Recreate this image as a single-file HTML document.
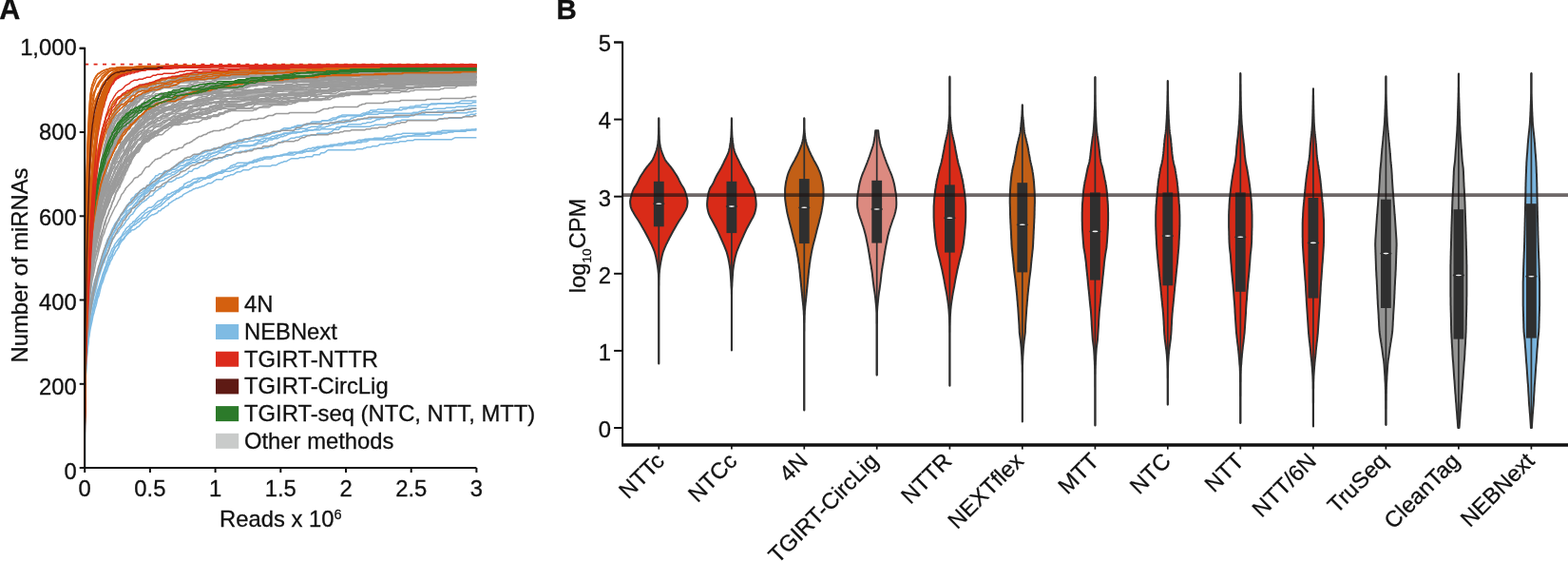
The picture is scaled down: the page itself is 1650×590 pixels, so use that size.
<!DOCTYPE html>
<html lang="en"><head><meta charset="utf-8"><title>Figure</title>
<style>
html,body{margin:0;padding:0;background:#fff;}
body{width:1650px;height:590px;overflow:hidden;}
svg{display:block;}
svg text{font-family:"Liberation Sans", Arial, Helvetica, sans-serif;fill:#111;stroke:#111;stroke-width:0.3px;}
</style></head><body>
<svg width="1650" height="590" viewBox="0 0 1650 590">
<rect width="1650" height="590" fill="#ffffff"/>
<g id="panelA">
<text x="-0.8" y="20.4" font-size="30.5" text-anchor="start" font-weight="bold" >A</text>
<g id="curvesA" fill="none" stroke-linejoin="round"><g stroke="#7fbbe3" stroke-width="1.5">
<path d="M89.2 490.7L89.3 440.7L89.3 435.7L89.4 430.7L89.5 425.7L89.5 420.7L89.6 415.7L89.7 410.7L89.9 405.7L90.1 399.7L90.3 394.7L90.6 389.7L90.8 384.7L91.3 377.7L91.7 372.7L92.3 366.7L92.9 361.7L93.4 356.7L94.2 351.7L94.9 346.7L96.0 341.7L96.9 337.7L98.0 331.7L99.0 328.7L99.9 324.7L100.9 321.7L101.9 317.7L102.8 313.7L103.8 311.7L104.8 307.7L105.7 303.7L106.7 299.7L108.1 296.7L109.6 291.7L110.6 288.7L111.5 286.7L112.5 284.7L113.5 281.7L114.5 278.7L115.4 277.7L115.8 275.7L117.0 273.7L118.2 271.7L118.3 270.7L119.3 268.7L120.3 267.7L121.2 265.7L122.2 263.7L123.2 262.7L123.6 261.7L125.1 259.7L125.1 258.7L126.7 255.7L128.0 253.7L129.0 252.7L130.1 251.7L130.9 250.7L131.9 248.7L132.8 247.7L133.7 246.7L134.8 245.7L135.7 244.7L137.7 243.7L137.7 242.7L139.6 241.7H140.9L142.5 240.7L143.5 239.7L144.3 238.7H145.2L146.8 237.7L147.3 236.7L148.3 235.7L149.3 234.7L151.2 232.7L153.1 231.7L154.6 230.7L156.0 228.7L157.5 227.7L158.9 226.7L160.5 225.7H162.0L163.6 224.7L165.7 223.7L166.9 221.7H168.7L170.3 219.7L172.5 218.7L173.5 217.7L175.4 216.7L177.3 215.7L177.5 213.7H178.6L180.2 212.7L181.4 211.7L183.1 210.7L185.1 209.7L185.4 208.7H187.3L188.9 207.7L189.9 206.7H191.2L192.8 204.7L194.7 203.7L196.7 202.7L198.6 201.7L199.6 200.7H200.9L202.5 199.7L203.4 198.7H204.8L206.4 197.7H208.6L210.2 196.7H211.5L213.1 195.7H214.4L216.0 194.7L218.0 193.7L219.0 192.7H222.2L223.8 191.7L224.7 190.7L226.7 189.7L227.6 188.7H233.8L235.4 186.7L236.8 185.7H238.6L240.2 184.7H241.5L243.1 183.7H245.4L247.0 182.7L247.9 181.7L250.0 180.7H253.1L254.7 179.7L255.7 178.7H261.8L263.4 177.7L265.4 176.7L266.3 175.7H271.5L273.1 174.7H285.0L286.6 173.7H290.8L292.4 172.7L293.4 171.7H294.7L296.3 170.7H297.6L299.2 169.7H301.5L303.1 168.7L305.0 167.7L307.0 166.7H314.1L315.7 165.7H320.8L322.4 164.7H328.6L330.2 162.7H336.3L337.9 160.7H341.2L342.8 159.7L343.7 158.7L345.7 157.7H374.0L375.6 156.7H381.8L383.4 155.7H384.7L386.3 154.7H390.5L392.1 153.7H397.3L398.9 152.7L399.8 151.7H405.0L406.6 150.7H412.7L414.3 149.7H419.5L421.1 148.7H427.2L428.8 147.7H434.9L436.5 146.7H475.6L477.2 145.7L479.2 144.7H501.4"/>
<path d="M89.2 492.1L89.3 438.1L89.3 433.1L89.4 428.1L89.4 423.1L89.5 418.1L89.6 412.1L89.7 407.1L89.9 401.1L90.1 395.1L90.4 390.1L90.7 385.1L90.9 380.1L91.3 375.1L91.6 370.1L92.2 365.1L92.6 360.1L93.3 355.1L94.0 349.1L94.9 343.1L96.0 337.1L96.9 332.1L98.0 327.1L99.0 324.1L99.9 320.1L100.9 317.1L101.9 313.1L102.8 310.1L103.8 306.1L104.8 303.1L105.1 300.1L106.6 297.1L107.7 294.1L108.6 291.1L108.9 289.1L110.6 286.1L111.5 283.1L112.5 280.1L113.5 278.1L114.5 275.1L115.4 273.1L115.8 272.1L117.0 270.1L118.2 268.1L119.3 264.1L120.3 262.1L120.8 260.1L122.2 259.1L123.6 257.1L125.1 255.1L125.1 254.1L126.1 253.1L127.0 251.1L128.0 249.1L129.9 247.1L130.9 246.1L131.9 245.1L133.7 243.1L134.8 242.1L135.7 241.1L137.7 238.1H139.0L140.6 236.1L142.5 233.1L144.4 232.1L145.4 231.1L146.4 230.1L148.3 229.1L149.3 228.1L150.2 227.1L151.2 226.1L153.1 224.1L155.1 223.1L157.0 222.1L158.9 221.1L160.5 220.1L161.9 219.1L162.8 218.1L163.6 217.1L164.8 216.1L166.9 215.1L168.6 214.1L169.6 213.1L170.3 212.1L171.5 210.1L173.5 209.1L175.4 208.1H176.7L178.3 207.1H179.6L181.2 206.1L182.2 205.1L183.1 204.1H184.4L186.0 202.1H187.3L188.9 201.1L189.6 200.1L191.8 198.1L193.8 197.1H195.1L196.7 196.1L197.6 195.1H198.9L200.5 194.1L201.5 193.1L203.3 192.1L205.4 191.1H206.7L208.3 189.1L210.2 188.1L211.2 187.1H216.4L218.0 186.1L218.9 185.1L220.9 184.1H222.2L223.8 183.1H225.1L226.7 182.1H229.0L230.6 181.1H231.8L233.4 179.1H236.7L238.3 178.1L240.2 177.1H242.5L244.1 176.1H245.4L247.0 175.1H251.2L252.8 174.1H255.1L256.7 173.1H258.9L260.5 172.1H261.8L263.4 171.1H265.7L267.3 169.1H273.4L275.0 168.1H276.3L277.9 167.1H285.0L286.6 166.1L288.3 165.1H289.9L291.5 164.1H296.7L298.3 163.1H309.2L310.8 162.1L312.8 161.1H317.9L319.5 160.1H320.8L322.4 159.1H330.5L332.1 158.1L334.0 157.1L336.0 156.1L337.9 155.1H342.1L343.7 154.1H349.9L351.5 153.1H359.5L361.1 152.1H363.4L365.0 151.1H373.1L374.7 150.1H379.8L381.4 149.1H385.6L387.2 148.1L389.2 147.1H416.6L418.2 145.1H421.4L423.0 144.1H427.2L428.8 143.1H451.4L453.0 142.1L455.0 141.1H464.0L465.6 140.1H469.8L471.4 139.1H476.6L478.2 138.1H483.4L485.0 137.1H501.4"/>
<path d="M89.2 490.2L89.3 440.2L89.3 435.2L89.4 430.2L89.4 425.2L89.5 420.2L89.6 415.2L89.7 410.2L89.9 405.2L90.0 400.2L90.2 395.2L90.4 390.2L90.6 385.2L90.8 380.2L91.2 375.2L91.6 370.2L92.0 364.2L92.6 359.2L93.3 353.2L94.0 348.2L94.7 343.2L95.4 338.2L96.6 332.2L97.6 328.2L98.3 323.2L99.6 319.2L100.5 315.2L101.5 313.2L102.6 309.2L103.8 304.2L104.8 301.2L105.7 300.2L107.3 294.2L108.6 289.2L109.6 287.2L110.6 285.2L111.5 281.2L112.5 279.2L113.5 277.2L114.5 276.2L115.4 271.2L116.4 270.2L117.4 268.2L118.2 266.2L119.3 263.2L120.3 262.2L121.2 260.2L123.2 258.2L125.1 257.2L125.1 256.2L126.1 254.2L128.0 252.2L129.9 251.2L130.9 249.2L131.9 248.2L132.8 247.2L133.8 245.2L134.8 244.2L135.7 243.2L136.7 242.2L137.7 240.2L138.6 239.2L139.6 237.2H140.9L142.5 236.2L143.5 235.2L144.3 234.2L146.4 233.2L147.3 232.2L148.3 231.2L149.3 230.2L151.2 229.2H152.5L154.1 228.2L155.1 226.2L156.0 225.2L157.0 224.2L158.9 222.2L159.9 221.2L161.9 220.2H163.2L164.8 219.2L165.7 218.2L166.7 217.2H168.0L169.6 216.2L170.3 215.2L171.5 214.2L172.5 213.2L173.8 212.2L174.4 211.2L175.4 210.2L177.5 209.2L178.3 208.2L180.2 206.2L181.4 205.2L183.1 204.2L184.1 203.2L185.1 202.2L185.4 201.2L187.0 200.2H188.0L189.6 199.2H191.2L192.8 198.2L194.7 197.2H198.0L199.6 196.2L201.5 195.2L202.5 194.2L203.4 193.2L205.4 192.2H206.7L208.3 191.2H209.6L211.2 190.2L213.1 189.2L214.1 188.2H216.4L218.0 187.2H221.2L222.8 186.2L224.7 185.2L225.7 184.2H227.0L228.6 183.2L230.6 182.2H233.8L235.4 181.2L236.8 180.2H242.5L244.1 179.2H245.4L247.0 178.2L248.9 177.2H250.2L251.8 176.2L253.8 175.2H256.0L257.6 174.2H258.9L260.5 172.2L262.5 170.2H264.7L266.3 169.2L267.3 168.2H269.6L271.2 167.2H272.5L274.1 166.2H276.3L277.9 165.2H288.9L290.5 164.2H293.7L295.3 163.2H298.6L300.2 162.2H304.5L306.1 161.2H308.3L309.9 160.2H316.0L317.6 159.2L318.6 158.2H319.9L321.5 157.2H322.8L324.4 156.2H327.6L329.2 155.2H332.4L334.0 154.2H339.2L340.8 153.2H349.9L351.5 152.2H354.7L356.3 151.2H361.5L363.1 150.2H366.3L367.9 149.2H378.9L380.5 148.2L381.9 147.2H386.6L388.2 146.2H406.9L408.5 145.2H419.5L421.1 144.2H422.4L424.0 143.2H433.1L434.7 142.2H436.0L437.6 141.2H446.6L448.2 140.2H459.2L460.8 139.2H472.7L474.3 138.2H490.1L491.7 137.2H495.0L496.6 136.2H499.8L501.4 135.2"/>
<path d="M89.2 492.2L89.3 440.2L89.3 435.2L89.4 430.2L89.4 425.2L89.5 420.2L89.6 415.2L89.6 410.2L89.8 405.2L89.9 399.2L90.1 394.2L90.3 389.2L90.6 384.2L90.8 379.2L91.2 374.2L91.5 368.2L92.0 363.2L92.5 358.2L93.3 352.2L94.2 345.2L95.2 340.2L96.0 335.2L96.9 330.2L97.6 325.2L98.7 320.2L100.0 315.2L101.5 309.2L102.6 305.2L103.8 302.2L104.8 299.2L105.7 296.2L106.7 293.2L108.1 288.2L109.6 284.2L110.6 281.2L111.5 279.2L112.5 275.2L113.5 273.2L113.7 271.2L114.7 269.2L115.8 267.2L117.0 264.2L118.2 261.2L119.3 260.2L120.3 258.2L121.2 256.2L122.2 255.2L123.6 253.2L125.1 251.2L126.1 250.2L127.0 249.2L128.0 248.2L129.0 246.2L129.9 244.2L130.9 243.2L131.9 242.2L131.9 241.2L132.8 240.2L133.7 239.2L135.7 238.2L136.7 236.2L138.6 235.2L139.6 234.2L139.8 233.2L142.0 232.2L143.5 230.2L144.3 229.2L145.4 228.2L146.4 227.2L148.3 225.2L149.3 224.2L151.2 223.2L151.9 222.2L153.1 221.2L154.6 220.2L155.1 219.2L157.0 218.2H159.3L160.9 217.2L161.9 216.2L162.8 215.2L163.6 214.2L165.7 212.2L166.9 211.2H168.0L169.6 210.2L171.5 209.2L172.5 208.2L173.5 207.2L175.4 206.2L176.4 204.2H178.6L180.2 203.2L181.4 202.2H182.5L184.1 201.2L186.0 200.2H187.3L188.9 198.2L190.9 197.2L192.8 196.2L193.8 194.2L194.0 193.2H195.1L196.7 192.2L198.6 191.2H199.9L201.5 190.2L202.5 189.2L204.4 188.2H206.7L208.3 187.2H216.4L218.0 186.2H220.2L221.8 185.2H223.1L224.7 184.2L225.7 183.2L227.6 182.2L229.6 181.2H232.8L234.4 180.2H235.7L237.3 179.2L238.3 178.2L240.2 177.2L241.2 176.2L243.1 174.2H244.4L246.0 173.2H247.3L248.9 172.2L249.9 171.2H266.7L268.3 170.2H270.4L272.0 168.2H276.3L277.9 167.2L278.9 166.2L280.8 165.2H286.0L287.6 164.2H293.7L295.3 163.2H296.7L298.3 162.2H301.5L303.1 161.2L304.1 160.2H314.1L315.7 159.2H324.7L326.3 158.2H328.6L330.2 157.2L332.1 156.2L334.0 155.2H338.2L339.8 154.2H345.0L346.6 153.2L347.6 152.2H354.7L356.3 151.2H361.5L363.1 150.2H371.1L372.7 149.2H374.0L375.6 148.2L377.6 147.2H382.7L384.3 146.2H392.4L394.0 145.2H403.1L404.7 144.2L406.6 143.2H412.7L414.3 142.2H415.6L417.2 141.2H422.4L424.0 140.2H448.5L450.1 139.2H459.2L460.8 138.2H464.0L465.6 137.2H489.2L490.8 136.2H501.4"/>
<path d="M89.2 491.2L89.3 436.2L89.3 431.2L89.3 426.2L89.4 421.2L89.4 416.2L89.5 411.2L89.6 406.2L89.8 400.2L89.9 395.2L90.0 390.2L90.2 384.2L90.5 377.2L90.8 372.2L91.2 366.2L91.5 361.2L92.0 356.2L92.5 350.2L93.3 345.2L93.8 340.2L94.4 335.2L95.2 330.2L96.1 325.2L97.0 320.2L98.0 316.2L99.0 311.2L99.9 308.2L100.9 304.2L101.9 300.2L102.8 296.2L103.8 292.2L104.8 289.2L105.7 286.2L106.7 283.2L107.7 280.2L108.6 277.2L109.6 276.2L110.6 272.2L111.5 270.2L112.5 268.2L113.5 265.2L114.5 263.2L115.4 260.2L116.4 257.2L117.0 255.2L118.2 253.2L118.3 252.2L119.3 251.2L120.3 249.2L121.2 247.2L122.2 246.2L123.6 245.2L124.1 244.2L125.1 243.2L125.1 242.2L126.1 241.2L126.7 240.2L128.0 239.2L128.4 238.2L129.9 237.2L130.9 235.2L131.9 234.2L131.9 233.2L132.8 232.2L133.8 231.2L134.8 230.2L135.7 229.2L135.7 228.2L137.7 226.2L139.6 225.2L140.6 223.2L141.5 222.2L142.5 220.2L144.3 218.2L145.4 217.2L146.4 216.2L148.3 214.2L149.3 213.2L151.2 212.2L151.9 211.2L154.1 210.2L154.6 209.2L156.0 208.2L157.0 207.2L157.5 206.2H159.3L160.9 205.2L161.9 203.2L162.8 202.2L163.8 201.2L165.7 200.2L167.7 198.2H168.7L170.3 196.2H172.2L173.8 194.2L175.4 192.2L176.4 191.2H180.6L182.2 190.2L184.1 189.2L185.1 188.2L185.4 187.2H188.3L189.9 186.2H191.2L192.8 185.2L194.0 184.2L195.7 183.2L197.6 182.2L198.6 180.2H201.8L203.4 178.2L205.4 177.2H207.7L209.3 176.2L210.2 175.2L212.2 174.2H214.4L216.0 173.2L217.0 172.2L218.9 171.2L219.9 170.2H221.2L222.8 169.2L224.7 168.2L225.7 167.2H228.9L230.5 166.2H233.8L235.4 165.2H236.7L238.3 164.2H239.6L241.2 163.2H243.4L245.0 162.2L247.0 161.2L247.9 160.2H251.2L252.8 159.2H257.0L258.6 158.2H261.8L263.4 157.2H265.7L267.3 156.2H277.3L278.9 155.2H282.1L283.7 154.2H286.7L288.3 153.2L289.5 152.2H290.8L292.4 150.2H294.7L296.3 149.2L297.3 148.2H301.5L303.1 147.2L305.0 146.2L306.1 145.2H310.2L311.8 144.2H315.0L316.6 143.2H317.9L319.5 142.2H332.4L334.0 140.2H345.0L346.6 139.2H347.9L349.5 138.2L350.5 137.2L351.5 136.2H356.3L357.9 134.2L360.2 133.2H389.5L391.1 132.2H393.1L394.7 131.2H406.0L407.6 130.2L408.5 129.2H414.7L416.3 128.2L418.2 127.2H421.4L423.0 126.2H460.1L461.7 125.2H466.0L467.6 124.2H485.3L486.9 123.2H488.2L489.8 122.2L491.7 121.2H494.0L495.6 120.2H499.8L501.4 119.2"/>
<path d="M89.2 489.8L89.3 431.8L89.3 426.8L89.4 421.8L89.4 415.8L89.5 409.8L89.6 404.8L89.7 399.8L89.8 394.8L90.0 389.8L90.2 384.8L90.3 379.8L90.5 374.8L90.8 368.8L91.0 363.8L91.3 358.8L91.7 353.8L92.3 348.8L92.8 343.8L93.4 337.8L94.0 331.8L94.9 326.8L95.7 321.8L96.6 315.8L98.0 309.8L99.2 304.8L100.5 299.8L101.5 294.8L102.6 291.8L103.8 287.8L104.8 284.8L105.7 281.8L106.7 278.8L108.1 273.8L108.6 272.8L109.6 270.8L110.6 266.8L111.5 264.8L112.5 260.8L113.5 259.8L114.5 257.8L115.4 255.8L116.4 252.8L117.4 250.8L118.3 247.8L119.3 245.8L120.3 243.8L121.2 242.8L122.2 241.8L122.2 239.8L124.1 237.8L125.1 236.8L126.1 235.8L126.7 233.8L128.0 232.8L128.4 230.8H129.3L130.9 228.8L131.9 227.8L132.8 226.8L133.7 224.8L134.8 223.8L135.7 222.8L136.7 221.8L138.6 219.8L139.6 218.8L141.5 217.8L142.0 216.8L143.5 215.8L144.4 212.8L146.4 211.8L147.3 210.8L148.3 209.8L150.2 208.8L151.2 206.8L152.2 204.8L153.1 203.8L155.1 202.8L156.0 201.8L157.0 200.8L157.5 199.8L158.9 198.8L160.9 197.8L161.9 195.8L163.6 194.8L163.8 193.8L165.7 192.8L166.9 191.8L167.7 190.8H169.0L170.6 189.8H171.9L173.5 188.8L173.8 187.8H174.8L176.4 186.8L178.3 185.8L180.2 184.8L181.4 183.8H182.5L184.1 182.8L185.4 181.8L187.0 180.8L188.0 179.8L188.9 178.8L189.6 177.8L190.9 176.8H192.2L193.8 175.8L194.7 174.8L196.7 173.8L198.6 171.8H200.9L202.5 170.8H211.5L213.1 169.8H214.4L216.0 168.8L217.0 167.8L218.9 166.8L220.9 165.8L221.8 164.8H223.1L224.7 163.8H226.0L227.6 162.8L229.6 161.8L230.5 160.8H235.7L237.3 159.8L239.2 158.8L241.2 157.8H242.5L244.1 156.8L245.0 155.8H250.2L251.8 153.8H262.8L264.4 152.8H265.7L267.3 151.8L269.2 150.8H270.4L272.0 148.8H276.3L277.9 147.8L279.9 146.8L280.0 145.8H291.8L293.4 144.8L295.3 143.8H297.6L299.2 142.8H300.5L302.1 141.8L304.1 140.8H305.4L307.0 139.8L308.9 138.8H317.0L318.6 137.8H319.9L321.5 136.8H336.3L337.9 135.8H351.8L353.4 134.8L354.4 133.8H357.6L359.2 132.8H364.4L366.0 131.8L366.9 130.8H379.8L381.4 129.8H384.7L386.3 128.8H390.5L392.1 127.8H393.1L394.7 126.8L396.9 125.8H399.2L400.8 124.8H403.1L404.7 123.8H413.7L415.3 122.8H418.5L420.1 121.8H434.9L436.5 120.8H465.0L466.6 119.8L467.6 118.8H491.1L492.7 117.8H496.9L498.5 116.8H501.4"/>
<path d="M89.2 491.9L89.3 432.9L89.3 427.9L89.3 422.9L89.4 417.9L89.5 412.9L89.5 406.9L89.7 401.9L89.8 396.9L89.9 391.9L90.0 385.9L90.2 380.9L90.5 374.9L90.7 369.9L91.0 364.9L91.3 358.9L91.7 352.9L92.2 347.9L92.8 341.9L93.3 336.9L94.0 330.9L94.9 325.9L95.7 319.9L96.6 314.9L97.6 309.9L98.7 304.9L99.9 300.9L100.9 296.9L102.1 293.9L103.2 289.9L104.5 285.9L105.7 282.9L106.7 278.9L107.7 275.9L108.6 272.9L109.6 269.9L110.6 266.9L111.5 263.9L112.5 260.9L113.5 258.9L114.5 254.9L115.4 253.9L116.4 250.9L117.4 248.9L118.2 246.9L119.3 245.9L120.3 243.9L121.2 241.9L122.2 239.9L123.2 238.9L124.1 236.9L125.1 235.9L125.1 234.9L126.1 233.9L127.0 231.9L128.0 229.9L129.9 227.9L130.9 226.9L131.9 225.9L132.8 223.9L133.7 221.9L135.7 220.9L136.7 219.9L137.7 218.9H139.0L140.6 215.9L142.5 213.9L143.5 212.9L144.4 211.9L145.4 209.9L146.4 208.9L148.3 206.9L149.3 205.9L150.2 204.9L151.9 203.9L153.1 202.9L154.1 201.9L154.6 200.9L157.0 199.9L158.0 197.9L158.9 196.9L160.5 195.9L161.9 194.9L162.8 193.9L163.6 192.9L165.7 190.9L167.7 188.9L168.6 187.9L170.3 186.9L171.5 185.9L173.5 184.9L174.4 183.9H175.9L177.5 182.9H179.6L181.2 180.9H183.5L185.1 179.9L186.0 178.9H190.2L191.8 177.9L192.8 176.9L194.0 175.9L195.7 174.9L197.6 173.9L199.6 172.9L201.5 171.9L203.4 170.9H204.8L206.4 169.9L208.3 168.9L210.2 167.9H211.5L213.1 166.9L214.1 165.9H217.3L218.9 164.9L219.9 162.9H221.2L222.8 161.9L223.8 160.9H226.0L227.6 159.9H228.9L230.5 158.9H231.8L233.4 157.9H235.2L236.8 156.9L237.3 155.9L239.2 154.9H245.4L247.0 153.9H248.3L249.9 152.9H268.6L270.2 151.9L272.1 150.9H275.4L277.0 149.9L277.9 148.9H281.2L282.8 146.9H286.7L288.3 145.9L288.6 144.9H289.9L291.5 143.9L292.4 142.9L293.4 141.9H296.7L298.3 139.9H312.1L313.7 138.9H317.9L319.5 137.9H323.7L325.3 136.9H329.5L331.1 135.9H332.4L334.0 134.9H335.3L336.9 133.9H342.1L343.7 132.9H345.0L346.6 131.9H347.9L349.5 130.9H350.8L352.4 129.9H356.3L357.9 128.9H364.4L366.0 127.9H369.2L370.8 126.9H375.0L376.6 125.9H378.9L380.5 124.9H390.5L392.1 123.9H405.0L406.6 122.9H430.1L431.7 121.9L432.7 120.9L434.7 119.9H445.6L447.2 118.9L448.2 117.9H459.2L460.8 116.9H474.6L476.2 115.9H487.2L488.8 114.9H492.1L493.7 113.9H501.4"/>
<path d="M89.2 492.3L89.3 429.3L89.3 424.3L89.4 419.3L89.4 413.3L89.5 407.3L89.6 402.3L89.7 397.3L89.8 392.3L89.9 387.3L90.1 382.3L90.4 376.3L90.6 370.3L90.8 365.3L91.2 360.3L91.5 355.3L91.8 350.3L92.2 345.3L92.8 340.3L93.4 333.3L94.2 328.3L94.9 322.3L96.0 316.3L96.9 311.3L98.0 306.3L99.0 302.3L99.9 298.3L100.9 295.3L101.9 292.3L102.8 289.3L103.8 286.3L104.8 283.3L105.7 279.3L106.7 275.3L107.7 272.3L108.6 268.3L109.6 265.3L110.6 263.3L111.5 261.3L112.5 257.3L113.5 255.3L114.5 252.3L115.4 249.3L115.8 248.3L117.0 245.3L118.2 243.3L119.3 240.3L120.3 238.3L121.2 237.3L122.2 235.3L123.2 233.3L124.1 231.3L125.1 229.3L126.1 228.3L126.7 227.3L128.0 226.3L129.9 224.3L131.9 222.3L132.8 220.3L133.8 218.3L134.8 217.3L135.7 216.3L137.7 215.3L138.6 214.3L139.8 213.3L140.6 212.3L141.5 211.3L142.5 210.3L144.3 208.3L145.4 207.3L146.8 206.3L148.3 205.3L149.3 204.3L151.2 203.3L151.9 202.3L153.1 200.3L154.6 199.3L156.0 198.3L157.0 196.3L158.0 195.3H158.9L160.5 194.3L162.8 193.3L163.6 192.3L164.8 191.3L166.7 190.3L167.7 188.3L168.6 187.3L170.3 186.3L172.5 185.3L173.5 184.3L174.4 183.3L176.4 181.3L177.5 180.3L179.3 179.3L181.4 178.3H183.5L185.1 177.3L187.0 176.3L188.0 175.3L189.6 174.3H192.2L193.8 173.3H195.1L196.7 171.3H198.0L199.6 170.3L201.5 169.3L202.5 168.3H205.7L207.3 167.3L208.3 166.3H209.6L211.2 164.3H214.4L216.0 163.3H217.3L218.9 161.3H223.1L224.7 160.3H227.0L228.6 159.3L230.5 158.3H232.8L234.4 156.3H236.7L238.3 155.3L240.2 154.3L241.2 153.3L243.1 152.3L244.1 151.3H249.2L250.8 150.3H254.1L255.7 149.3H259.9L261.5 148.3H266.7L268.3 147.3H273.4L275.0 146.3H276.3L277.9 145.3H283.1L284.7 144.3L286.6 143.3H288.9L290.5 142.3H293.7L295.3 141.3H298.6L300.2 140.3H303.4L305.0 139.3H307.3L308.9 137.3L309.9 136.3H314.1L315.7 135.3H322.8L324.4 134.3H325.7L327.3 133.3H334.2L335.8 132.3H337.3L338.9 131.3L340.8 130.3H345.0L346.6 129.3H350.8L352.4 128.3H354.7L356.3 127.3H358.6L360.2 126.3H367.3L368.9 125.3L369.6 124.3H371.1L372.7 123.3H374.0L375.6 122.3H380.8L382.4 121.3H383.7L385.3 120.3H397.3L398.9 119.3H433.1L434.7 118.3H439.8L441.4 117.3H442.7L444.3 116.3H446.6L448.2 115.3H454.3L455.9 114.3H467.9L469.5 113.3H478.5L480.1 112.3H491.1L492.7 111.3H501.4"/>
<path d="M89.2 490.8L89.3 426.8L89.3 421.8L89.4 415.8L89.4 410.8L89.5 404.8L89.6 399.8L89.7 394.8L89.9 388.8L90.0 383.8L90.1 378.8L90.3 373.8L90.7 366.8L90.9 360.8L91.4 355.8L91.6 350.8L92.2 344.8L92.6 339.8L93.3 334.8L93.8 329.8L94.4 324.8L95.2 319.8L96.1 314.8L96.9 309.8L98.0 303.8L99.2 298.8L100.5 294.8L100.9 292.8L101.9 289.8L102.8 287.8L103.8 283.8L105.1 279.8L106.6 274.8L107.7 270.8L108.6 266.8L109.6 263.8L110.6 261.8L111.5 257.8L112.5 254.8L113.5 252.8L114.5 250.8L115.4 247.8L116.4 245.8L117.0 243.8L118.2 240.8L119.3 238.8L120.3 236.8L120.8 235.8L122.2 233.8L123.2 232.8L123.6 231.8L125.1 229.8L126.1 228.8L127.0 226.8L128.0 225.8L129.9 223.8L130.1 222.8L131.9 220.8L132.8 219.8L133.7 217.8L134.8 215.8L135.7 213.8L136.7 212.8L137.7 211.8L137.7 209.8L138.6 208.8L139.6 207.8L141.5 206.8L142.5 204.8L143.5 203.8L145.4 202.8L146.4 201.8L147.3 200.8L148.3 199.8H149.6L151.2 197.8H152.5L154.1 196.8L155.1 194.8H155.9L157.5 193.8L158.0 191.8L159.9 189.8L160.5 188.8L161.9 187.8L162.8 186.8L163.8 184.8H165.1L166.7 183.8L167.7 182.8H170.9L172.5 180.8L173.5 179.8H176.7L178.3 178.8L180.2 177.8L181.2 176.8H182.5L184.1 174.8H185.4L187.0 173.8L188.0 172.8L189.6 171.8L190.9 170.8L191.8 169.8L193.8 168.8H198.0L199.6 167.8L200.5 166.8H203.8L205.4 165.8L206.4 164.8L208.3 163.8L209.3 162.8L211.2 161.8H212.5L214.1 160.8L216.0 159.8H217.3L218.9 158.8H221.2L222.8 157.8H226.0L227.6 156.8L228.6 155.8L230.5 154.8H232.8L234.4 153.8L236.3 152.8L236.8 151.8H241.6L243.2 150.8H245.4L247.0 149.8H248.4L250.0 148.8H251.2L252.8 147.8H255.1L256.7 146.8L258.6 145.8H262.7L264.3 144.8H268.6L270.2 143.8H277.3L278.9 142.8H280.2L281.8 141.8H283.1L284.7 140.8L286.6 139.8H288.9L290.5 138.8L292.4 137.8H293.7L295.3 136.8L297.0 135.8L299.2 134.8H305.4L307.0 133.8H308.3L309.9 132.8H311.2L312.8 131.8H322.8L324.4 130.8H325.7L327.3 129.8H331.5L333.1 128.8H336.3L337.9 127.8L338.9 126.8H348.9L350.5 125.8H352.8L354.4 124.8L355.3 123.8H356.6L358.2 122.8H363.4L365.0 121.8H380.8L382.4 120.8L384.3 119.8H386.6L388.2 118.8H390.5L392.1 117.8H403.1L404.7 116.8H413.7L415.3 115.8H422.4L424.0 114.8H427.2L428.8 113.8H434.9L436.5 112.8H449.5L451.1 110.8L453.0 109.8H459.2L460.8 108.8H495.9L497.5 107.8H501.4"/>
<path d="M89.2 491.9L89.3 429.9L89.3 424.9L89.3 419.9L89.4 414.9L89.4 409.9L89.5 403.9L89.6 397.9L89.7 392.9L89.9 386.9L90.1 381.9L90.2 376.9L90.4 371.9L90.7 366.9L90.9 361.9L91.2 356.9L91.5 350.9L92.1 345.9L92.5 340.9L93.1 334.9L93.6 329.9L94.4 323.9L95.2 318.9L96.1 312.9L96.9 307.9L98.0 301.9L99.2 296.9L99.6 294.9L100.5 292.9L101.5 289.9L102.6 285.9L103.8 280.9L104.8 277.9L105.7 274.9L107.3 269.9L108.6 265.9L109.6 262.9L110.6 259.9L111.5 256.9L112.5 253.9L113.5 250.9L115.4 248.9L116.4 245.9L117.4 244.9L118.2 242.9L119.3 239.9L120.3 238.9L120.8 237.9L122.2 236.9L122.2 235.9L123.2 234.9L123.6 232.9L125.1 230.9L126.1 228.9L127.0 225.9L128.0 224.9L128.4 223.9L129.9 222.9L130.9 220.9L131.9 219.9L131.9 218.9L133.7 216.9L133.8 215.9L134.8 214.9L135.7 213.9L136.7 212.9L138.6 211.9L139.6 210.9L141.5 208.9L142.0 207.9L143.5 206.9L144.4 205.9L145.4 204.9L146.4 203.9L148.3 202.9L150.2 201.9L151.2 200.9L152.2 199.9L153.1 198.9L154.6 197.9L156.0 196.9L157.0 195.9L158.0 194.9L159.9 192.9L160.9 191.9L161.9 190.9L163.6 189.9L163.8 188.9L164.8 187.9L166.9 186.9H168.0L169.6 184.9L171.5 183.9L172.5 182.9L173.5 181.9L173.8 180.9L175.4 179.9H178.6L180.2 178.9L181.2 177.9L182.2 175.9L184.1 174.9L185.1 173.9L185.4 172.9H188.0L189.6 171.9L191.8 170.9H193.1L194.7 168.9L196.7 167.9H199.9L201.5 166.9L202.5 165.9L203.4 164.9L204.4 163.9H206.7L208.3 161.9H209.6L211.2 160.9H213.5L215.1 159.9L216.0 158.9H217.3L218.9 157.9H221.2L222.8 156.9H224.1L225.7 155.9H233.8L235.4 154.9L237.3 153.9H238.6L240.2 152.9L242.1 151.9L243.2 150.9H245.4L247.0 149.9L248.9 148.9L249.9 147.9L251.8 146.9H255.1L256.7 145.9H260.9L262.5 144.9H264.7L266.3 143.9H267.6L269.2 142.9L271.2 141.9H278.3L279.9 140.9H285.0L286.6 139.9H288.9L290.5 138.9H291.8L293.4 137.9H295.4L297.0 136.9H299.6L301.2 135.9H302.5L304.1 134.9H306.3L307.9 133.9H312.1L313.7 132.9H316.0L317.6 131.9L319.5 130.9H321.8L323.4 129.9H325.7L327.3 128.9L328.2 127.9H338.2L339.8 126.9H345.0L346.6 125.9L348.6 124.9L350.5 123.9H353.7L355.3 122.9L357.3 121.9H358.6L360.2 120.9H378.9L380.5 119.9L382.4 118.9H384.7L386.3 117.9H387.6L389.2 116.9L390.2 115.9H396.3L397.9 114.9H419.5L421.1 112.9H430.1L431.7 111.9H436.0L437.6 110.9H442.7L444.3 109.9H452.4L454.0 108.9H477.6L479.2 107.9H482.4L484.0 106.9L485.9 105.9H501.4"/>
</g>
<g stroke="#9b9b9b" stroke-width="1.5">
<path d="M89.2 491.5L89.3 428.5L89.3 423.5L89.4 417.5L89.4 412.5L89.5 407.5L89.6 402.5L89.6 397.5L89.8 391.5L89.9 386.5L90.0 380.5L90.1 375.5L90.3 370.5L90.5 365.5L90.7 360.5L91.0 355.5L91.4 349.5L91.7 344.5L92.1 339.5L92.6 333.5L93.1 327.5L93.6 321.5L94.2 315.5L94.9 310.5L95.7 304.5L96.3 299.5L97.0 294.5L98.0 290.5L99.0 285.5L100.0 280.5L100.9 275.5L101.9 272.5L102.8 268.5L103.8 264.5L104.8 260.5L105.7 257.5L106.7 253.5L107.7 249.5L108.6 247.5L109.6 245.5L110.6 241.5L111.5 239.5L112.5 236.5L113.5 234.5L114.5 232.5L115.4 229.5L116.4 227.5L117.4 225.5L118.3 223.5L119.3 221.5L120.3 219.5L121.2 217.5L122.2 216.5L123.2 214.5L123.6 213.5L125.1 210.5L126.1 209.5L126.7 207.5L128.0 204.5L129.9 202.5L130.9 200.5L131.9 199.5L131.9 198.5L132.8 197.5L133.7 196.5L134.8 195.5L135.7 194.5L136.7 193.5L137.7 192.5L139.6 190.5L140.6 188.5L141.5 187.5L143.5 186.5H144.8L146.4 184.5L148.3 183.5L149.3 182.5L150.2 180.5L151.2 179.5L152.2 177.5L154.1 175.5H155.9L157.5 174.5L158.0 173.5L159.9 171.5L160.5 170.5L161.9 169.5L162.8 168.5L163.6 167.5H165.1L166.7 166.5H168.0L169.6 165.5L171.5 163.5L173.8 162.5L174.4 161.5H176.7L178.3 160.5L179.3 159.5L180.2 158.5L182.2 157.5H185.4L187.0 156.5L188.9 155.5H191.2L192.8 154.5L193.8 152.5L195.7 151.5L197.6 150.5H198.9L200.5 149.5L202.5 148.5L203.3 147.5L205.4 146.5L206.4 145.5L208.3 144.5L209.3 143.5H211.5L213.1 142.5L215.1 141.5H216.4L218.0 140.5L219.0 139.5H220.2L221.8 138.5H223.1L224.7 137.5H230.9L232.5 136.5H235.2L236.8 135.5L238.3 134.5H241.6L243.2 133.5L245.0 132.5L246.0 131.5L247.9 130.5H249.2L250.8 129.5L252.8 127.5H255.1L256.7 126.5H262.7L264.3 125.5H270.5L272.1 124.5H277.3L278.9 123.5L280.8 122.5L282.8 121.5H287.0L288.6 120.5L290.5 119.5H303.4L305.0 118.5H332.4L334.0 117.5H335.3L336.9 116.5L338.9 115.5L340.8 114.5H345.0L346.6 113.5H349.9L351.5 112.5H376.0L377.6 111.5L378.5 110.5H379.8L381.4 109.5H383.7L385.3 108.5H403.1L404.7 107.5H407.9L409.5 106.5H420.5L422.1 105.5H447.6L449.2 104.5H463.0L464.6 103.5H489.2L490.8 102.5H495.9L497.5 101.5H501.4"/>
<path d="M89.2 491.2L89.3 428.2L89.3 422.2L89.4 417.2L89.4 411.2L89.5 405.2L89.6 400.2L89.7 395.2L89.8 389.2L90.0 384.2L90.2 378.2L90.5 373.2L90.7 368.2L91.0 363.2L91.2 358.2L91.7 352.2L92.2 347.2L92.6 342.2L93.1 337.2L93.8 332.2L94.4 326.2L95.2 321.2L96.0 315.2L96.9 310.2L98.0 305.2L99.0 300.2L99.9 296.2L100.9 291.2L101.9 288.2L102.8 284.2L103.8 280.2L104.8 278.2L105.7 275.2L107.3 269.2L108.6 265.2L109.6 262.2L110.6 260.2L111.5 257.2L112.5 256.2L113.5 252.2L114.5 251.2L114.7 249.2L115.8 248.2L117.0 246.2L117.4 245.2L118.3 243.2L119.3 241.2L120.3 240.2L121.2 237.2L122.2 235.2L123.2 233.2L124.1 232.2L125.1 231.2L125.1 230.2L126.1 228.2L127.0 226.2L128.0 225.2L129.9 222.2L130.9 220.2L131.9 219.2L132.8 217.2L133.7 216.2L134.8 215.2L135.7 214.2L137.7 213.2L138.6 212.2L139.6 210.2L140.6 209.2L141.5 208.2L142.0 207.2L144.3 205.2L144.4 204.2L146.4 202.2L148.3 200.2L149.3 199.2L151.2 198.2H152.5L154.1 196.2L154.6 195.2H155.9L157.5 194.2L158.9 193.2L159.9 192.2L161.9 191.2L163.6 190.2L164.8 189.2L165.7 188.2L167.7 187.2L168.6 186.2L169.6 185.2L171.5 183.2L172.5 182.2L173.8 181.2L175.4 180.2L176.4 179.2H177.7L179.3 178.2L180.2 177.2L182.2 176.2L183.1 175.2L185.1 174.2L186.0 173.2L187.0 172.2L188.0 171.2L189.9 170.2L191.8 169.2L193.8 167.2L194.7 166.2H196.0L197.6 165.2H199.9L201.5 164.2L202.5 163.2L204.4 162.2H209.6L211.2 161.2L213.1 159.2H214.4L216.0 158.2H222.2L223.8 157.2L224.7 156.2H228.0L229.6 155.2H231.8L233.4 154.2L234.4 153.2L236.3 152.2H237.6L239.2 151.2H240.5L242.1 150.2H244.4L246.0 149.2H248.3L249.9 148.2H255.1L256.7 147.2L258.6 146.2H262.8L264.4 145.2L266.3 144.2L268.3 143.2H271.5L273.1 142.2H276.3L277.9 141.2H279.2L280.8 140.2H284.1L285.7 139.2L287.6 138.2H294.7L296.3 137.2H309.2L310.8 136.2L311.8 134.2H316.0L317.6 133.2L318.6 132.2L320.5 131.2L322.4 130.2H346.0L347.6 129.2H352.8L354.4 128.2H362.4L364.0 127.2H370.2L371.8 126.2H375.0L376.6 125.2H381.8L383.4 124.2H386.6L388.2 123.2H412.7L414.3 122.2L416.3 121.2H436.0L437.6 120.2H439.8L441.4 119.2H442.7L444.3 118.2H476.6L478.2 117.2H479.5L481.1 116.2H488.2L489.8 115.2H495.0L496.6 114.2H501.4"/>
<path d="M89.2 491.8L89.3 434.8L89.3 429.8L89.4 424.8L89.4 419.8L89.5 414.8L89.5 409.8L89.6 404.8L89.7 399.8L89.9 394.8L90.1 387.8L90.4 382.8L90.6 376.8L90.8 371.8L91.2 366.8L91.5 361.8L92.0 355.8L92.5 349.8L93.3 343.8L93.8 338.8L94.4 333.8L95.2 328.8L96.0 323.8L96.9 317.8L98.0 312.8L99.0 306.8L99.9 303.8L100.9 299.8L101.9 294.8L102.8 290.8L103.8 287.8L104.8 285.8L105.7 282.8L107.3 278.8L107.7 277.8L108.6 274.8L109.6 272.8L110.6 270.8L111.5 268.8L112.5 266.8L113.5 264.8L114.5 261.8L115.4 259.8L116.4 256.8L117.4 254.8L118.2 251.8L119.3 249.8L120.3 248.8L120.8 247.8L122.2 244.8L123.2 243.8L124.1 240.8L125.1 239.8L126.1 238.8L127.0 237.8L128.0 235.8L129.0 233.8L129.9 231.8L131.9 230.8L131.9 229.8L132.8 228.8L133.8 226.8L135.7 224.8L136.7 223.8L137.7 222.8L138.6 219.8L139.6 218.8H140.4L142.0 217.8L142.5 216.8L144.3 215.8L145.4 214.8L146.4 213.8L147.3 211.8H148.6L150.2 209.8L151.9 208.8L152.2 206.8H153.0L154.6 205.8L156.0 204.8L157.0 203.8L157.5 202.8L158.9 200.8H161.2L162.8 199.8L163.8 197.8L164.8 196.8H167.0L168.6 195.8L170.3 194.8L170.6 193.8L172.5 192.8L174.4 191.8L176.4 190.8L177.3 189.8L178.3 188.8L180.2 187.8L181.2 186.8L183.1 185.8L185.1 184.8L187.0 183.8L188.9 182.8L189.9 180.8H191.2L192.8 179.8H194.1L195.7 178.8L196.7 177.8L198.6 176.8L200.5 174.8L202.5 173.8H204.8L206.4 172.8L208.3 171.8H209.6L211.2 170.8H213.5L215.1 168.8H221.2L222.8 167.8L224.7 166.8H228.0L229.6 165.8H233.8L235.4 164.8L237.3 163.8L238.3 162.8H243.4L245.0 161.8L247.0 160.8H253.1L254.7 159.8H258.9L260.5 158.8H264.7L266.3 157.8L267.3 156.8H269.6L271.2 155.8H275.4L277.0 153.8H283.1L284.7 152.8H287.9L289.5 151.8L291.5 150.8L293.4 149.8H297.6L299.2 148.8H309.2L310.8 147.8H313.1L314.7 146.8L315.7 145.8L317.6 144.8H319.9L321.5 143.8L323.4 142.8H325.7L327.3 141.8H345.0L346.6 140.8H348.9L350.5 139.8H356.3L357.9 138.8H360.5L362.1 137.8H368.0L369.6 136.8H383.7L385.3 135.8H389.5L391.1 134.8H397.3L398.9 133.8H406.0L407.6 132.8L408.5 131.8H410.8L412.4 130.8H415.6L417.2 129.8H420.4L422.0 128.8H426.3L427.9 127.8L428.8 126.8H459.2L460.8 125.8L462.7 124.8H470.8L472.4 123.8H486.3L487.9 122.8H496.9L498.5 121.8H501.4"/>
</g>
<g stroke="#9b9b9b" stroke-width="1.5">
<path d="M89.2 491.2L89.3 421.2L89.3 415.2L89.3 410.2L89.4 403.2L89.4 398.2L89.5 393.2L89.5 388.2L89.6 382.2L89.7 377.2L89.8 372.2L89.9 367.2L90.0 362.2L90.2 357.2L90.4 351.2L90.6 346.2L90.8 339.2L91.1 334.2L91.3 328.2L91.6 323.2L92.1 317.2L92.3 312.2L92.8 307.2L93.4 302.2L94.2 297.2L94.9 292.2L95.4 287.2L96.6 283.2L97.2 278.2L98.0 273.2L98.7 266.2L99.9 260.2L100.9 256.2L101.9 251.2L102.8 245.2L103.8 241.2L104.8 238.2L105.7 234.2L106.7 230.2L107.7 228.2L108.6 223.2L109.6 221.2L110.6 217.2L111.5 214.2L112.5 212.2L113.5 208.2L114.5 205.2L115.4 201.2L116.4 199.2L117.0 197.2L118.2 193.2L119.3 192.2L120.3 189.2L121.2 187.2L122.2 186.2L122.2 185.2L123.2 183.2L123.6 182.2L125.1 179.2L126.1 177.2L128.0 176.2L129.0 173.2L129.9 171.2L130.9 169.2L131.9 167.2L131.9 166.2L132.8 165.2L133.7 164.2L134.8 162.2L135.7 159.2L137.7 158.2L138.6 157.2L139.6 155.2L139.8 154.2L141.5 151.2L143.5 149.2L144.4 147.2L146.4 146.2L147.3 145.2L148.3 144.2L149.3 143.2L149.3 142.2L151.2 140.2L152.2 139.2L154.1 138.2L155.1 137.2L156.0 136.2L157.5 134.2H158.3L159.9 133.2H161.2L162.8 132.2L163.6 131.2L165.7 130.2H167.0L168.6 129.2H169.9L171.5 127.2L173.5 126.2H177.7L179.3 125.2L180.2 123.2L182.2 122.2H186.4L188.0 121.2H194.1L195.7 120.2H198.9L200.5 118.2H201.7L203.3 117.2L205.4 116.2H206.7L208.3 115.2L210.2 114.2H220.2L221.8 113.2H223.1L224.7 111.2H228.9L230.5 110.2L230.6 109.2H233.8L235.4 108.2L236.3 107.2H241.6L243.2 106.2H256.0L257.6 105.2H261.8L263.4 104.2H265.7L267.3 102.2H270.5L272.1 101.2H279.2L280.8 100.2H312.1L313.7 98.2H326.6L328.2 97.2L329.2 96.2H332.4L334.0 95.2L335.8 94.2L336.9 93.2L337.9 92.2H344.1L345.7 91.2H388.6L390.2 90.2H426.3L427.9 89.2H434.0L435.6 88.2H453.4L455.0 87.2L456.9 86.2H461.1L462.7 85.2H501.4"/>
<path d="M89.2 490.7L89.3 424.7L89.3 419.7L89.4 413.7L89.4 407.7L89.5 402.7L89.5 397.7L89.6 391.7L89.7 386.7L89.8 381.7L89.9 376.7L90.0 371.7L90.1 366.7L90.3 358.7L90.5 351.7L90.9 345.7L91.2 340.7L91.5 333.7L91.8 328.7L92.2 323.7L92.6 317.7L93.1 311.7L93.4 305.7L94.2 298.7L94.9 292.7L95.7 285.7L96.3 279.7L96.9 274.7L97.6 268.7L98.0 263.7L98.7 257.7L99.6 251.7L100.0 246.7L100.9 240.7L101.9 234.7L103.2 229.7L104.5 223.7L105.7 218.7L107.3 213.7L108.6 208.7L109.6 204.7L110.6 201.7L111.5 197.7L112.5 194.7L113.5 190.7L114.5 187.7L115.4 185.7L116.4 182.7L117.4 180.7L118.2 178.7L119.3 176.7L120.3 175.7L120.8 173.7L122.2 171.7L123.2 170.7L125.1 169.7L126.1 168.7L127.0 165.7L128.4 163.7L129.9 162.7L130.9 160.7L131.9 157.7L132.8 156.7L133.7 154.7L134.8 153.7L135.7 151.7L136.7 150.7L137.7 148.7L138.6 147.7L139.6 145.7L141.5 144.7L142.5 142.7L143.5 141.7L144.3 140.7L145.4 139.7L146.4 138.7L148.3 137.7L150.2 136.7L151.2 135.7L152.2 133.7H153.5L155.1 131.7H157.3L158.9 130.7L160.5 129.7L162.8 128.7H164.1L165.7 126.7H168.0L169.6 125.7L170.3 123.7L171.5 122.7H175.9L177.5 121.7L179.3 119.7H183.5L185.1 118.7L187.0 117.7L188.9 116.7H190.2L191.8 115.7L192.8 114.7L193.8 113.7H197.0L198.6 112.7L199.6 111.7H204.8L206.4 110.7H208.6L210.2 109.7H212.5L214.1 108.7H216.4L218.0 107.7H228.0L229.6 106.7H254.1L255.7 105.7H271.5L273.1 104.7L275.0 103.7H278.3L279.9 102.7H282.1L283.7 101.7H294.7L296.3 100.7L297.0 99.7H302.5L304.1 97.7H319.9L321.5 96.7H326.6L328.2 95.7L330.2 94.7H345.0L346.6 93.7H367.3L368.9 92.7H388.6L390.2 91.7H393.4L395.0 90.7H397.3L398.9 89.7H405.0L406.6 88.7H441.8L443.4 87.7H465.0L466.6 86.7H474.6L476.2 85.7H501.4"/>
<path d="M89.2 491.6L89.3 415.6L89.3 410.6L89.3 404.6L89.4 399.6L89.4 393.6L89.5 387.6L89.5 382.6L89.6 376.6L89.7 371.6L89.7 365.6L89.8 360.6L90.0 355.6L90.0 350.6L90.2 343.6L90.4 338.6L90.6 333.6L90.8 328.6L90.9 323.6L91.1 318.6L91.2 313.6L91.5 305.6L92.0 299.6L92.3 293.6L92.6 287.6L93.1 281.6L93.4 275.6L93.8 269.6L94.4 262.6L94.9 257.6L95.4 252.6L96.0 245.6L96.6 240.6L97.2 233.6L98.0 228.6L99.0 222.6L99.6 217.6L100.5 213.6L101.5 208.6L102.6 202.6L103.8 196.6L104.8 193.6L105.7 187.6L106.6 182.6L107.7 177.6L108.6 173.6L109.6 169.6L110.6 165.6L111.5 162.6L112.5 159.6L113.5 157.6L114.5 153.6L115.4 151.6L116.4 149.6L117.0 147.6L118.2 145.6L119.3 142.6L120.3 140.6L121.2 138.6L122.2 137.6L123.2 134.6L124.1 131.6L125.1 130.6L126.1 128.6L128.0 126.6L129.0 124.6L129.9 123.6L131.9 122.6L132.8 121.6L133.7 119.6L134.8 118.6L135.7 117.6L136.7 116.6L137.7 115.6L138.6 114.6L139.6 112.6L139.8 111.6L142.0 109.6L143.5 107.6L144.3 106.6L146.4 105.6L147.3 103.6L149.3 102.6H150.3L151.9 101.6H154.4L156.0 100.6H158.9L160.5 98.6L162.8 96.6L163.6 95.6L165.7 94.6L167.7 93.6L169.6 92.6H186.4L188.0 91.6L189.9 90.6H196.0L197.6 89.6L199.6 88.6H202.8L204.4 87.6H206.7L208.3 86.6H214.4L216.0 85.6H222.2L223.8 84.6H227.0L228.6 83.6H232.8L234.4 82.6H242.5L244.1 81.6L245.0 80.6H296.7L298.3 79.6H376.0L377.6 78.6H384.7L386.3 77.6H489.2L490.8 76.6H501.4"/>
<path d="M89.2 491.9L89.3 425.9L89.3 419.9L89.3 414.9L89.4 409.9L89.4 404.9L89.5 399.9L89.6 394.9L89.7 388.9L89.7 383.9L89.9 378.9L90.0 372.9L90.2 365.9L90.5 359.9L90.7 354.9L90.9 349.9L91.2 344.9L91.4 339.9L91.7 334.9L92.1 329.9L92.5 323.9L92.9 317.9L93.3 312.9L93.8 306.9L94.4 300.9L95.2 294.9L96.0 287.9L96.6 282.9L97.6 275.9L98.3 270.9L99.2 265.9L99.9 260.9L100.9 257.9L101.9 251.9L102.8 248.9L103.8 244.9L104.8 241.9L105.7 238.9L106.7 233.9L107.7 231.9L108.6 228.9L109.6 225.9L110.6 222.9L111.5 219.9L112.5 216.9L113.5 213.9L114.5 211.9L115.4 209.9L116.4 207.9L117.0 205.9L118.2 203.9L118.3 202.9L119.3 201.9L120.3 200.9L121.2 198.9L122.2 197.9L123.2 195.9L124.1 194.9L125.1 192.9L125.1 191.9L126.1 189.9L128.0 185.9L129.9 182.9L130.9 181.9L131.9 179.9L132.8 176.9L133.7 175.9L134.8 172.9L135.7 171.9L135.7 170.9L136.7 168.9L138.6 166.9L139.6 165.9L140.6 164.9L141.5 163.9L142.5 159.9L143.5 157.9L144.3 156.9L145.4 154.9L147.3 153.9L148.3 152.9L149.3 151.9L150.2 150.9L151.9 149.9L154.1 147.9L156.0 146.9H157.3L158.9 145.9L159.9 144.9H161.2L162.8 142.9H164.1L165.7 141.9L166.9 139.9L167.7 137.9L168.6 136.9L170.6 135.9L172.5 134.9H174.8L176.4 133.9L177.5 132.9L178.3 131.9H179.8L181.4 130.9H185.4L187.0 129.9L188.0 128.9L189.6 127.9H192.2L193.8 125.9H196.0L197.6 124.9H205.7L207.3 123.9H216.4L218.0 122.9L219.0 121.9H228.0L229.6 120.9L230.5 119.9H235.2L236.8 118.9L237.3 117.9H239.6L241.2 116.9H242.5L244.1 114.9H248.3L249.9 113.9H271.5L273.1 112.9H283.1L284.7 111.9L286.6 110.9L288.3 109.9H295.4L297.0 108.9H299.6L301.2 107.9L303.1 106.9H307.3L308.9 105.9L310.8 104.9H328.6L330.2 103.9H342.1L343.7 101.9H346.0L347.6 100.9H354.7L356.3 98.9H357.6L359.2 97.9H363.4L365.0 96.9H379.8L381.4 95.9H386.6L388.2 94.9H393.1L394.7 93.9H420.4L422.0 91.9H434.9L436.5 90.9H439.8L441.4 89.9H493.0L494.6 88.9L495.6 87.9L497.5 86.9H501.4"/>
<path d="M89.2 492.2L89.3 416.2L89.3 411.2L89.3 406.2L89.4 401.2L89.4 396.2L89.5 391.2L89.5 386.2L89.6 381.2L89.7 376.2L89.8 371.2L89.8 365.2L90.0 359.2L90.1 353.2L90.3 348.2L90.5 341.2L90.8 335.2L91.0 330.2L91.2 324.2L91.5 318.2L91.8 313.2L92.2 308.2L92.6 303.2L92.9 298.2L93.4 292.2L94.0 286.2L94.4 281.2L95.4 274.2L96.0 269.2L96.6 263.2L97.6 256.2L98.3 251.2L99.6 244.2L100.5 240.2L101.5 234.2L102.6 230.2L103.8 225.2L104.8 222.2L105.7 217.2L106.7 213.2L108.1 209.2L108.6 206.2L109.6 204.2L110.6 200.2L111.5 197.2L112.5 194.2L113.5 189.2L114.5 186.2L115.4 183.2L116.4 179.2L117.4 177.2L118.2 173.2L119.3 171.2L120.3 169.2L121.2 167.2L122.2 164.2L123.2 162.2L125.1 160.2L126.1 158.2L126.7 156.2L128.0 155.2L128.4 151.2L129.9 149.2L130.1 148.2L131.9 147.2L131.9 146.2L132.8 144.2L133.7 143.2L134.8 141.2L135.7 140.2L137.7 138.2L138.6 137.2L139.6 135.2L141.5 134.2L143.5 133.2L144.4 131.2L145.4 128.2L147.3 127.2L148.3 126.2L149.3 125.2L150.2 124.2H151.5L153.1 123.2L154.1 122.2L155.1 120.2L157.0 118.2H162.0L163.6 117.2L163.8 115.2L165.7 114.2L166.7 113.2L167.7 112.2L168.6 111.2L170.3 110.2L172.5 109.2L173.5 108.2H175.7L177.3 106.2L178.3 104.2H185.4L187.0 103.2L188.0 102.2L189.9 101.2L191.8 100.2L193.8 99.2H197.0L198.6 98.2L199.6 97.2L201.5 96.2L202.5 95.2H209.6L211.2 94.2L213.6 93.2H222.2L223.8 92.2H241.5L243.1 91.2H249.2L250.8 90.2L252.8 89.2H254.1L255.7 88.2H262.7L264.3 87.2L265.4 86.2H289.9L291.5 85.2H294.7L296.3 84.2H298.6L300.2 83.2H305.4L307.0 82.2H312.1L313.7 81.2H323.7L325.3 80.2H330.5L332.1 79.2H356.6L358.2 78.2H366.3L367.9 77.2H414.7L416.3 76.2H501.4"/>
<path d="M89.2 488.8L89.3 419.8L89.3 414.8L89.3 409.8L89.4 403.8L89.4 398.8L89.5 393.8L89.5 388.8L89.6 383.8L89.7 378.8L89.7 373.8L89.8 368.8L89.9 362.8L90.0 357.8L90.1 351.8L90.3 346.8L90.4 341.8L90.6 334.8L90.8 329.8L90.9 324.8L91.2 319.8L91.3 314.8L91.6 308.8L92.0 302.8L92.2 297.8L92.5 292.8L92.9 287.8L93.3 282.8L93.8 275.8L94.4 268.8L94.9 263.8L95.4 258.8L96.0 252.8L96.9 244.8L97.6 239.8L98.3 232.8L99.2 227.8L99.9 222.8L100.9 215.8L101.9 209.8L102.6 203.8L103.8 198.8L104.8 193.8L105.7 189.8L107.3 184.8L108.6 179.8L109.6 175.8L110.6 172.8L111.5 171.8L112.5 168.8L113.5 165.8L114.5 162.8L114.7 161.8L115.8 160.8L117.0 155.8L118.2 152.8L119.3 150.8L120.3 148.8L121.2 146.8L122.2 145.8L122.2 144.8L123.2 141.8L123.6 140.8L125.1 138.8L126.1 136.8L127.0 135.8L128.0 133.8L129.0 132.8L129.9 129.8L130.9 128.8L131.9 127.8L131.9 126.8L132.8 125.8L133.7 123.8L134.8 121.8L135.7 120.8L136.7 118.8L137.7 117.8L139.6 115.8L141.5 113.8L142.0 112.8H144.8L146.4 110.8H147.7L149.3 108.8L151.2 107.8L151.9 106.8L153.1 104.8H154.4L156.0 102.8H157.3L158.9 101.8L159.9 100.8H161.2L162.8 99.8L163.8 98.8H168.0L169.6 97.8H197.0L198.6 96.8H201.8L203.4 95.8L204.4 94.8H234.7L236.3 93.8H237.6L239.2 92.8H243.4L245.0 91.8H250.2L251.8 90.8H256.0L257.6 89.8L259.6 88.8H262.7L264.3 87.8H267.6L269.2 86.8H271.5L273.1 85.8H278.3L279.9 84.8L281.8 83.8H287.0L288.6 82.8H356.3L357.9 81.8H368.0L369.6 80.8L370.8 79.8H424.3L425.9 78.8H461.1L462.7 77.8H470.8L472.4 76.8H501.4"/>
<path d="M89.2 491.5L89.3 423.5L89.3 418.5L89.3 413.5L89.4 408.5L89.4 402.5L89.5 396.5L89.6 391.5L89.7 384.5L89.8 379.5L89.9 372.5L90.0 367.5L90.1 362.5L90.3 356.5L90.5 351.5L90.8 345.5L91.1 340.5L91.3 335.5L91.5 330.5L92.0 324.5L92.2 319.5L92.6 314.5L92.9 309.5L93.3 304.5L93.8 296.5L94.4 291.5L94.9 286.5L95.4 281.5L96.3 275.5L97.2 270.5L98.3 267.5L99.2 262.5L100.5 257.5L101.5 254.5L102.6 250.5L103.8 248.5L104.5 243.5L104.8 240.5L105.7 238.5L106.7 234.5L107.7 232.5L108.6 229.5L109.6 225.5L110.6 221.5L111.5 218.5L112.5 214.5L114.5 212.5L115.4 210.5L116.4 208.5L117.0 206.5L118.2 203.5L119.3 202.5L120.3 200.5L121.2 198.5L122.2 196.5L123.2 194.5L124.1 191.5L125.1 190.5L126.1 187.5L127.0 186.5L128.0 182.5L128.4 181.5L129.9 179.5L130.9 177.5L131.9 175.5L132.8 173.5L133.7 170.5L134.8 169.5L135.7 168.5L135.7 167.5L136.7 165.5L138.6 163.5L139.6 162.5L139.8 161.5L142.0 159.5L143.5 157.5L144.4 155.5H145.7L147.3 154.5L148.3 153.5L150.2 151.5L151.2 150.5L153.1 149.5L154.6 148.5L155.1 147.5L156.0 146.5L157.5 145.5H158.3L159.9 144.5H161.2L162.8 143.5L163.8 140.5L165.7 139.5L167.7 137.5H168.7L170.3 136.5L170.6 134.5H172.2L173.8 132.5H174.8L176.4 131.5L177.3 129.5L179.3 128.5L181.2 127.5L183.1 126.5L185.4 125.5L186.0 124.5L188.0 123.5L189.6 122.5L190.9 121.5H192.4L194.0 120.5H197.0L198.6 118.5L200.5 116.5H206.7L208.3 115.5H215.4L217.0 114.5H218.3L219.9 113.5L220.9 111.5H225.1L226.7 110.5L228.6 108.5H232.8L234.4 107.5H246.3L247.9 106.5H257.0L258.6 105.5H261.8L263.4 104.5L264.4 103.5H270.4L272.0 102.5L274.1 100.5H285.0L286.6 99.5H295.7L297.3 98.5H323.9L325.5 97.5H327.6L329.2 96.5H330.5L332.1 95.5H351.8L353.4 94.5H357.6L359.2 93.5H363.4L365.0 92.5H375.0L376.6 91.5H380.3L381.9 89.5H414.7L416.3 88.5L418.2 87.5H468.8L470.4 86.5H501.4"/>
<path d="M89.2 491.2L89.3 423.2L89.3 418.2L89.3 413.2L89.4 408.2L89.4 403.2L89.5 398.2L89.6 393.2L89.7 388.2L89.8 383.2L89.9 378.2L90.1 372.2L90.2 367.2L90.4 361.2L90.7 356.2L90.9 351.2L91.2 345.2L91.5 339.2L91.8 333.2L92.3 327.2L92.8 321.2L93.4 316.2L94.2 310.2L94.9 304.2L95.7 299.2L96.6 292.2L97.6 286.2L98.3 280.2L99.0 275.2L99.9 271.2L100.9 268.2L101.9 265.2L102.8 263.2L103.8 259.2L104.8 256.2L105.7 252.2L106.7 248.2L107.7 245.2L108.9 240.2L109.6 237.2L110.6 236.2L111.5 231.2L111.6 229.2L113.5 226.2L114.5 224.2L114.7 221.2L115.8 220.2L117.0 217.2L118.2 213.2L119.3 211.2L120.3 207.2L121.2 205.2L122.2 201.2L123.6 199.2L124.1 198.2L125.1 196.2L125.1 195.2L126.1 193.2L127.0 191.2L128.0 189.2L129.0 185.2L129.9 184.2L130.9 182.2L131.9 179.2L132.8 178.2L133.7 175.2L134.8 174.2L135.7 172.2L137.7 170.2L137.7 169.2L138.6 167.2L139.6 166.2L141.5 163.2L142.0 162.2L143.5 161.2L145.4 160.2L146.4 159.2L147.3 157.2L148.3 155.2L149.3 154.2L150.2 151.2H151.5L153.1 149.2L154.1 147.2L155.1 146.2L156.0 144.2H157.3L158.9 142.2L159.9 141.2L160.5 140.2H162.2L163.8 139.2L164.8 138.2H166.1L167.7 137.2H168.7L170.3 136.2L171.5 135.2L172.5 134.2H173.8L175.4 133.2L176.4 132.2L177.3 131.2H179.6L181.2 130.2L183.1 127.2L185.1 126.2H192.4L194.0 125.2L195.7 124.2H204.8L206.4 123.2L208.3 122.2L208.3 121.2L210.2 120.2H214.4L216.0 119.2H220.2L221.8 117.2H225.1L226.7 116.2H228.0L229.6 115.2H232.8L234.4 114.2H248.4L250.0 113.2H251.2L252.8 112.2H255.1L256.7 110.2H258.0L259.6 109.2H296.7L298.3 108.2H303.4L305.0 107.2H313.1L314.7 106.2H322.8L324.4 105.2L325.5 104.2H329.5L331.1 103.2L333.1 102.2H334.4L336.0 101.2H346.0L347.6 100.2H356.6L358.2 99.2H369.2L370.8 98.2H404.0L405.6 97.2L407.6 96.2H410.8L412.4 95.2H427.2L428.8 94.2L429.8 93.2H435.0L436.6 92.2L437.6 91.2H441.8L443.4 90.2H485.3L486.9 89.2H488.2L489.8 88.2H501.4"/>
<path d="M89.2 492.2L89.3 423.2L89.3 418.2L89.3 413.2L89.3 407.2L89.4 402.2L89.5 396.2L89.6 391.2L89.6 386.2L89.7 381.2L89.8 374.2L89.9 368.2L90.1 362.2L90.2 357.2L90.4 352.2L90.5 347.2L90.8 340.2L91.0 335.2L91.2 330.2L91.5 323.2L91.8 318.2L92.1 313.2L92.5 308.2L92.9 303.2L93.6 297.2L94.2 292.2L95.2 286.2L96.0 281.2L96.9 275.2L98.0 270.2L98.7 265.2L99.9 260.2L100.9 255.2L101.9 251.2L102.8 246.2L103.8 243.2L104.8 238.2L105.7 235.2L106.7 230.2L107.7 227.2L108.6 222.2L109.6 218.2L110.6 216.2L111.5 213.2L112.5 212.2L113.5 208.2L114.5 206.2L115.4 201.2L117.0 200.2L118.2 199.2L119.3 196.2L120.3 195.2L121.2 192.2L122.2 190.2L122.2 189.2L123.2 187.2L123.6 186.2L125.1 184.2L126.1 183.2L126.7 181.2L128.0 179.2L129.0 177.2L129.9 174.2L130.9 171.2L131.9 170.2L132.8 168.2L133.8 166.2L135.7 164.2L137.7 161.2L138.6 158.2L139.6 156.2L141.5 154.2L142.5 152.2L143.5 151.2L144.3 149.2L145.4 147.2L147.3 145.2L148.3 144.2L149.3 143.2L150.2 142.2L151.2 141.2L153.1 140.2L155.1 138.2H155.9L157.5 137.2H160.3L161.9 135.2L163.6 134.2L164.8 133.2H168.0L169.6 132.2L170.6 131.2L171.5 130.2L173.5 129.2L173.8 128.2H174.8L176.4 127.2L177.5 125.2H178.6L180.2 124.2L181.2 123.2L182.2 122.2L184.1 121.2L185.1 120.2L187.0 119.2H194.1L195.7 118.2H201.7L203.3 116.2H205.7L207.3 114.2H208.6L210.2 113.2L211.2 112.2L213.1 111.2H214.4L216.0 110.2L218.0 109.2H219.3L220.9 108.2H229.9L231.5 107.2H232.8L234.4 106.2H237.6L239.2 104.2H288.9L290.5 103.2H315.0L316.6 102.2L317.6 101.2H318.9L320.5 100.2L321.5 99.2H326.6L328.2 97.2H333.4L335.0 96.2H341.2L342.8 95.2H353.7L355.3 93.2H374.0L375.6 92.2H379.8L381.4 91.2H405.0L406.6 90.2L407.6 89.2H408.9L410.5 88.2H442.7L444.3 87.2H475.6L477.2 85.2H501.4"/>
<path d="M89.2 492.5L89.3 418.5L89.3 413.5L89.3 407.5L89.4 402.5L89.4 397.5L89.5 390.5L89.5 385.5L89.6 379.5L89.7 374.5L89.7 369.5L89.9 363.5L90.0 357.5L90.1 351.5L90.3 346.5L90.5 341.5L90.7 336.5L90.8 331.5L91.1 325.5L91.4 320.5L91.7 314.5L92.1 308.5L92.5 303.5L92.8 298.5L93.1 293.5L93.4 287.5L93.8 281.5L94.2 276.5L94.7 269.5L95.2 264.5L95.7 258.5L96.3 253.5L96.9 248.5L97.6 241.5L98.3 236.5L99.2 231.5L100.5 225.5L101.5 220.5L102.6 214.5L103.2 210.5L104.5 207.5L105.7 200.5L106.7 195.5L107.7 191.5L108.6 186.5L109.6 182.5L110.6 179.5L111.5 176.5L112.5 172.5L113.5 166.5L114.5 164.5L115.4 162.5L116.4 160.5L117.0 157.5L118.2 155.5L118.3 154.5L119.3 153.5L120.3 152.5L120.8 149.5L122.2 147.5L123.2 145.5L123.6 144.5H124.5L126.1 142.5L126.7 141.5L128.0 140.5L129.0 138.5L129.9 137.5L130.9 135.5L131.9 134.5L131.9 133.5H134.1L135.7 132.5L135.7 130.5L137.7 129.5L139.6 127.5L141.5 126.5L142.5 125.5L144.3 124.5H145.2L146.8 122.5L148.3 121.5L149.3 120.5L150.2 119.5L151.2 118.5H152.5L154.1 117.5L154.6 115.5H157.3L158.9 114.5L159.9 113.5L160.9 112.5L162.8 111.5L163.6 109.5H166.1L167.7 108.5H169.9L171.5 106.5H175.7L177.3 105.5L179.3 104.5H182.5L184.1 103.5H186.4L188.0 102.5L189.6 100.5L189.9 99.5H192.4L194.0 98.5H199.9L201.5 97.5L203.3 96.5H206.7L208.3 95.5H211.5L213.1 94.5H223.1L224.7 93.5H227.0L228.6 92.5L230.5 90.5H239.6L241.2 89.5H265.7L267.3 88.5H277.3L278.9 87.5H289.9L291.5 86.5H295.7L297.3 85.5H336.3L337.9 83.5H373.1L374.7 82.5H396.3L397.9 81.5H414.7L416.3 80.5H420.4L422.0 79.5H482.5L484.1 78.5H491.1L492.7 77.5H501.4"/>
<path d="M89.2 491.6L89.3 419.6L89.3 414.6L89.3 409.6L89.4 404.6L89.4 399.6L89.5 394.6L89.5 387.6L89.6 381.6L89.7 374.6L89.8 367.6L89.9 361.6L90.1 355.6L90.2 350.6L90.3 345.6L90.6 338.6L90.8 333.6L91.0 328.6L91.2 321.6L91.5 316.6L92.0 309.6L92.2 304.6L92.6 299.6L92.9 294.6L93.4 287.6L94.0 281.6L94.4 276.6L95.2 270.6L95.7 264.6L96.6 258.6L97.2 253.6L98.0 248.6L98.7 243.6L99.9 239.6L100.9 233.6L101.9 229.6L102.8 226.6L103.8 220.6L104.8 217.6L105.7 212.6L107.3 207.6L107.7 204.6L108.6 203.6L109.6 199.6L110.6 195.6L111.5 191.6L112.5 188.6L113.5 185.6L114.5 182.6L115.4 179.6L116.4 177.6L117.4 174.6L118.2 172.6L119.3 170.6L120.3 169.6L121.2 166.6L122.2 165.6L123.2 163.6L123.6 161.6H124.5L126.1 159.6L127.0 157.6L128.0 156.6L129.0 154.6L129.9 153.6L130.9 151.6L131.9 150.6L132.8 147.6L134.8 146.6L135.7 145.6L136.7 143.6L137.7 142.6L139.6 140.6L139.8 139.6L141.5 137.6L142.0 136.6L143.5 134.6L144.3 132.6H146.7L148.3 131.6L149.3 130.6L150.2 129.6L151.2 128.6L152.2 126.6L154.1 125.6H158.3L159.9 124.6L160.9 123.6L161.9 121.6H165.1L166.7 119.6H168.7L170.3 118.6L172.5 117.6L174.4 116.6L175.4 115.6H181.5L183.1 113.6L185.1 112.6L187.0 111.6H188.0L189.6 110.6H192.4L194.0 109.6L194.7 108.6H196.0L197.6 107.6H198.9L200.5 106.6H203.8L205.4 105.6L207.3 104.6H212.0L213.6 103.6H220.2L221.8 102.6H225.1L226.7 101.6H232.8L234.4 100.6H244.4L246.0 98.6H250.2L251.8 97.6H253.1L254.7 95.6H259.9L261.5 94.6H266.7L268.3 93.6H286.0L287.6 92.6L288.6 91.6H297.6L299.2 90.6L300.2 89.6H356.3L357.9 88.6H360.5L362.1 87.6H384.7L386.3 86.6H390.5L392.1 85.6H397.3L398.9 84.6H400.2L401.8 83.6H430.1L431.7 82.6H436.9L438.5 81.6H463.0L464.6 80.6H474.6L476.2 79.6H496.9L498.5 78.6H501.4"/>
<path d="M89.2 492.2L89.3 425.2L89.3 420.2L89.3 415.2L89.4 409.2L89.4 404.2L89.5 399.2L89.6 394.2L89.7 389.2L89.8 383.2L89.9 377.2L90.0 372.2L90.2 366.2L90.4 361.2L90.6 356.2L90.8 351.2L91.0 345.2L91.2 340.2L91.5 335.2L91.7 329.2L92.1 324.2L92.5 318.2L92.9 313.2L93.3 307.2L93.8 302.2L94.2 297.2L94.7 292.2L95.2 286.2L96.0 281.2L96.9 276.2L98.0 270.2L99.0 266.2L99.9 263.2L100.9 260.2L101.9 255.2L102.8 251.2L103.8 248.2L104.8 244.2L105.8 241.2L107.3 234.2L108.6 229.2L109.6 227.2L110.6 225.2L111.5 221.2L112.5 218.2L113.5 216.2L114.5 213.2L115.4 211.2L115.8 209.2L117.0 207.2L118.2 204.2L119.3 203.2L120.3 201.2L121.2 198.2L122.2 196.2L123.2 194.2L123.6 193.2L125.1 190.2L125.1 189.2L126.7 188.2L127.0 186.2L128.0 184.2L129.9 181.2L130.9 178.2L131.9 176.2L132.8 175.2L134.8 173.2L135.7 172.2L136.7 170.2L137.7 168.2L138.6 167.2L139.6 165.2L140.6 163.2L141.5 162.2L142.5 161.2L143.5 160.2L144.3 159.2L146.4 157.2L147.3 156.2L148.3 154.2L149.3 153.2L150.2 152.2L151.2 151.2L151.9 150.2L154.1 149.2H155.4L157.0 148.2L157.5 147.2L158.9 146.2L159.9 144.2L161.9 143.2L163.6 140.2L164.8 139.2L166.7 138.2L168.6 137.2L169.6 136.2L171.5 135.2L173.8 134.2L175.4 133.2L177.5 132.2H179.6L181.2 131.2H182.5L184.1 129.2L185.1 128.2H186.4L188.0 126.2H190.2L191.8 125.2H195.1L196.7 124.2L198.6 123.2L199.6 122.2H201.7L203.3 121.2H204.8L206.4 120.2L207.3 119.2H217.4L219.0 118.2L219.9 117.2L220.9 116.2L221.8 115.2H223.1L224.7 114.2H226.0L227.6 113.2H229.9L231.5 112.2L233.4 111.2L235.4 110.2H255.4L257.0 109.2H258.0L259.6 108.2H263.8L265.4 107.2H269.6L271.2 106.2H295.4L297.0 105.2L297.3 104.2H304.5L306.1 103.2H308.3L309.9 102.2L310.8 101.2H314.0L315.6 100.2H326.6L328.2 99.2H338.2L339.8 98.2H353.7L355.3 97.2L357.3 96.2L358.2 95.2H361.5L363.1 94.2H364.4L366.0 93.2H381.8L383.4 92.2H393.1L394.7 91.2H413.7L415.3 90.2H417.6L419.2 89.2H434.0L435.6 88.2H486.3L487.9 87.2H490.1L491.7 86.2H501.4"/>
<path d="M89.2 491.0L89.3 417.0L89.3 411.0L89.3 406.0L89.4 401.0L89.4 396.0L89.5 391.0L89.6 385.0L89.7 380.0L89.8 375.0L89.8 370.0L90.0 365.0L90.1 359.0L90.3 354.0L90.5 348.0L90.8 343.0L91.1 338.0L91.3 332.0L91.6 326.0L92.0 320.0L92.3 315.0L92.9 307.0L93.4 300.0L94.0 294.0L94.4 289.0L94.9 283.0L95.7 276.0L96.3 271.0L96.9 265.0L98.0 258.0L99.0 251.0L99.9 247.0L100.9 241.0L101.9 236.0L102.8 229.0L103.8 226.0L104.8 221.0L105.7 215.0L106.7 212.0L107.7 207.0L108.6 203.0L109.6 200.0L110.6 196.0L111.5 192.0L112.5 188.0L113.5 184.0L114.5 183.0L115.4 180.0L115.8 179.0L117.0 176.0L118.2 173.0L119.3 170.0L120.3 168.0L121.2 165.0L122.2 164.0L123.2 162.0L123.6 160.0L125.1 158.0L125.1 157.0L126.1 155.0L126.7 154.0L128.0 151.0L129.0 150.0L129.9 148.0L131.9 145.0L133.7 143.0H136.1L137.7 142.0L139.8 141.0L140.6 140.0L141.5 139.0L142.0 138.0H144.8L146.4 136.0L148.3 135.0L149.3 134.0H150.3L151.9 133.0L154.1 132.0L155.1 130.0L157.0 129.0L158.9 128.0H160.3L161.9 127.0L163.8 126.0L165.7 125.0L166.7 124.0H168.0L169.6 123.0L171.5 122.0H172.8L174.4 121.0H175.9L177.5 119.0H179.6L181.2 118.0L181.4 117.0H187.3L188.9 116.0L189.6 115.0H193.1L194.7 114.0H199.9L201.5 112.0L202.5 111.0H203.8L205.4 110.0H206.7L208.3 109.0H212.5L214.1 108.0H216.4L218.0 107.0L219.9 106.0L221.8 104.0H250.2L251.8 103.0H262.8L264.4 102.0H266.7L268.3 101.0H270.5L272.1 100.0H278.3L279.9 99.0H286.0L287.6 98.0L288.6 97.0H289.9L291.5 96.0H309.2L310.8 95.0H312.1L313.7 94.0L315.7 93.0H318.9L320.5 92.0H323.7L325.3 91.0H335.3L336.9 90.0H344.1L345.7 89.0L346.6 88.0H348.9L350.5 87.0H359.5L361.1 86.0H368.2L369.8 85.0H373.1L374.7 84.0H378.9L380.5 83.0H431.1L432.7 82.0H473.7L475.3 81.0H501.4"/>
<path d="M89.2 492.5L89.3 418.5L89.3 413.5L89.3 408.5L89.4 403.5L89.4 398.5L89.4 393.5L89.5 387.5L89.6 381.5L89.7 376.5L89.7 371.5L89.8 366.5L89.9 361.5L90.0 356.5L90.1 351.5L90.3 346.5L90.4 341.5L90.6 336.5L90.8 329.5L91.0 323.5L91.2 318.5L91.5 313.5L91.7 308.5L92.1 302.5L92.5 296.5L92.9 289.5L93.4 284.5L94.0 279.5L94.9 272.5L95.7 266.5L96.3 261.5L97.0 256.5L98.0 249.5L99.0 242.5L99.9 235.5L100.9 230.5L101.5 225.5L102.6 220.5L103.2 215.5L104.5 211.5L104.8 209.5L105.7 205.5L106.7 199.5L107.7 194.5L108.6 191.5L109.6 187.5L110.6 182.5L111.5 177.5L112.5 174.5L113.5 170.5L114.5 166.5L115.4 163.5L116.4 162.5L117.4 161.5L118.2 158.5L119.3 155.5L120.3 153.5L120.8 152.5L122.2 149.5L123.6 148.5L124.1 147.5L125.1 145.5L126.7 144.5L127.0 142.5L128.0 140.5L129.0 136.5L129.9 135.5L130.9 134.5L131.9 132.5L132.8 131.5L133.7 130.5L134.8 129.5L135.7 127.5L136.7 126.5L137.7 125.5L138.6 123.5L139.6 121.5L141.5 120.5L142.5 117.5L144.4 116.5L145.4 115.5L146.4 114.5L147.3 113.5L148.3 112.5L149.3 110.5H150.3L151.9 108.5H155.4L157.0 107.5L158.9 106.5H160.3L161.9 105.5L163.6 104.5L165.7 103.5H167.0L168.6 101.5L170.6 100.5L172.5 99.5H173.8L175.4 98.5L177.3 97.5L177.5 96.5H182.5L184.1 95.5L185.1 94.5H188.3L189.9 93.5H210.6L212.2 92.5H217.3L218.9 91.5H220.2L221.8 90.5H225.1L226.7 89.5H260.9L262.5 88.5L263.4 87.5H277.3L278.9 86.5H289.9L291.5 85.5H295.4L297.0 84.5H306.3L307.9 83.5H310.2L311.8 82.5L312.8 81.5H340.2L341.8 80.5H349.9L351.5 79.5H352.8L354.4 78.5H379.8L381.4 77.5H405.0L406.6 76.5H452.4L454.0 75.5H475.6L477.2 74.5H501.4"/>
<path d="M89.2 490.7L89.3 422.7L89.3 416.7L89.3 411.7L89.4 405.7L89.4 398.7L89.5 393.7L89.6 388.7L89.7 382.7L89.7 377.7L89.8 372.7L89.9 366.7L90.0 361.7L90.2 355.7L90.4 349.7L90.6 344.7L90.8 338.7L91.0 332.7L91.2 327.7L91.5 321.7L91.8 315.7L92.3 310.7L92.8 304.7L93.3 299.7L94.0 292.7L94.9 286.7L95.4 281.7L96.3 275.7L96.9 270.7L97.6 264.7L98.3 258.7L98.7 253.7L99.9 247.7L100.9 241.7L101.9 234.7L102.8 229.7L103.8 225.7L105.1 222.7L106.6 217.7L107.3 212.7L108.6 208.7L109.6 206.7L110.6 204.7L111.5 202.7L112.5 199.7L113.5 196.7L114.5 194.7L115.4 191.7L116.4 189.7L117.4 187.7L118.3 185.7L119.3 183.7L120.3 181.7L121.2 178.7L122.2 177.7L122.2 176.7L123.2 175.7L124.1 173.7L125.1 170.7L126.7 169.7L128.0 167.7L129.0 165.7L129.9 164.7L130.9 161.7L131.9 159.7L132.8 157.7L133.7 155.7L134.8 153.7L135.7 151.7L136.7 149.7L138.6 147.7L139.6 146.7L140.6 142.7L141.5 140.7L142.5 139.7L143.5 137.7L144.3 136.7L145.4 133.7L147.3 132.7L148.3 130.7L149.3 129.7L150.2 128.7L151.2 126.7L152.2 124.7L153.1 123.7L154.1 121.7L156.0 120.7L157.0 118.7L158.9 117.7H160.3L161.9 115.7H184.4L186.0 114.7H187.3L188.9 112.7L189.9 111.7L191.8 110.7L192.8 108.7H197.0L198.6 106.7H201.7L203.3 105.7H223.1L224.7 104.7L225.7 103.7H231.8L233.4 102.7L234.4 100.7H241.5L243.1 99.7H248.4L250.0 98.7H257.0L258.6 97.7L259.6 96.7L261.5 95.7H263.8L265.4 94.7H269.6L271.2 93.7H276.3L277.9 92.7H298.6L300.2 91.7L302.1 90.7H304.4L306.0 89.7H311.2L312.8 88.7H357.6L359.2 87.7H372.1L373.7 86.7H375.0L376.6 85.7H402.1L403.7 84.7H429.2L430.8 83.7H434.9L436.5 82.7H443.7L445.3 81.7H501.4"/>
<path d="M89.2 491.9L89.3 419.9L89.3 413.9L89.4 407.9L89.4 402.9L89.4 397.9L89.5 392.9L89.5 387.9L89.6 382.9L89.7 376.9L89.8 371.9L89.9 366.9L90.0 361.9L90.1 356.9L90.3 351.9L90.4 346.9L90.7 341.9L91.0 336.9L91.2 330.9L91.6 324.9L92.1 319.9L92.3 313.9L92.8 306.9L93.3 299.9L93.6 294.9L94.0 288.9L94.4 283.9L94.9 278.9L95.4 271.9L96.0 264.9L96.6 258.9L97.2 252.9L98.0 246.9L98.7 240.9L99.6 231.9L100.5 225.9L101.5 220.9L102.6 214.9L103.8 206.9L104.8 201.9L105.7 196.9L106.7 192.9L107.7 187.9L108.6 183.9L109.6 178.9L110.6 172.9L111.5 168.9L112.5 165.9L113.5 163.9L114.5 160.9L115.4 156.9L116.4 153.9L117.0 151.9L118.2 148.9L119.3 146.9L120.3 145.9L121.2 143.9L122.2 140.9L123.6 139.9L124.1 138.9L125.1 137.9L125.1 136.9L126.1 135.9L128.0 134.9L129.0 133.9H130.3L131.9 131.9L132.8 129.9L133.7 128.9L135.7 127.9L136.7 126.9L137.7 125.9L139.6 124.9L139.8 123.9L141.5 121.9L142.0 120.9L143.5 119.9L144.3 117.9L146.4 116.9L148.3 115.9L149.3 114.9L151.2 113.9L152.2 112.9H153.5L155.1 111.9H158.9L160.5 110.9L161.9 108.9H166.1L167.7 107.9H169.0L170.6 106.9H171.9L173.5 105.9L173.8 104.9H177.7L179.3 103.9H181.5L183.1 102.9L184.1 101.9L186.0 100.9L187.0 99.9H188.0L189.6 98.9L190.9 97.9L192.8 96.9L194.7 95.9H196.0L197.6 94.9L198.6 93.9H203.8L205.4 92.9H214.4L216.0 91.9H227.0L228.6 90.9H235.7L237.3 89.9H239.6L241.2 88.9H243.4L245.0 87.9H250.2L251.8 85.9H297.6L299.2 84.9H302.5L304.1 83.9H312.1L313.7 82.9H334.2L335.8 81.9H337.3L338.9 80.9H345.0L346.6 79.9H350.8L352.4 78.9H454.3L455.9 77.9H501.4"/>
<path d="M89.2 489.6L89.3 413.6L89.3 408.6L89.3 403.6L89.4 398.6L89.4 393.6L89.5 388.6L89.5 383.6L89.6 377.6L89.6 372.6L89.7 365.6L89.8 360.6L89.8 355.6L89.9 349.6L90.0 344.6L90.2 339.6L90.4 334.6L90.6 328.6L90.8 323.6L91.0 317.6L91.2 312.6L91.4 306.6L91.7 300.6L92.0 295.6L92.3 288.6L92.8 280.6L93.3 275.6L93.6 270.6L94.0 264.6L94.4 259.6L94.9 253.6L95.4 248.6L96.0 242.6L96.6 235.6L97.2 229.6L98.0 222.6L98.7 216.6L99.6 209.6L100.5 204.6L101.5 197.6L102.6 191.6L103.8 184.6L104.8 179.6L105.7 173.6L106.7 168.6L107.7 163.6L108.6 158.6L109.6 153.6L110.6 150.6L111.5 147.6L112.5 144.6L113.5 139.6L114.5 135.6L115.4 134.6L116.4 131.6L117.0 129.6L118.2 128.6L118.3 126.6L119.3 125.6L120.3 122.6L121.2 119.6L122.2 117.6L123.2 115.6L123.6 114.6L125.1 111.6L126.7 109.6L128.0 106.6L128.4 105.6L129.9 103.6L130.9 101.6L131.9 100.6H134.1L135.7 99.6L136.7 98.6L137.7 97.6L138.6 96.6L139.8 95.6L140.6 94.6L142.0 93.6H142.8L144.4 92.6L146.4 91.6L146.8 90.6H147.7L149.3 89.6L150.2 88.6H153.0L154.6 87.6H167.0L168.6 86.6H179.8L181.4 85.6H185.4L187.0 84.6H188.3L189.9 83.6H192.4L194.0 82.6H204.8L206.4 81.6H212.0L213.6 80.6H234.7L236.3 79.6L237.3 78.6H259.9L261.5 77.6H303.4L305.0 76.6H320.8L322.4 75.6H345.0L346.6 74.6H365.3L366.9 73.6H375.0L376.6 72.6H488.2L489.8 71.6H501.4"/>
<path d="M89.2 491.9L89.3 420.9L89.3 415.9L89.3 409.9L89.4 404.9L89.4 397.9L89.5 391.9L89.6 386.9L89.6 380.9L89.7 375.9L89.8 369.9L90.0 364.9L90.1 358.9L90.2 352.9L90.4 346.9L90.6 339.9L90.8 334.9L91.1 328.9L91.3 321.9L91.6 315.9L91.8 310.9L92.2 304.9L92.6 299.9L92.9 294.9L93.4 287.9L93.8 282.9L94.4 276.9L95.2 269.9L96.0 262.9L96.9 256.9L97.6 249.9L98.3 243.9L99.2 237.9L99.9 232.9L100.5 226.9L101.5 219.9L102.6 212.9L103.8 206.9L104.8 199.9L105.7 195.9L106.7 190.9L107.7 187.9L108.6 182.9L109.6 177.9L110.6 173.9L111.5 170.9L112.5 164.9L113.5 161.9L114.5 159.9L115.4 155.9L116.4 152.9L117.4 149.9L118.3 147.9L119.3 143.9L119.5 142.9L120.8 141.9L121.2 140.9L122.2 138.9L123.2 136.9L124.1 134.9L125.1 133.9L126.1 130.9L127.0 128.9L128.0 127.9L129.0 124.9L129.9 122.9L131.9 120.9L131.9 119.9L132.8 118.9L133.7 117.9L134.8 115.9L135.7 114.9L136.7 112.9L137.7 109.9H139.0L140.6 108.9L141.5 107.9L142.0 106.9L143.5 104.9L144.3 103.9L145.4 102.9L146.8 101.9L147.3 100.9L149.3 99.9L150.2 98.9L151.9 96.9L153.1 94.9H154.4L156.0 93.9L157.0 92.9H160.3L161.9 91.9L163.6 90.9H166.1L167.7 89.9H169.0L170.6 88.9L172.5 87.9H173.8L175.4 86.9L177.3 85.9L179.3 84.9L181.2 83.9H183.5L185.1 82.9H188.3L189.9 81.9H192.2L193.8 80.9L195.7 79.9H197.0L198.6 78.9H199.9L201.5 77.9H204.8L206.4 76.9H218.3L219.9 75.9H314.1L315.7 74.9H501.4"/>
<path d="M89.2 491.9L89.3 418.9L89.3 413.9L89.4 408.9L89.4 403.9L89.4 398.9L89.5 392.9L89.6 387.9L89.6 382.9L89.8 376.9L89.9 371.9L90.0 366.9L90.2 360.9L90.5 355.9L90.7 349.9L90.9 344.9L91.2 339.9L91.5 333.9L91.7 327.9L92.2 321.9L92.6 316.9L93.1 309.9L93.6 303.9L94.0 297.9L94.7 291.9L95.4 285.9L96.3 279.9L97.0 274.9L98.0 269.9L99.0 264.9L99.9 259.9L100.9 256.9L101.9 250.9L102.8 246.9L103.8 242.9L104.8 238.9L105.7 234.9L107.3 227.9L108.6 223.9L109.6 220.9L110.6 216.9L111.5 212.9L112.5 208.9L113.5 205.9L114.5 203.9L115.4 199.9L116.4 196.9L117.4 195.9L118.2 192.9L119.3 189.9L120.3 186.9L121.2 184.9L122.2 181.9L123.2 180.9L124.1 177.9L125.1 176.9L125.1 175.9L126.1 174.9L127.0 171.9L128.0 169.9L129.0 166.9L129.9 164.9L130.9 163.9L131.9 162.9L132.8 160.9L133.7 158.9L134.8 157.9L135.7 155.9L136.7 154.9L137.7 151.9L138.6 149.9L139.6 147.9L141.5 146.9L142.0 145.9L144.3 142.9L145.4 141.9H146.7L148.3 139.9L149.3 137.9L150.2 136.9L151.9 135.9L152.2 134.9L153.1 133.9L154.6 132.9L156.0 130.9L157.5 129.9L158.0 128.9H158.9L160.5 125.9L162.8 123.9H168.7L170.3 122.9L171.5 121.9H173.8L175.4 120.9H178.6L180.2 119.9L181.2 118.9L181.4 117.9H182.5L184.1 116.9L185.1 115.9L185.4 114.9H188.3L189.9 113.9L191.8 112.9L193.8 111.9H195.1L196.7 110.9L197.6 108.9H206.7L208.3 107.9H213.5L215.1 106.9L217.0 105.9L218.9 104.9H220.2L221.8 103.9L223.8 102.9H233.8L235.4 101.9H237.6L239.2 100.9H247.3L248.9 99.9H258.0L259.6 98.9L261.5 97.9H264.7L266.3 96.9L267.3 95.9H268.6L270.2 94.9H287.9L289.5 93.9H294.7L296.3 92.9H302.5L304.1 91.9H323.7L325.3 90.9H328.6L330.2 89.9H333.4L335.0 88.9L335.8 87.9H399.2L400.8 86.9H416.6L418.2 85.9H423.4L425.0 84.9H467.9L469.5 83.9H474.6L476.2 82.9H501.4"/>
<path d="M89.2 491.2L89.3 423.2L89.3 418.2L89.3 413.2L89.4 408.2L89.4 403.2L89.5 398.2L89.6 392.2L89.7 386.2L89.8 381.2L89.9 375.2L90.0 370.2L90.1 365.2L90.4 357.2L90.7 352.2L91.2 346.2L91.4 341.2L91.8 335.2L92.1 330.2L92.5 323.2L92.9 316.2L93.6 310.2L94.0 305.2L94.4 300.2L95.2 294.2L96.0 288.2L96.6 283.2L97.6 278.2L98.3 272.2L99.0 267.2L99.9 261.2L100.9 255.2L102.1 248.2L103.2 242.2L104.5 237.2L105.7 232.2L107.3 227.2L108.6 221.2L109.6 217.2L110.6 213.2L111.5 210.2L112.5 207.2L113.5 205.2L114.5 201.2L115.4 197.2L116.4 196.2L117.0 194.2L118.2 191.2L119.3 189.2L120.3 187.2L121.2 186.2L122.2 184.2L123.2 183.2L123.6 182.2L125.1 180.2L125.1 179.2L126.7 177.2L128.0 175.2L129.0 173.2L129.9 172.2L130.9 170.2L131.9 169.2L132.8 167.2L133.7 166.2L134.8 165.2L135.7 164.2L137.7 162.2L139.6 160.2L140.6 159.2L141.5 158.2L142.5 157.2L143.5 155.2L145.4 153.2L146.4 152.2L148.3 151.2L149.3 149.2L150.2 147.2L151.2 145.2L152.2 143.2H155.4L157.0 142.2L157.5 141.2H158.3L159.9 140.2H161.2L162.8 138.2H168.0L169.6 137.2L170.6 135.2H172.2L173.8 134.2L175.4 133.2L177.3 132.2H180.6L182.2 131.2H186.4L188.0 130.2L188.9 129.2L189.9 128.2L190.9 127.2L191.8 126.2L193.8 125.2L194.0 123.2H196.0L197.6 122.2H200.9L202.5 120.2H215.4L217.0 119.2L218.0 118.2H220.2L221.8 116.2L223.8 115.2L224.7 114.2H228.0L229.6 113.2H235.2L236.8 112.2H257.0L258.6 111.2H259.9L261.5 110.2H264.7L266.3 109.2H291.8L293.4 108.2H295.4L297.0 106.2H301.5L303.1 105.2H314.0L315.6 104.2H322.8L324.4 103.2H325.7L327.3 101.2H356.6L358.2 100.2H360.5L362.1 99.2H367.3L368.9 98.2H375.0L376.6 97.2H377.9L379.5 96.2H385.6L387.2 95.2H410.8L412.4 94.2L414.3 93.2H426.3L427.9 92.2H442.7L444.3 91.2H463.0L464.6 90.2H466.9L468.5 89.2H489.2L490.8 88.2H495.0L496.6 87.2H501.4"/>
<path d="M89.2 490.9L89.3 416.9L89.3 411.9L89.3 405.9L89.4 400.9L89.4 395.9L89.5 390.9L89.5 385.9L89.6 380.9L89.7 375.9L89.8 370.9L89.9 364.9L90.0 359.9L90.1 354.9L90.4 347.9L90.5 342.9L90.7 336.9L91.0 330.9L91.2 324.9L91.6 317.9L92.0 311.9L92.5 306.9L93.1 300.9L93.6 295.9L94.4 290.9L95.2 285.9L95.7 280.9L96.6 275.9L97.2 270.9L98.0 264.9L99.0 259.9L99.9 254.9L100.9 249.9L101.9 244.9L102.8 240.9L103.8 238.9L105.1 233.9L106.6 228.9L107.7 224.9L108.6 221.9L109.6 217.9L110.6 214.9L111.5 212.9L112.5 209.9L113.5 206.9L114.5 202.9L115.4 200.9L116.4 198.9L117.0 196.9L118.2 193.9L119.3 192.9L120.3 189.9L121.2 187.9L122.2 186.9L122.2 185.9L123.2 184.9L124.1 181.9L125.1 179.9L126.1 177.9L126.7 175.9L128.0 172.9L129.0 171.9L129.9 170.9L130.9 167.9L131.9 165.9L132.8 164.9L133.7 162.9L134.8 159.9L135.7 157.9L136.7 156.9L137.7 155.9L138.6 153.9L139.6 152.9L140.6 150.9L141.5 149.9L142.5 146.9L143.5 145.9L144.3 144.9L145.4 143.9L146.4 141.9L148.3 140.9L149.3 139.9L151.2 138.9L151.9 137.9L153.1 136.9H154.4L156.0 134.9L158.0 133.9L158.9 132.9L160.5 131.9L161.9 130.9L162.8 129.9L164.8 127.9L166.9 126.9H168.7L170.3 124.9H171.9L173.5 123.9H183.5L185.1 122.9H187.3L188.9 121.9L189.9 119.9H192.4L194.0 118.9H196.0L197.6 117.9L198.6 115.9H201.8L203.4 114.9H215.4L217.0 113.9H219.3L220.9 112.9H224.1L225.7 111.9H227.0L228.6 110.9H233.8L235.4 109.9H236.7L238.3 108.9H240.5L242.1 107.9H249.2L250.8 106.9H252.2L253.8 105.9L254.7 104.9L257.0 103.9L258.6 102.9H260.9L262.5 101.9H267.6L269.2 100.9H282.1L283.7 99.9H293.7L295.3 98.9H317.9L319.5 97.9H326.6L328.2 96.9H344.1L345.7 95.9H353.7L355.3 94.9H363.4L365.0 93.9H378.9L380.5 92.9H381.8L383.4 91.9H391.5L393.1 90.9H410.8L412.4 89.9H416.6L418.2 88.9H444.7L446.3 87.9H453.4L455.0 86.9H501.4"/>
<path d="M89.2 491.7L89.3 414.7L89.3 409.7L89.3 404.7L89.4 397.7L89.5 392.7L89.6 386.7L89.6 381.7L89.7 375.7L89.8 369.7L89.9 364.7L90.0 359.7L90.1 353.7L90.4 348.7L90.5 343.7L90.8 338.7L91.1 333.7L91.3 328.7L91.6 323.7L92.0 318.7L92.3 312.7L92.8 306.7L93.4 301.7L94.0 295.7L94.7 289.7L95.2 284.7L95.7 279.7L96.6 273.7L97.0 268.7L98.0 261.7L98.7 254.7L99.9 246.7L100.9 243.7L101.9 238.7L102.8 234.7L103.8 230.7L104.8 225.7L105.7 222.7L106.7 218.7L108.1 212.7L109.6 206.7L110.6 202.7L111.5 198.7L112.5 196.7L113.5 193.7L114.5 188.7L115.4 187.7L116.4 183.7L117.4 180.7L118.2 178.7L119.3 176.7L120.3 173.7L121.2 169.7L122.2 167.7L123.2 165.7L123.6 164.7L125.1 161.7L126.1 159.7L127.0 158.7L128.0 156.7L129.0 155.7L129.9 153.7L130.9 152.7L131.9 151.7L132.8 150.7L133.7 148.7L134.8 147.7L135.7 146.7L136.7 145.7L137.7 143.7L139.6 142.7L140.6 141.7L142.0 140.7L143.5 139.7L144.3 138.7L145.4 136.7L146.4 135.7L146.8 134.7L148.3 133.7L149.3 131.7L150.2 128.7L151.2 127.7L151.9 126.7L153.1 124.7L155.1 123.7L157.0 121.7L158.9 119.7L159.9 118.7H161.2L162.8 117.7L164.8 116.7H167.0L168.6 115.7L170.6 114.7H172.2L173.8 113.7H175.9L177.5 111.7H179.6L181.2 109.7L182.2 108.7L183.1 107.7L185.4 106.7L186.0 105.7H187.3L188.9 104.7L189.9 103.7L191.8 101.7L194.0 100.7H202.8L204.4 99.7H206.7L208.3 98.7H211.5L213.1 97.7L214.1 95.7H215.4L217.0 94.7H223.1L224.7 93.7H255.4L257.0 92.7L258.6 91.7L259.6 90.7H260.9L262.5 89.7H268.6L270.2 88.7L272.1 87.7H279.2L280.8 86.7H296.7L298.3 85.7H299.6L301.2 84.7H304.4L306.0 83.7L307.0 82.7H382.7L384.3 81.7H413.7L415.3 80.7H422.4L424.0 79.7H501.4"/>
<path d="M89.2 492.3L89.3 419.3L89.3 413.3L89.3 407.3L89.4 402.3L89.4 396.3L89.4 391.3L89.5 386.3L89.5 381.3L89.6 375.3L89.7 370.3L89.8 365.3L89.9 358.3L90.0 352.3L90.1 346.3L90.3 341.3L90.5 335.3L90.7 329.3L90.8 322.3L91.1 316.3L91.2 310.3L91.5 305.3L91.7 300.3L92.1 294.3L92.3 288.3L92.6 283.3L93.1 276.3L93.6 270.3L94.0 264.3L94.4 259.3L94.9 252.3L95.7 245.3L96.1 240.3L96.9 234.3L97.6 227.3L98.3 221.3L99.2 216.3L99.9 209.3L100.9 205.3L101.9 199.3L102.8 195.3L103.8 191.3L104.8 185.3L105.7 181.3L107.3 174.3L108.6 168.3L109.6 164.3L110.6 159.3L111.5 156.3L112.5 152.3L113.5 149.3L114.5 147.3L115.4 142.3L115.8 141.3L117.0 138.3L118.2 136.3L118.3 135.3L119.3 134.3L120.3 131.3L121.2 129.3L122.2 127.3L123.6 126.3L124.1 125.3L125.1 123.3L125.1 122.3L126.1 121.3L126.7 120.3L128.0 119.3L129.0 118.3L130.1 117.3L130.9 116.3L131.9 115.3L133.7 114.3L133.8 112.3L134.8 111.3L135.7 110.3L137.7 108.3L138.6 107.3L140.6 106.3L142.0 105.3L142.5 104.3L143.5 102.3L145.4 100.3H148.6L150.2 99.3L152.2 98.3L153.1 97.3L154.6 96.3H158.3L159.9 95.3L161.9 94.3L162.8 93.3L164.8 91.3H168.7L170.3 90.3H172.2L173.8 89.3H175.7L177.3 88.3L179.3 87.3L180.2 86.3H182.5L184.1 85.3L186.0 84.3H212.5L214.1 83.3H227.0L228.6 82.3H239.6L241.2 81.3H346.0L347.6 80.3H394.4L396.0 79.3H416.6L418.2 78.3H438.9L440.5 77.3H469.8L471.4 76.3H478.5L480.1 75.3H501.4"/>
<path d="M89.2 491.8L89.3 414.8L89.3 409.8L89.3 404.8L89.4 399.8L89.4 394.8L89.5 389.8L89.5 384.8L89.6 378.8L89.7 372.8L89.8 367.8L89.9 362.8L90.0 357.8L90.2 352.8L90.4 346.8L90.7 341.8L90.8 335.8L91.2 329.8L91.5 323.8L91.7 317.8L92.0 312.8L92.2 307.8L92.5 302.8L92.9 297.8L93.3 292.8L93.6 287.8L94.0 282.8L94.4 276.8L94.9 269.8L95.4 264.8L96.0 259.8L96.6 253.8L97.2 248.8L97.6 243.8L98.3 237.8L99.0 231.8L99.9 225.8L100.9 219.8L101.9 212.8L102.8 208.8L103.8 202.8L104.8 196.8L105.7 191.8L106.7 185.8L107.7 179.8L108.6 173.8L109.6 167.8L110.6 161.8L111.5 156.8L112.5 152.8L113.5 148.8L114.5 143.8L115.4 139.8L116.4 134.8L117.4 131.8L118.2 128.8L119.3 125.8L120.3 122.8L121.2 120.8L122.2 119.8L122.2 118.8L123.2 115.8L124.1 114.8L125.1 113.8L126.1 111.8L126.7 110.8L129.0 109.8H130.3L131.9 107.8H133.2L134.8 106.8H136.1L137.7 104.8L139.6 103.8H142.7L144.3 101.8H145.2L146.8 100.8H148.6L150.2 99.8H152.5L154.1 98.8L156.0 96.8L157.0 95.8H158.3L159.9 94.8L160.9 92.8H162.2L163.8 91.8L165.7 90.8L167.7 89.8L169.6 88.8L170.6 86.8H172.2L173.8 85.8H176.7L178.3 84.8H179.6L181.2 83.8L183.1 82.8L185.1 81.8H192.4L194.0 80.8H199.9L201.5 79.8H202.8L204.4 78.8H212.0L213.6 77.8H225.1L226.7 76.8H336.3L337.9 75.8H501.4"/>
<path d="M89.2 490.9L89.3 419.9L89.3 414.9L89.3 409.9L89.4 404.9L89.4 399.9L89.5 394.9L89.6 388.9L89.7 383.9L89.8 377.9L89.9 372.9L90.1 366.9L90.2 361.9L90.5 355.9L90.8 349.9L91.2 342.9L91.5 336.9L91.8 330.9L92.2 325.9L92.6 319.9L92.9 314.9L93.4 308.9L94.0 303.9L94.7 295.9L95.4 289.9L96.0 283.9L96.6 278.9L97.0 273.9L98.0 264.9L98.7 258.9L99.6 252.9L100.5 245.9L101.5 239.9L102.6 232.9L103.8 227.9L105.1 220.9L106.6 214.9L107.3 208.9L108.6 204.9L109.6 199.9L110.6 196.9L111.5 191.9L112.5 188.9L113.5 185.9L114.5 181.9L115.4 178.9L116.4 175.9L117.0 173.9L118.2 169.9L118.3 168.9L119.3 166.9L120.3 165.9L120.8 162.9L122.2 161.9L123.2 160.9L123.6 158.9L125.1 157.9L126.7 155.9L128.0 154.9L128.4 152.9L129.9 151.9L130.9 150.9L131.9 148.9L133.7 146.9L134.8 144.9L135.7 142.9L137.7 140.9L138.6 139.9L139.6 137.9H140.4L142.0 136.9L142.5 135.9L144.3 133.9L146.4 132.9L146.8 131.9L148.3 130.9L150.2 129.9L151.2 127.9H152.5L154.1 126.9L154.6 125.9L156.0 123.9L158.0 122.9H158.9L160.5 121.9L161.9 119.9H163.2L164.8 118.9L166.7 117.9L167.7 116.9H169.9L171.5 115.9L172.5 114.9L174.4 113.9H176.7L178.3 112.9H201.7L203.3 111.9H206.7L208.3 110.9H213.5L215.1 109.9H219.3L220.9 108.9H222.2L223.8 107.9L224.7 106.9H229.9L231.5 105.9L233.4 104.9H234.7L236.3 103.9H243.4L245.0 101.9H247.3L248.9 100.9H270.4L272.0 99.9H278.4L280.0 98.9H284.1L285.7 97.9H289.9L291.5 96.9L293.4 95.9H297.6L299.2 93.9H321.8L323.4 92.9H332.4L334.0 91.9L335.8 90.9L337.9 89.9H362.4L364.0 87.9H396.3L397.9 86.9L399.8 85.9H406.0L407.6 84.9H455.3L456.9 83.9H462.1L463.7 82.9H476.6L478.2 81.9H495.9L497.5 80.9H501.4"/>
<path d="M89.2 492.3L89.3 412.3L89.3 407.3L89.3 402.3L89.4 396.3L89.4 391.3L89.5 385.3L89.5 379.3L89.6 374.3L89.7 368.3L89.8 363.3L89.9 357.3L90.0 351.3L90.1 346.3L90.2 341.3L90.4 334.3L90.6 329.3L90.8 324.3L91.0 319.3L91.2 313.3L91.5 307.3L91.8 302.3L92.1 297.3L92.5 290.3L92.8 285.3L93.3 279.3L93.6 274.3L94.0 268.3L94.4 261.3L94.9 256.3L95.4 250.3L96.0 244.3L96.6 238.3L97.0 232.3L98.0 225.3L98.7 219.3L99.6 212.3L100.5 205.3L101.5 201.3L102.6 194.3L103.8 188.3L104.8 183.3L105.7 178.3L106.6 172.3L107.7 165.3L108.6 161.3L109.6 156.3L110.6 152.3L111.5 147.3L112.5 144.3L113.5 138.3L114.5 134.3L115.4 130.3L116.4 127.3L117.4 125.3L118.3 122.3L119.3 119.3L120.3 118.3L120.8 116.3L122.2 113.3L123.2 112.3L123.6 110.3L125.1 109.3L126.7 107.3L128.4 105.3L129.9 103.3L130.9 102.3L131.9 100.3L133.7 99.3L134.8 98.3H136.1L137.7 97.3L139.6 96.3H140.4L142.0 95.3H147.7L149.3 94.3H150.3L151.9 93.3H157.3L158.9 92.3L159.9 91.3L160.9 90.3L161.9 89.3L163.8 88.3H167.0L168.6 87.3L169.6 86.3H171.9L173.5 85.3H175.9L177.5 84.3H181.5L183.1 83.3H186.4L188.0 82.3L189.9 81.3H195.1L196.7 80.3H203.8L205.4 79.3H207.7L209.3 78.3H213.5L215.1 77.3H233.8L235.4 76.3H257.0L258.6 75.3H309.2L310.8 74.3H501.4"/>
<path d="M89.2 491.5L89.3 421.5L89.3 416.5L89.3 411.5L89.4 406.5L89.4 401.5L89.5 394.5L89.6 389.5L89.6 384.5L89.7 379.5L89.8 374.5L90.0 368.5L90.1 363.5L90.3 357.5L90.5 350.5L90.8 345.5L91.0 339.5L91.3 332.5L91.6 326.5L92.0 321.5L92.3 315.5L92.6 309.5L93.1 302.5L93.4 297.5L93.8 291.5L94.4 284.5L94.9 279.5L95.4 273.5L96.0 267.5L96.6 262.5L97.2 256.5L98.0 250.5L98.7 245.5L99.6 239.5L100.5 234.5L101.5 229.5L102.6 222.5L102.8 221.5L103.8 217.5L104.8 214.5L105.7 211.5L106.6 206.5L108.1 202.5L109.6 196.5L110.6 194.5L111.5 190.5L112.5 187.5L113.5 183.5L114.5 181.5L115.4 179.5L116.4 174.5L117.0 172.5L118.2 169.5L118.3 168.5L119.3 166.5L120.3 164.5L120.8 162.5L122.2 160.5L122.2 159.5L123.6 158.5L124.1 157.5L125.1 155.5L125.1 154.5L126.1 153.5L127.0 150.5L129.0 148.5H130.3L131.9 147.5L132.8 146.5L133.7 145.5L134.8 143.5L135.7 142.5L136.7 141.5H138.0L139.6 140.5H140.9L142.5 138.5L143.5 136.5H144.8L146.4 133.5L148.3 131.5L150.2 130.5L151.9 129.5L152.2 128.5L154.1 126.5L155.1 125.5L157.0 124.5H162.2L163.8 122.5L164.8 121.5L165.7 120.5H167.0L168.6 118.5H171.9L173.5 117.5L174.4 116.5L176.4 115.5L177.3 114.5H180.6L182.2 111.5H183.5L185.1 110.5H190.2L191.8 109.5L192.8 108.5H194.1L195.7 106.5H204.8L206.4 104.5H212.0L213.6 103.5H222.2L223.8 102.5L225.7 101.5L227.6 100.5H230.9L232.5 99.5H255.1L256.7 98.5H261.8L263.4 97.5L264.3 96.5H267.6L269.2 94.5H278.4L280.0 93.5H288.9L290.5 92.5H306.3L307.9 91.5H315.0L316.6 89.5H375.0L376.6 88.5H386.6L388.2 87.5H403.1L404.7 86.5H422.4L424.0 85.5H428.2L429.8 84.5H432.1L433.7 83.5H483.4L485.0 82.5H487.2L488.8 81.5H501.4"/>
<path d="M89.2 490.1L89.3 416.1L89.3 410.1L89.3 404.1L89.4 399.1L89.4 394.1L89.5 388.1L89.6 383.1L89.6 377.1L89.7 372.1L89.8 367.1L89.9 362.1L90.0 356.1L90.1 351.1L90.3 345.1L90.5 340.1L90.7 333.1L90.9 327.1L91.2 322.1L91.3 317.1L91.6 310.1L92.0 305.1L92.3 298.1L92.9 292.1L93.4 287.1L94.0 279.1L94.7 273.1L95.2 268.1L95.7 263.1L96.1 258.1L96.9 252.1L97.2 247.1L98.0 242.1L98.7 235.1L99.9 228.1L100.9 223.1L101.9 217.1L102.8 212.1L103.8 207.1L104.8 202.1L105.7 198.1L106.6 193.1L108.1 187.1L109.6 182.1L110.6 178.1L111.5 176.1L112.5 172.1L113.5 171.1L114.5 168.1L115.4 166.1L116.4 163.1L117.0 162.1L118.2 159.1L119.3 158.1L119.5 156.1L120.8 155.1L121.2 153.1L122.2 152.1L123.2 149.1L124.1 147.1L125.1 146.1L125.1 145.1L126.1 143.1L128.0 142.1L129.0 140.1L129.9 138.1L131.9 137.1L133.8 136.1L134.8 135.1L135.7 134.1L137.7 132.1L139.6 131.1L140.6 128.1H142.7L144.3 126.1L145.4 125.1L146.4 124.1L147.3 123.1H148.6L150.2 122.1L151.2 121.1L153.1 120.1H154.4L156.0 119.1L157.0 118.1H159.3L160.9 117.1H162.0L163.6 116.1L165.7 115.1L166.7 114.1L168.6 113.1L169.6 112.1H170.9L172.5 111.1L173.8 110.1L174.4 109.1L176.4 107.1L178.3 106.1H180.6L182.2 105.1H183.5L185.1 103.1H194.1L195.7 102.1H198.0L199.6 101.1L200.5 100.1L201.5 99.1H206.7L208.3 98.1H209.6L211.2 97.1H213.5L215.1 96.1H221.2L222.8 95.1L224.7 94.1H232.8L234.4 92.1H238.6L240.2 91.1H241.6L243.2 90.1L245.0 89.1L247.0 88.1L248.9 87.1H272.5L274.1 86.1H286.7L288.3 85.1H296.7L298.3 84.1H300.5L302.1 83.1H312.1L313.7 82.1H322.8L324.4 81.1H337.3L338.9 80.1H367.3L368.9 79.1H410.8L412.4 78.1H414.7L416.3 77.1H427.2L428.8 76.1H501.4"/>
<path d="M89.2 490.6L89.3 423.6L89.3 417.6L89.3 412.6L89.4 407.6L89.5 402.6L89.5 396.6L89.6 391.6L89.7 385.6L89.8 380.6L89.9 375.6L90.1 370.6L90.2 364.6L90.4 359.6L90.6 354.6L90.8 349.6L91.2 342.6L91.5 337.6L92.0 330.6L92.5 324.6L92.9 318.6L93.4 312.6L94.0 306.6L94.7 301.6L95.2 296.6L95.7 291.6L96.3 285.6L97.2 280.6L98.0 275.6L98.7 270.6L99.6 263.6L100.5 259.6L101.5 253.6L102.6 247.6L103.8 240.6L104.8 236.6L105.7 232.6L106.7 227.6L107.7 225.6L108.6 222.6L109.6 219.6L110.6 214.6L111.5 212.6L112.5 209.6L113.5 205.6L114.7 203.6L115.8 201.6L117.0 199.6L118.2 197.6L118.3 195.6L119.5 194.6L120.3 192.6L121.2 190.6L122.2 188.6L123.2 187.6L124.1 185.6L125.1 184.6L126.1 182.6L127.0 180.6L128.0 177.6L129.0 176.6L129.9 174.6L130.9 171.6L132.8 169.6L133.8 168.6L135.7 166.6L136.7 165.6L137.7 164.6L138.6 163.6L139.6 161.6H140.4L142.0 159.6L142.5 158.6L143.5 156.6L144.3 154.6L145.4 152.6L146.4 151.6L148.3 150.6L149.3 148.6L150.2 146.6L151.9 145.6L153.1 144.6L154.1 142.6H155.9L157.5 141.6H159.3L160.9 140.6H164.1L165.7 139.6L167.7 138.6L168.6 137.6L170.6 135.6L171.5 134.6H173.8L175.4 133.6L177.5 132.6L179.3 131.6H188.3L189.9 130.6H197.0L198.6 129.6H201.7L203.3 128.6H208.6L210.2 127.6L212.2 126.6L213.1 125.6H217.4L219.0 124.6H221.2L222.8 122.6H229.0L230.6 121.6L232.5 119.6H233.8L235.4 118.6L236.8 117.6H239.6L241.2 116.6H265.7L267.3 115.6H269.6L271.2 113.6H272.5L274.1 112.6H275.4L277.0 111.6H282.1L283.7 110.6H301.5L303.1 109.6H306.3L307.9 108.6H310.2L311.8 107.6L312.8 106.6H323.7L325.3 105.6H338.2L339.8 104.6H343.1L344.7 103.6L346.6 102.6L347.6 101.6L348.6 100.6H354.7L356.3 99.6L357.9 98.6H371.1L372.7 97.6H385.6L387.2 96.6L389.2 95.6L390.2 94.6H396.3L397.9 93.6L398.9 92.6L399.8 91.6H455.3L456.9 89.6H467.9L469.5 88.6H493.0L494.6 87.6H501.4"/>
<path d="M89.2 491.2L89.3 424.2L89.3 418.2L89.3 412.2L89.4 407.2L89.4 402.2L89.5 396.2L89.7 389.2L89.8 384.2L89.9 378.2L90.0 373.2L90.1 365.2L90.3 359.2L90.4 353.2L90.6 348.2L90.8 343.2L91.1 337.2L91.4 332.2L91.7 327.2L92.1 321.2L92.5 316.2L92.9 310.2L93.4 304.2L94.0 298.2L94.7 291.2L95.4 285.2L96.0 280.2L96.9 274.2L98.0 267.2L98.7 262.2L99.6 257.2L100.5 253.2L101.5 249.2L102.6 244.2L102.8 243.2L103.8 240.2L105.1 235.2L106.6 232.2L108.1 226.2L109.6 223.2L110.6 219.2L111.5 215.2L112.5 214.2L113.5 212.2L114.5 209.2L115.4 206.2L116.4 205.2L117.4 203.2L118.2 201.2L119.3 199.2L120.3 198.2L121.2 195.2L122.2 193.2L123.2 192.2L124.1 189.2L125.1 187.2L126.7 185.2L128.0 182.2L128.4 181.2L129.9 179.2L130.9 177.2L131.9 174.2L132.8 173.2L133.7 170.2L134.8 169.2L135.7 168.2L136.7 166.2L137.7 164.2L139.6 162.2L141.5 161.2L142.0 160.2L143.5 158.2L144.4 157.2L146.4 156.2L147.3 155.2L149.3 153.2L151.2 151.2L151.9 150.2L153.1 149.2L154.1 148.2L155.1 146.2L156.0 145.2L157.5 144.2L158.9 142.2L160.9 140.2L162.8 139.2L163.6 138.2H165.1L166.7 136.2L168.6 135.2L170.3 134.2L171.5 133.2L173.8 131.2H174.8L176.4 130.2H179.6L181.2 129.2H182.5L184.1 128.2H186.4L188.0 127.2H190.2L191.8 126.2L193.8 124.2H196.0L197.6 123.2H200.9L202.5 122.2H211.5L213.1 121.2L215.1 120.2H218.3L219.9 119.2H221.2L222.8 118.2L223.8 117.2H227.0L228.6 116.2L229.6 114.2H233.8L235.4 113.2L237.3 112.2H250.2L251.8 111.2H256.0L257.6 110.2L258.6 108.2H269.6L271.2 107.2L273.1 106.2H279.2L280.8 105.2H292.8L294.4 104.2H295.4L297.0 103.2H301.5L303.1 102.2H312.1L313.7 101.2H323.7L325.3 100.2H333.4L335.0 99.2H337.3L338.9 98.2H345.0L346.6 97.2H348.9L350.5 96.2H352.8L354.4 95.2H360.5L362.1 94.2H368.0L369.6 92.2H376.9L378.5 91.2H411.8L413.4 90.2L415.3 88.2H476.6L478.2 87.2H496.9L498.5 86.2H501.4"/>
<path d="M89.2 491.8L89.3 422.8L89.3 417.8L89.3 412.8L89.4 406.8L89.5 401.8L89.5 396.8L89.6 390.8L89.7 384.8L89.8 379.8L89.9 373.8L90.0 368.8L90.2 362.8L90.4 357.8L90.6 351.8L90.7 346.8L90.8 341.8L91.1 335.8L91.3 330.8L91.6 325.8L92.0 319.8L92.3 313.8L92.9 308.8L93.4 303.8L94.0 297.8L94.9 291.8L95.7 285.8L96.9 279.8L98.0 274.8L99.0 270.8L99.6 265.8L100.5 259.8L101.5 255.8L102.6 249.8L103.8 243.8L105.1 237.8L106.6 233.8L108.1 228.8L109.6 224.8L109.8 222.8L111.5 219.8L112.5 218.8L113.5 216.8L114.5 213.8L115.4 212.8L116.4 208.8L117.4 205.8L118.2 204.8L119.3 202.8L120.3 200.8L121.2 198.8L122.2 195.8L123.2 193.8L124.1 192.8L125.1 189.8L126.1 187.8L127.0 185.8L128.0 184.8L129.0 183.8L129.9 182.8L130.9 181.8L131.9 178.8L132.8 176.8L133.7 174.8L135.7 171.8L135.7 170.8L136.7 169.8L137.7 167.8L138.6 165.8L139.6 163.8L140.6 162.8L141.5 161.8L142.0 160.8L143.5 157.8L144.4 155.8L145.4 154.8L146.4 152.8L148.3 150.8L149.3 148.8L151.2 147.8L152.2 145.8H153.5L155.1 144.8L156.0 142.8L157.5 140.8L158.9 139.8L160.9 138.8L162.8 137.8H164.1L165.7 136.8L167.7 135.8L169.6 134.8L170.3 133.8H171.9L173.5 132.8H175.7L177.3 131.8H178.6L180.2 129.8H184.4L186.0 128.8L188.0 127.8L188.9 126.8L189.9 125.8H192.2L193.8 124.8H196.0L197.6 123.8L198.6 122.8L199.6 121.8H200.9L202.5 120.8H204.8L206.4 119.8L207.3 118.8H211.5L213.1 117.8H216.4L218.0 116.8L219.9 115.8H224.1L225.7 114.8H229.0L230.6 113.8H233.8L235.4 112.8H237.6L239.2 111.8H245.4L247.0 110.8H258.0L259.6 109.8L261.5 107.8H268.6L270.2 106.8L272.1 105.8H274.4L276.0 104.8H287.0L288.6 103.8H292.8L294.4 102.8H296.7L298.3 101.8H300.5L302.1 100.8L303.1 98.8H331.5L333.1 96.8H340.2L341.8 95.8H345.0L346.6 94.8H357.6L359.2 93.8H360.5L362.1 92.8H387.6L389.2 91.8H415.6L417.2 90.8H419.5L421.1 89.8H425.3L426.9 88.8L428.8 86.8H451.4L453.0 85.8H501.4"/>
<path d="M89.2 492.2L89.3 409.2L89.3 403.2L89.4 398.2L89.4 392.2L89.4 386.2L89.5 381.2L89.6 376.2L89.6 371.2L89.7 366.2L89.8 360.2L89.9 355.2L90.1 349.2L90.2 343.2L90.4 337.2L90.7 332.2L90.8 327.2L91.0 322.2L91.3 315.2L91.7 308.2L92.0 303.2L92.3 296.2L92.8 290.2L93.3 285.2L93.6 279.2L94.2 272.2L94.7 267.2L95.2 262.2L95.7 257.2L96.3 252.2L97.0 247.2L98.0 241.2L98.7 234.2L99.9 228.2L100.9 222.2L101.9 217.2L102.6 212.2L103.8 206.2L104.8 200.2L105.7 196.2L106.6 191.2L107.7 184.2L108.6 181.2L109.6 175.2L110.6 172.2L111.5 168.2L112.5 162.2L113.5 160.2L114.5 156.2L115.4 154.2L116.4 150.2L117.0 148.2L118.2 146.2L118.3 145.2L119.3 142.2L119.5 141.2L120.8 140.2L121.2 138.2L122.2 136.2L123.2 135.2L124.1 133.2L125.1 132.2L125.1 131.2L126.1 130.2L127.0 128.2L128.0 125.2L129.0 123.2L129.9 122.2L130.9 121.2L131.9 119.2L132.8 116.2L133.8 115.2L134.8 112.2L136.7 111.2L137.7 110.2L138.6 109.2L139.8 108.2L140.6 107.2L142.5 106.2L143.5 105.2L144.3 104.2L145.4 103.2H146.7L148.3 101.2L150.2 99.2L151.2 98.2L153.1 96.2L155.1 95.2H155.9L157.5 94.2H158.9L160.5 93.2H162.0L163.6 92.2H167.0L168.6 91.2L170.3 90.2L170.6 89.2H177.7L179.3 87.2H181.5L183.1 86.2H189.3L190.9 85.2H205.7L207.3 84.2H215.4L217.0 83.2H243.4L245.0 82.2H248.4L250.0 81.2H255.1L256.7 80.2H274.4L276.0 79.2H299.6L301.2 78.2H303.4L305.0 77.2H392.4L394.0 76.2H402.1L403.7 75.2H460.1L461.7 74.2H501.4"/>
<path d="M89.2 491.3L89.3 417.3L89.3 412.3L89.3 407.3L89.4 402.3L89.4 397.3L89.4 392.3L89.5 387.3L89.6 381.3L89.6 376.3L89.7 370.3L89.8 365.3L90.0 359.3L90.1 352.3L90.3 345.3L90.5 338.3L90.7 332.3L90.8 326.3L91.1 319.3L91.3 314.3L91.5 309.3L92.0 303.3L92.3 298.3L92.8 293.3L93.1 287.3L93.6 281.3L94.2 276.3L94.9 270.3L95.4 265.3L96.0 259.3L96.9 254.3L97.6 249.3L98.3 243.3L99.2 237.3L99.9 231.3L100.9 226.3L101.9 221.3L102.6 216.3L103.8 210.3L104.8 205.3L105.7 200.3L106.7 196.3L108.1 192.3L109.6 186.3L110.6 182.3L111.5 180.3L112.5 177.3L113.5 172.3L114.5 170.3L115.4 168.3L116.4 165.3L117.0 163.3L118.2 160.3L119.3 158.3L120.3 157.3L121.2 155.3L122.2 152.3L123.2 150.3L123.6 149.3L125.1 148.3L125.1 147.3L126.1 145.3L126.7 144.3L128.0 141.3L129.0 139.3L129.9 138.3L130.9 135.3L131.9 134.3L132.8 132.3L133.8 128.3L135.7 127.3L136.7 126.3L137.7 125.3L138.6 124.3L139.6 122.3L140.6 121.3L141.5 120.3L142.5 119.3H144.8L146.4 118.3L146.8 116.3H147.7L149.3 115.3L151.2 113.3L153.1 112.3H154.4L156.0 110.3L158.0 109.3H161.2L162.8 108.3L164.8 107.3L166.7 106.3L168.6 105.3L169.6 104.3H171.9L173.5 103.3L174.4 102.3H175.9L177.5 101.3H178.6L180.2 100.3H193.1L194.7 99.3H197.0L198.6 98.3H199.9L201.5 96.3L202.5 95.3H204.8L206.4 94.3H209.6L211.2 93.3L212.2 92.3H214.4L216.0 90.3H221.2L222.8 89.3H243.4L245.0 88.3L246.0 87.3H289.9L291.5 86.3H322.8L324.4 85.3H328.6L330.2 84.3H348.9L350.5 83.3H366.3L367.9 82.3H381.8L383.4 81.3H435.0L436.6 80.3H438.9L440.5 79.3H483.4L485.0 78.3H491.1L492.7 77.3H501.4"/>
<path d="M89.2 492.0L89.3 414.0L89.3 407.0L89.3 401.0L89.4 396.0L89.4 391.0L89.5 386.0L89.5 381.0L89.6 374.0L89.7 369.0L89.8 364.0L89.9 358.0L90.0 353.0L90.1 346.0L90.2 341.0L90.4 335.0L90.5 330.0L90.7 323.0L90.9 316.0L91.2 310.0L91.5 305.0L91.8 299.0L92.2 294.0L92.5 288.0L92.9 282.0L93.3 277.0L93.8 271.0L94.4 264.0L94.9 258.0L95.7 252.0L96.3 247.0L96.9 241.0L97.6 236.0L98.0 231.0L98.7 225.0L99.6 218.0L100.5 212.0L101.5 204.0L102.6 198.0L103.8 192.0L104.8 187.0L105.7 182.0L106.7 177.0L107.7 173.0L108.6 169.0L109.6 166.0L110.6 161.0L111.5 157.0L112.5 151.0L113.5 148.0L114.5 145.0L115.4 142.0L116.4 141.0L117.0 138.0L118.2 134.0L119.3 131.0L119.5 130.0L120.8 127.0L122.2 126.0L122.2 125.0L123.2 124.0L124.1 122.0L125.1 121.0L126.1 120.0L127.0 119.0L128.0 118.0L128.4 117.0L129.9 115.0L130.1 114.0L131.9 112.0L132.8 111.0L133.7 108.0L135.7 107.0L136.7 105.0L137.7 102.0L138.6 101.0L139.6 100.0L140.6 97.0H142.7L144.3 96.0L144.4 95.0L145.4 94.0H146.7L148.3 92.0H151.5L153.1 91.0L154.6 90.0L156.0 89.0H157.3L158.9 88.0L160.9 87.0H162.2L163.8 86.0L165.7 85.0H167.0L168.6 84.0H169.9L171.5 83.0H173.8L175.4 82.0H180.6L182.2 81.0H183.5L185.1 80.0H188.3L189.9 79.0H192.4L194.0 78.0H207.7L209.3 77.0H220.2L221.8 76.0H304.4L306.0 75.0H501.4"/>
<path d="M89.2 492.0L89.3 421.0L89.3 416.0L89.4 411.0L89.4 406.0L89.4 400.0L89.5 395.0L89.5 389.0L89.6 384.0L89.7 379.0L89.7 374.0L89.9 368.0L90.0 362.0L90.1 357.0L90.2 352.0L90.4 346.0L90.6 341.0L90.8 335.0L91.1 329.0L91.3 323.0L91.6 317.0L91.8 312.0L92.3 305.0L92.8 299.0L93.3 291.0L93.6 285.0L94.0 280.0L94.7 273.0L95.2 267.0L95.7 262.0L96.3 257.0L96.9 250.0L98.0 242.0L99.0 235.0L99.9 228.0L100.5 223.0L101.5 218.0L102.6 211.0L103.8 205.0L104.5 200.0L105.7 193.0L107.3 186.0L108.6 182.0L109.6 179.0L110.6 174.0L111.5 172.0L112.5 166.0L113.5 164.0L114.5 161.0L115.4 160.0L116.4 155.0L117.0 154.0L118.2 152.0L118.3 151.0L119.3 149.0L120.3 148.0L120.8 146.0L122.2 145.0L123.2 144.0L124.1 142.0L125.1 141.0L126.1 140.0L127.0 138.0L128.0 137.0L129.0 135.0L129.9 134.0L130.9 130.0L131.9 129.0L132.8 128.0L133.8 125.0L134.8 124.0H136.1L137.7 122.0L138.6 121.0L139.6 120.0L140.6 117.0L141.5 116.0H142.8L144.4 115.0H146.7L148.3 113.0L149.3 112.0L151.2 111.0H152.5L154.1 110.0H156.4L158.0 109.0L159.9 107.0H162.0L163.6 106.0H165.1L166.7 105.0L166.9 104.0L168.6 103.0H169.9L171.5 102.0L172.5 101.0L174.4 100.0H182.5L184.1 99.0L186.0 98.0H191.2L192.8 97.0L194.7 96.0L196.7 95.0L197.6 94.0H205.7L207.3 93.0L208.3 92.0H215.4L217.0 91.0H230.9L232.5 90.0H235.2L236.8 89.0H241.6L243.2 88.0H248.4L250.0 87.0H251.2L252.8 86.0H328.6L330.2 85.0H340.2L341.8 84.0H362.4L364.0 83.0H392.4L394.0 82.0H400.2L401.8 81.0H403.1L404.7 80.0H437.9L439.5 79.0H501.4"/>
<path d="M89.2 491.5L89.3 421.5L89.3 416.5L89.4 411.5L89.4 404.5L89.5 399.5L89.5 393.5L89.6 388.5L89.7 383.5L89.8 376.5L89.9 371.5L90.1 366.5L90.2 361.5L90.3 356.5L90.5 351.5L90.8 345.5L91.1 340.5L91.3 335.5L91.7 327.5L92.2 321.5L92.6 315.5L93.1 310.5L93.4 305.5L94.0 297.5L94.7 289.5L95.4 283.5L96.0 278.5L96.6 272.5L97.6 267.5L98.3 262.5L99.2 257.5L100.5 252.5L101.5 248.5L102.6 242.5L103.8 235.5L105.1 228.5L106.6 223.5L108.1 219.5L109.6 213.5L110.6 210.5L111.5 207.5L112.5 203.5L113.5 201.5L114.5 198.5L115.4 194.5L116.4 190.5L117.4 188.5L118.2 186.5L119.3 183.5L120.3 182.5L121.2 179.5L122.2 177.5L123.2 175.5L124.1 173.5L125.1 171.5L125.1 170.5L126.7 169.5L128.0 168.5L129.0 165.5L130.1 164.5L130.9 162.5L131.9 161.5L132.8 159.5L133.8 157.5L134.8 156.5L135.7 154.5L135.7 153.5L136.7 152.5L138.6 150.5L139.6 148.5L141.5 146.5L143.5 144.5L144.4 141.5L145.4 140.5L146.4 139.5L146.8 138.5H147.7L149.3 137.5L151.2 136.5L151.9 134.5L154.1 133.5L156.0 132.5L157.0 131.5L158.9 129.5H160.3L161.9 128.5L162.8 127.5L163.8 125.5H165.3L166.9 124.5L168.6 122.5L170.6 121.5L172.5 119.5H176.7L178.3 118.5H180.6L182.2 116.5H183.8L185.4 115.5L187.0 114.5H188.3L189.9 113.5H191.2L192.8 112.5L194.0 111.5L194.7 110.5H196.0L197.6 109.5L198.6 108.5H199.9L201.5 107.5L202.5 106.5H203.8L205.4 104.5H206.7L208.3 103.5L209.3 102.5H211.5L213.1 101.5H217.3L218.9 100.5L220.9 99.5H223.1L224.7 98.5L224.7 97.5H277.3L278.9 96.5H288.9L290.5 95.5H297.6L299.2 94.5L301.2 93.5L302.1 92.5H304.4L306.0 91.5H348.9L350.5 90.5H359.5L361.1 89.5H366.3L367.9 88.5H390.5L392.1 87.5H400.2L401.8 86.5L402.7 85.5H435.0L436.6 84.5H460.1L461.7 83.5H466.9L468.5 82.5H491.1L492.7 81.5H501.4"/>
<path d="M89.2 492.5L89.3 421.5L89.3 415.5L89.4 408.5L89.4 403.5L89.5 396.5L89.5 391.5L89.6 385.5L89.7 380.5L89.8 374.5L89.9 369.5L90.0 364.5L90.1 358.5L90.3 352.5L90.5 347.5L90.7 342.5L90.8 337.5L91.0 332.5L91.2 327.5L91.4 322.5L91.7 316.5L92.1 309.5L92.5 304.5L92.8 299.5L93.1 294.5L93.6 288.5L94.0 283.5L94.9 276.5L95.7 270.5L96.6 265.5L97.2 260.5L98.3 252.5L99.0 247.5L99.9 241.5L100.9 235.5L101.9 229.5L102.8 224.5L103.8 219.5L104.8 214.5L105.7 211.5L107.3 206.5L108.9 201.5L110.6 195.5L111.5 192.5L112.5 190.5L113.5 187.5L114.5 183.5L115.4 181.5L116.4 178.5L117.4 175.5L118.3 172.5L119.3 168.5L120.8 166.5L121.2 165.5L122.2 163.5L123.2 162.5L124.1 160.5L125.1 158.5L126.1 156.5L126.7 155.5L128.0 154.5L129.0 152.5L129.9 150.5L130.9 148.5L131.9 146.5L133.7 144.5L134.8 143.5L135.7 141.5L136.7 139.5L137.7 138.5L139.6 135.5L140.6 134.5L142.0 133.5L142.5 131.5L144.4 130.5L145.4 129.5L146.4 127.5L147.3 126.5H148.6L150.2 124.5L151.9 122.5L153.1 120.5H154.4L156.0 118.5H157.3L158.9 117.5L159.9 115.5H162.2L163.8 114.5H166.1L167.7 113.5H171.9L173.5 112.5H179.6L181.2 111.5L183.1 110.5L185.1 109.5L187.0 108.5L188.0 107.5L189.6 106.5L191.8 104.5H193.1L194.7 103.5L196.7 102.5H199.9L201.5 101.5L203.3 100.5H212.0L213.6 99.5L214.1 98.5H233.8L235.4 97.5H270.5L272.1 96.5H279.2L280.8 95.5L282.8 94.5H335.3L336.9 93.5L338.9 91.5L340.8 90.5H366.3L367.9 89.5H375.0L376.6 88.5H389.5L391.1 87.5H400.2L401.8 86.5H408.9L410.5 85.5H441.8L443.4 84.5H452.4L454.0 83.5L455.9 82.5H501.4"/>
<path d="M89.2 491.1L89.3 414.1L89.3 409.1L89.3 404.1L89.4 399.1L89.4 394.1L89.5 389.1L89.5 384.1L89.6 379.1L89.7 374.1L89.8 368.1L89.9 363.1L90.0 358.1L90.2 350.1L90.4 344.1L90.5 339.1L90.8 333.1L91.0 328.1L91.3 322.1L91.7 314.1L92.1 307.1L92.5 302.1L92.9 297.1L93.3 291.1L93.6 286.1L94.0 281.1L94.4 275.1L94.9 269.1L95.4 263.1L96.0 256.1L96.6 250.1L97.6 243.1L98.3 238.1L99.0 233.1L99.9 227.1L100.9 222.1L101.9 217.1L102.6 212.1L103.8 207.1L104.5 202.1L105.7 197.1L106.7 193.1L107.7 186.1L108.6 181.1L109.6 177.1L110.6 174.1L111.5 169.1L112.5 167.1L113.5 161.1L114.5 159.1L115.4 154.1L116.4 152.1L117.0 149.1L118.2 148.1L118.3 146.1L119.3 144.1L120.3 142.1L121.2 140.1L122.2 138.1L123.6 137.1L124.1 136.1L125.1 135.1L126.1 134.1L128.4 132.1H130.3L131.9 131.1L133.7 129.1H138.0L139.6 128.1L139.8 127.1H142.8L144.4 126.1L145.4 125.1L146.8 124.1L148.3 123.1H151.5L153.1 122.1H154.4L156.0 120.1L157.5 118.1L158.9 117.1L160.9 115.1H162.0L163.6 114.1L164.8 113.1H168.0L169.6 112.1L170.6 111.1L172.5 110.1H174.8L176.4 109.1L177.5 108.1L179.3 107.1L180.2 106.1L182.2 105.1H184.4L186.0 104.1H192.2L193.8 103.1L195.7 102.1H197.0L198.6 100.1H199.9L201.5 98.1H202.8L204.4 96.1H225.1L226.7 95.1H229.0L230.6 94.1L231.5 93.1H233.8L235.4 92.1L236.3 91.1H244.4L246.0 90.1H262.7L264.3 89.1H265.7L267.3 88.1H273.4L275.0 87.1H294.7L296.3 86.1H298.6L300.2 85.1H343.1L344.7 84.1H352.8L354.4 83.1H379.8L381.4 82.1H405.0L406.6 81.1H419.5L421.1 80.1H464.0L465.6 79.1H495.0L496.6 78.1H501.4"/>
<path d="M89.2 491.3L89.3 412.3L89.3 407.3L89.3 402.3L89.3 397.3L89.4 392.3L89.5 386.3L89.5 381.3L89.6 376.3L89.6 371.3L89.7 364.3L89.8 358.3L90.0 353.3L90.1 347.3L90.3 341.3L90.4 336.3L90.5 331.3L90.7 325.3L91.0 319.3L91.2 313.3L91.4 308.3L91.7 303.3L92.1 298.3L92.5 291.3L92.8 286.3L93.1 281.3L93.4 276.3L93.8 269.3L94.4 261.3L94.9 256.3L95.4 249.3L96.1 244.3L96.9 237.3L97.6 232.3L98.3 227.3L99.6 221.3L100.5 216.3L101.5 210.3L102.6 203.3L103.8 198.3L104.8 191.3L105.7 185.3L106.6 179.3L107.3 174.3L108.1 169.3L109.6 161.3L110.6 156.3L111.5 152.3L112.5 147.3L113.5 140.3L114.5 137.3L115.4 132.3L116.4 130.3L117.4 126.3L118.2 123.3L119.3 121.3L120.3 119.3L120.8 116.3L122.2 113.3L123.2 112.3L124.1 110.3L126.1 109.3L126.7 108.3L128.0 107.3L129.0 106.3L130.9 105.3L131.9 104.3L132.8 103.3L134.8 102.3L136.7 101.3L137.7 100.3H140.4L142.0 99.3L144.3 98.3L145.4 97.3L146.4 96.3H147.7L149.3 95.3H151.5L153.1 93.3L155.1 92.3H157.3L158.9 91.3L159.9 90.3L161.9 89.3H164.1L165.7 87.3H174.8L176.4 86.3H183.5L185.1 85.3L187.0 83.3H189.3L190.9 82.3H192.2L193.8 81.3H198.9L200.5 80.3H201.7L203.3 79.3H206.7L208.3 78.3H214.4L216.0 77.3H501.4"/>
<path d="M89.2 492.0L89.3 418.0L89.3 413.0L89.3 408.0L89.4 401.0L89.4 396.0L89.5 391.0L89.6 386.0L89.7 380.0L89.7 375.0L89.9 369.0L90.0 364.0L90.2 359.0L90.3 354.0L90.6 347.0L90.9 339.0L91.2 334.0L91.5 326.0L91.8 321.0L92.2 316.0L92.8 310.0L93.1 305.0L93.6 300.0L94.2 294.0L94.9 288.0L95.4 283.0L96.3 277.0L97.0 271.0L98.0 267.0L98.7 262.0L99.6 256.0L100.5 252.0L101.0 247.0L102.1 241.0L103.2 236.0L103.8 231.0L104.8 227.0L105.7 221.0L106.6 216.0L108.1 209.0L109.6 203.0L110.6 199.0L111.5 197.0L112.5 192.0L113.5 189.0L114.5 186.0L115.4 184.0L115.8 181.0L117.0 179.0L118.2 174.0L118.3 173.0L119.5 172.0L120.8 169.0L121.2 168.0L122.2 166.0L123.2 163.0L124.1 162.0L125.1 159.0L126.1 158.0L126.7 157.0L128.4 156.0L129.0 155.0L129.9 153.0L130.9 152.0L131.9 150.0L131.9 148.0L133.7 146.0L134.8 145.0L135.7 142.0H138.0L139.6 140.0L140.6 139.0L141.5 137.0L143.5 135.0H144.8L146.4 133.0H147.7L149.3 132.0H150.3L151.9 131.0L152.2 130.0L153.1 129.0L155.1 128.0L156.0 127.0L157.0 126.0L158.0 125.0L159.9 124.0L160.5 123.0H162.0L163.6 122.0L164.8 121.0L165.7 119.0H167.0L168.6 118.0L170.6 117.0H171.9L173.5 116.0H175.9L177.5 115.0L179.3 114.0H181.5L183.1 112.0L185.4 111.0H187.3L188.9 110.0H191.2L192.8 109.0H196.0L197.6 108.0L198.6 107.0H205.7L207.3 106.0H215.4L217.0 105.0H219.3L220.9 104.0H226.0L227.6 102.0L229.6 101.0H248.3L249.9 100.0H255.1L256.7 99.0H303.4L305.0 97.0H306.3L307.9 96.0H345.0L346.6 95.0H347.9L349.5 94.0H351.8L353.4 93.0L354.4 92.0H385.6L387.2 91.0H390.5L392.1 90.0H403.1L404.7 89.0L405.6 88.0H413.7L415.3 87.0H448.5L450.1 86.0H470.8L472.4 85.0H501.4"/>
<path d="M89.2 492.4L89.3 418.4L89.3 413.4L89.3 408.4L89.4 402.4L89.4 397.4L89.5 392.4L89.5 386.4L89.6 380.4L89.7 375.4L89.7 369.4L89.9 363.4L90.0 357.4L90.1 352.4L90.2 347.4L90.3 342.4L90.6 334.4L90.8 328.4L91.0 323.4L91.2 317.4L91.5 311.4L91.7 306.4L92.0 301.4L92.2 296.4L92.6 291.4L92.9 285.4L93.3 280.4L93.6 275.4L94.0 270.4L94.4 263.4L94.9 258.4L95.7 251.4L96.6 244.4L97.0 239.4L98.0 230.4L99.0 224.4L99.6 218.4L100.5 212.4L101.5 205.4L102.6 196.4L102.8 194.4L103.8 189.4L104.8 186.4L105.7 180.4L107.3 173.4L108.1 168.4L109.6 162.4L110.6 159.4L111.5 156.4L112.5 153.4L113.5 149.4L114.5 145.4L115.4 141.4L116.4 140.4L117.4 138.4L118.2 136.4L119.3 133.4L120.3 131.4L121.2 128.4L122.2 127.4L123.2 126.4L124.1 124.4L125.1 122.4L126.7 121.4L128.0 119.4L129.0 117.4L129.9 115.4L130.9 113.4L132.8 111.4L133.8 110.4H135.1L136.7 109.4L137.7 107.4L139.6 106.4L141.5 104.4L142.5 103.4L143.5 102.4H144.8L146.4 101.4L146.8 100.4H147.7L149.3 99.4L150.2 97.4H151.5L153.1 96.4L155.1 95.4L156.0 94.4H161.2L162.8 92.4L163.6 91.4H165.3L166.9 90.4H168.7L170.3 89.4L171.5 88.4L173.8 87.4H175.7L177.3 86.4L179.3 85.4L180.2 84.4H185.4L187.0 83.4H195.1L196.7 82.4L198.6 80.4H204.8L206.4 79.4H208.6L210.2 78.4H250.2L251.8 77.4H257.0L258.6 76.4H280.2L281.8 75.4H446.6L448.2 74.4H485.3L486.9 73.4H501.4"/>
<path d="M89.2 491.6L89.3 416.6L89.3 411.6L89.3 406.6L89.4 399.6L89.4 394.6L89.4 389.6L89.5 384.6L89.6 379.6L89.7 374.6L89.8 368.6L89.9 362.6L90.0 357.6L90.2 350.6L90.3 345.6L90.5 340.6L90.7 334.6L90.9 328.6L91.2 323.6L91.4 318.6L91.7 312.6L92.1 306.6L92.6 299.6L93.1 292.6L93.6 287.6L94.2 280.6L94.9 273.6L95.7 266.6L96.3 261.6L97.0 254.6L98.0 247.6L98.7 242.6L99.6 236.6L100.5 230.6L101.5 224.6L102.6 217.6L103.8 212.6L104.8 207.6L105.7 204.6L106.7 199.6L107.7 193.6L108.6 191.6L109.6 187.6L110.6 182.6L111.5 180.6L112.5 174.6L113.5 173.6L114.5 169.6L115.4 166.6L116.4 164.6L117.0 163.6L118.2 161.6L118.3 160.6L119.3 158.6L120.3 157.6L120.8 155.6L122.2 152.6L123.2 149.6L124.1 148.6L125.1 145.6L125.1 144.6L126.1 142.6L126.7 141.6L128.0 138.6L129.0 136.6L129.9 133.6L130.9 132.6L131.9 130.6L132.8 128.6L133.7 126.6L134.8 124.6L135.7 122.6L137.7 119.6L139.6 117.6L140.6 116.6L141.5 114.6L142.5 111.6L143.5 110.6L144.3 108.6L145.4 107.6L146.4 106.6L147.3 105.6L148.3 104.6L149.3 103.6L150.2 101.6L151.2 100.6L153.1 98.6L155.1 97.6L157.0 96.6L158.0 95.6L159.9 93.6H161.2L162.8 92.6L163.8 91.6H178.6L180.2 90.6H199.9L201.5 89.6H207.7L209.3 88.6H212.5L214.1 87.6H219.3L220.9 86.6H224.1L225.7 85.6H253.1L254.7 84.6H258.0L259.6 83.6H271.5L273.1 82.6H276.3L277.9 81.6H281.2L282.8 80.6H401.1L402.7 79.6H466.0L467.6 78.6H484.3L485.9 77.6H501.4"/>
<path d="M89.2 492.4L89.3 415.4L89.3 410.4L89.3 405.4L89.3 400.4L89.4 395.4L89.4 390.4L89.5 385.4L89.5 380.4L89.6 374.4L89.7 368.4L89.7 363.4L89.8 358.4L89.9 353.4L90.0 348.4L90.2 343.4L90.4 337.4L90.5 331.4L90.7 326.4L91.0 321.4L91.2 316.4L91.4 311.4L91.6 306.4L92.0 300.4L92.3 294.4L92.8 287.4L93.1 282.4L93.4 276.4L93.8 271.4L94.4 266.4L94.9 260.4L95.7 254.4L96.6 246.4L97.6 240.4L98.3 235.4L99.0 230.4L99.6 225.4L100.5 217.4L101.5 210.4L102.6 204.4L103.8 198.4L104.5 193.4L105.7 187.4L106.7 182.4L108.1 176.4L109.6 170.4L110.6 165.4L111.5 161.4L112.5 159.4L113.5 156.4L114.5 152.4L115.4 149.4L116.4 147.4L117.4 144.4L118.2 142.4L119.3 139.4L120.3 138.4L121.2 135.4L122.2 134.4L123.2 133.4L124.1 129.4L125.1 128.4L126.1 127.4L126.7 124.4L128.0 122.4L129.0 121.4L129.9 119.4L131.9 117.4L132.8 116.4L134.8 115.4L135.7 113.4L136.7 112.4L138.6 111.4L139.6 108.4L141.5 107.4L142.0 106.4L143.5 104.4L144.3 103.4L145.4 102.4L146.8 101.4L148.3 100.4L150.2 98.4H155.9L157.5 97.4L158.9 96.4H161.2L162.8 95.4L163.6 94.4H168.7L170.3 93.4L171.5 92.4L172.5 91.4H173.8L175.4 90.4L176.4 88.4L178.3 87.4H180.6L182.2 86.4H183.5L185.1 85.4H189.3L190.9 84.4H195.1L196.7 83.4L198.6 82.4H200.9L202.5 81.4H205.7L207.3 80.4H225.1L226.7 79.4H230.9L232.5 78.4H239.6L241.2 77.4H258.9L260.5 76.4H274.4L276.0 75.4H286.0L287.6 74.4H349.9L351.5 73.4H501.4"/>
<path d="M89.2 490.8L89.3 416.8L89.3 411.8L89.4 405.8L89.4 400.8L89.4 394.8L89.5 389.8L89.6 383.8L89.7 378.8L89.8 373.8L89.9 368.8L90.0 363.8L90.2 358.8L90.3 353.8L90.5 348.8L90.8 343.8L90.9 338.8L91.2 333.8L91.5 328.8L91.7 323.8L92.2 317.8L92.6 310.8L93.1 303.8L93.6 298.8L94.0 293.8L94.4 288.8L95.2 282.8L95.7 277.8L96.3 271.8L96.9 266.8L98.0 260.8L98.7 253.8L99.9 246.8L100.5 241.8L101.0 236.8L102.1 230.8L103.2 225.8L103.8 220.8L104.8 214.8L105.7 210.8L106.7 205.8L107.7 201.8L108.9 197.8L109.6 194.8L110.6 191.8L111.5 187.8L112.5 184.8L113.5 182.8L114.5 180.8L115.4 177.8L116.4 176.8L117.4 173.8L118.2 171.8L119.3 169.8L120.3 168.8L121.2 166.8L122.2 164.8L123.2 161.8L124.1 160.8L125.1 159.8L125.1 158.8L126.1 156.8L127.0 154.8L128.0 153.8L129.0 151.8L129.9 150.8L130.9 149.8L131.9 147.8L131.9 145.8L133.7 143.8L134.8 142.8L135.7 141.8L137.7 139.8L138.6 138.8L139.6 137.8L140.6 136.8L141.5 135.8L142.5 133.8L144.3 132.8L145.4 131.8L146.4 129.8L148.3 127.8L149.3 126.8L151.2 122.8H158.9L160.5 120.8H162.0L163.6 119.8L164.8 118.8H167.0L168.6 117.8L170.3 116.8H171.9L173.5 115.8H174.8L176.4 114.8L177.5 112.8H178.6L180.2 111.8L182.2 110.8L183.1 109.8H186.4L188.0 108.8L189.9 107.8L190.9 106.8H206.7L208.3 105.8H211.5L213.1 104.8L215.1 103.8H216.4L218.0 102.8H225.1L226.7 101.8L227.6 100.8H236.7L238.3 99.8H248.4L250.0 98.8L251.8 96.8H286.0L287.6 95.8H292.8L294.4 94.8H297.6L299.2 93.8H316.0L317.6 92.8L319.5 91.8H327.6L329.2 90.8H339.2L340.8 89.8H344.1L345.7 88.8H355.7L357.3 87.8H364.4L366.0 86.8H383.7L385.3 85.8H392.4L394.0 84.8H443.7L445.3 83.8H457.2L458.8 82.8H461.1L462.7 81.8H490.1L491.7 80.8H501.4"/>
<path d="M89.2 490.6L89.3 408.6L89.3 403.6L89.3 397.6L89.4 392.6L89.4 387.6L89.5 382.6L89.5 376.6L89.6 370.6L89.7 365.6L89.9 359.6L90.1 353.6L90.2 348.6L90.4 342.6L90.6 336.6L90.8 331.6L91.0 325.6L91.2 320.6L91.5 314.6L91.8 307.6L92.2 302.6L92.6 296.6L93.3 291.6L93.8 285.6L94.4 278.6L95.2 272.6L95.7 267.6L96.6 261.6L97.2 256.6L98.0 250.6L98.7 245.6L99.6 240.6L100.5 235.6L101.5 230.6L102.6 227.6L103.8 219.6L105.1 214.6L106.6 207.6L107.7 201.6L108.6 195.6L109.6 191.6L110.6 186.6L111.5 182.6L112.5 177.6L113.5 175.6L114.5 172.6L115.4 168.6L116.4 166.6L117.4 163.6L118.2 160.6L119.3 158.6L120.3 155.6L121.2 153.6L122.2 151.6L122.2 150.6L123.2 149.6L124.1 146.6L125.1 144.6L126.7 143.6L127.0 142.6L128.0 139.6L128.4 138.6L129.9 137.6L130.9 135.6L131.9 134.6L131.9 133.6L132.8 132.6L133.7 130.6L135.7 129.6L135.7 128.6L137.7 126.6L138.6 125.6L139.6 124.6L141.5 121.6L142.5 120.6L143.5 119.6L144.4 118.6L145.4 117.6H146.7L148.3 116.6L149.3 115.6L151.2 114.6L152.2 113.6H155.4L157.0 111.6H158.3L159.9 110.6L160.9 109.6H162.0L163.6 108.6H165.1L166.7 107.6H168.7L170.3 106.6H171.9L173.5 105.6L175.4 104.6L177.5 102.6H180.6L182.2 101.6H183.5L185.1 100.6H187.3L188.9 99.6H206.7L208.3 97.6H209.6L211.2 96.6L213.1 95.6L214.1 94.6H217.4L219.0 93.6L220.9 92.6H224.1L225.7 91.6H241.6L243.2 90.6H248.4L250.0 89.6H254.1L255.7 88.6H260.9L262.5 87.6H267.6L269.2 86.6H275.4L277.0 85.6H278.4L280.0 84.6H298.6L300.2 83.6H304.5L306.1 82.6H333.4L335.0 81.6H340.2L341.8 80.6H372.1L373.7 79.6H391.5L393.1 78.6H423.4L425.0 77.6H491.1L492.7 76.6H501.4"/>
<path d="M89.2 490.3L89.3 418.3L89.3 412.3L89.3 407.3L89.4 402.3L89.4 397.3L89.5 392.3L89.6 387.3L89.6 380.3L89.7 375.3L89.8 370.3L89.9 365.3L90.1 359.3L90.3 353.3L90.6 346.3L90.8 341.3L91.1 336.3L91.3 331.3L91.5 326.3L92.0 319.3L92.3 313.3L92.8 306.3L93.3 299.3L93.8 293.3L94.4 288.3L94.9 283.3L95.7 277.3L96.6 271.3L97.6 265.3L98.3 260.3L99.6 254.3L100.5 249.3L101.5 244.3L102.6 240.3L103.8 235.3L104.8 232.3L105.7 228.3L106.7 224.3L108.1 219.3L108.6 217.3L109.6 215.3L110.6 210.3L111.5 208.3L112.5 203.3L113.5 199.3L114.5 197.3L115.4 194.3L116.4 191.3L117.4 189.3L118.3 185.3L119.3 183.3L120.3 179.3L121.2 177.3L122.2 175.3L123.6 174.3L124.1 173.3L125.1 171.3L126.1 170.3L126.7 168.3L128.0 167.3L128.4 166.3L129.9 163.3L131.9 162.3L132.8 161.3L133.8 160.3L135.7 158.3L135.7 157.3L137.7 155.3L139.8 154.3L140.6 153.3L141.5 151.3L142.5 150.3L144.3 149.3L145.4 147.3H147.7L149.3 145.3L150.2 144.3L151.9 142.3L154.1 141.3L154.6 140.3L157.0 139.3L158.9 138.3L159.9 137.3L160.9 136.3L161.9 134.3L163.6 133.3L165.7 132.3L166.9 131.3H168.0L169.6 130.3L170.6 128.3H172.8L174.4 127.3L175.4 126.3H180.6L182.2 125.3H184.4L186.0 124.3L187.0 123.3L188.0 122.3L188.9 121.3H191.2L192.8 120.3L194.0 119.3L195.7 118.3L197.6 117.3L198.6 116.3L199.6 115.3L200.5 114.3H201.8L203.4 112.3H207.7L209.3 111.3L211.2 110.3H217.3L218.9 109.3H222.2L223.8 108.3H228.9L230.5 107.3H233.8L235.4 106.3L236.8 105.3H238.6L240.2 104.3L241.2 103.3H248.3L249.9 102.3H262.7L264.3 101.3H270.5L272.1 100.3H313.1L314.7 99.3L315.6 98.3H317.9L319.5 97.3H322.8L324.4 96.3L325.5 95.3L326.3 94.3L328.2 93.3H329.5L331.1 92.3H340.2L341.8 90.3H368.0L369.6 89.3H385.6L387.2 88.3H394.4L396.0 87.3H441.8L443.4 86.3H444.7L446.3 85.3H469.8L471.4 84.3H472.7L474.3 83.3H501.4"/>
<path d="M89.2 491.8L89.3 421.8L89.3 416.8L89.3 410.8L89.4 405.8L89.4 400.8L89.5 394.8L89.5 388.8L89.6 383.8L89.7 376.8L89.8 371.8L89.9 366.8L90.1 359.8L90.2 353.8L90.4 347.8L90.5 342.8L90.7 337.8L90.8 332.8L91.0 327.8L91.2 321.8L91.4 315.8L91.7 310.8L92.1 305.8L92.5 299.8L92.8 294.8L93.3 289.8L93.6 283.8L94.2 277.8L94.7 272.8L95.2 266.8L96.0 258.8L96.9 252.8L98.0 246.8L99.0 241.8L99.9 235.8L100.9 230.8L101.9 227.8L102.8 224.8L103.8 219.8L104.8 216.8L105.7 213.8L106.7 209.8L107.7 206.8L108.6 204.8L109.6 200.8L110.6 197.8L111.5 194.8L112.5 192.8L113.5 189.8L114.5 186.8L115.4 184.8L116.4 182.8L117.4 180.8L118.3 177.8L119.5 176.8L120.8 173.8L121.2 171.8L122.2 170.8L123.2 168.8L123.6 167.8L125.1 165.8L126.1 162.8L126.7 161.8L128.0 159.8L129.0 158.8L129.9 157.8L130.9 152.8L131.9 151.8L132.8 149.8L133.7 148.8L134.8 147.8L135.7 146.8L136.7 143.8L138.6 142.8L139.8 141.8L140.6 140.8L141.5 139.8L142.5 136.8H144.8L146.4 135.8L147.3 133.8L148.3 132.8L149.3 131.8L151.2 130.8L151.9 127.8L153.1 126.8H155.4L157.0 125.8L158.9 124.8L160.5 123.8L160.9 122.8L162.8 121.8L164.8 120.8L165.7 118.8H168.7L170.3 117.8L172.5 116.8L173.8 115.8L174.4 114.8H175.7L177.3 113.8H182.5L184.1 112.8H186.4L188.0 110.8H192.4L194.0 109.8H198.9L200.5 108.8H201.7L203.3 107.8H206.7L208.3 106.8H211.5L213.1 105.8L214.1 103.8H215.4L217.0 102.8H221.2L222.8 100.8H226.0L227.6 99.8H229.9L231.5 98.8L233.4 97.8H239.6L241.2 96.8L243.2 95.8H246.3L247.9 94.8H280.2L281.8 93.8L282.8 92.8H294.7L296.3 91.8H310.2L311.8 90.8L313.7 89.8H319.9L321.5 88.8H324.7L326.3 87.8H343.1L344.7 86.8H363.4L365.0 85.8H372.1L373.7 84.8H397.3L398.9 83.8L400.8 82.8H432.1L433.7 81.8H461.1L462.7 80.8H494.0L495.6 79.8H501.4"/>
<path d="M89.2 491.5L89.3 419.5L89.3 414.5L89.3 409.5L89.4 403.5L89.5 398.5L89.6 392.5L89.6 385.5L89.7 380.5L89.9 375.5L90.0 369.5L90.2 363.5L90.4 358.5L90.6 351.5L90.8 346.5L91.1 340.5L91.4 333.5L91.7 328.5L92.2 322.5L92.9 316.5L93.4 311.5L94.2 304.5L94.9 299.5L95.7 293.5L96.6 287.5L97.2 282.5L98.0 277.5L98.7 272.5L99.6 266.5L100.5 260.5L101.5 254.5L102.6 250.5L103.8 242.5L104.8 238.5L105.7 235.5L107.3 229.5L108.6 224.5L109.6 221.5L110.6 218.5L111.5 215.5L112.5 212.5L113.5 208.5L114.5 207.5L115.4 205.5L115.8 204.5L117.0 200.5L118.2 198.5L119.3 197.5L120.3 193.5L121.2 192.5L122.2 189.5L123.2 187.5L124.1 184.5L125.1 183.5L126.1 180.5L127.0 178.5L128.0 177.5L129.0 174.5L130.1 173.5L130.9 171.5L131.9 169.5L133.7 167.5L134.8 166.5L135.7 165.5L137.7 164.5L139.6 163.5L140.6 161.5L141.5 160.5L142.0 159.5L143.5 157.5L144.3 156.5H145.7L147.3 155.5L148.3 153.5L149.3 151.5L150.2 150.5L151.2 148.5L153.1 146.5L154.6 145.5L156.0 144.5L157.0 143.5L158.9 141.5H160.3L161.9 140.5L162.8 139.5H165.3L166.9 138.5H168.0L169.6 137.5L171.5 136.5L172.5 134.5L173.5 133.5L174.4 132.5H175.7L177.3 131.5L178.3 130.5L179.3 128.5L181.2 127.5L181.4 126.5H183.5L185.1 124.5H186.4L188.0 123.5H192.4L194.0 122.5H195.1L196.7 121.5L198.6 120.5H201.8L203.4 119.5H206.7L208.3 118.5H211.5L213.1 117.5H215.4L217.0 116.5L218.0 115.5L219.9 114.5L220.9 113.5L221.8 112.5L223.8 111.5H229.0L230.6 110.5H237.6L239.2 109.5H259.9L261.5 108.5H262.7L264.3 107.5L265.4 106.5H266.7L268.3 105.5H274.4L276.0 104.5H278.4L280.0 103.5H284.1L285.7 102.5L287.6 101.5L289.5 100.5L291.5 99.5H313.1L314.7 98.5H321.8L323.4 97.5L325.5 95.5H338.2L339.8 94.5H346.0L347.6 92.5H351.8L353.4 91.5H374.0L375.6 90.5H376.9L378.5 89.5L380.5 88.5L382.4 87.5H385.6L387.2 86.5H412.7L414.3 85.5H436.9L438.5 83.5H501.4"/>
<path d="M89.2 490.8L89.3 421.8L89.3 416.8L89.3 411.8L89.4 405.8L89.4 400.8L89.5 395.8L89.6 390.8L89.7 385.8L89.8 380.8L89.9 375.8L90.0 370.8L90.2 365.8L90.4 360.8L90.5 354.8L90.7 348.8L90.9 343.8L91.2 337.8L91.6 330.8L92.0 324.8L92.3 318.8L92.9 313.8L93.4 307.8L94.0 302.8L94.4 297.8L95.4 291.8L96.3 285.8L97.0 280.8L98.0 273.8L98.7 268.8L99.6 263.8L100.5 257.8L101.5 250.8L102.6 248.8L102.8 247.8L103.8 243.8L105.1 237.8L106.6 233.8L108.1 228.8L108.9 223.8L109.6 222.8L110.6 221.8L111.5 217.8L112.5 213.8L113.5 212.8L114.5 210.8L115.4 208.8L116.4 207.8L117.4 203.8L118.2 202.8L119.3 198.8L120.3 196.8L121.2 193.8L122.2 190.8L123.2 188.8L124.1 185.8L125.1 183.8L125.1 182.8L126.1 180.8L128.0 178.8L129.0 176.8L129.9 175.8L130.9 172.8L132.8 169.8L133.8 168.8L135.7 166.8L136.7 165.8L137.7 164.8L138.6 163.8L139.6 162.8L139.8 161.8L141.5 159.8L142.5 157.8L143.5 156.8L144.4 155.8L146.4 154.8L148.3 153.8L150.2 150.8L151.2 149.8L152.2 147.8H153.0L154.6 146.8L155.1 145.8H155.9L157.5 144.8H158.9L160.5 143.8L161.9 142.8H165.1L166.7 141.8H169.9L171.5 140.8L173.5 138.8L174.4 137.8L176.4 136.8L177.5 135.8L178.3 134.8L180.2 133.8L181.2 132.8L182.2 131.8L184.1 130.8L185.1 129.8H189.3L190.9 128.8L192.8 127.8L193.8 126.8H196.0L197.6 125.8L198.6 124.8H203.8L205.4 123.8H219.3L220.9 122.8H222.2L223.8 121.8L224.7 120.8H229.0L230.6 118.8H234.7L236.3 117.8L236.8 116.8H238.6L240.2 115.8H246.3L247.9 114.8L248.9 113.8H262.7L264.3 112.8H265.7L267.3 110.8L269.2 109.8H290.8L292.4 108.8H301.5L303.1 106.8H312.1L313.7 105.8H321.8L323.4 104.8H347.0L348.6 103.8L350.5 102.8H351.8L353.4 101.8H356.3L357.9 99.8H363.4L365.0 98.8H369.2L370.8 97.8H380.3L381.9 96.8H386.6L388.2 95.8H404.0L405.6 94.8H411.8L413.4 93.8L414.3 92.8H434.9L436.5 91.8H445.6L447.2 90.8L448.2 89.8H501.4"/>
<path d="M89.2 490.6L89.3 422.6L89.3 417.6L89.4 411.6L89.4 406.6L89.5 401.6L89.5 396.6L89.7 390.6L89.8 383.6L89.9 377.6L90.1 371.6L90.3 366.6L90.5 359.6L90.8 354.6L91.0 349.6L91.4 343.6L91.7 338.6L92.1 333.6L92.5 328.6L92.9 322.6L93.4 317.6L94.2 311.6L94.7 306.6L95.7 299.6L96.6 293.6L97.2 288.6L98.0 283.6L99.0 276.6L100.0 271.6L101.0 266.6L102.6 260.6L103.8 254.6L104.8 250.6L105.8 248.6L107.3 243.6L107.7 242.6L108.6 240.6L109.6 235.6L110.6 232.6L111.5 230.6L112.5 228.6L113.5 225.6L114.5 222.6L115.4 220.6L116.4 218.6L117.4 215.6L118.2 212.6L119.3 210.6L120.3 208.6L121.2 205.6L122.2 202.6L123.6 200.6L125.1 197.6L126.1 196.6L127.0 193.6L128.0 191.6L129.0 189.6L129.9 187.6L130.9 184.6L131.9 183.6L131.9 182.6L132.8 180.6L133.7 179.6L134.8 176.6L135.7 174.6L136.7 172.6L137.7 171.6L137.7 170.6L138.6 168.6L139.6 166.6L140.6 164.6L141.5 163.6L143.5 160.6L144.4 158.6L145.4 157.6L146.4 155.6L148.3 153.6L149.3 152.6L150.2 151.6L151.2 149.6L153.1 148.6L154.1 147.6L156.0 146.6L157.0 144.6L158.0 143.6L159.9 142.6L160.9 141.6H162.0L163.6 140.6L163.8 139.6H165.1L166.7 137.6L167.7 136.6H168.7L170.3 135.6L170.6 134.6L171.5 133.6H173.8L175.4 131.6L177.3 130.6L178.3 129.6H179.8L181.4 128.6H183.5L185.1 126.6L185.4 125.6H188.0L189.6 124.6H191.2L192.8 123.6H197.0L198.6 121.6H201.8L203.4 120.6H206.7L208.3 119.6L208.3 118.6L210.2 117.6L211.2 116.6L213.1 115.6H215.4L217.0 114.6H219.3L220.9 113.6H223.1L224.7 112.6H237.6L239.2 111.6L241.2 110.6H255.4L257.0 109.6H258.0L259.6 108.6H270.5L272.1 107.6H311.2L312.8 106.6L313.7 105.6L315.6 104.6H338.2L339.8 103.6H341.2L342.8 102.6H344.1L345.7 101.6H361.5L363.1 100.6H367.3L368.9 99.6H390.5L392.1 98.6H407.9L409.5 97.6H420.5L422.1 96.6H430.1L431.7 95.6H435.0L436.6 94.6H462.1L463.7 93.6H465.9L467.5 92.6H478.5L480.1 91.6L481.1 90.6L482.1 89.6H501.4"/>
<path d="M89.2 492.4L89.3 415.4L89.3 410.4L89.3 405.4L89.4 400.4L89.4 395.4L89.5 389.4L89.5 383.4L89.6 377.4L89.7 372.4L89.8 367.4L89.9 362.4L90.0 357.4L90.2 351.4L90.4 346.4L90.5 340.4L90.7 334.4L90.9 329.4L91.1 324.4L91.4 318.4L91.7 313.4L92.1 307.4L92.5 301.4L92.9 294.4L93.4 288.4L94.0 282.4L94.4 277.4L94.9 271.4L95.4 266.4L96.0 260.4L96.9 254.4L97.6 247.4L98.3 241.4L99.0 236.4L99.9 231.4L100.9 227.4L101.9 221.4L103.2 215.4L104.5 210.4L105.7 204.4L106.7 200.4L107.7 196.4L108.6 191.4L109.6 188.4L110.6 185.4L111.5 181.4L112.5 176.4L113.5 173.4L114.5 170.4L115.4 168.4L116.4 165.4L117.4 163.4L118.2 161.4L119.3 158.4L120.3 157.4L121.2 154.4L122.2 152.4L123.2 151.4L124.1 150.4L126.1 149.4L127.0 146.4L128.4 143.4L129.9 142.4L130.9 141.4L131.9 140.4L132.8 139.4L133.7 137.4L135.7 136.4L136.7 135.4L137.7 133.4L138.6 131.4L139.6 130.4H140.4L142.0 129.4L143.5 128.4L144.3 126.4L146.4 125.4L147.3 124.4L148.3 122.4L149.3 121.4H150.3L151.9 120.4L152.2 119.4L154.1 118.4L156.0 117.4L157.0 116.4L158.0 115.4L159.9 114.4H161.2L162.8 113.4H164.1L165.7 112.4L166.7 111.4H169.9L171.5 110.4H172.8L174.4 109.4L176.4 108.4H179.6L181.2 105.4H183.5L185.1 103.4H192.2L193.8 102.4H197.0L198.6 101.4H199.9L201.5 100.4H204.8L206.4 99.4H219.3L220.9 97.4H222.2L223.8 96.4H244.4L246.0 94.4L247.9 93.4L248.9 92.4H259.9L261.5 91.4L263.4 90.4H266.7L268.3 89.4H299.6L301.2 88.4H307.3L308.9 87.4H312.1L313.7 86.4H315.0L316.6 85.4L317.6 84.4H328.6L330.2 83.4H331.5L333.1 82.4H338.2L339.8 81.4H360.5L362.1 80.4H369.2L370.8 79.4H372.1L373.7 78.4H406.0L407.6 77.4H441.8L443.4 76.4H491.1L492.7 75.4H501.4"/>
<path d="M89.2 492.4L89.3 422.4L89.3 417.4L89.3 412.4L89.4 407.4L89.4 402.4L89.5 395.4L89.5 390.4L89.6 384.4L89.6 378.4L89.7 373.4L89.8 368.4L90.0 363.4L90.1 358.4L90.2 353.4L90.4 348.4L90.7 343.4L90.8 337.4L91.1 331.4L91.4 326.4L91.7 320.4L92.1 314.4L92.5 308.4L92.9 302.4L93.4 297.4L93.8 292.4L94.4 285.4L94.9 279.4L95.4 274.4L96.0 269.4L96.6 264.4L97.2 259.4L98.0 253.4L98.7 246.4L99.6 240.4L100.5 235.4L101.5 228.4L102.6 222.4L103.8 215.4L104.5 209.4L105.7 204.4L107.3 198.4L108.6 192.4L109.6 188.4L110.6 184.4L111.5 182.4L112.5 178.4L113.5 175.4L114.5 173.4L115.4 168.4L116.4 166.4L117.4 162.4L118.2 160.4L119.3 158.4L120.3 155.4L121.2 152.4L122.2 151.4L123.2 149.4L125.1 147.4L126.1 146.4L126.7 144.4L128.0 142.4L129.9 139.4H131.2L132.8 138.4L133.7 135.4L134.8 133.4L135.7 132.4L136.7 131.4L137.7 128.4L139.6 127.4L141.5 126.4L142.5 125.4L144.3 124.4L144.4 123.4L146.8 122.4H149.6L151.2 121.4L152.2 120.4L154.1 119.4L156.0 118.4L158.0 117.4L159.9 115.4H161.2L162.8 114.4L163.8 112.4H167.0L168.6 111.4L169.6 110.4L170.6 109.4L172.5 108.4H175.7L177.3 107.4H181.5L183.1 106.4L185.1 104.4H187.3L188.9 103.4L189.6 102.4H192.2L193.8 101.4L195.7 99.4H210.6L212.2 97.4H225.1L226.7 96.4H228.9L230.5 95.4H232.8L234.4 93.4H238.6L240.2 92.4H259.9L261.5 91.4H262.8L264.4 90.4H270.4L272.0 89.4L272.1 88.4H276.3L277.9 87.4H297.6L299.2 86.4H344.1L345.7 85.4H353.7L355.3 84.4H375.0L376.6 83.4L378.5 82.4H383.7L385.3 81.4H391.5L393.1 80.4H501.4"/>
<path d="M89.2 492.0L89.3 416.0L89.3 411.0L89.3 406.0L89.4 401.0L89.4 396.0L89.4 390.0L89.5 385.0L89.5 380.0L89.6 375.0L89.7 369.0L89.8 363.0L89.9 358.0L90.0 352.0L90.1 346.0L90.3 341.0L90.4 336.0L90.6 330.0L90.8 325.0L91.0 320.0L91.3 314.0L91.6 308.0L91.8 301.0L92.3 295.0L92.8 289.0L93.1 284.0L93.6 279.0L94.0 274.0L94.7 268.0L95.2 263.0L96.0 255.0L96.6 250.0L97.2 243.0L98.0 238.0L98.7 232.0L99.6 225.0L100.0 220.0L100.9 215.0L101.9 208.0L102.6 203.0L103.8 197.0L104.8 191.0L105.7 187.0L106.6 181.0L107.7 178.0L108.6 173.0L109.6 168.0L110.6 166.0L111.5 163.0L112.5 159.0L113.5 157.0L114.5 153.0L115.4 151.0L115.8 148.0L117.0 146.0L118.2 143.0L118.3 142.0L119.3 141.0L119.5 140.0L120.8 137.0L121.2 136.0L122.2 134.0L123.2 132.0L124.1 129.0L125.1 127.0L126.1 125.0L127.0 124.0L128.4 123.0L129.0 122.0L129.9 121.0L130.1 120.0L131.9 118.0L132.8 116.0L133.7 115.0L134.8 114.0L135.7 112.0L137.7 110.0L139.8 109.0L141.5 108.0L142.0 107.0L143.5 106.0L144.3 104.0H145.2L146.8 102.0L148.3 101.0H149.6L151.2 100.0L152.2 98.0L154.1 97.0L154.6 96.0L157.0 95.0L158.9 94.0H165.1L166.7 93.0H170.9L172.5 92.0H173.8L175.4 91.0L177.3 90.0H179.6L181.2 89.0H186.4L188.0 88.0L189.9 87.0H199.9L201.5 86.0H206.7L208.3 85.0L209.3 84.0H211.5L213.1 83.0H215.4L217.0 82.0L218.9 81.0H235.7L237.3 80.0H240.5L242.1 79.0H268.6L270.2 78.0H278.4L280.0 77.0H292.8L294.4 76.0H304.4L306.0 75.0H360.5L362.1 74.0H413.7L415.3 73.0H501.4"/>
<path d="M89.2 490.5L89.3 417.5L89.3 411.5L89.4 406.5L89.4 401.5L89.4 396.5L89.5 391.5L89.5 386.5L89.6 380.5L89.7 374.5L89.7 368.5L89.8 363.5L89.9 358.5L90.0 353.5L90.1 348.5L90.3 343.5L90.5 337.5L90.7 332.5L90.8 327.5L91.1 321.5L91.3 315.5L91.6 308.5L92.0 302.5L92.3 295.5L92.6 289.5L93.1 283.5L93.4 278.5L93.8 272.5L94.2 266.5L94.7 260.5L95.2 255.5L96.0 248.5L96.6 242.5L97.0 237.5L97.6 231.5L98.3 226.5L99.2 220.5L99.9 215.5L100.5 210.5L101.5 203.5L102.6 196.5L103.8 190.5L104.8 185.5L105.7 179.5L106.6 174.5L107.7 168.5L108.6 164.5L109.8 159.5L110.7 154.5L111.5 152.5L112.5 148.5L113.5 144.5L114.5 140.5L115.4 138.5L116.4 134.5L117.4 131.5L118.2 128.5L119.3 126.5L120.3 125.5L120.8 124.5L122.2 122.5L122.2 121.5H123.5L125.1 119.5L126.7 118.5H128.5L130.1 117.5L131.9 116.5L133.8 115.5L135.7 114.5L136.7 113.5L137.7 111.5H139.0L140.6 109.5L141.5 107.5H145.2L146.8 106.5L147.3 104.5H148.6L150.2 103.5H155.4L157.0 102.5L157.5 101.5H163.2L164.8 100.5H167.0L168.6 99.5H174.8L176.4 98.5H178.6L180.2 96.5H183.5L185.1 95.5L187.0 94.5L188.9 93.5L189.6 92.5H196.0L197.6 91.5H201.7L203.3 90.5H220.2L221.8 89.5H223.1L224.7 88.5H228.0L229.6 87.5H269.6L271.2 86.5H301.5L303.1 85.5H306.3L307.9 84.5L309.9 83.5H317.0L318.6 82.5H324.7L326.3 81.5H331.5L333.1 80.5H339.2L340.8 79.5H343.1L344.7 78.5H348.9L350.5 77.5H373.1L374.7 76.5H387.6L389.2 75.5H422.4L424.0 74.5H464.0L465.6 73.5H501.4"/>
<path d="M89.2 491.6L89.3 427.6L89.3 421.6L89.4 416.6L89.4 410.6L89.4 405.6L89.5 400.6L89.5 395.6L89.6 390.6L89.7 385.6L89.7 379.6L89.9 373.6L90.0 368.6L90.2 363.6L90.4 358.6L90.5 352.6L90.7 347.6L90.8 342.6L91.0 337.6L91.2 332.6L91.5 327.6L91.8 321.6L92.2 315.6L92.6 309.6L93.3 302.6L93.6 297.6L94.2 291.6L94.9 286.6L95.7 280.6L96.6 273.6L97.0 268.6L98.0 262.6L98.7 255.6L99.9 247.6L100.9 241.6L101.9 235.6L102.8 231.6L103.8 227.6L104.8 223.6L105.7 220.6L106.7 216.6L107.7 212.6L108.6 210.6L109.6 207.6L110.6 205.6L111.5 201.6L112.5 198.6L113.5 195.6L114.5 193.6L115.4 191.6L115.8 190.6L117.0 189.6L118.2 185.6L119.3 183.6L120.3 180.6L120.8 179.6L122.2 177.6L123.2 176.6L124.1 173.6L125.1 172.6L126.1 169.6L127.0 166.6L128.0 165.6L129.0 163.6L129.9 161.6L130.9 158.6L131.9 157.6L132.8 156.6L133.7 154.6L134.8 152.6L135.7 150.6L136.7 147.6L137.7 146.6L138.6 145.6L139.6 144.6L140.6 142.6L141.5 141.6L142.5 139.6L143.5 138.6L144.3 137.6L145.4 134.6L146.4 133.6L147.3 130.6L149.3 128.6L151.2 127.6L152.2 126.6L154.1 123.6H155.4L157.0 122.6L157.5 121.6L158.9 119.6H164.1L165.7 118.6H167.0L168.6 117.6H169.9L171.5 116.6L172.5 115.6L173.8 114.6L175.4 113.6H178.6L180.2 112.6H182.5L184.1 110.6L186.0 109.6L187.0 108.6H195.1L196.7 107.6H208.6L210.2 106.6H213.5L215.1 105.6H223.1L224.7 104.6L225.7 103.6H231.8L233.4 102.6L235.4 101.6L236.3 100.6H238.6L240.2 99.6L241.2 98.6L243.1 97.6H245.4L247.0 96.6H257.0L258.6 95.6H272.5L274.1 94.6H279.2L280.8 93.6L281.8 92.6L282.8 91.6H285.0L286.6 90.6H309.2L310.8 89.6H317.0L318.6 88.6H343.1L344.7 87.6L346.6 86.6H351.8L353.4 85.6H358.6L360.2 84.6H386.6L388.2 83.6H389.5L391.1 82.6H474.6L476.2 81.6H479.5L481.1 80.6H501.4"/>
<path d="M89.2 491.9L89.3 411.9L89.3 405.9L89.3 400.9L89.4 395.9L89.4 390.9L89.5 385.9L89.5 379.9L89.6 373.9L89.7 366.9L89.8 360.9L89.9 355.9L90.1 349.9L90.2 343.9L90.4 335.9L90.5 330.9L90.7 324.9L90.9 318.9L91.2 313.9L91.4 307.9L91.5 302.9L92.0 296.9L92.3 288.9L92.8 283.9L93.1 278.9L93.6 272.9L94.2 265.9L94.9 258.9L95.4 253.9L96.0 248.9L96.6 241.9L97.2 235.9L98.0 230.9L98.3 225.9L99.0 220.9L99.9 212.9L100.9 206.9L101.9 198.9L102.8 194.9L103.8 189.9L104.5 184.9L105.1 179.9L106.6 172.9L107.3 167.9L107.7 165.9L108.6 161.9L109.6 154.9L110.6 150.9L111.5 146.9L112.5 142.9L113.5 137.9L114.5 134.9L115.4 130.9L116.4 126.9L117.0 124.9L118.2 122.9L119.3 119.9L120.3 118.9L120.8 116.9L122.2 114.9L123.6 112.9L124.1 111.9L125.1 110.9L126.7 109.9L128.0 107.9L129.9 105.9L130.9 104.9L131.9 103.9L132.8 102.9L133.8 100.9L134.8 99.9L135.7 97.9H138.0L139.6 95.9L141.5 93.9H145.7L147.3 92.9H149.6L151.2 91.9H153.5L155.1 90.9L157.0 89.9H162.0L163.6 88.9H165.1L166.7 87.9L168.6 86.9H175.9L177.5 85.9H183.5L185.1 84.9H187.3L188.9 83.9H206.7L208.3 82.9H222.2L223.8 81.9H229.9L231.5 80.9H237.6L239.2 79.9H287.0L288.6 78.9H295.7L297.3 77.9H307.3L308.9 76.9H316.0L317.6 75.9H321.8L323.4 74.9H336.3L337.9 73.9H349.9L351.5 72.9H385.6L387.2 71.9H448.5L450.1 70.9H501.4"/>
</g>
<g stroke="#d4600f" stroke-width="1.5">
<path d="M89.2 492.4L89.3 416.4L89.3 411.4L89.3 406.4L89.4 401.4L89.4 396.4L89.4 390.4L89.5 385.4L89.5 380.4L89.6 375.4L89.7 370.4L89.8 364.4L89.9 359.4L90.0 354.4L90.1 349.4L90.2 344.4L90.4 339.4L90.5 334.4L90.7 329.4L91.0 322.4L91.2 317.4L91.5 311.4L91.8 304.4L92.2 297.4L92.6 292.4L92.9 287.4L93.3 282.4L93.8 276.4L94.2 271.4L94.7 265.4L95.2 260.4L95.7 255.4L96.3 250.4L97.0 244.4L98.0 237.4L98.7 232.4L99.6 226.4L100.5 222.4L101.5 216.4L102.6 210.4L103.8 204.4L104.8 200.4L105.7 194.4L107.3 190.4L108.6 185.4L109.6 182.4L110.6 179.4L111.5 177.4L112.5 175.4L113.5 171.4L115.4 168.4L116.4 166.4L117.0 165.4L118.2 162.4L119.3 160.4L120.3 158.4L120.8 156.4L122.2 155.4L122.2 154.4L123.2 152.4L124.1 149.4L125.1 147.4L126.1 146.4L126.7 144.4L128.0 142.4L129.9 139.4L130.9 138.4L131.9 136.4L133.7 135.4L134.8 134.4L135.7 133.4L136.7 132.4L137.7 130.4H139.0L140.6 129.4L141.5 128.4L142.5 126.4L144.3 125.4L145.4 124.4L146.8 122.4H147.7L149.3 120.4L150.2 119.4L151.9 118.4L152.2 117.4L153.1 116.4L154.1 115.4L156.0 113.4H158.3L159.9 112.4L160.9 111.4L162.8 110.4L163.6 109.4L165.7 108.4H169.9L171.5 107.4L173.5 106.4L175.4 105.4H179.6L181.2 104.4L182.2 103.4L184.1 102.4L185.4 101.4H188.3L189.9 100.4H192.4L194.0 99.4H195.1L196.7 98.4H204.8L206.4 97.4H207.7L209.3 96.4H214.4L216.0 95.4L218.0 94.4L219.9 93.4H226.0L227.6 92.4H228.9L230.5 91.4H235.2L236.8 90.4H242.5L244.1 89.4H248.4L250.0 88.4H255.1L256.7 87.4H260.9L262.5 86.4L264.3 85.4H271.5L273.1 84.4H297.6L299.2 83.4H303.4L305.0 82.4H310.2L311.8 81.4H334.4L336.0 80.4H342.1L343.7 79.4H348.9L350.5 78.4H406.9L408.5 77.4H422.4L424.0 76.4H476.6L478.2 75.4H501.4"/>
<path d="M89.2 492.5L89.3 416.5L89.3 411.5L89.3 405.5L89.4 400.5L89.4 395.5L89.4 390.5L89.5 385.5L89.6 379.5L89.6 374.5L89.7 367.5L89.8 362.5L89.9 356.5L90.1 349.5L90.2 344.5L90.4 338.5L90.6 333.5L90.8 328.5L91.0 323.5L91.2 318.5L91.5 313.5L91.8 306.5L92.2 299.5L92.5 294.5L92.9 288.5L93.4 281.5L94.0 275.5L94.4 269.5L94.9 263.5L95.7 257.5L96.3 251.5L96.9 246.5L97.6 241.5L98.3 234.5L99.2 228.5L99.9 223.5L100.9 218.5L101.9 213.5L102.8 208.5L103.8 204.5L105.1 198.5L106.6 192.5L107.7 188.5L108.6 185.5L109.6 183.5L110.6 180.5L111.5 177.5L112.5 174.5L113.5 172.5L114.5 170.5L115.4 168.5L116.4 166.5L117.4 164.5L118.2 162.5L119.3 159.5L120.3 158.5L121.2 155.5L122.2 154.5L123.2 152.5L125.1 150.5L126.1 149.5L126.7 147.5L128.0 146.5L129.0 143.5L129.9 142.5L130.9 141.5L131.9 140.5L132.8 138.5L133.7 137.5L134.8 135.5L136.7 134.5L137.7 132.5L138.6 131.5L139.6 130.5L139.8 129.5L141.5 128.5L142.5 127.5L143.5 126.5L144.4 125.5L145.4 123.5L146.4 122.5L148.3 121.5L149.3 120.5L151.2 119.5L151.9 117.5L154.1 116.5L155.1 115.5L157.0 114.5L158.9 113.5L159.9 112.5H161.2L162.8 111.5L163.8 110.5H165.1L166.7 109.5L166.9 108.5H168.0L169.6 107.5H170.9L172.5 106.5H184.4L186.0 105.5L188.0 104.5H189.3L190.9 103.5L192.8 102.5L194.7 101.5L195.7 100.5H197.0L198.6 98.5L200.5 97.5H201.8L203.4 96.5H205.7L207.3 95.5H221.2L222.8 94.5L224.7 93.5H227.0L228.6 92.5L230.6 91.5H234.7L236.3 90.5L236.8 89.5H239.6L241.2 88.5H248.4L250.0 87.5H255.4L257.0 86.5H263.8L265.4 85.5H278.4L280.0 84.5H285.0L286.6 83.5H297.6L299.2 82.5H312.1L313.7 81.5H325.7L327.3 80.5H334.4L336.0 79.5H377.9L379.5 78.5H393.1L394.7 77.5H423.4L425.0 76.5H484.3L485.9 75.5H501.4"/>
<path d="M89.2 491.5L89.3 443.5L89.3 438.5L89.3 433.5L89.4 428.5L89.4 422.5L89.5 416.5L89.5 411.5L89.6 406.5L89.7 400.5L89.7 395.5L89.8 388.5L89.9 383.5L90.0 378.5L90.1 372.5L90.2 367.5L90.3 362.5L90.5 357.5L90.6 352.5L90.7 347.5L90.9 342.5L91.1 336.5L91.3 330.5L91.5 325.5L91.7 319.5L92.1 311.5L92.3 304.5L92.6 299.5L92.9 294.5L93.3 287.5L93.6 282.5L94.0 274.5L94.4 268.5L94.9 260.5L95.4 254.5L95.7 249.5L96.3 242.5L96.9 236.5L97.2 231.5L98.0 223.5L98.3 217.5L98.7 212.5L99.2 207.5L99.9 200.5L100.5 193.5L101.5 185.5L102.1 180.5L102.8 175.5L103.8 169.5L104.8 164.5L105.7 160.5L107.3 153.5L108.6 148.5L109.6 145.5L110.6 141.5L111.5 139.5L112.5 135.5L113.5 134.5L114.5 131.5L115.4 130.5L115.8 129.5L117.0 127.5L117.4 125.5L118.3 124.5L119.3 123.5L120.3 121.5L121.2 120.5L122.2 119.5L123.2 118.5L124.1 117.5L125.1 116.5L126.7 114.5L128.0 113.5L129.9 111.5L131.9 110.5L132.8 109.5L133.7 108.5L134.8 107.5L135.7 106.5H138.0L139.6 105.5L139.8 104.5L141.5 103.5L142.0 101.5H143.8L145.4 100.5L146.4 99.5H147.7L149.3 98.5L150.2 97.5H152.5L154.1 96.5H155.4L157.0 95.5H158.3L159.9 94.5H166.1L167.7 93.5L169.6 92.5L171.5 91.5H177.7L179.3 90.5H181.5L183.1 89.5H184.4L186.0 88.5L188.0 87.5L189.6 85.5H193.1L194.7 84.5H196.0L197.6 83.5H217.3L218.9 82.5H226.0L227.6 81.5H229.0L230.6 80.5L231.5 79.5H241.6L243.2 78.5H260.9L262.5 77.5H289.9L291.5 76.5H307.3L308.9 75.5H312.1L313.7 74.5H366.3L367.9 73.5H410.8L412.4 72.5H466.0L467.6 71.5H501.4"/>
<path d="M89.2 491.4L89.3 438.4L89.3 432.4L89.4 426.4L89.4 421.4L89.4 416.4L89.5 411.4L89.5 406.4L89.6 401.4L89.7 395.4L89.7 389.4L89.8 384.4L89.9 377.4L90.0 372.4L90.1 367.4L90.2 362.4L90.4 357.4L90.5 352.4L90.7 346.4L90.8 341.4L91.1 334.4L91.3 326.4L91.6 319.4L91.8 313.4L92.1 307.4L92.3 300.4L92.8 291.4L93.1 285.4L93.4 277.4L93.8 270.4L94.2 264.4L94.7 257.4L94.9 252.4L95.4 246.4L96.0 239.4L96.6 232.4L97.0 227.4L97.6 220.4L98.3 211.4L98.7 206.4L99.6 198.4L100.0 193.4L100.9 187.4L101.5 181.4L102.6 172.4L103.8 165.4L104.8 160.4L105.7 155.4L106.7 150.4L108.1 146.4L109.6 139.4L110.6 138.4L111.5 135.4L112.5 131.4L113.5 130.4L114.5 128.4L115.4 126.4L115.8 124.4L117.4 122.4L118.2 120.4L119.3 119.4L119.5 118.4L120.8 117.4L121.2 116.4L122.2 115.4L123.2 114.4L123.6 113.4L125.1 112.4L126.1 111.4L127.0 110.4L129.0 109.4H130.3L131.9 108.4L131.9 107.4L133.7 106.4L135.7 104.4L136.7 103.4L137.7 102.4L138.6 101.4L140.6 100.4H141.9L143.5 98.4L145.4 96.4H147.7L149.3 95.4H155.4L157.0 94.4L157.5 93.4L158.9 92.4H162.2L163.8 91.4H166.1L167.7 90.4H168.7L170.3 89.4H171.9L173.5 88.4H179.8L181.4 87.4L182.2 86.4H189.3L190.9 85.4H192.4L194.0 84.4H198.9L200.5 83.4H204.8L206.4 82.4H211.5L213.1 81.4H215.4L217.0 80.4H223.1L224.7 79.4H230.9L232.5 78.4H236.7L238.3 77.4H240.5L242.1 76.4H299.6L301.2 75.4H310.2L311.8 74.4H327.6L329.2 73.4H374.0L375.6 72.4H437.9L439.5 71.4H501.4"/>
<path d="M89.2 491.6L89.3 439.6L89.3 434.6L89.3 429.6L89.4 423.6L89.4 418.6L89.4 412.6L89.5 407.6L89.5 401.6L89.6 396.6L89.7 391.6L89.7 385.6L89.8 380.6L89.9 373.6L90.0 367.6L90.1 362.6L90.3 356.6L90.4 351.6L90.5 346.6L90.7 341.6L90.8 335.6L91.0 330.6L91.2 324.6L91.5 317.6L91.7 311.6L92.0 305.6L92.2 300.6L92.5 294.6L92.8 288.6L93.1 282.6L93.4 274.6L93.8 267.6L94.2 261.6L94.7 255.6L94.9 250.6L95.4 242.6L96.0 236.6L96.6 229.6L97.0 222.6L97.6 215.6L98.0 210.6L98.7 201.6L99.2 195.6L99.9 185.6L100.5 180.6L101.5 172.6L102.6 166.6L103.8 160.6L104.5 155.6L105.7 150.6L106.6 145.6L107.7 143.6L108.6 139.6L109.6 136.6L110.6 133.6L111.5 128.6L112.5 127.6L113.5 125.6L114.5 124.6L115.4 121.6L115.8 120.6L117.0 119.6L117.4 117.6L119.3 115.6L120.3 114.6L121.2 113.6L122.2 111.6L122.2 110.6H123.5L125.1 108.6L126.1 106.6L127.0 105.6L128.0 104.6L128.4 103.6H130.3L131.9 102.6L132.8 100.6H134.1L135.7 99.6L137.7 97.6L139.8 95.6L141.5 94.6H142.8L144.4 93.6L145.4 92.6L147.3 91.6H154.4L156.0 90.6L157.5 89.6H158.3L159.9 88.6H163.2L164.8 87.6H174.8L176.4 86.6H177.7L179.3 85.6H184.4L186.0 84.6H187.3L188.9 83.6H191.2L192.8 82.6H198.9L200.5 81.6H204.8L206.4 80.6H211.5L213.1 79.6H217.3L218.9 78.6H223.1L224.7 77.6H232.8L234.4 76.6H263.8L265.4 75.6H270.4L272.0 74.6H278.3L279.9 73.6H321.8L323.4 72.6H392.4L394.0 71.6H485.3L486.9 70.6H501.4"/>
<path d="M89.2 491.1L89.3 434.1L89.3 429.1L89.3 424.1L89.4 419.1L89.4 414.1L89.4 409.1L89.5 404.1L89.5 399.1L89.6 394.1L89.7 388.1L89.7 382.1L89.8 375.1L89.9 370.1L90.0 363.1L90.1 357.1L90.3 351.1L90.4 345.1L90.6 340.1L90.7 334.1L90.9 329.1L91.1 322.1L91.2 317.1L91.4 312.1L91.7 305.1L92.0 300.1L92.2 294.1L92.5 288.1L92.8 283.1L93.1 278.1L93.4 271.1L93.8 265.1L94.2 258.1L94.7 250.1L95.2 243.1L95.7 234.1L96.3 228.1L96.9 220.1L97.2 214.1L97.6 208.1L98.0 203.1L98.7 194.1L99.6 185.1L100.5 176.1L101.0 171.1L101.5 166.1L102.6 160.1L103.8 153.1L104.8 149.1L105.7 144.1L106.7 140.1L107.7 135.1L108.9 133.1L109.6 130.1L110.6 127.1L111.5 123.1L112.5 122.1L113.5 120.1L114.5 118.1L114.7 116.1L115.8 115.1L117.0 112.1L118.2 109.1L119.3 107.1L120.3 106.1L122.2 104.1L123.2 103.1L124.1 102.1H126.4L128.0 100.1H130.3L131.9 99.1L132.8 98.1H134.1L135.7 97.1L136.7 96.1L137.7 95.1L139.6 94.1L139.8 93.1H140.9L142.5 92.1H145.7L147.3 91.1L149.3 90.1H152.5L154.1 89.1H155.4L157.0 87.1H160.3L161.9 86.1L163.8 85.1H165.3L166.9 84.1H173.8L175.4 83.1L177.5 82.1H180.6L182.2 81.1H185.4L187.0 80.1H189.3L190.9 79.1H195.1L196.7 78.1H198.9L200.5 77.1H202.8L204.4 76.1H233.8L235.4 75.1H244.4L246.0 74.1H290.8L292.4 73.1H325.7L327.3 72.1H378.9L380.5 71.1H462.1L463.7 70.1H501.4"/>
<path d="M89.2 490.5L89.3 432.5L89.3 426.5L89.3 421.5L89.4 416.5L89.4 410.5L89.5 403.5L89.5 397.5L89.6 391.5L89.7 386.5L89.7 379.5L89.8 374.5L89.9 369.5L90.0 362.5L90.1 357.5L90.3 351.5L90.4 345.5L90.5 340.5L90.7 333.5L90.9 327.5L91.1 321.5L91.2 316.5L91.4 310.5L91.6 304.5L91.8 298.5L92.1 293.5L92.3 288.5L92.6 282.5L92.9 275.5L93.3 270.5L93.6 264.5L94.0 257.5L94.4 251.5L94.9 243.5L95.4 236.5L96.0 230.5L96.3 224.5L96.9 215.5L97.6 206.5L98.0 201.5L98.3 196.5L99.0 188.5L99.6 180.5L100.5 174.5L101.0 169.5L101.9 164.5L103.2 158.5L104.5 151.5L105.7 145.5L106.7 141.5L107.7 137.5L108.6 133.5L109.6 130.5L110.6 126.5L111.5 123.5L112.5 119.5L113.7 118.5L114.5 117.5L115.4 115.5L115.8 114.5L117.0 113.5L118.2 110.5L119.3 109.5L120.3 108.5L121.2 107.5L122.2 106.5L123.2 104.5L125.1 103.5L126.7 102.5L128.0 101.5L128.4 100.5L129.9 99.5L131.9 98.5L133.8 97.5L135.7 96.5L137.7 95.5L138.6 94.5L139.6 93.5L140.6 92.5H141.9L143.5 91.5L145.4 90.5L146.4 89.5H157.3L158.9 88.5L160.5 87.5H162.2L163.8 86.5L164.8 85.5H168.0L169.6 84.5L171.5 83.5L172.5 82.5H184.4L186.0 81.5L188.0 80.5H197.0L198.6 79.5L199.6 78.5H207.7L209.3 77.5H216.4L218.0 76.5H226.0L227.6 75.5H239.6L241.2 74.5H261.8L263.4 73.5H283.1L284.7 72.5H297.6L299.2 71.5H405.0L406.6 70.5H501.4"/>
</g>
<g stroke="#2c7a2a" stroke-width="1.35">
<path d="M89.2 491.6L89.3 402.6L89.3 397.6L89.3 392.6L89.4 387.6L89.4 382.6L89.4 377.6L89.5 372.6L89.5 365.6L89.6 360.6L89.6 355.6L89.7 350.6L89.9 345.6L90.0 339.6L90.1 333.6L90.3 328.6L90.4 323.6L90.6 317.6L90.8 310.6L91.0 304.6L91.2 299.6L91.5 292.6L91.8 286.6L92.2 280.6L92.6 273.6L92.9 267.6L93.4 260.6L93.8 254.6L94.2 248.6L94.9 241.6L95.7 233.6L96.3 227.6L96.9 221.6L97.6 216.6L98.7 209.6L99.9 201.6L100.9 195.6L101.9 192.6L102.8 187.6L103.8 183.6L104.8 177.6L105.7 175.6L106.7 168.6L107.7 166.6L108.6 163.6L109.6 161.6L110.6 158.6L111.5 155.6L112.5 152.6L113.5 150.6L114.5 148.6L115.4 146.6L116.4 144.6L117.4 142.6L118.3 139.6L119.3 138.6L120.3 136.6L121.2 134.6L122.2 132.6L123.6 129.6L125.1 128.6L126.7 126.6L128.4 125.6L129.0 123.6L130.9 122.6L131.9 121.6L132.8 119.6L134.8 118.6L136.7 117.6L137.7 116.6L138.6 115.6H139.9L141.5 114.6L143.5 113.6L145.4 112.6L147.3 111.6H148.6L150.2 109.6H151.5L153.1 108.6L155.1 107.6L157.0 106.6L158.0 105.6L159.9 103.6H168.7L170.3 101.6H174.8L176.4 100.6L177.3 99.6H178.6L180.2 98.6L181.2 97.6H186.4L188.0 96.6H190.2L191.8 95.6H194.1L195.7 94.6H198.9L200.5 93.6H207.7L209.3 92.6L211.2 91.6H214.4L216.0 89.6H217.4L219.0 88.6H220.2L221.8 87.6H233.8L235.4 86.6H240.5L242.1 85.6H246.3L247.9 84.6H249.2L250.8 83.6H258.0L259.6 82.6H262.7L264.3 81.6H275.4L277.0 80.6H291.8L293.4 79.6H296.7L298.3 78.6H304.5L306.1 77.6H308.3L309.9 76.6H321.8L323.4 75.6H343.1L344.7 74.6H358.6L360.2 73.6H393.1L394.7 72.6H437.9L439.5 71.6H501.4"/>
<path d="M89.2 491.7L89.3 398.7L89.3 393.7L89.3 388.7L89.4 383.7L89.4 377.7L89.5 372.7L89.5 367.7L89.6 362.7L89.6 356.7L89.7 351.7L89.8 345.7L90.0 340.7L90.1 334.7L90.2 329.7L90.4 323.7L90.5 317.7L90.8 311.7L91.0 306.7L91.2 300.7L91.4 295.7L91.6 290.7L92.0 284.7L92.3 279.7L92.8 273.7L93.1 267.7L93.4 262.7L94.2 256.7L94.9 248.7L95.4 242.7L96.0 237.7L96.6 232.7L97.2 226.7L98.0 220.7L98.7 215.7L99.6 209.7L100.5 205.7L101.5 200.7L102.6 195.7L103.8 189.7L104.8 186.7L105.7 182.7L106.6 177.7L107.7 173.7L108.6 169.7L109.6 166.7L110.6 161.7L111.5 158.7L112.5 155.7L113.5 153.7L114.5 149.7L115.4 147.7L116.4 144.7L117.4 142.7L118.3 139.7L119.3 138.7L120.3 135.7L120.8 134.7L122.2 132.7L123.2 131.7L123.6 130.7L125.1 129.7L126.7 127.7L128.0 126.7L128.4 124.7L129.9 123.7L131.9 121.7L133.7 120.7L134.8 119.7L135.7 118.7L136.7 117.7L137.7 115.7H139.0L140.6 114.7L142.0 113.7L144.3 112.7H145.2L146.8 111.7L148.3 110.7L149.3 109.7L151.2 108.7L151.9 107.7H153.0L154.6 106.7L156.0 105.7L158.0 104.7H158.9L160.5 103.7L160.9 102.7H162.0L163.6 101.7L163.8 100.7H165.3L166.9 99.7L168.6 98.7H171.9L173.5 97.7H175.7L177.3 96.7H179.8L181.4 95.7L182.2 94.7H188.3L189.9 93.7L191.8 92.7H199.9L201.5 91.7L202.5 90.7H205.7L207.3 89.7H208.6L210.2 88.7H216.4L218.0 87.7H227.0L228.6 86.7L230.5 85.7H247.3L248.9 84.7H258.0L259.6 83.7H260.9L262.5 82.7H270.4L272.0 81.7H276.3L277.9 80.7H286.7L288.3 79.7H305.4L307.0 78.7H310.2L311.8 77.7H315.0L316.6 76.7H329.5L331.1 75.7H342.1L343.7 74.7H355.7L357.3 73.7H367.3L368.9 72.7H399.2L400.8 71.7H446.6L448.2 70.7H501.4"/>
<path d="M89.2 492.4L89.3 405.4L89.3 400.4L89.3 394.4L89.4 388.4L89.4 383.4L89.4 378.4L89.5 372.4L89.6 367.4L89.6 361.4L89.7 355.4L89.8 349.4L89.9 344.4L90.1 338.4L90.3 332.4L90.4 327.4L90.6 322.4L90.8 317.4L91.0 312.4L91.2 306.4L91.5 300.4L91.8 294.4L92.2 288.4L92.5 283.4L92.9 276.4L93.4 270.4L94.0 263.4L94.4 257.4L95.2 251.4L95.7 246.4L96.3 241.4L96.9 234.4L97.6 228.4L98.3 223.4L99.6 215.4L100.5 209.4L101.5 204.4L102.6 198.4L103.8 192.4L104.8 189.4L105.7 185.4L106.7 180.4L107.7 177.4L108.6 173.4L109.6 170.4L110.6 167.4L111.5 163.4L112.5 160.4L113.5 158.4L114.5 155.4L115.4 153.4L116.4 150.4L117.4 148.4L118.2 146.4L119.3 144.4L120.3 141.4L121.2 140.4L122.2 139.4L123.2 138.4L124.1 135.4L125.1 134.4L125.1 132.4L126.1 131.4L128.0 130.4L128.4 128.4L129.9 127.4L130.9 126.4L131.9 125.4L133.7 124.4L134.8 123.4L135.7 121.4L137.7 120.4L138.6 119.4L139.8 117.4L142.0 116.4H142.8L144.4 114.4H145.7L147.3 112.4H152.5L154.1 111.4L156.0 110.4L158.0 109.4L159.9 107.4H161.2L162.8 106.4H164.1L165.7 105.4L167.7 104.4H168.7L170.3 103.4L172.5 102.4L173.5 101.4H177.7L179.3 100.4L180.2 99.4H183.8L185.4 98.4L186.0 97.4H188.3L189.9 96.4H192.2L193.8 95.4L195.7 93.4H215.4L217.0 92.4H219.3L220.9 91.4L222.8 90.4H229.0L230.6 89.4H231.8L233.4 88.4H241.5L243.1 87.4H245.4L247.0 86.4H260.9L262.5 85.4L264.3 84.4H270.4L272.0 83.4H278.3L279.9 82.4H287.9L289.5 81.4H308.3L309.9 80.4H314.0L315.6 79.4H330.5L332.1 78.4H340.2L341.8 77.4H345.0L346.6 76.4H353.7L355.3 75.4H360.5L362.1 74.4H405.0L406.6 73.4H466.0L467.6 72.4H501.4"/>
<path d="M89.2 492.3L89.3 409.3L89.3 404.3L89.3 399.3L89.4 394.3L89.4 389.3L89.5 384.3L89.5 379.3L89.5 374.3L89.6 368.3L89.7 362.3L89.8 357.3L89.9 352.3L90.0 346.3L90.1 341.3L90.3 336.3L90.5 330.3L90.7 323.3L90.9 318.3L91.2 312.3L91.5 307.3L91.7 301.3L92.0 296.3L92.3 290.3L92.8 284.3L93.3 278.3L93.6 272.3L94.2 265.3L94.7 259.3L95.2 253.3L96.0 245.3L96.6 240.3L97.2 233.3L98.0 227.3L98.7 221.3L99.6 216.3L100.5 209.3L101.5 202.3L102.6 198.3L103.8 190.3L104.8 187.3L105.7 182.3L107.3 176.3L108.6 170.3L109.6 166.3L110.6 165.3L111.5 163.3L112.5 159.3L113.5 156.3L114.5 153.3L115.4 152.3L116.4 150.3L117.0 149.3L118.2 148.3L118.3 147.3L119.3 145.3L120.3 143.3L120.8 141.3L122.2 140.3L123.2 137.3L125.1 135.3L126.1 134.3L127.0 133.3L128.0 132.3L129.0 131.3L129.9 129.3L131.9 128.3L132.8 127.3L133.7 126.3L135.7 125.3L136.7 123.3H138.0L139.6 122.3L141.5 120.3L142.0 119.3L143.5 118.3L145.4 117.3L146.8 116.3H148.6L150.2 113.3H151.5L153.1 112.3H154.4L156.0 111.3L158.0 110.3L158.9 109.3L160.5 108.3L160.9 107.3H162.0L163.6 106.3L163.8 105.3H168.7L170.3 104.3L170.6 103.3H172.2L173.8 102.3H181.5L183.1 101.3L184.1 100.3H190.2L191.8 99.3H198.9L200.5 98.3H202.8L204.4 97.3H206.7L208.3 96.3H209.6L211.2 95.3L213.1 94.3H219.3L220.9 93.3H228.0L229.6 92.3H231.8L233.4 91.3H234.7L236.3 90.3L236.8 89.3H239.6L241.2 88.3L242.1 87.3H268.6L270.2 86.3L272.0 85.3H280.2L281.8 84.3H285.0L286.6 83.3H297.6L299.2 82.3H304.4L306.0 81.3L307.9 80.3H323.9L325.5 79.3H332.4L334.0 78.3H347.0L348.6 77.3H353.7L355.3 76.3H356.6L358.2 75.3H400.2L401.8 74.3H441.8L443.4 73.3H501.4"/>
<path d="M89.2 491.0L89.3 412.0L89.3 407.0L89.3 402.0L89.4 397.0L89.4 392.0L89.4 386.0L89.5 380.0L89.6 375.0L89.6 369.0L89.7 363.0L89.8 357.0L89.9 352.0L90.0 347.0L90.1 342.0L90.3 336.0L90.5 331.0L90.7 324.0L90.8 319.0L91.0 314.0L91.3 307.0L91.6 301.0L91.8 296.0L92.2 290.0L92.6 285.0L93.1 278.0L93.6 271.0L94.2 264.0L94.7 258.0L95.2 253.0L96.0 247.0L96.6 242.0L97.2 236.0L98.0 231.0L98.7 226.0L99.6 219.0L100.5 212.0L101.5 208.0L102.6 202.0L103.8 194.0L104.8 190.0L105.7 185.0L106.7 182.0L107.7 180.0L108.6 178.0L109.6 174.0L110.6 172.0L111.5 167.0L112.5 165.0L113.5 163.0L114.5 161.0L115.4 157.0L116.4 155.0L117.0 154.0L118.2 152.0L119.3 147.0L120.3 146.0L121.2 144.0L122.2 143.0L123.2 141.0L123.6 140.0L125.1 139.0L126.1 137.0L128.0 135.0L128.4 134.0L129.9 133.0L131.9 132.0L133.7 130.0L135.7 129.0L136.7 128.0L138.6 126.0L139.8 125.0L140.6 124.0L142.0 123.0L143.5 122.0L144.4 121.0L145.4 119.0H146.7L148.3 118.0L149.3 117.0L151.2 115.0H153.5L155.1 114.0L156.0 113.0L158.0 112.0H161.2L162.8 111.0L164.8 110.0L166.7 109.0L168.6 108.0H169.9L171.5 107.0H173.8L175.4 106.0L177.3 105.0H179.6L181.2 104.0H183.5L185.1 103.0L186.0 102.0L188.0 101.0L189.9 100.0H194.1L195.7 99.0H201.7L203.3 98.0H208.6L210.2 97.0H212.5L214.1 96.0H216.4L218.0 95.0L219.9 93.0H223.1L224.7 92.0H250.2L251.8 91.0H255.4L257.0 90.0L257.6 89.0H258.9L260.5 88.0H261.8L263.4 87.0H264.7L266.3 86.0L268.3 85.0H279.2L280.8 84.0H292.8L294.4 83.0H295.7L297.3 82.0H309.2L310.8 81.0H320.8L322.4 80.0H330.5L332.1 79.0H335.3L336.9 78.0H339.2L340.8 77.0H369.2L370.8 76.0H376.9L378.5 75.0H450.5L452.1 74.0H501.4"/>
<path d="M89.2 491.8L89.3 407.8L89.3 400.8L89.3 395.8L89.4 390.8L89.4 385.8L89.4 379.8L89.5 374.8L89.6 369.8L89.6 364.8L89.7 357.8L89.8 350.8L89.9 345.8L90.0 340.8L90.1 334.8L90.2 328.8L90.3 323.8L90.5 318.8L90.7 313.8L90.8 308.8L91.0 303.8L91.2 298.8L91.4 291.8L91.7 286.8L92.1 280.8L92.5 274.8L92.9 268.8L93.3 263.8L94.0 257.8L94.7 251.8L95.2 245.8L95.7 240.8L96.3 235.8L96.9 228.8L97.6 223.8L98.3 218.8L99.0 213.8L99.6 208.8L100.5 201.8L101.5 197.8L102.6 192.8L103.8 187.8L104.8 183.8L105.7 179.8L107.3 172.8L108.6 168.8L109.6 162.8L110.6 159.8L111.5 157.8L112.5 154.8L113.5 150.8L114.5 147.8L115.4 146.8L116.4 143.8L118.2 141.8L118.3 139.8L119.3 138.8L120.8 137.8L122.2 135.8L123.2 134.8L124.1 132.8L125.1 131.8L126.1 129.8L127.0 128.8L128.0 126.8L129.9 125.8L130.9 124.8L131.9 123.8L133.7 122.8L134.8 120.8L135.7 118.8H140.4L142.0 117.8L143.5 116.8H144.8L146.4 115.8L147.3 113.8L148.3 112.8H150.6L152.2 111.8L154.1 110.8H155.4L157.0 109.8L158.0 108.8L158.9 107.8L160.5 106.8L160.9 105.8H165.1L166.7 103.8H168.0L169.6 102.8L170.6 101.8L171.5 100.8L172.5 99.8H175.9L177.5 97.8H179.6L181.2 96.8H187.3L188.9 95.8H192.2L193.8 94.8H213.5L215.1 93.8H218.3L219.9 92.8H221.2L222.8 91.8H224.1L225.7 90.8L226.7 89.8H238.6L240.2 88.8H243.4L245.0 87.8L247.0 86.8L248.9 85.8H251.2L252.8 84.8H271.5L273.1 83.8L274.1 82.8H276.3L277.9 81.8H288.9L290.5 80.8H303.4L305.0 79.8H327.6L329.2 78.8H333.4L335.0 77.8H341.2L342.8 76.8H345.0L346.6 75.8H354.7L356.3 74.8H388.6L390.2 73.8H410.8L412.4 72.8H501.4"/>
</g>
<g stroke="#d4600f" stroke-width="1.4">
<path d="M158.0 71.1H163.2L164.8 70.1H234.7L236.3 69.1H501.4"/>
<path d="M158.0 71.5H162.0L163.6 70.5H198.0L199.6 69.5H440.8L442.4 68.5H501.4"/>
<path d="M158.0 71.3L159.9 70.3H203.8L205.4 69.3H501.4"/>
<path d="M158.0 70.8H180.6L182.2 69.8H270.5L272.1 68.8H501.4"/>
<path d="M158.0 70.0H177.7L179.3 69.0H380.3L381.9 68.0H501.4"/>
<path d="M158.0 70.3H190.2L191.8 69.3H377.9L379.5 68.3H501.4"/>
<path d="M158.0 70.9H160.3L161.9 69.9H207.7L209.3 68.9H501.4"/>
<path d="M158.0 71.3H171.9L173.5 70.3H227.0L228.6 69.3H501.4"/>
<path d="M158.0 70.8H168.7L170.3 69.8H256.0L257.6 68.8H501.4"/>
<path d="M158.0 71.8H160.3L161.9 70.8H199.9L201.5 69.8H376.0L377.6 68.8H501.4"/>
<path d="M158.0 71.7H173.8L175.4 70.7H235.2L236.8 69.7H501.4"/>
<path d="M158.0 70.2H168.0L169.6 69.2H287.9L289.5 68.2H501.4"/>
<path d="M158.0 72.1H165.1L166.7 71.1H188.3L189.9 70.1H313.1L314.7 69.1H501.4"/>
<path d="M158.0 69.4H235.2L236.8 68.4H501.4"/>
<path d="M158.0 70.2H176.7L178.3 69.2H356.6L358.2 68.2H501.4"/>
<path d="M158.0 69.9H185.4L187.0 68.9H501.4"/>
<path d="M158.0 71.2H183.5L185.1 70.2H262.7L264.3 69.2H501.4"/>
<path d="M158.0 71.0H180.6L182.2 70.0H261.8L263.4 69.0H501.4"/>
<path d="M158.0 70.6H168.0L169.6 69.6H233.8L235.4 68.6H501.4"/>
<path d="M158.0 71.4L159.9 70.4H200.9L202.5 69.4H427.2L428.8 68.4H501.4"/>
<path d="M158.0 70.9H169.9L171.5 69.9H267.6L269.2 68.9H501.4"/>
<path d="M158.0 71.2H186.4L188.0 70.2H280.2L281.8 69.2H501.4"/>
</g>
<g stroke="#dc2b1c" stroke-width="1.4">
<path d="M89.2 492.4L89.3 451.4L89.3 446.4L89.3 441.4L89.4 436.4L89.4 430.4L89.5 425.4L89.5 420.4L89.6 415.4L89.6 410.4L89.7 405.4L89.8 400.4L89.8 395.4L89.9 389.4L90.0 384.4L90.1 379.4L90.3 372.4L90.4 367.4L90.5 360.4L90.7 354.4L90.8 349.4L90.9 344.4L91.1 338.4L91.2 333.4L91.4 328.4L91.6 320.4L91.8 314.4L92.1 307.4L92.3 300.4L92.6 293.4L92.9 286.4L93.3 279.4L93.6 272.4L94.0 264.4L94.2 259.4L94.7 251.4L95.2 243.4L95.4 238.4L96.0 230.4L96.6 222.4L96.9 216.4L97.2 209.4L97.6 202.4L98.0 196.4L98.3 190.4L98.7 184.4L99.2 178.4L99.6 173.4L99.9 167.4L100.5 159.4L101.0 154.4L101.5 149.4L102.1 144.4L102.8 139.4L103.8 133.4L104.8 129.4L105.7 123.4L106.7 118.4L107.7 114.4L108.6 111.4L109.6 106.4L110.6 103.4L111.5 100.4L112.5 96.4L113.5 94.4L114.5 91.4L115.4 89.4L116.4 88.4L117.4 86.4L118.3 85.4L119.3 84.4L120.3 83.4L121.2 82.4L123.2 81.4L124.1 80.4H125.1L126.7 79.4L129.0 78.4H130.3L131.9 77.4H133.2L134.8 76.4H138.0L139.6 75.4H143.8L145.4 74.4H150.6L152.2 73.4H167.0L168.6 72.4H179.6L181.2 71.4H199.9L201.5 70.4H376.0L377.6 69.4H501.4"/>
<path d="M89.2 490.6L89.3 447.6L89.3 442.6L89.3 437.6L89.4 431.6L89.4 426.6L89.5 421.6L89.5 416.6L89.5 411.6L89.6 405.6L89.7 399.6L89.7 393.6L89.8 388.6L89.9 383.6L90.0 378.6L90.1 373.6L90.2 367.6L90.3 361.6L90.4 355.6L90.6 348.6L90.7 343.6L90.8 337.6L91.0 332.6L91.2 325.6L91.3 319.6L91.5 313.6L91.7 307.6L92.0 300.6L92.1 295.6L92.3 288.6L92.6 281.6L92.9 273.6L93.3 265.6L93.6 256.6L94.0 247.6L94.4 237.6L94.9 228.6L95.4 218.6L96.0 209.6L96.6 199.6L96.9 193.6L97.2 188.6L97.6 183.6L98.0 178.6L98.3 172.6L98.7 166.6L99.2 161.6L99.6 155.6L100.0 149.6L100.9 142.6L101.5 137.6L102.6 129.6L103.8 123.6L104.8 118.6L105.7 115.6L106.7 110.6L107.7 106.6L108.6 104.6L109.6 100.6L110.6 97.6L111.5 94.6L112.5 91.6L113.5 88.6L114.5 87.6L115.4 85.6L116.4 84.6L117.4 82.6L118.3 80.6L119.3 79.6L121.2 78.6L123.2 77.6L125.1 76.6L126.7 75.6L128.4 74.6H130.3L131.9 73.6H135.1L136.7 72.6H142.8L144.4 71.6H155.4L157.0 70.6H170.9L172.5 69.6H208.6L210.2 68.6H501.4"/>
<path d="M89.2 491.9L89.3 450.9L89.3 444.9L89.3 439.9L89.4 434.9L89.4 429.9L89.5 424.9L89.5 419.9L89.6 414.9L89.6 409.9L89.7 404.9L89.8 398.9L89.8 393.9L89.9 388.9L90.0 383.9L90.1 377.9L90.3 372.9L90.4 367.9L90.5 360.9L90.7 355.9L90.8 349.9L91.0 343.9L91.2 338.9L91.3 332.9L91.5 326.9L91.7 320.9L92.0 314.9L92.2 308.9L92.5 301.9L92.8 295.9L93.1 288.9L93.4 281.9L93.8 274.9L94.2 267.9L94.7 259.9L94.9 254.9L95.4 246.9L96.0 238.9L96.3 233.9L96.6 228.9L96.9 223.9L97.2 217.9L97.6 210.9L98.0 204.9L98.3 198.9L98.7 191.9L99.2 184.9L99.6 177.9L100.0 171.9L100.5 165.9L101.0 160.9L101.5 154.9L102.1 149.9L102.6 144.9L103.8 137.9L104.8 131.9L105.7 126.9L107.3 119.9L108.6 113.9L109.6 111.9L110.6 106.9L111.5 104.9L112.5 100.9L113.5 97.9L114.5 96.9L115.4 93.9L116.4 91.9L117.4 89.9L118.2 88.9L119.3 87.9L120.3 85.9L120.8 84.9L122.2 83.9L122.2 82.9H123.5L125.1 81.9L126.7 80.9L129.0 79.9H130.3L131.9 78.9H133.2L134.8 77.9H137.0L138.6 76.9H140.9L142.5 75.9H144.8L146.4 74.9H147.7L149.3 73.9H153.5L155.1 72.9H167.0L168.6 71.9H187.3L188.9 70.9H235.2L236.8 69.9H501.4"/>
<path d="M89.2 492.3L89.3 451.3L89.3 446.3L89.3 441.3L89.4 435.3L89.4 429.3L89.5 424.3L89.5 417.3L89.6 411.3L89.7 405.3L89.7 400.3L89.8 393.3L89.9 388.3L90.0 383.3L90.1 377.3L90.2 370.3L90.3 364.3L90.5 358.3L90.7 351.3L90.8 344.3L91.0 338.3L91.2 333.3L91.3 328.3L91.5 321.3L91.7 314.3L92.0 308.3L92.2 301.3L92.5 293.3L92.8 286.3L92.9 281.3L93.3 274.3L93.4 269.3L93.8 262.3L94.0 257.3L94.4 249.3L94.7 243.3L95.2 234.3L95.4 229.3L96.0 220.3L96.6 210.3L96.9 205.3L97.2 200.3L97.6 194.3L98.0 187.3L98.3 181.3L98.7 176.3L99.2 169.3L99.6 163.3L100.0 158.3L100.5 153.3L100.9 148.3L101.5 142.3L102.1 137.3L102.8 131.3L103.8 126.3L104.8 121.3L105.7 117.3L107.3 109.3L108.6 105.3L109.6 102.3L110.6 99.3L111.5 96.3L112.5 95.3L113.5 93.3L114.5 91.3L115.4 89.3L116.4 87.3L117.4 86.3L118.2 85.3L119.3 83.3L120.8 82.3L122.2 81.3L123.2 80.3L124.1 79.3H125.1L126.7 78.3L128.4 77.3H130.3L131.9 76.3H134.1L135.7 75.3H138.2L139.8 74.3H143.8L145.4 73.3H149.6L151.2 72.3H162.0L163.6 71.3H186.4L188.0 70.3H223.1L224.7 69.3H324.7L326.3 68.3H501.4"/>
<path d="M89.2 490.7L89.3 446.7L89.3 441.7L89.3 436.7L89.4 431.7L89.4 426.7L89.5 420.7L89.5 415.7L89.6 410.7L89.6 405.7L89.7 400.7L89.7 395.7L89.8 390.7L89.9 385.7L89.9 379.7L90.0 374.7L90.1 368.7L90.3 362.7L90.4 356.7L90.5 351.7L90.7 345.7L90.8 340.7L91.0 335.7L91.2 329.7L91.3 323.7L91.5 316.7L91.7 310.7L92.0 304.7L92.2 297.7L92.5 290.7L92.8 284.7L92.9 279.7L93.3 271.7L93.6 263.7L93.8 258.7L94.2 249.7L94.7 241.7L94.9 236.7L95.2 231.7L95.7 222.7L96.0 217.7L96.6 208.7L96.9 203.7L97.2 197.7L97.6 191.7L98.0 185.7L98.3 179.7L98.7 174.7L99.2 167.7L99.6 162.7L100.0 157.7L100.5 152.7L101.0 147.7L101.9 140.7L102.6 133.7L103.8 127.7L104.8 122.7L105.7 118.7L106.7 114.7L107.7 110.7L108.6 107.7L109.6 102.7L110.6 99.7L111.5 97.7L112.5 95.7L113.5 91.7L114.5 89.7L115.4 87.7L115.8 86.7L117.0 84.7L118.2 83.7L119.3 82.7L119.5 81.7L120.8 80.7L122.2 79.7L123.2 78.7L124.1 77.7H126.4L128.0 76.7L129.9 75.7H132.1L133.7 74.7H136.1L137.7 73.7H141.9L143.5 72.7H145.7L147.3 71.7H155.9L157.5 70.7H177.7L179.3 69.7H222.2L223.8 68.7H482.5L484.1 67.7H501.4"/>
<path d="M89.2 492.1L89.3 451.1L89.3 446.1L89.3 441.1L89.4 436.1L89.4 431.1L89.4 426.1L89.5 420.1L89.6 415.1L89.6 409.1L89.7 404.1L89.8 399.1L89.8 394.1L89.9 389.1L90.0 383.1L90.1 378.1L90.3 371.1L90.4 364.1L90.6 357.1L90.7 352.1L90.8 347.1L91.0 342.1L91.2 337.1L91.3 332.1L91.5 326.1L91.7 319.1L92.0 313.1L92.2 307.1L92.5 300.1L92.8 294.1L93.1 286.1L93.4 279.1L93.8 272.1L94.2 264.1L94.7 256.1L95.2 249.1L95.4 244.1L96.0 235.1L96.3 230.1L96.6 225.1L96.9 220.1L97.2 213.1L97.6 207.1L98.0 201.1L98.3 193.1L98.7 186.1L99.2 180.1L99.6 173.1L100.0 168.1L100.5 161.1L100.9 156.1L101.5 149.1L102.6 140.1L103.8 133.1L104.5 128.1L105.7 122.1L107.3 116.1L108.6 111.1L109.6 109.1L110.6 105.1L111.5 103.1L112.5 100.1L113.5 97.1L114.5 95.1L115.4 92.1L116.4 90.1L117.0 89.1L118.2 87.1L119.3 86.1L120.3 85.1L120.8 84.1L122.2 82.1H123.5L125.1 81.1L126.1 80.1L128.0 79.1L129.0 78.1L130.9 77.1L132.8 76.1H135.1L136.7 75.1H142.8L144.4 74.1H152.5L154.1 73.1H162.0L163.6 72.1H173.8L175.4 71.1H221.2L222.8 70.1H501.4"/>
<path d="M89.2 491.7L89.3 450.7L89.3 445.7L89.3 440.7L89.4 435.7L89.4 429.7L89.5 424.7L89.5 418.7L89.6 413.7L89.7 408.7L89.7 402.7L89.8 396.7L89.9 390.7L90.0 384.7L90.1 378.7L90.2 373.7L90.3 368.7L90.4 361.7L90.5 356.7L90.7 349.7L90.9 341.7L91.1 336.7L91.2 330.7L91.4 324.7L91.6 318.7L91.8 312.7L92.1 306.7L92.3 300.7L92.5 295.7L92.8 288.7L93.1 281.7L93.4 274.7L93.8 267.7L94.0 262.7L94.4 255.7L94.7 250.7L95.2 241.7L95.7 232.7L96.1 227.7L96.6 218.7L96.9 212.7L97.2 206.7L97.6 200.7L98.0 194.7L98.3 188.7L98.7 181.7L99.2 175.7L99.6 169.7L99.9 164.7L100.5 157.7L100.9 152.7L101.5 147.7L102.1 141.7L102.8 135.7L103.8 130.7L104.8 125.7L105.7 120.7L106.7 115.7L107.7 112.7L108.6 108.7L109.6 105.7L110.6 102.7L111.5 99.7L112.5 97.7L113.5 95.7L114.5 92.7L115.4 90.7L116.4 88.7L117.4 86.7L118.2 85.7L119.3 84.7L120.3 83.7L120.8 82.7L122.2 81.7L123.2 80.7H124.5L126.1 79.7H127.4L129.0 78.7L130.9 77.7H132.1L133.7 76.7H136.1L137.7 75.7L139.8 74.7H144.8L146.4 73.7H153.0L154.6 72.7H163.2L164.8 71.7H182.5L184.1 70.7H212.0L213.6 69.7H501.4"/>
<path d="M89.2 492.3L89.3 453.3L89.3 448.3L89.3 442.3L89.4 437.3L89.4 432.3L89.5 427.3L89.5 422.3L89.6 417.3L89.6 412.3L89.7 407.3L89.7 402.3L89.8 397.3L89.9 391.3L90.0 385.3L90.2 379.3L90.3 374.3L90.4 368.3L90.6 361.3L90.7 356.3L90.8 350.3L91.0 345.3L91.2 340.3L91.3 334.3L91.5 327.3L91.7 321.3L92.0 315.3L92.2 308.3L92.5 301.3L92.8 294.3L93.1 287.3L93.4 280.3L93.8 272.3L94.2 263.3L94.7 255.3L95.2 246.3L95.7 237.3L96.0 231.3L96.6 222.3L96.9 216.3L97.2 209.3L97.6 202.3L98.0 195.3L98.3 189.3L98.7 181.3L99.2 174.3L99.6 168.3L99.9 163.3L100.5 155.3L101.0 150.3L101.5 144.3L102.6 135.3L103.8 129.3L104.8 123.3L105.7 120.3L106.7 116.3L107.7 111.3L108.6 108.3L109.6 105.3L110.6 102.3L111.5 99.3L112.5 97.3L113.5 95.3L114.5 92.3L115.4 90.3L115.8 89.3L117.0 88.3L118.2 86.3L119.3 85.3L119.5 84.3L120.8 83.3L123.2 82.3L124.1 81.3L125.1 80.3H126.4L128.0 79.3L130.1 78.3L131.9 77.3H133.2L134.8 76.3H136.1L137.7 75.3H141.9L143.5 74.3H146.7L148.3 73.3H158.9L160.5 72.3H174.8L176.4 71.3H210.6L212.2 70.3H465.0L466.6 69.3H501.4"/>
<path d="M89.2 491.2L89.3 458.2L89.3 453.2L89.3 448.2L89.4 442.2L89.4 436.2L89.5 431.2L89.6 426.2L89.6 421.2L89.7 416.2L89.8 411.2L89.9 406.2L90.0 401.2L90.1 395.2L90.2 390.2L90.3 385.2L90.4 380.2L90.6 375.2L90.7 369.2L90.9 362.2L91.2 355.2L91.3 348.2L91.5 343.2L91.7 337.2L92.0 331.2L92.2 326.2L92.5 320.2L92.8 312.2L93.1 305.2L93.4 298.2L93.8 290.2L94.2 283.2L94.7 275.2L95.2 267.2L95.7 259.2L96.0 254.2L96.6 244.2L96.9 239.2L97.2 232.2L97.6 227.2L98.0 222.2L98.3 217.2L98.7 211.2L99.2 205.2L99.6 199.2L99.9 194.2L100.5 186.2L101.5 177.2L102.1 171.2L102.8 166.2L103.8 159.2L104.8 154.2L105.7 147.2L107.3 139.2L108.6 133.2L109.6 129.2L110.6 126.2L111.5 122.2L112.5 119.2L113.5 116.2L114.5 112.2L115.4 110.2L116.4 107.2L117.4 106.2L118.2 105.2L119.3 103.2L120.3 101.2L121.2 100.2L122.2 98.2L123.6 97.2L124.1 96.2L126.1 95.2L128.0 94.2L129.0 93.2L130.1 92.2L130.9 91.2L131.9 90.2L133.7 89.2L135.7 88.2L136.7 87.2L137.7 86.2L139.8 85.2L141.5 84.2H144.8L146.4 83.2H150.3L151.9 82.2H153.0L154.6 81.2H158.3L159.9 80.2L160.9 79.2H164.1L165.7 78.2H170.9L172.5 77.2H183.8L185.4 76.2H187.3L188.9 75.2H194.1L195.7 74.2H207.7L209.3 73.2H229.9L231.5 72.2H261.8L263.4 71.2H304.5L306.1 70.2H361.5L363.1 69.2H501.4"/>
<path d="M89.2 491.2L89.3 461.2L89.3 456.2L89.4 451.2L89.4 446.2L89.4 440.2L89.5 435.2L89.6 429.2L89.6 424.2L89.7 419.2L89.8 413.2L89.9 408.2L90.0 403.2L90.2 397.2L90.3 391.2L90.4 386.2L90.6 380.2L90.8 373.2L91.0 366.2L91.2 360.2L91.3 355.2L91.5 350.2L91.7 345.2L92.0 339.2L92.2 334.2L92.5 328.2L92.8 321.2L93.1 316.2L93.4 310.2L93.8 302.2L94.2 295.2L94.7 287.2L95.2 280.2L95.4 273.2L96.0 265.2L96.3 260.2L96.9 251.2L97.2 245.2L97.6 239.2L98.0 233.2L98.3 228.2L98.7 222.2L99.2 216.2L99.6 209.2L100.0 204.2L100.5 198.2L101.0 192.2L101.9 183.2L102.6 178.2L103.2 173.2L103.8 168.2L104.8 162.2L105.7 156.2L106.7 150.2L107.7 146.2L108.6 142.2L109.6 138.2L110.6 135.2L111.5 130.2L112.5 128.2L113.5 125.2L114.5 123.2L115.4 120.2L116.4 118.2L117.0 116.2L118.2 113.2L119.5 112.2L120.8 110.2L121.2 109.2L122.2 108.2L122.2 107.2L123.2 105.2L124.1 104.2L125.1 103.2L125.1 102.2L126.7 101.2L128.0 100.2L128.4 99.2L129.9 98.2L131.9 97.2L132.8 96.2L133.8 95.2H136.1L137.7 94.2L139.6 93.2L141.5 92.2L143.5 91.2H144.8L146.4 90.2L146.8 89.2H151.5L153.1 88.2H156.4L158.0 87.2H158.9L160.5 86.2H162.0L163.6 85.2L165.7 84.2H167.0L168.6 83.2L170.3 82.2H175.9L177.5 81.2H179.6L181.2 80.2H188.0L189.6 79.2H191.2L192.8 78.2H195.1L196.7 77.2H200.9L202.5 76.2H212.0L213.6 75.2H222.2L223.8 74.2H239.6L241.2 73.2H251.2L252.8 72.2H304.4L306.0 71.2H339.2L340.8 70.2H466.9L468.5 69.2H501.4"/>
</g>
<g stroke="#d4600f" stroke-width="1.4">
<path d="M89.2 491.4L89.3 424.4L89.3 419.4L89.3 414.4L89.4 407.4L89.4 402.4L89.4 396.4L89.4 391.4L89.5 386.4L89.5 381.4L89.5 375.4L89.6 370.4L89.6 364.4L89.7 359.4L89.7 353.4L89.8 348.4L89.8 343.4L89.9 338.4L89.9 332.4L90.0 325.4L90.1 319.4L90.2 314.4L90.3 308.4L90.4 301.4L90.5 296.4L90.6 290.4L90.7 282.4L90.8 273.4L91.0 265.4L91.2 257.4L91.3 249.4L91.4 244.4L91.6 236.4L91.8 229.4L92.1 221.4L92.3 213.4L92.6 204.4L92.9 196.4L93.3 190.4L93.4 185.4L93.8 178.4L94.2 171.4L94.4 166.4L94.9 160.4L95.4 153.4L96.0 146.4L96.9 139.4L97.6 134.4L98.3 129.4L99.6 122.4L100.5 119.4L101.5 114.4L102.6 109.4L103.8 106.4L104.8 103.4L105.7 102.4L107.3 97.4L107.7 96.4L108.6 94.4L109.6 91.4L110.6 90.4L111.5 88.4L112.5 86.4L113.5 85.4L114.5 83.4L114.7 82.4L115.8 80.4L117.4 79.4L118.2 78.4L119.5 77.4L120.8 76.4H122.5L124.1 75.4H126.4L128.0 74.4H130.3L131.9 73.4H136.1L137.7 72.4H143.8L145.4 71.4H155.4L157.0 70.4H164.8"/>
<path d="M89.2 492.3L89.3 434.3L89.3 428.3L89.3 423.3L89.4 417.3L89.4 411.3L89.4 406.3L89.5 401.3L89.5 396.3L89.5 391.3L89.5 386.3L89.6 380.3L89.6 374.3L89.7 369.3L89.7 363.3L89.8 356.3L89.9 348.3L90.0 341.3L90.1 336.3L90.1 330.3L90.2 325.3L90.3 318.3L90.4 312.3L90.5 304.3L90.7 296.3L90.8 287.3L90.9 278.3L91.0 273.3L91.2 266.3L91.2 261.3L91.3 256.3L91.5 248.3L91.7 240.3L91.8 235.3L92.1 228.3L92.2 223.3L92.5 216.3L92.8 209.3L93.1 201.3L93.4 195.3L93.8 188.3L94.2 182.3L94.7 175.3L95.2 169.3L95.7 163.3L96.3 157.3L96.9 151.3L97.6 144.3L98.3 138.3L99.0 133.3L99.9 126.3L100.9 121.3L101.9 116.3L103.2 112.3L104.5 107.3L104.8 106.3L105.7 104.3L106.7 101.3L107.7 98.3L108.6 96.3L109.6 94.3L110.6 92.3L111.5 89.3L112.5 88.3L113.5 86.3L114.5 84.3L115.4 83.3L116.4 82.3L117.0 81.3L118.2 80.3L119.3 79.3L120.3 78.3L121.2 77.3L122.2 76.3H125.1L126.7 75.3H128.3L129.9 74.3H134.1L135.7 73.3H138.2L139.8 72.3H145.7L147.3 71.3H164.8"/>
<path d="M89.2 491.6L89.3 426.6L89.3 421.6L89.3 416.6L89.3 411.6L89.4 406.6L89.4 401.6L89.4 396.6L89.5 391.6L89.5 386.6L89.5 381.6L89.6 376.6L89.6 371.6L89.7 365.6L89.7 360.6L89.7 355.6L89.8 349.6L89.9 344.6L89.9 339.6L90.0 333.6L90.1 326.6L90.2 320.6L90.3 315.6L90.4 309.6L90.5 302.6L90.6 296.6L90.7 289.6L90.8 280.6L91.0 273.6L91.2 265.6L91.2 260.6L91.4 253.6L91.6 245.6L91.8 237.6L92.1 229.6L92.3 222.6L92.6 215.6L92.8 209.6L93.1 202.6L93.4 194.6L93.8 186.6L94.2 179.6L94.7 171.6L95.2 165.6L95.7 158.6L96.3 152.6L96.9 146.6L97.6 141.6L98.3 136.6L99.6 130.6L100.5 125.6L101.5 122.6L102.6 118.6L103.8 114.6L104.8 109.6L105.7 106.6L106.7 103.6L107.7 100.6L108.6 98.6L109.6 95.6L110.6 93.6L111.5 90.6L112.5 88.6L113.5 87.6L114.5 85.6L115.4 83.6L116.4 82.6L117.0 81.6L118.2 79.6L119.3 78.6L120.3 77.6L122.2 76.6L124.1 75.6L126.1 74.6H128.3L129.9 73.6H133.2L134.8 72.6H140.4L142.0 71.6H153.5L155.1 70.6H164.8"/>
<path d="M89.2 491.5L89.3 425.5L89.3 419.5L89.3 414.5L89.3 408.5L89.4 403.5L89.4 398.5L89.4 393.5L89.5 388.5L89.5 383.5L89.5 376.5L89.6 369.5L89.6 363.5L89.7 358.5L89.7 353.5L89.8 348.5L89.9 341.5L90.0 335.5L90.0 329.5L90.1 323.5L90.2 318.5L90.3 311.5L90.4 306.5L90.5 299.5L90.6 293.5L90.7 287.5L90.8 280.5L90.8 275.5L91.0 267.5L91.2 259.5L91.3 252.5L91.5 244.5L91.6 239.5L91.8 232.5L92.1 224.5L92.3 217.5L92.6 210.5L92.9 204.5L93.3 197.5L93.6 189.5L94.0 182.5L94.4 175.5L94.9 168.5L95.4 163.5L96.0 157.5L96.6 152.5L97.2 146.5L98.0 141.5L99.0 137.5L99.9 132.5L100.9 127.5L102.1 123.5L103.2 118.5L104.5 114.5L105.7 109.5L107.3 105.5L108.6 101.5L109.6 99.5L110.6 97.5L111.5 94.5L112.5 91.5L113.5 89.5L114.5 87.5L115.4 86.5L116.4 83.5L117.0 82.5L118.2 81.5L119.3 80.5L120.3 79.5L120.8 78.5L122.2 77.5L123.6 76.5H126.4L128.0 75.5H130.3L131.9 74.5H133.2L134.8 73.5H139.9L141.5 72.5H146.7L148.3 71.5H162.0L163.6 70.5H164.8"/>
<path d="M89.2 491.7L89.3 381.7L89.3 376.7L89.3 370.7L89.3 364.7L89.4 358.7L89.4 353.7L89.4 347.7L89.4 342.7L89.5 337.7L89.5 330.7L89.5 324.7L89.6 316.7L89.6 309.7L89.7 304.7L89.7 299.7L89.7 293.7L89.8 288.7L89.8 283.7L89.9 277.7L90.0 271.7L90.0 266.7L90.1 261.7L90.2 253.7L90.3 246.7L90.4 240.7L90.5 232.7L90.6 226.7L90.7 221.7L90.7 216.7L90.8 207.7L90.9 202.7L91.0 197.7L91.2 188.7L91.3 180.7L91.4 175.7L91.6 167.7L91.8 159.7L92.1 153.7L92.3 145.7L92.6 139.7L92.9 131.7L93.3 125.7L93.6 118.7L94.0 112.7L94.4 106.7L95.2 99.7L96.0 93.7L96.9 89.7L97.0 88.7L98.0 87.7L99.2 83.7L100.5 80.7L101.0 79.7L102.1 78.7L102.6 77.7L104.5 76.7L105.7 75.7L107.7 74.7L109.8 73.7H110.9L112.5 72.7H114.2L115.8 71.7H121.6L123.2 70.7H144.8L146.4 69.7H164.8"/>
<path d="M89.2 492.3L89.3 414.3L89.3 409.3L89.3 403.3L89.3 398.3L89.4 393.3L89.4 388.3L89.4 383.3L89.4 377.3L89.5 371.3L89.5 366.3L89.6 359.3L89.6 353.3L89.7 347.3L89.7 341.3L89.8 334.3L89.8 327.3L89.9 322.3L90.0 317.3L90.0 311.3L90.1 303.3L90.2 297.3L90.3 290.3L90.4 285.3L90.5 278.3L90.7 270.3L90.8 263.3L90.8 258.3L91.0 251.3L91.1 246.3L91.2 237.3L91.4 229.3L91.6 221.3L91.7 216.3L92.0 210.3L92.1 205.3L92.3 198.3L92.6 191.3L92.9 183.3L93.3 175.3L93.6 167.3L94.0 160.3L94.4 153.3L94.9 146.3L95.4 141.3L96.0 134.3L96.6 129.3L97.6 123.3L98.3 118.3L99.6 113.3L100.5 110.3L101.5 108.3L102.6 104.3L103.8 101.3L104.8 99.3L105.7 97.3L106.7 93.3L108.1 91.3L109.6 88.3L110.6 86.3L111.5 84.3L112.5 83.3L113.5 81.3L114.5 80.3L115.4 79.3L116.4 78.3L117.4 77.3L118.2 76.3L120.3 75.3L122.2 74.3H125.4L127.0 73.3H131.2L132.8 72.3H138.0L139.6 71.3H147.7L149.3 70.3H164.8"/>
<path d="M89.2 492.0L89.3 418.0L89.3 413.0L89.3 407.0L89.3 401.0L89.4 396.0L89.4 390.0L89.4 384.0L89.5 377.0L89.5 371.0L89.5 365.0L89.6 358.0L89.6 351.0L89.7 346.0L89.7 341.0L89.8 336.0L89.8 331.0L89.9 325.0L90.0 319.0L90.0 314.0L90.1 308.0L90.2 302.0L90.3 296.0L90.4 289.0L90.5 282.0L90.6 275.0L90.7 270.0L90.7 265.0L90.8 260.0L90.9 251.0L91.1 242.0L91.2 233.0L91.4 225.0L91.5 220.0L91.7 212.0L92.0 203.0L92.2 195.0L92.5 188.0L92.6 183.0L92.9 175.0L93.3 168.0L93.4 163.0L93.8 156.0L94.2 150.0L94.7 143.0L95.2 136.0L95.7 131.0L96.3 126.0L97.2 121.0L98.3 114.0L99.6 110.0L100.5 107.0L101.5 103.0L102.6 100.0L102.8 99.0L103.8 98.0L104.8 96.0L105.7 93.0L107.3 90.0L108.6 87.0L109.6 86.0L110.6 85.0L111.5 84.0L112.5 83.0L113.5 81.0L113.7 80.0L115.4 79.0L116.4 78.0L118.2 77.0L120.3 76.0L121.2 75.0H123.5L125.1 74.0H128.5L130.1 73.0H134.1L135.7 72.0H143.8L145.4 71.0H158.9L160.5 70.0H164.8"/>
<path d="M89.2 491.5L89.3 425.5L89.3 419.5L89.3 414.5L89.3 409.5L89.4 404.5L89.4 398.5L89.4 393.5L89.5 388.5L89.5 382.5L89.6 376.5L89.6 371.5L89.7 365.5L89.7 358.5L89.8 351.5L89.9 345.5L89.9 340.5L90.0 335.5L90.1 330.5L90.1 325.5L90.2 319.5L90.3 313.5L90.4 307.5L90.5 301.5L90.7 293.5L90.8 285.5L90.9 277.5L91.1 270.5L91.2 263.5L91.3 258.5L91.5 251.5L91.7 243.5L92.0 235.5L92.2 228.5L92.5 220.5L92.8 214.5L92.9 209.5L93.3 202.5L93.6 196.5L93.8 191.5L94.2 183.5L94.7 176.5L95.2 170.5L95.7 162.5L96.3 157.5L96.9 151.5L98.0 144.5L98.7 139.5L99.9 134.5L100.9 129.5L101.9 125.5L102.8 120.5L103.8 117.5L104.8 113.5L105.7 109.5L107.3 103.5L108.6 99.5L109.6 96.5L110.6 93.5L111.5 92.5L112.5 90.5L113.5 88.5L114.5 86.5L115.4 84.5L115.8 83.5L117.0 82.5L118.2 80.5L119.3 79.5L120.3 78.5L121.2 77.5L122.2 76.5L124.1 75.5H127.4L129.0 74.5H134.1L135.7 73.5H139.9L141.5 72.5H146.7L148.3 71.5H164.8"/>
<path d="M89.2 490.7L89.3 403.7L89.3 398.7L89.3 393.7L89.3 388.7L89.4 383.7L89.4 378.7L89.4 372.7L89.4 367.7L89.5 361.7L89.5 355.7L89.5 349.7L89.6 343.7L89.6 337.7L89.7 332.7L89.7 325.7L89.8 320.7L89.8 313.7L89.9 308.7L90.0 302.7L90.0 297.7L90.1 292.7L90.2 287.7L90.3 280.7L90.4 274.7L90.5 268.7L90.6 261.7L90.7 256.7L90.8 248.7L90.9 240.7L91.1 231.7L91.2 222.7L91.4 214.7L91.6 207.7L91.8 199.7L92.1 191.7L92.3 183.7L92.6 176.7L92.9 168.7L93.3 160.7L93.4 155.7L93.8 147.7L94.2 139.7L94.7 131.7L95.2 125.7L95.7 120.7L96.6 114.7L97.6 110.7L98.7 107.7L99.9 105.7L100.9 103.7L102.1 101.7L103.2 98.7L103.8 97.7L104.8 95.7L105.7 93.7L107.3 89.7L108.1 88.7L109.6 87.7L110.6 85.7L111.5 84.7L112.5 82.7L113.5 81.7L114.5 80.7L114.7 79.7L116.4 78.7L117.4 77.7L119.3 76.7L120.3 75.7L122.2 74.7H124.5L126.1 73.7H130.3L131.9 72.7H139.0L140.6 71.7H149.6L151.2 70.7H164.8"/>
<path d="M89.2 491.7L89.3 457.7L89.3 452.7L89.3 447.7L89.4 441.7L89.4 435.7L89.5 429.7L89.5 424.7L89.6 419.7L89.6 412.7L89.7 407.7L89.7 400.7L89.8 393.7L89.9 386.7L90.0 381.7L90.1 376.7L90.1 370.7L90.2 364.7L90.4 356.7L90.5 350.7L90.6 343.7L90.7 335.7L90.8 327.7L91.0 319.7L91.1 314.7L91.2 306.7L91.4 299.7L91.5 294.7L91.7 287.7L92.0 280.7L92.1 275.7L92.3 267.7L92.5 262.7L92.8 255.7L93.1 247.7L93.3 242.7L93.6 234.7L94.0 225.7L94.2 220.7L94.7 212.7L95.2 203.7L95.7 195.7L96.0 190.7L96.6 182.7L96.9 176.7L97.6 167.7L98.3 158.7L99.0 153.7L99.6 147.7L100.0 142.7L100.9 136.7L101.5 130.7L102.6 124.7L103.8 119.7L104.8 113.7L105.7 110.7L106.7 105.7L107.7 103.7L108.6 100.7L109.6 96.7L110.6 94.7L111.5 92.7L112.5 90.7L113.5 88.7L114.5 86.7L115.4 85.7L116.4 84.7L117.0 82.7L118.2 81.7L119.3 80.7L120.3 79.7L120.8 78.7L123.2 77.7L125.1 76.7L127.0 75.7H129.3L130.9 74.7H132.2L133.8 73.7H139.0L140.6 72.7H148.6L150.2 71.7H164.8"/>
<path d="M89.2 491.2L89.3 455.2L89.3 450.2L89.3 445.2L89.4 440.2L89.4 435.2L89.4 429.2L89.5 424.2L89.5 418.2L89.6 413.2L89.6 407.2L89.7 400.2L89.8 394.2L89.8 388.2L89.9 382.2L90.0 376.2L90.1 369.2L90.2 364.2L90.3 357.2L90.4 352.2L90.5 345.2L90.6 338.2L90.7 330.2L90.8 321.2L90.9 316.2L91.1 307.2L91.2 300.2L91.3 294.2L91.5 286.2L91.7 279.2L92.0 271.2L92.2 264.2L92.3 259.2L92.6 251.2L92.9 243.2L93.3 235.2L93.6 228.2L94.0 220.2L94.4 212.2L94.9 205.2L95.4 196.2L96.0 189.2L96.6 182.2L97.0 176.2L97.6 170.2L98.3 162.2L99.0 157.2L99.9 150.2L100.5 145.2L101.5 138.2L102.6 131.2L103.8 125.2L104.8 120.2L105.7 116.2L107.3 110.2L108.6 106.2L109.6 103.2L110.6 99.2L111.5 98.2L112.5 95.2L113.5 92.2L114.5 91.2L115.4 88.2L116.4 86.2L117.4 84.2L118.2 83.2L119.3 82.2L119.5 81.2L120.8 80.2L122.2 79.2L123.6 78.2H125.1L126.7 77.2H128.3L129.9 76.2H132.1L133.7 75.2H136.1L137.7 74.2H140.4L142.0 73.2H147.7L149.3 72.2H162.2L163.8 71.2H164.8"/>
<path d="M89.2 491.1L89.3 396.1L89.3 391.1L89.3 386.1L89.3 381.1L89.4 374.1L89.4 368.1L89.4 362.1L89.4 357.1L89.5 352.1L89.5 347.1L89.5 340.1L89.6 333.1L89.6 326.1L89.7 321.1L89.7 316.1L89.7 311.1L89.8 306.1L89.8 299.1L89.9 293.1L90.0 288.1L90.0 282.1L90.1 277.1L90.2 270.1L90.3 263.1L90.4 255.1L90.5 249.1L90.6 242.1L90.7 237.1L90.8 228.1L90.8 223.1L91.0 213.1L91.2 204.1L91.2 199.1L91.3 194.1L91.5 186.1L91.7 178.1L92.0 170.1L92.2 163.1L92.3 158.1L92.6 150.1L92.9 143.1L93.3 137.1L93.6 129.1L94.0 123.1L94.4 116.1L94.9 111.1L95.4 106.1L96.3 100.1L97.2 95.1L98.3 91.1L99.6 88.1L100.5 86.1L101.5 83.1L102.8 82.1L103.8 81.1L104.8 80.1L105.7 79.1L106.6 78.1L108.1 77.1L109.6 76.1L111.6 75.1H112.9L114.5 74.1H116.6L118.2 73.1H121.6L123.2 72.1H126.8L128.4 71.1H141.9L143.5 70.1H164.8"/>
<path d="M89.2 491.5L89.3 452.5L89.3 446.5L89.3 441.5L89.4 436.5L89.4 430.5L89.5 425.5L89.5 420.5L89.5 415.5L89.6 410.5L89.6 405.5L89.7 400.5L89.7 394.5L89.8 388.5L89.9 382.5L90.0 375.5L90.1 368.5L90.1 362.5L90.2 357.5L90.3 352.5L90.4 346.5L90.5 341.5L90.7 333.5L90.8 324.5L90.9 315.5L91.1 307.5L91.2 299.5L91.3 294.5L91.5 287.5L91.6 282.5L91.8 275.5L92.0 270.5L92.2 264.5L92.5 257.5L92.8 249.5L93.1 242.5L93.4 236.5L93.8 229.5L94.2 223.5L94.7 217.5L95.2 211.5L95.7 204.5L96.0 199.5L96.6 192.5L97.0 187.5L97.6 181.5L98.0 176.5L98.7 169.5L99.6 162.5L100.5 154.5L101.5 147.5L102.6 140.5L103.8 133.5L104.8 128.5L105.7 124.5L106.7 119.5L107.7 115.5L108.6 112.5L109.6 108.5L110.6 103.5L111.5 101.5L112.5 98.5L113.5 95.5L114.5 92.5L114.7 91.5L115.8 89.5L117.0 87.5L118.2 85.5L119.3 83.5L120.3 81.5L122.2 80.5L123.2 79.5L125.1 78.5L126.7 77.5L129.0 76.5H132.1L133.7 75.5H135.1L136.7 74.5H140.9L142.5 73.5H144.8L146.4 72.5H154.4L156.0 71.5H164.8"/>
<path d="M89.2 491.5L89.3 395.5L89.3 390.5L89.3 384.5L89.3 378.5L89.4 372.5L89.4 367.5L89.4 361.5L89.4 355.5L89.5 349.5L89.5 343.5L89.5 338.5L89.6 333.5L89.6 326.5L89.6 321.5L89.7 316.5L89.7 311.5L89.8 305.5L89.8 300.5L89.9 294.5L89.9 287.5L90.0 281.5L90.1 275.5L90.1 270.5L90.2 265.5L90.3 257.5L90.4 249.5L90.5 241.5L90.6 233.5L90.7 228.5L90.7 223.5L90.8 217.5L90.8 212.5L90.9 207.5L91.0 201.5L91.2 192.5L91.2 187.5L91.4 178.5L91.6 170.5L91.7 165.5L92.0 157.5L92.2 150.5L92.5 143.5L92.8 136.5L93.1 130.5L93.4 123.5L93.8 116.5L94.2 110.5L94.7 104.5L95.2 98.5L96.0 93.5L96.9 90.5L98.0 86.5L99.0 83.5L99.6 82.5L100.5 81.5L101.5 80.5L102.6 78.5L104.5 77.5L105.7 76.5L107.3 75.5L108.9 74.5L110.7 73.5H112.9L114.5 72.5H115.4L117.0 71.5H124.5L126.1 70.5H143.8L145.4 69.5H164.8"/>
<path d="M89.2 492.3L89.3 403.3L89.3 398.3L89.3 393.3L89.3 388.3L89.3 383.3L89.4 377.3L89.4 371.3L89.4 366.3L89.5 360.3L89.5 354.3L89.5 348.3L89.6 342.3L89.6 335.3L89.7 330.3L89.7 325.3L89.7 320.3L89.8 313.3L89.9 308.3L89.9 302.3L90.0 296.3L90.1 289.3L90.1 284.3L90.2 277.3L90.3 271.3L90.4 264.3L90.5 257.3L90.7 249.3L90.7 244.3L90.8 239.3L90.9 231.3L91.0 226.3L91.1 221.3L91.2 214.3L91.3 209.3L91.4 204.3L91.6 197.3L91.7 192.3L92.0 185.3L92.2 177.3L92.5 171.3L92.8 164.3L93.1 158.3L93.4 152.3L94.0 145.3L94.4 138.3L94.9 133.3L95.7 126.3L96.6 119.3L97.0 114.3L98.0 108.3L98.7 103.3L99.6 98.3L100.5 95.3L101.5 90.3L102.6 88.3L103.8 86.3L105.1 84.3L106.6 82.3L107.3 80.3L108.6 79.3L109.8 78.3L110.6 77.3L112.5 76.3L113.7 75.3L115.8 74.3L118.2 73.3H121.6L123.2 72.3H126.8L128.4 71.3H139.9L141.5 70.3H164.8"/>
<path d="M89.2 492.2L89.3 389.2L89.3 384.2L89.3 379.2L89.3 373.2L89.3 368.2L89.4 363.2L89.4 358.2L89.4 353.2L89.4 348.2L89.5 343.2L89.5 338.2L89.5 333.2L89.6 327.2L89.6 321.2L89.6 316.2L89.7 311.2L89.7 306.2L89.8 300.2L89.8 294.2L89.9 288.2L89.9 282.2L90.0 276.2L90.1 271.2L90.1 265.2L90.2 258.2L90.3 251.2L90.4 245.2L90.5 238.2L90.7 230.2L90.7 224.2L90.8 219.2L90.8 214.2L90.9 209.2L91.0 204.2L91.2 195.2L91.3 187.2L91.5 179.2L91.7 172.2L91.8 167.2L92.1 161.2L92.3 154.2L92.6 149.2L92.9 144.2L93.3 139.2L93.6 133.2L94.2 126.2L94.9 121.2L95.4 116.2L96.1 111.2L97.0 107.2L98.0 102.2L99.0 98.2L100.0 95.2L101.0 92.2L102.6 90.2L102.8 89.2L103.8 87.2L104.8 86.2L105.7 85.2L106.7 83.2L107.7 82.2L108.6 81.2L109.6 80.2L109.8 79.2L111.5 78.2L112.5 77.2L113.7 76.2L115.4 75.2L117.0 74.2L119.3 73.2H120.6L122.2 72.2H126.4L128.0 71.2H142.7L144.3 70.2H164.8"/>
<path d="M89.2 491.5L89.3 454.5L89.3 449.5L89.3 443.5L89.4 438.5L89.4 433.5L89.4 428.5L89.5 423.5L89.5 418.5L89.5 413.5L89.6 408.5L89.6 401.5L89.7 396.5L89.8 390.5L89.8 384.5L89.9 377.5L90.0 372.5L90.1 366.5L90.1 361.5L90.2 356.5L90.3 350.5L90.4 343.5L90.5 337.5L90.7 329.5L90.8 320.5L90.9 311.5L91.0 305.5L91.2 297.5L91.2 292.5L91.4 284.5L91.6 276.5L91.7 271.5L92.0 263.5L92.2 256.5L92.3 251.5L92.6 244.5L92.8 239.5L93.1 232.5L93.3 227.5L93.6 220.5L94.0 213.5L94.4 206.5L94.7 201.5L95.2 195.5L95.7 188.5L96.1 183.5L96.6 177.5L97.0 172.5L97.6 166.5L98.3 159.5L99.0 153.5L99.9 146.5L100.9 139.5L101.9 134.5L102.8 129.5L103.8 125.5L104.8 120.5L105.7 117.5L106.7 112.5L107.7 109.5L108.6 105.5L109.6 102.5L110.6 98.5L111.5 95.5L112.5 93.5L113.5 90.5L114.5 88.5L115.4 87.5L116.4 84.5L117.4 83.5L118.2 82.5L119.3 81.5L120.3 80.5L121.2 79.5L123.2 78.5L125.1 77.5L127.0 76.5H128.3L129.9 75.5H133.2L134.8 74.5H137.0L138.6 73.5H142.7L144.3 72.5H148.6L150.2 71.5H164.8"/>
<path d="M89.2 491.7L89.3 444.7L89.3 439.7L89.3 434.7L89.4 429.7L89.4 424.7L89.4 417.7L89.5 412.7L89.5 407.7L89.5 401.7L89.6 395.7L89.6 389.7L89.7 383.7L89.7 378.7L89.8 373.7L89.8 367.7L89.9 359.7L90.0 354.7L90.1 348.7L90.1 342.7L90.2 336.7L90.3 331.7L90.4 324.7L90.5 318.7L90.6 313.7L90.7 305.7L90.8 297.7L91.0 288.7L91.2 279.7L91.3 272.7L91.4 267.7L91.6 259.7L91.8 250.7L92.0 245.7L92.2 238.7L92.5 230.7L92.8 222.7L93.1 214.7L93.4 205.7L93.8 197.7L94.2 189.7L94.7 181.7L95.2 175.7L95.7 167.7L96.3 161.7L96.9 156.7L97.6 149.7L98.3 144.7L99.0 139.7L99.9 132.7L100.9 128.7L101.9 123.7L102.8 119.7L103.8 116.7L104.8 112.7L105.7 108.7L107.3 104.7L108.6 102.7L109.6 99.7L110.6 96.7L111.5 93.7L112.5 90.7L113.5 88.7L114.5 87.7L115.4 86.7L116.4 84.7L117.0 83.7L118.2 81.7L119.3 80.7L120.3 79.7L121.2 78.7L123.2 77.7L125.1 76.7H126.4L128.0 75.7L130.1 74.7H133.2L134.8 73.7H139.0L140.6 72.7H144.8L146.4 71.7H164.8"/>
<path d="M89.2 492.2L89.3 395.2L89.3 390.2L89.3 385.2L89.3 380.2L89.4 374.2L89.4 369.2L89.4 364.2L89.4 359.2L89.4 354.2L89.5 348.2L89.5 343.2L89.5 338.2L89.6 333.2L89.6 327.2L89.7 322.2L89.7 317.2L89.7 312.2L89.8 307.2L89.8 302.2L89.9 297.2L90.0 292.2L90.0 286.2L90.1 280.2L90.2 274.2L90.3 267.2L90.4 261.2L90.5 254.2L90.6 247.2L90.7 240.2L90.8 235.2L90.9 227.2L91.1 219.2L91.2 211.2L91.4 204.2L91.5 199.2L91.7 192.2L92.0 185.2L92.2 177.2L92.3 172.2L92.6 167.2L92.8 162.2L93.1 153.2L93.4 146.2L93.6 140.2L93.8 135.2L94.2 127.2L94.7 119.2L95.2 112.2L96.0 105.2L97.0 101.2L98.0 99.2L99.2 96.2L99.9 95.2L100.9 94.2L101.5 92.2L103.2 91.2L104.5 88.2L105.8 86.2L106.6 85.2L107.7 84.2L108.6 82.2L109.6 81.2L110.6 80.2L111.5 79.2L112.5 78.2L113.5 77.2L114.5 76.2L115.8 75.2L118.2 74.2H119.2L120.8 73.2H123.5L125.1 72.2H130.3L131.9 71.2H148.6L150.2 70.2H164.8"/>
<path d="M89.2 491.2L89.3 422.2L89.3 416.2L89.3 411.2L89.3 406.2L89.4 401.2L89.4 396.2L89.4 391.2L89.5 385.2L89.5 379.2L89.5 374.2L89.6 369.2L89.6 364.2L89.7 357.2L89.7 350.2L89.8 345.2L89.8 340.2L89.9 335.2L89.9 330.2L90.0 323.2L90.1 317.2L90.1 312.2L90.2 305.2L90.3 299.2L90.4 292.2L90.5 286.2L90.7 276.2L90.7 270.2L90.8 265.2L90.8 260.2L90.9 255.2L91.0 250.2L91.2 241.2L91.3 233.2L91.5 225.2L91.6 220.2L91.8 212.2L92.1 203.2L92.3 198.2L92.6 191.2L92.9 186.2L93.3 181.2L93.8 175.2L94.2 169.2L94.7 164.2L95.2 159.2L96.0 153.2L96.6 148.2L97.2 143.2L98.0 137.2L98.7 132.2L99.6 127.2L100.5 122.2L101.5 119.2L102.6 114.2L103.8 110.2L104.8 107.2L105.7 104.2L106.7 100.2L107.7 98.2L108.6 96.2L109.6 94.2L110.6 92.2L111.5 89.2L112.5 87.2L113.5 86.2L113.7 85.2L114.7 84.2L115.4 83.2L116.4 82.2L117.0 81.2L118.2 80.2L119.3 79.2L120.3 78.2L122.2 77.2L123.6 76.2H125.1L126.7 75.2H129.3L130.9 74.2H133.2L134.8 73.2H137.0L138.6 72.2H146.7L148.3 71.2H161.2L162.8 70.2H164.8"/>
<path d="M89.2 491.0L89.3 414.0L89.3 409.0L89.3 404.0L89.3 399.0L89.3 393.0L89.4 387.0L89.4 382.0L89.4 377.0L89.5 372.0L89.5 367.0L89.5 361.0L89.6 355.0L89.6 349.0L89.7 344.0L89.7 337.0L89.8 332.0L89.8 327.0L89.9 320.0L90.0 314.0L90.1 309.0L90.1 303.0L90.2 298.0L90.3 291.0L90.4 284.0L90.5 277.0L90.7 269.0L90.8 261.0L90.8 256.0L91.0 248.0L91.1 243.0L91.2 235.0L91.4 227.0L91.6 220.0L91.7 215.0L92.0 207.0L92.2 200.0L92.5 192.0L92.8 184.0L93.1 177.0L93.4 169.0L93.8 162.0L94.2 155.0L94.7 147.0L95.2 141.0L95.7 136.0L96.3 131.0L97.0 125.0L98.0 120.0L99.0 115.0L100.0 111.0L101.5 107.0L102.6 104.0L103.8 100.0L104.8 98.0L105.7 97.0L107.3 93.0L108.6 90.0L109.6 89.0L110.6 87.0L111.5 85.0L112.5 84.0L113.5 83.0L114.5 81.0L115.4 80.0L115.8 79.0L117.0 78.0L118.2 77.0L120.3 76.0L122.2 75.0H124.5L126.1 74.0H130.3L131.9 73.0H137.0L138.6 72.0H148.6L150.2 71.0H164.8"/>
<path d="M89.2 491.7L89.3 448.7L89.3 443.7L89.3 438.7L89.4 433.7L89.4 428.7L89.4 423.7L89.5 417.7L89.5 412.7L89.6 407.7L89.6 402.7L89.7 396.7L89.7 390.7L89.8 385.7L89.9 379.7L90.0 373.7L90.0 368.7L90.1 363.7L90.2 358.7L90.3 352.7L90.4 345.7L90.5 338.7L90.7 331.7L90.8 323.7L90.9 315.7L91.1 308.7L91.2 299.7L91.4 292.7L91.6 284.7L91.8 276.7L92.1 269.7L92.3 262.7L92.5 257.7L92.8 251.7L93.1 243.7L93.4 236.7L93.8 228.7L94.2 222.7L94.7 215.7L95.2 208.7L95.7 200.7L96.3 192.7L96.9 184.7L97.2 179.7L98.0 171.7L98.7 163.7L99.6 156.7L100.0 151.7L100.9 143.7L101.9 137.7L102.8 132.7L103.8 128.7L104.8 123.7L105.7 117.7L106.7 112.7L107.7 108.7L108.6 104.7L109.6 102.7L110.6 98.7L111.5 95.7L112.5 93.7L113.5 91.7L114.5 89.7L115.4 87.7L115.8 86.7L117.0 84.7L118.2 83.7L119.3 81.7L120.3 80.7L121.2 79.7L122.2 78.7H123.5L125.1 77.7H126.4L128.0 76.7L130.1 75.7H132.1L133.7 74.7H137.0L138.6 73.7H141.9L143.5 72.7H149.6L151.2 71.7H164.8"/>
</g>
<g stroke="#55160f" stroke-width="1.3">
<path d="M89.2 492.0L89.3 441.0L89.3 436.0L89.3 430.0L89.4 424.0L89.4 419.0L89.4 413.0L89.5 407.0L89.5 402.0L89.5 397.0L89.6 391.0L89.6 386.0L89.7 380.0L89.7 375.0L89.8 368.0L89.9 361.0L90.0 356.0L90.0 351.0L90.1 345.0L90.2 339.0L90.3 334.0L90.4 327.0L90.5 321.0L90.6 315.0L90.7 307.0L90.8 300.0L91.0 292.0L91.2 284.0L91.3 276.0L91.5 268.0L91.6 263.0L91.8 255.0L92.0 250.0L92.2 242.0L92.3 237.0L92.6 228.0L92.8 223.0L92.9 218.0L93.1 213.0L93.3 207.0L93.4 202.0L93.6 196.0L93.8 190.0L94.0 184.0L94.2 179.0L94.4 173.0L94.7 168.0L94.9 162.0L95.2 157.0L95.7 148.0L96.1 143.0L96.6 138.0L97.2 132.0L98.0 127.0L98.7 122.0L99.6 117.0L100.5 113.0L101.5 109.0L102.6 105.0L103.8 102.0L105.1 98.0L106.6 94.0L107.7 92.0L108.6 90.0L109.6 89.0L110.6 87.0L111.5 85.0L112.5 84.0L113.5 83.0L114.5 82.0L115.4 81.0L116.4 80.0L117.4 79.0L119.3 78.0L120.8 77.0L123.2 76.0H125.4L127.0 75.0H131.2L132.8 74.0H138.0L139.6 73.0H150.3L151.9 72.0H165.1L166.7 71.0H171.5"/>
</g></g>
<line x1="89.2" y1="67.6" x2="501.4" y2="67.6" stroke="#e0281a" stroke-width="1.6" stroke-dasharray="4 5.4"/>
<path d="M83.7 50.8 H89.2 V492.0 H501.4" fill="none" stroke="#111" stroke-width="2"/>
<line x1="83.7" y1="492.0" x2="89.2" y2="492.0" stroke="#111" stroke-width="2"/>
<text x="80.7" y="504.4" font-size="23.8" text-anchor="end" font-weight="normal" >0</text>
<line x1="83.7" y1="403.8" x2="89.2" y2="403.8" stroke="#111" stroke-width="2"/>
<text x="80.7" y="415.1" font-size="23.8" text-anchor="end" font-weight="normal" >200</text>
<line x1="83.7" y1="315.5" x2="89.2" y2="315.5" stroke="#111" stroke-width="2"/>
<text x="80.7" y="325.8" font-size="23.8" text-anchor="end" font-weight="normal" >400</text>
<line x1="83.7" y1="227.3" x2="89.2" y2="227.3" stroke="#111" stroke-width="2"/>
<text x="80.7" y="236.5" font-size="23.8" text-anchor="end" font-weight="normal" >600</text>
<line x1="83.7" y1="139.0" x2="89.2" y2="139.0" stroke="#111" stroke-width="2"/>
<text x="80.7" y="147.2" font-size="23.8" text-anchor="end" font-weight="normal" >800</text>
<line x1="83.7" y1="50.8" x2="89.2" y2="50.8" stroke="#111" stroke-width="2"/>
<text x="80.7" y="57.9" font-size="23.8" text-anchor="end" font-weight="normal" >1,000</text>
<line x1="89.2" y1="492.0" x2="89.2" y2="497.0" stroke="#111" stroke-width="2"/>
<text x="89.2" y="521.5" font-size="23.8" text-anchor="middle" font-weight="normal" >0</text>
<line x1="157.9" y1="492.0" x2="157.9" y2="497.0" stroke="#111" stroke-width="2"/>
<text x="157.9" y="521.5" font-size="23.8" text-anchor="middle" font-weight="normal" >0.5</text>
<line x1="226.6" y1="492.0" x2="226.6" y2="497.0" stroke="#111" stroke-width="2"/>
<text x="226.6" y="521.5" font-size="23.8" text-anchor="middle" font-weight="normal" >1</text>
<line x1="295.3" y1="492.0" x2="295.3" y2="497.0" stroke="#111" stroke-width="2"/>
<text x="295.3" y="521.5" font-size="23.8" text-anchor="middle" font-weight="normal" >1.5</text>
<line x1="364.0" y1="492.0" x2="364.0" y2="497.0" stroke="#111" stroke-width="2"/>
<text x="364.0" y="521.5" font-size="23.8" text-anchor="middle" font-weight="normal" >2</text>
<line x1="432.7" y1="492.0" x2="432.7" y2="497.0" stroke="#111" stroke-width="2"/>
<text x="432.7" y="521.5" font-size="23.8" text-anchor="middle" font-weight="normal" >2.5</text>
<line x1="501.4" y1="492.0" x2="501.4" y2="497.0" stroke="#111" stroke-width="2"/>
<text x="501.4" y="521.5" font-size="23.8" text-anchor="middle" font-weight="normal" >3</text>
<text x="231" y="554" font-size="23.8">Reads x 10<tspan font-size="14.5" dy="-8">6</tspan></text>
<text transform="translate(29.3,279) rotate(-90)" font-size="23.8" text-anchor="middle">Number of miRNAs</text>
<rect x="227" y="312.3" width="24.2" height="16" fill="#d4600f"/>
<text x="257.0" y="328.3" font-size="23.8" text-anchor="start" font-weight="normal" >4N</text>
<rect x="227" y="341.0" width="24.2" height="16" fill="#7fbbe3"/>
<text x="257.0" y="357.0" font-size="23.8" text-anchor="start" font-weight="normal" >NEBNext</text>
<rect x="227" y="369.7" width="24.2" height="16" fill="#dc2b1c"/>
<text x="257.0" y="385.7" font-size="23.8" text-anchor="start" font-weight="normal" >TGIRT-NTTR</text>
<rect x="227" y="398.4" width="24.2" height="16" fill="#5e1a14"/>
<text x="257.0" y="414.4" font-size="23.8" text-anchor="start" font-weight="normal" >TGIRT-CircLig</text>
<rect x="227" y="427.1" width="24.2" height="16" fill="#2c7a2a"/>
<text x="257.0" y="443.1" font-size="23.8" text-anchor="start" font-weight="normal" >TGIRT-seq (NTC, NTT, MTT)</text>
<rect x="227" y="455.8" width="24.2" height="16" fill="#c9cbca"/>
<text x="257.0" y="471.8" font-size="23.8" text-anchor="start" font-weight="normal" >Other methods</text>
</g>
<g id="panelB">
<text x="585.5" y="20.4" font-size="29.5" text-anchor="start" font-weight="bold" >B</text>
<g id="violins"><path d="M693.3 124.2L693.4 125.7L693.4 127.2L693.4 128.7L693.4 130.2L693.4 131.7L693.4 133.2L693.5 134.7L693.5 136.2L693.6 137.7L693.6 139.2L693.6 140.7L693.7 142.2L693.8 143.7L693.8 145.2L693.9 146.7L694.0 148.2L694.2 149.7L694.3 151.2L694.6 152.7L694.9 154.2L695.3 155.7L695.6 157.2L696.1 158.7L696.6 160.2L697.1 161.7L697.7 163.2L698.3 164.7L699.0 166.2L699.7 167.7L700.6 169.2L701.7 170.7L703.0 172.2L704.2 173.7L705.5 175.2L706.6 176.7L707.7 178.2L708.8 179.7L709.8 181.2L710.8 182.7L711.8 184.2L712.7 185.7L713.5 187.2L714.2 188.7L714.9 190.2L715.7 191.7L716.5 193.2L717.4 194.7L718.4 196.2L719.3 197.7L720.0 199.2L720.6 200.7L721.2 202.2L721.7 203.7L722.1 205.2L722.5 206.7L722.9 208.2L723.2 209.7L723.5 211.2L723.5 212.7L723.4 214.2L723.2 215.7L723.0 217.2L722.5 218.7L721.9 220.2L721.1 221.7L720.2 223.2L719.4 224.7L718.5 226.2L717.6 227.7L716.6 229.2L715.6 230.7L714.6 232.2L713.7 233.7L712.8 235.2L711.9 236.7L711.1 238.2L710.2 239.7L709.4 241.2L708.5 242.7L707.7 244.2L706.9 245.7L706.1 247.2L705.3 248.7L704.5 250.2L703.8 251.7L703.0 253.2L702.3 254.7L701.5 256.2L700.8 257.7L700.2 259.2L699.5 260.7L698.9 262.2L698.3 263.7L697.7 265.2L697.3 266.7L696.9 268.2L696.5 269.7L696.2 271.2L695.9 272.7L695.6 274.2L695.3 275.7L695.1 277.2L694.8 278.7L694.6 280.2L694.4 281.7L694.2 283.2L694.0 284.7L693.9 286.2L693.7 287.7L693.6 289.2L693.6 290.7L693.5 292.2L693.5 293.7L693.4 295.2L693.4 296.7L693.4 298.2L693.4 299.7L693.3 301.2L693.3 302.7L693.3 304.2L693.3 305.7L693.3 307.2L693.3 308.7L693.3 310.2L693.3 311.7L693.3 313.2L693.3 314.7L693.3 316.2L693.3 317.7L693.3 319.2L693.3 320.7L693.3 322.2L693.3 323.7L693.3 325.2L693.3 326.7L693.3 328.2L693.3 329.7L693.3 331.2L693.3 332.7L693.3 334.2L693.3 335.7L693.3 337.2L693.3 338.7L693.3 340.2L693.3 341.7L693.3 343.2L693.3 344.7L693.3 346.2L693.3 347.7L693.3 349.2L693.3 350.7L693.3 352.2L693.3 353.7L693.3 355.2L693.3 356.7L693.3 358.2L693.3 359.7L693.3 361.2L693.3 362.7L693.3 364.2L693.3 365.7L693.3 367.2L693.3 368.7L693.3 370.2L693.3 371.7L693.3 373.2L693.3 374.7L693.3 376.2L693.3 377.7L693.3 379.2L693.3 380.7L693.3 382.2L693.3 382.5L693.2 382.5L693.2 382.2L693.2 380.7L693.2 379.2L693.2 377.7L693.2 376.2L693.2 374.7L693.2 373.2L693.2 371.7L693.2 370.2L693.2 368.7L693.2 367.2L693.2 365.7L693.2 364.2L693.2 362.7L693.2 361.2L693.2 359.7L693.2 358.2L693.2 356.7L693.2 355.2L693.2 353.7L693.2 352.2L693.2 350.7L693.2 349.2L693.2 347.7L693.2 346.2L693.2 344.7L693.2 343.2L693.2 341.7L693.2 340.2L693.2 338.7L693.2 337.2L693.2 335.7L693.2 334.2L693.2 332.7L693.2 331.2L693.2 329.7L693.2 328.2L693.2 326.7L693.2 325.2L693.2 323.7L693.2 322.2L693.2 320.7L693.2 319.2L693.2 317.7L693.2 316.2L693.2 314.7L693.2 313.2L693.2 311.7L693.2 310.2L693.2 308.7L693.2 307.2L693.2 305.7L693.2 304.2L693.2 302.7L693.2 301.2L693.2 299.7L693.2 298.2L693.2 296.7L693.2 295.2L693.1 293.7L693.1 292.2L693.0 290.7L693.0 289.2L692.9 287.7L692.7 286.2L692.6 284.7L692.4 283.2L692.2 281.7L692.0 280.2L691.8 278.7L691.5 277.2L691.3 275.7L691.0 274.2L690.7 272.7L690.4 271.2L690.1 269.7L689.7 268.2L689.3 266.7L688.9 265.2L688.3 263.7L687.7 262.2L687.1 260.7L686.4 259.2L685.8 257.7L685.1 256.2L684.3 254.7L683.6 253.2L682.8 251.7L682.1 250.2L681.3 248.7L680.5 247.2L679.7 245.7L678.9 244.2L678.1 242.7L677.2 241.2L676.4 239.7L675.5 238.2L674.7 236.7L673.8 235.2L672.9 233.7L672.0 232.2L671.0 230.7L670.0 229.2L669.0 227.7L668.1 226.2L667.2 224.7L666.4 223.2L665.5 221.7L664.7 220.2L664.1 218.7L663.6 217.2L663.4 215.7L663.2 214.2L663.1 212.7L663.1 211.2L663.4 209.7L663.7 208.2L664.1 206.7L664.5 205.2L664.9 203.7L665.4 202.2L666.0 200.7L666.6 199.2L667.3 197.7L668.2 196.2L669.2 194.7L670.1 193.2L670.9 191.7L671.7 190.2L672.4 188.7L673.1 187.2L673.9 185.7L674.8 184.2L675.8 182.7L676.8 181.2L677.8 179.7L678.9 178.2L680.0 176.7L681.1 175.2L682.4 173.7L683.6 172.2L684.9 170.7L686.0 169.2L686.9 167.7L687.6 166.2L688.3 164.7L688.9 163.2L689.5 161.7L690.0 160.2L690.5 158.7L691.0 157.2L691.3 155.7L691.7 154.2L692.0 152.7L692.3 151.2L692.4 149.7L692.6 148.2L692.7 146.7L692.8 145.2L692.8 143.7L692.9 142.2L693.0 140.7L693.0 139.2L693.0 137.7L693.1 136.2L693.1 134.7L693.2 133.2L693.2 131.7L693.2 130.2L693.2 128.7L693.2 127.2L693.2 125.7L693.2 124.2Z" fill="#d92b18" stroke="#2f2f2f" stroke-width="2.0" stroke-linejoin="round"/>
<line x1="693.3" y1="124.2" x2="693.3" y2="382.5" stroke="#2f2f2f" stroke-width="1.7"/>
<rect x="687.9" y="190.8" width="10.8" height="47.5" fill="#2f2f2f"/>
<ellipse cx="693.3" cy="214.2" rx="6.2" ry="2.0" fill="#2f2f2f"/>
<ellipse cx="693.3" cy="214.2" rx="3.1" ry="0.8" fill="#f4f4f4"/>
<path d="M769.9 124.2L770.0 125.7L770.0 127.2L770.0 128.7L770.0 130.2L770.0 131.7L770.1 133.2L770.1 134.7L770.2 136.2L770.2 137.7L770.3 139.2L770.3 140.7L770.4 142.2L770.5 143.7L770.6 145.2L770.8 146.7L770.9 148.2L771.1 149.7L771.4 151.2L771.6 152.7L771.8 154.2L772.1 155.7L772.5 157.2L772.8 158.7L773.3 160.2L773.8 161.7L774.5 163.2L775.2 164.7L775.9 166.2L776.7 167.7L777.4 169.2L778.1 170.7L778.8 172.2L779.6 173.7L780.3 175.2L781.1 176.7L782.0 178.2L782.8 179.7L783.7 181.2L784.6 182.7L785.4 184.2L786.2 185.7L786.9 187.2L787.6 188.7L788.2 190.2L788.9 191.7L789.7 193.2L790.6 194.7L791.6 196.2L792.5 197.7L793.1 199.2L793.6 200.7L794.1 202.2L794.4 203.7L794.7 205.2L795.0 206.7L795.1 208.2L795.3 209.7L795.5 211.2L795.6 212.7L795.7 214.2L795.7 215.7L795.6 217.2L795.4 218.7L795.1 220.2L794.8 221.7L794.4 223.2L794.0 224.7L793.4 226.2L792.7 227.7L791.9 229.2L791.0 230.7L790.2 232.2L789.4 233.7L788.6 235.2L787.8 236.7L787.0 238.2L786.2 239.7L785.5 241.2L784.8 242.7L784.1 244.2L783.4 245.7L782.7 247.2L782.1 248.7L781.4 250.2L780.7 251.7L780.1 253.2L779.4 254.7L778.8 256.2L778.1 257.7L777.5 259.2L776.9 260.7L776.3 262.2L775.7 263.7L775.1 265.2L774.7 266.7L774.3 268.2L773.9 269.7L773.5 271.2L773.2 272.7L772.9 274.2L772.6 275.7L772.4 277.2L772.1 278.7L771.9 280.2L771.7 281.7L771.5 283.2L771.3 284.7L771.2 286.2L771.1 287.7L771.0 289.2L770.9 290.7L770.8 292.2L770.7 293.7L770.6 295.2L770.5 296.7L770.4 298.2L770.4 299.7L770.3 301.2L770.2 302.7L770.1 304.2L770.0 305.7L770.0 307.2L770.0 308.7L769.9 310.2L769.9 311.7L769.9 313.2L769.9 314.7L769.9 316.2L769.9 317.7L769.9 319.2L769.9 320.7L769.9 322.2L769.9 323.7L769.9 325.2L769.9 326.7L769.9 328.2L769.9 329.7L769.9 331.2L769.9 332.7L769.9 334.2L769.9 335.7L769.9 337.2L769.9 338.7L769.9 340.2L769.9 341.7L769.9 343.2L769.9 344.7L769.9 346.2L769.9 347.7L769.9 349.2L769.9 350.7L769.9 352.2L769.9 353.7L769.9 355.2L769.9 356.7L769.9 358.2L769.9 359.7L769.9 361.2L769.9 362.7L769.9 364.2L769.9 365.7L769.9 367.2L769.9 368.6L769.9 368.6L769.9 367.2L769.9 365.7L769.9 364.2L769.9 362.7L769.9 361.2L769.9 359.7L769.9 358.2L769.9 356.7L769.9 355.2L769.9 353.7L769.9 352.2L769.9 350.7L769.9 349.2L769.9 347.7L769.9 346.2L769.9 344.7L769.9 343.2L769.9 341.7L769.9 340.2L769.9 338.7L769.9 337.2L769.9 335.7L769.9 334.2L769.9 332.7L769.9 331.2L769.9 329.7L769.9 328.2L769.9 326.7L769.9 325.2L769.9 323.7L769.9 322.2L769.9 320.7L769.9 319.2L769.9 317.7L769.9 316.2L769.9 314.7L769.9 313.2L769.9 311.7L769.9 310.2L769.8 308.7L769.8 307.2L769.8 305.7L769.7 304.2L769.6 302.7L769.5 301.2L769.4 299.7L769.4 298.2L769.3 296.7L769.2 295.2L769.1 293.7L769.0 292.2L768.9 290.7L768.8 289.2L768.7 287.7L768.6 286.2L768.5 284.7L768.3 283.2L768.1 281.7L767.9 280.2L767.7 278.7L767.4 277.2L767.2 275.7L766.9 274.2L766.6 272.7L766.3 271.2L765.9 269.7L765.5 268.2L765.1 266.7L764.7 265.2L764.1 263.7L763.5 262.2L762.9 260.7L762.3 259.2L761.7 257.7L761.0 256.2L760.4 254.7L759.7 253.2L759.1 251.7L758.4 250.2L757.7 248.7L757.1 247.2L756.4 245.7L755.7 244.2L755.0 242.7L754.3 241.2L753.6 239.7L752.8 238.2L752.0 236.7L751.2 235.2L750.4 233.7L749.6 232.2L748.8 230.7L747.9 229.2L747.1 227.7L746.4 226.2L745.8 224.7L745.4 223.2L745.0 221.7L744.7 220.2L744.4 218.7L744.2 217.2L744.1 215.7L744.1 214.2L744.2 212.7L744.3 211.2L744.5 209.7L744.7 208.2L744.8 206.7L745.1 205.2L745.4 203.7L745.7 202.2L746.2 200.7L746.7 199.2L747.3 197.7L748.2 196.2L749.2 194.7L750.1 193.2L750.9 191.7L751.6 190.2L752.2 188.7L752.9 187.2L753.6 185.7L754.4 184.2L755.2 182.7L756.1 181.2L757.0 179.7L757.8 178.2L758.7 176.7L759.5 175.2L760.2 173.7L761.0 172.2L761.7 170.7L762.4 169.2L763.1 167.7L763.9 166.2L764.6 164.7L765.3 163.2L766.0 161.7L766.5 160.2L767.0 158.7L767.3 157.2L767.7 155.7L768.0 154.2L768.2 152.7L768.4 151.2L768.7 149.7L768.9 148.2L769.0 146.7L769.2 145.2L769.3 143.7L769.4 142.2L769.5 140.7L769.5 139.2L769.6 137.7L769.6 136.2L769.7 134.7L769.7 133.2L769.8 131.7L769.8 130.2L769.8 128.7L769.8 127.2L769.8 125.7L769.9 124.2Z" fill="#d92b18" stroke="#2f2f2f" stroke-width="2.0" stroke-linejoin="round"/>
<line x1="769.9" y1="124.2" x2="769.9" y2="368.6" stroke="#2f2f2f" stroke-width="1.7"/>
<rect x="764.5" y="190.8" width="10.8" height="54.3" fill="#2f2f2f"/>
<ellipse cx="769.9" cy="217.1" rx="6.2" ry="2.0" fill="#2f2f2f"/>
<ellipse cx="769.9" cy="217.1" rx="3.1" ry="0.8" fill="#f4f4f4"/>
<path d="M846.3 124.2L846.4 125.7L846.4 127.2L846.4 128.7L846.4 130.2L846.4 131.7L846.4 133.2L846.4 134.7L846.5 136.2L846.6 137.7L846.7 139.2L846.8 140.7L847.0 142.2L847.2 143.7L847.4 145.2L847.7 146.7L848.0 148.2L848.4 149.7L848.8 151.2L849.3 152.7L849.8 154.2L850.4 155.7L851.0 157.2L851.6 158.7L852.3 160.2L853.0 161.7L853.7 163.2L854.5 164.7L855.3 166.2L856.0 167.7L856.8 169.2L857.7 170.7L858.5 172.2L859.3 173.7L860.1 175.2L860.8 176.7L861.4 178.2L862.1 179.7L862.7 181.2L863.3 182.7L863.8 184.2L864.2 185.7L864.6 187.2L864.9 188.7L865.3 190.2L865.6 191.7L865.8 193.2L866.0 194.7L866.2 196.2L866.4 197.7L866.5 199.2L866.5 200.7L866.5 202.2L866.5 203.7L866.5 205.2L866.5 206.7L866.5 208.2L866.4 209.7L866.2 211.2L866.0 212.7L865.8 214.2L865.6 215.7L865.3 217.2L865.1 218.7L864.8 220.2L864.6 221.7L864.3 223.2L864.0 224.7L863.6 226.2L863.3 227.7L862.9 229.2L862.5 230.7L862.1 232.2L861.8 233.7L861.4 235.2L861.0 236.7L860.6 238.2L860.2 239.7L859.8 241.2L859.4 242.7L859.1 244.2L858.7 245.7L858.3 247.2L858.0 248.7L857.6 250.2L857.2 251.7L856.8 253.2L856.4 254.7L856.0 256.2L855.6 257.7L855.3 259.2L854.9 260.7L854.6 262.2L854.3 263.7L854.0 265.2L853.7 266.7L853.5 268.2L853.2 269.7L852.9 271.2L852.7 272.7L852.5 274.2L852.3 275.7L852.0 277.2L851.8 278.7L851.7 280.2L851.5 281.7L851.3 283.2L851.1 284.7L851.0 286.2L850.8 287.7L850.7 289.2L850.5 290.7L850.4 292.2L850.2 293.7L850.1 295.2L849.9 296.7L849.8 298.2L849.6 299.7L849.5 301.2L849.3 302.7L849.2 304.2L849.0 305.7L848.9 307.2L848.7 308.7L848.6 310.2L848.4 311.7L848.3 313.2L848.1 314.7L848.0 316.2L847.8 317.7L847.6 319.2L847.5 320.7L847.3 322.2L847.2 323.7L847.1 325.2L846.9 326.7L846.8 328.2L846.8 329.7L846.7 331.2L846.6 332.7L846.6 334.2L846.6 335.7L846.5 337.2L846.5 338.7L846.4 340.2L846.4 341.7L846.4 343.2L846.4 344.7L846.4 346.2L846.4 347.7L846.3 349.2L846.3 350.7L846.3 352.2L846.3 353.7L846.3 355.2L846.3 356.7L846.3 358.2L846.3 359.7L846.3 361.2L846.3 362.7L846.3 364.2L846.3 365.7L846.3 367.2L846.3 368.7L846.3 370.2L846.3 371.7L846.3 373.2L846.3 374.7L846.3 376.2L846.3 377.7L846.3 379.2L846.3 380.7L846.3 382.2L846.3 383.7L846.3 385.2L846.3 386.7L846.3 388.2L846.3 389.7L846.3 391.2L846.3 392.7L846.3 394.2L846.3 395.7L846.3 397.2L846.3 398.7L846.3 400.2L846.3 401.7L846.3 403.2L846.3 404.7L846.3 406.2L846.3 407.7L846.3 409.2L846.3 410.7L846.3 412.2L846.3 413.7L846.3 415.2L846.3 416.7L846.3 418.2L846.3 419.7L846.3 421.2L846.3 422.7L846.3 424.2L846.3 425.7L846.3 427.2L846.3 428.7L846.3 430.2L846.3 431.5L846.2 431.5L846.2 430.2L846.2 428.7L846.2 427.2L846.2 425.7L846.2 424.2L846.2 422.7L846.2 421.2L846.2 419.7L846.2 418.2L846.2 416.7L846.2 415.2L846.2 413.7L846.2 412.2L846.2 410.7L846.2 409.2L846.2 407.7L846.2 406.2L846.2 404.7L846.2 403.2L846.2 401.7L846.2 400.2L846.2 398.7L846.2 397.2L846.2 395.7L846.2 394.2L846.2 392.7L846.2 391.2L846.2 389.7L846.2 388.2L846.2 386.7L846.2 385.2L846.2 383.7L846.2 382.2L846.2 380.7L846.2 379.2L846.2 377.7L846.2 376.2L846.2 374.7L846.2 373.2L846.2 371.7L846.2 370.2L846.2 368.7L846.2 367.2L846.2 365.7L846.2 364.2L846.2 362.7L846.2 361.2L846.2 359.7L846.2 358.2L846.2 356.7L846.2 355.2L846.2 353.7L846.2 352.2L846.2 350.7L846.2 349.2L846.2 347.7L846.2 346.2L846.2 344.7L846.2 343.2L846.2 341.7L846.2 340.2L846.1 338.7L846.1 337.2L846.0 335.7L846.0 334.2L846.0 332.7L845.9 331.2L845.8 329.7L845.8 328.2L845.7 326.7L845.5 325.2L845.4 323.7L845.3 322.2L845.1 320.7L845.0 319.2L844.8 317.7L844.6 316.2L844.5 314.7L844.3 313.2L844.2 311.7L844.0 310.2L843.9 308.7L843.7 307.2L843.6 305.7L843.4 304.2L843.3 302.7L843.1 301.2L843.0 299.7L842.8 298.2L842.7 296.7L842.5 295.2L842.4 293.7L842.2 292.2L842.1 290.7L841.9 289.2L841.8 287.7L841.6 286.2L841.5 284.7L841.3 283.2L841.1 281.7L840.9 280.2L840.8 278.7L840.6 277.2L840.3 275.7L840.1 274.2L839.9 272.7L839.7 271.2L839.4 269.7L839.1 268.2L838.9 266.7L838.6 265.2L838.3 263.7L838.0 262.2L837.7 260.7L837.3 259.2L837.0 257.7L836.6 256.2L836.2 254.7L835.8 253.2L835.4 251.7L835.0 250.2L834.6 248.7L834.3 247.2L833.9 245.7L833.5 244.2L833.2 242.7L832.8 241.2L832.4 239.7L832.0 238.2L831.6 236.7L831.2 235.2L830.8 233.7L830.5 232.2L830.1 230.7L829.7 229.2L829.3 227.7L829.0 226.2L828.6 224.7L828.3 223.2L828.0 221.7L827.8 220.2L827.5 218.7L827.3 217.2L827.0 215.7L826.8 214.2L826.6 212.7L826.4 211.2L826.2 209.7L826.1 208.2L826.1 206.7L826.1 205.2L826.1 203.7L826.1 202.2L826.1 200.7L826.1 199.2L826.2 197.7L826.4 196.2L826.6 194.7L826.8 193.2L827.0 191.7L827.3 190.2L827.7 188.7L828.0 187.2L828.4 185.7L828.8 184.2L829.3 182.7L829.9 181.2L830.5 179.7L831.2 178.2L831.8 176.7L832.5 175.2L833.3 173.7L834.1 172.2L834.9 170.7L835.8 169.2L836.6 167.7L837.3 166.2L838.1 164.7L838.9 163.2L839.6 161.7L840.3 160.2L841.0 158.7L841.6 157.2L842.2 155.7L842.8 154.2L843.3 152.7L843.8 151.2L844.2 149.7L844.6 148.2L844.9 146.7L845.2 145.2L845.4 143.7L845.6 142.2L845.8 140.7L845.9 139.2L846.0 137.7L846.1 136.2L846.2 134.7L846.2 133.2L846.2 131.7L846.2 130.2L846.2 128.7L846.2 127.2L846.2 125.7L846.2 124.2Z" fill="#c25f16" stroke="#2f2f2f" stroke-width="2.0" stroke-linejoin="round"/>
<line x1="846.3" y1="124.2" x2="846.3" y2="431.5" stroke="#2f2f2f" stroke-width="1.7"/>
<rect x="840.9" y="188.1" width="10.8" height="68.0" fill="#2f2f2f"/>
<ellipse cx="846.3" cy="218.3" rx="6.2" ry="2.0" fill="#2f2f2f"/>
<ellipse cx="846.3" cy="218.3" rx="3.1" ry="0.8" fill="#f4f4f4"/>
<path d="M924.2 137.3L924.3 138.8L924.5 140.3L924.6 141.8L924.8 143.3L925.0 144.8L925.3 146.3L925.5 147.8L925.8 149.3L926.1 150.8L926.5 152.3L926.9 153.8L927.4 155.3L927.9 156.8L928.4 158.3L928.9 159.8L929.4 161.3L929.9 162.8L930.4 164.3L931.0 165.8L931.5 167.3L932.1 168.8L932.6 170.3L933.2 171.8L933.8 173.3L934.4 174.8L935.0 176.3L935.6 177.8L936.2 179.3L936.9 180.8L937.5 182.3L938.1 183.8L938.6 185.3L939.1 186.8L939.6 188.3L940.0 189.8L940.4 191.3L940.8 192.8L941.1 194.3L941.4 195.8L941.7 197.3L941.9 198.8L942.1 200.3L942.4 201.8L942.7 203.3L942.9 204.8L943.1 206.3L943.1 207.8L943.2 209.3L943.2 210.8L943.3 212.3L943.3 213.8L943.3 215.3L943.2 216.8L943.1 218.3L942.8 219.8L942.5 221.3L942.2 222.8L941.8 224.3L941.4 225.8L940.9 227.3L940.4 228.8L939.8 230.3L939.3 231.8L938.8 233.3L938.3 234.8L937.8 236.3L937.2 237.8L936.8 239.3L936.3 240.8L935.9 242.3L935.5 243.8L935.1 245.3L934.7 246.8L934.3 248.3L934.0 249.8L933.7 251.3L933.4 252.8L933.1 254.3L932.8 255.8L932.5 257.3L932.2 258.8L931.9 260.3L931.7 261.8L931.4 263.3L931.2 264.8L930.9 266.3L930.7 267.8L930.4 269.3L930.2 270.8L930.0 272.3L929.7 273.8L929.5 275.3L929.3 276.8L929.0 278.3L928.7 279.8L928.5 281.3L928.3 282.8L928.0 284.3L927.8 285.8L927.6 287.3L927.4 288.8L927.3 290.3L927.1 291.8L926.9 293.3L926.8 294.8L926.6 296.3L926.4 297.8L926.2 299.3L926.0 300.8L925.8 302.3L925.6 303.8L925.4 305.3L925.1 306.8L924.9 308.3L924.7 309.8L924.5 311.3L924.3 312.8L924.2 314.3L924.0 315.8L923.9 317.3L923.7 318.8L923.6 320.3L923.4 321.8L923.3 323.3L923.2 324.8L923.1 326.3L923.0 327.8L922.9 329.3L922.9 330.8L922.9 332.3L922.9 333.8L922.9 335.3L922.9 336.8L922.9 338.3L922.9 339.8L922.8 341.3L922.8 342.8L922.8 344.3L922.8 345.8L922.8 347.3L922.8 348.8L922.8 350.3L922.8 351.8L922.8 353.3L922.8 354.8L922.8 356.3L922.8 357.8L922.8 359.3L922.8 360.8L922.8 362.3L922.8 363.8L922.8 365.3L922.8 366.8L922.8 368.3L922.8 369.8L922.8 371.3L922.8 372.8L922.8 374.3L922.8 375.8L922.8 377.3L922.8 378.8L922.8 380.3L922.8 381.8L922.8 383.3L922.8 384.8L922.8 386.3L922.8 387.8L922.8 389.3L922.8 390.8L922.8 392.3L922.8 393.8L922.8 394.5L922.7 394.5L922.6 393.8L922.6 392.3L922.6 390.8L922.6 389.3L922.6 387.8L922.6 386.3L922.6 384.8L922.6 383.3L922.6 381.8L922.6 380.3L922.6 378.8L922.6 377.3L922.6 375.8L922.6 374.3L922.6 372.8L922.6 371.3L922.6 369.8L922.6 368.3L922.6 366.8L922.6 365.3L922.6 363.8L922.6 362.3L922.6 360.8L922.6 359.3L922.6 357.8L922.6 356.3L922.6 354.8L922.6 353.3L922.6 351.8L922.6 350.3L922.6 348.8L922.6 347.3L922.6 345.8L922.6 344.3L922.6 342.8L922.6 341.3L922.5 339.8L922.5 338.3L922.5 336.8L922.5 335.3L922.5 333.8L922.5 332.3L922.5 330.8L922.5 329.3L922.4 327.8L922.3 326.3L922.2 324.8L922.1 323.3L922.0 321.8L921.8 320.3L921.7 318.8L921.5 317.3L921.4 315.8L921.2 314.3L921.1 312.8L920.9 311.3L920.7 309.8L920.5 308.3L920.3 306.8L920.0 305.3L919.8 303.8L919.6 302.3L919.4 300.8L919.2 299.3L919.0 297.8L918.8 296.3L918.6 294.8L918.5 293.3L918.3 291.8L918.1 290.3L918.0 288.8L917.8 287.3L917.6 285.8L917.4 284.3L917.1 282.8L916.9 281.3L916.7 279.8L916.4 278.3L916.1 276.8L915.9 275.3L915.7 273.8L915.4 272.3L915.2 270.8L915.0 269.3L914.7 267.8L914.5 266.3L914.2 264.8L914.0 263.3L913.7 261.8L913.5 260.3L913.2 258.8L912.9 257.3L912.6 255.8L912.3 254.3L912.0 252.8L911.7 251.3L911.4 249.8L911.1 248.3L910.7 246.8L910.3 245.3L909.9 243.8L909.5 242.3L909.1 240.8L908.6 239.3L908.2 237.8L907.6 236.3L907.1 234.8L906.6 233.3L906.1 231.8L905.6 230.3L905.0 228.8L904.5 227.3L904.0 225.8L903.6 224.3L903.2 222.8L902.9 221.3L902.6 219.8L902.3 218.3L902.2 216.8L902.1 215.3L902.1 213.8L902.1 212.3L902.2 210.8L902.2 209.3L902.3 207.8L902.3 206.3L902.5 204.8L902.7 203.3L903.0 201.8L903.3 200.3L903.5 198.8L903.7 197.3L904.0 195.8L904.3 194.3L904.6 192.8L905.0 191.3L905.4 189.8L905.8 188.3L906.3 186.8L906.8 185.3L907.3 183.8L907.9 182.3L908.5 180.8L909.2 179.3L909.8 177.8L910.4 176.3L911.0 174.8L911.6 173.3L912.2 171.8L912.8 170.3L913.3 168.8L913.9 167.3L914.4 165.8L915.0 164.3L915.5 162.8L916.0 161.3L916.5 159.8L917.0 158.3L917.5 156.8L918.0 155.3L918.5 153.8L918.9 152.3L919.3 150.8L919.6 149.3L919.9 147.8L920.1 146.3L920.4 144.8L920.6 143.3L920.8 141.8L920.9 140.3L921.1 138.8L921.2 137.3Z" fill="#dc8a80" stroke="#2f2f2f" stroke-width="2.0" stroke-linejoin="round"/>
<line x1="922.7" y1="137.3" x2="922.7" y2="394.5" stroke="#2f2f2f" stroke-width="1.7"/>
<rect x="917.3" y="189.8" width="10.8" height="65.8" fill="#2f2f2f"/>
<ellipse cx="922.7" cy="220.0" rx="6.2" ry="2.0" fill="#2f2f2f"/>
<ellipse cx="922.7" cy="220.0" rx="3.1" ry="0.8" fill="#f4f4f4"/>
<path d="M999.4 80.5L999.5 82.0L999.5 83.5L999.5 85.0L999.5 86.5L999.5 88.0L999.5 89.5L999.5 91.0L999.5 92.5L999.5 94.0L999.5 95.5L999.5 97.0L999.5 98.5L999.5 100.0L999.5 101.5L999.5 103.0L999.5 104.5L999.5 106.0L999.5 107.5L999.5 109.0L999.5 110.5L999.6 112.0L999.6 113.5L999.6 115.0L999.6 116.5L999.6 118.0L999.6 119.5L999.7 121.0L999.8 122.5L999.9 124.0L1000.1 125.5L1000.2 127.0L1000.3 128.5L1000.5 130.0L1000.6 131.5L1000.8 133.0L1000.9 134.5L1001.1 136.0L1001.4 137.5L1001.6 139.0L1001.9 140.5L1002.3 142.0L1002.6 143.5L1003.0 145.0L1003.3 146.5L1003.7 148.0L1004.0 149.5L1004.3 151.0L1004.6 152.5L1004.9 154.0L1005.2 155.5L1005.4 157.0L1005.7 158.5L1006.0 160.0L1006.3 161.5L1006.6 163.0L1006.9 164.5L1007.1 166.0L1007.5 167.5L1007.8 169.0L1008.1 170.5L1008.5 172.0L1008.9 173.5L1009.4 175.0L1009.8 176.5L1010.2 178.0L1010.6 179.5L1010.9 181.0L1011.3 182.5L1011.7 184.0L1012.0 185.5L1012.3 187.0L1012.7 188.5L1013.0 190.0L1013.3 191.5L1013.5 193.0L1013.8 194.5L1014.0 196.0L1014.2 197.5L1014.5 199.0L1014.7 200.5L1014.9 202.0L1015.0 203.5L1015.2 205.0L1015.4 206.5L1015.6 208.0L1015.7 209.5L1015.8 211.0L1015.9 212.5L1016.0 214.0L1016.1 215.5L1016.2 217.0L1016.2 218.5L1016.2 220.0L1016.2 221.5L1016.2 223.0L1016.2 224.5L1016.2 226.0L1016.2 227.5L1016.2 229.0L1016.1 230.5L1016.1 232.0L1016.0 233.5L1015.9 235.0L1015.8 236.5L1015.7 238.0L1015.6 239.5L1015.4 241.0L1015.3 242.5L1015.2 244.0L1015.0 245.5L1014.9 247.0L1014.7 248.5L1014.6 250.0L1014.4 251.5L1014.2 253.0L1014.0 254.5L1013.8 256.0L1013.6 257.5L1013.3 259.0L1013.0 260.5L1012.7 262.0L1012.3 263.5L1012.0 265.0L1011.6 266.5L1011.3 268.0L1010.9 269.5L1010.5 271.0L1010.1 272.5L1009.7 274.0L1009.4 275.5L1009.0 277.0L1008.7 278.5L1008.3 280.0L1008.0 281.5L1007.6 283.0L1007.3 284.5L1007.0 286.0L1006.7 287.5L1006.4 289.0L1006.1 290.5L1005.8 292.0L1005.5 293.5L1005.2 295.0L1005.0 296.5L1004.7 298.0L1004.4 299.5L1004.2 301.0L1003.9 302.5L1003.6 304.0L1003.3 305.5L1003.0 307.0L1002.7 308.5L1002.5 310.0L1002.2 311.5L1002.0 313.0L1001.8 314.5L1001.5 316.0L1001.3 317.5L1001.1 319.0L1000.9 320.5L1000.7 322.0L1000.6 323.5L1000.4 325.0L1000.3 326.5L1000.2 328.0L1000.1 329.5L1000.0 331.0L999.9 332.5L999.8 334.0L999.8 335.5L999.7 337.0L999.7 338.5L999.6 340.0L999.6 341.5L999.5 343.0L999.5 344.5L999.5 346.0L999.5 347.5L999.5 349.0L999.4 350.5L999.4 352.0L999.4 353.5L999.4 355.0L999.4 356.5L999.4 358.0L999.4 359.5L999.4 361.0L999.4 362.5L999.4 364.0L999.4 365.5L999.4 367.0L999.4 368.5L999.4 370.0L999.4 371.5L999.4 373.0L999.4 374.5L999.4 376.0L999.4 377.5L999.4 379.0L999.4 380.5L999.4 382.0L999.4 383.5L999.4 385.0L999.4 386.5L999.4 388.0L999.4 389.5L999.4 391.0L999.4 392.5L999.4 394.0L999.4 395.5L999.4 397.0L999.4 398.5L999.4 400.0L999.4 401.5L999.4 403.0L999.4 404.5L999.4 405.8L999.4 405.8L999.4 404.5L999.4 403.0L999.4 401.5L999.4 400.0L999.4 398.5L999.4 397.0L999.4 395.5L999.4 394.0L999.4 392.5L999.4 391.0L999.4 389.5L999.4 388.0L999.4 386.5L999.4 385.0L999.4 383.5L999.4 382.0L999.4 380.5L999.4 379.0L999.4 377.5L999.4 376.0L999.4 374.5L999.4 373.0L999.4 371.5L999.4 370.0L999.4 368.5L999.4 367.0L999.4 365.5L999.4 364.0L999.4 362.5L999.4 361.0L999.4 359.5L999.4 358.0L999.4 356.5L999.4 355.0L999.4 353.5L999.4 352.0L999.4 350.5L999.3 349.0L999.3 347.5L999.3 346.0L999.3 344.5L999.3 343.0L999.2 341.5L999.2 340.0L999.1 338.5L999.1 337.0L999.0 335.5L999.0 334.0L998.9 332.5L998.8 331.0L998.7 329.5L998.6 328.0L998.5 326.5L998.4 325.0L998.2 323.5L998.1 322.0L997.9 320.5L997.7 319.0L997.5 317.5L997.3 316.0L997.0 314.5L996.8 313.0L996.6 311.5L996.3 310.0L996.1 308.5L995.8 307.0L995.5 305.5L995.2 304.0L994.9 302.5L994.6 301.0L994.4 299.5L994.1 298.0L993.8 296.5L993.6 295.0L993.3 293.5L993.0 292.0L992.7 290.5L992.4 289.0L992.1 287.5L991.8 286.0L991.5 284.5L991.2 283.0L990.8 281.5L990.5 280.0L990.1 278.5L989.8 277.0L989.4 275.5L989.1 274.0L988.7 272.5L988.3 271.0L987.9 269.5L987.5 268.0L987.2 266.5L986.8 265.0L986.5 263.5L986.1 262.0L985.8 260.5L985.5 259.0L985.2 257.5L985.0 256.0L984.8 254.5L984.6 253.0L984.4 251.5L984.2 250.0L984.1 248.5L983.9 247.0L983.8 245.5L983.6 244.0L983.5 242.5L983.4 241.0L983.2 239.5L983.1 238.0L983.0 236.5L982.9 235.0L982.8 233.5L982.7 232.0L982.7 230.5L982.6 229.0L982.6 227.5L982.6 226.0L982.6 224.5L982.6 223.0L982.6 221.5L982.6 220.0L982.6 218.5L982.6 217.0L982.7 215.5L982.8 214.0L982.9 212.5L983.0 211.0L983.1 209.5L983.2 208.0L983.4 206.5L983.6 205.0L983.8 203.5L983.9 202.0L984.1 200.5L984.3 199.0L984.6 197.5L984.8 196.0L985.0 194.5L985.3 193.0L985.5 191.5L985.8 190.0L986.1 188.5L986.5 187.0L986.8 185.5L987.1 184.0L987.5 182.5L987.9 181.0L988.2 179.5L988.6 178.0L989.0 176.5L989.4 175.0L989.9 173.5L990.3 172.0L990.7 170.5L991.0 169.0L991.3 167.5L991.7 166.0L991.9 164.5L992.2 163.0L992.5 161.5L992.8 160.0L993.1 158.5L993.4 157.0L993.6 155.5L993.9 154.0L994.2 152.5L994.5 151.0L994.8 149.5L995.1 148.0L995.5 146.5L995.8 145.0L996.2 143.5L996.5 142.0L996.9 140.5L997.2 139.0L997.4 137.5L997.7 136.0L997.9 134.5L998.0 133.0L998.2 131.5L998.3 130.0L998.5 128.5L998.6 127.0L998.7 125.5L998.9 124.0L999.0 122.5L999.1 121.0L999.2 119.5L999.2 118.0L999.2 116.5L999.2 115.0L999.2 113.5L999.2 112.0L999.3 110.5L999.3 109.0L999.3 107.5L999.3 106.0L999.3 104.5L999.3 103.0L999.3 101.5L999.3 100.0L999.3 98.5L999.3 97.0L999.3 95.5L999.3 94.0L999.3 92.5L999.3 91.0L999.3 89.5L999.3 88.0L999.3 86.5L999.3 85.0L999.3 83.5L999.3 82.0L999.4 80.5Z" fill="#d92b18" stroke="#2f2f2f" stroke-width="2.0" stroke-linejoin="round"/>
<line x1="999.4" y1="80.5" x2="999.4" y2="405.8" stroke="#2f2f2f" stroke-width="1.7"/>
<rect x="994.0" y="194.4" width="10.8" height="71.2" fill="#2f2f2f"/>
<ellipse cx="999.4" cy="229.2" rx="6.2" ry="2.0" fill="#2f2f2f"/>
<ellipse cx="999.4" cy="229.2" rx="3.1" ry="0.8" fill="#f4f4f4"/>
<path d="M1075.8 110.2L1075.9 111.7L1075.9 113.2L1075.9 114.7L1076.0 116.2L1076.1 117.7L1076.1 119.2L1076.2 120.7L1076.3 122.2L1076.4 123.7L1076.6 125.2L1076.7 126.7L1076.9 128.2L1077.0 129.7L1077.2 131.2L1077.3 132.7L1077.4 134.2L1077.6 135.7L1077.7 137.2L1077.9 138.7L1078.2 140.2L1078.6 141.7L1078.9 143.2L1079.3 144.7L1079.7 146.2L1080.0 147.7L1080.4 149.2L1080.7 150.7L1081.1 152.2L1081.4 153.7L1081.7 155.2L1082.0 156.7L1082.2 158.2L1082.5 159.7L1082.7 161.2L1083.0 162.7L1083.3 164.2L1083.6 165.7L1083.8 167.2L1084.1 168.7L1084.4 170.2L1084.8 171.7L1085.1 173.2L1085.5 174.7L1085.8 176.2L1086.1 177.7L1086.4 179.2L1086.6 180.7L1086.9 182.2L1087.1 183.7L1087.3 185.2L1087.5 186.7L1087.6 188.2L1087.8 189.7L1088.0 191.2L1088.1 192.7L1088.2 194.2L1088.3 195.7L1088.4 197.2L1088.5 198.7L1088.6 200.2L1088.7 201.7L1088.7 203.2L1088.8 204.7L1088.8 206.2L1088.9 207.7L1088.9 209.2L1088.9 210.7L1088.9 212.2L1088.9 213.7L1088.8 215.2L1088.8 216.7L1088.7 218.2L1088.7 219.7L1088.7 221.2L1088.6 222.7L1088.6 224.2L1088.6 225.7L1088.5 227.2L1088.5 228.7L1088.4 230.2L1088.3 231.7L1088.3 233.2L1088.2 234.7L1088.1 236.2L1088.0 237.7L1088.0 239.2L1087.9 240.7L1087.8 242.2L1087.7 243.7L1087.7 245.2L1087.6 246.7L1087.5 248.2L1087.5 249.7L1087.4 251.2L1087.3 252.7L1087.2 254.2L1087.2 255.7L1087.1 257.2L1087.0 258.7L1086.9 260.2L1086.8 261.7L1086.6 263.2L1086.4 264.7L1086.3 266.2L1086.1 267.7L1086.0 269.2L1085.8 270.7L1085.6 272.2L1085.5 273.7L1085.3 275.2L1085.2 276.7L1085.0 278.2L1084.9 279.7L1084.8 281.2L1084.6 282.7L1084.5 284.2L1084.3 285.7L1084.1 287.2L1083.9 288.7L1083.7 290.2L1083.5 291.7L1083.3 293.2L1083.1 294.7L1083.0 296.2L1082.8 297.7L1082.7 299.2L1082.5 300.7L1082.3 302.2L1082.2 303.7L1082.0 305.2L1081.9 306.7L1081.7 308.2L1081.6 309.7L1081.4 311.2L1081.3 312.7L1081.2 314.2L1081.1 315.7L1080.9 317.2L1080.8 318.7L1080.7 320.2L1080.6 321.7L1080.4 323.2L1080.3 324.7L1080.2 326.2L1080.1 327.7L1080.0 329.2L1079.9 330.7L1079.8 332.2L1079.7 333.7L1079.6 335.2L1079.5 336.7L1079.4 338.2L1079.3 339.7L1079.2 341.2L1079.1 342.7L1079.1 344.2L1079.0 345.7L1078.9 347.2L1078.9 348.7L1078.8 350.2L1078.6 351.7L1078.4 353.2L1078.2 354.7L1078.0 356.2L1077.8 357.7L1077.6 359.2L1077.5 360.7L1077.3 362.2L1077.2 363.7L1077.0 365.2L1076.9 366.7L1076.8 368.2L1076.7 369.7L1076.6 371.2L1076.5 372.7L1076.4 374.2L1076.3 375.7L1076.3 377.2L1076.2 378.7L1076.1 380.2L1076.1 381.7L1076.0 383.2L1075.9 384.7L1075.9 386.2L1075.9 387.7L1075.9 389.2L1075.9 390.7L1075.8 392.2L1075.8 393.7L1075.8 395.2L1075.8 396.7L1075.8 398.2L1075.8 399.7L1075.8 401.2L1075.8 402.7L1075.8 404.2L1075.8 405.7L1075.8 407.2L1075.8 408.7L1075.8 410.2L1075.8 411.7L1075.8 413.2L1075.8 414.7L1075.8 416.2L1075.8 417.7L1075.8 419.2L1075.8 420.7L1075.8 422.2L1075.8 423.7L1075.8 425.2L1075.8 426.7L1075.8 428.2L1075.8 429.7L1075.8 431.2L1075.8 432.7L1075.8 434.2L1075.8 435.7L1075.8 437.2L1075.8 438.7L1075.8 440.2L1075.8 441.7L1075.8 443.2L1075.8 443.5L1075.8 443.5L1075.8 443.2L1075.8 441.7L1075.8 440.2L1075.8 438.7L1075.8 437.2L1075.8 435.7L1075.8 434.2L1075.8 432.7L1075.8 431.2L1075.8 429.7L1075.8 428.2L1075.8 426.7L1075.8 425.2L1075.8 423.7L1075.8 422.2L1075.8 420.7L1075.8 419.2L1075.8 417.7L1075.8 416.2L1075.8 414.7L1075.8 413.2L1075.8 411.7L1075.8 410.2L1075.8 408.7L1075.8 407.2L1075.8 405.7L1075.8 404.2L1075.8 402.7L1075.8 401.2L1075.8 399.7L1075.8 398.2L1075.8 396.7L1075.8 395.2L1075.8 393.7L1075.8 392.2L1075.7 390.7L1075.7 389.2L1075.7 387.7L1075.7 386.2L1075.7 384.7L1075.6 383.2L1075.5 381.7L1075.5 380.2L1075.4 378.7L1075.3 377.2L1075.3 375.7L1075.2 374.2L1075.1 372.7L1075.0 371.2L1074.9 369.7L1074.8 368.2L1074.7 366.7L1074.6 365.2L1074.4 363.7L1074.3 362.2L1074.1 360.7L1074.0 359.2L1073.8 357.7L1073.6 356.2L1073.4 354.7L1073.2 353.2L1073.0 351.7L1072.8 350.2L1072.7 348.7L1072.7 347.2L1072.6 345.7L1072.5 344.2L1072.5 342.7L1072.4 341.2L1072.3 339.7L1072.2 338.2L1072.1 336.7L1072.0 335.2L1071.9 333.7L1071.8 332.2L1071.7 330.7L1071.6 329.2L1071.5 327.7L1071.4 326.2L1071.3 324.7L1071.2 323.2L1071.0 321.7L1070.9 320.2L1070.8 318.7L1070.7 317.2L1070.5 315.7L1070.4 314.2L1070.3 312.7L1070.2 311.2L1070.0 309.7L1069.9 308.2L1069.7 306.7L1069.6 305.2L1069.4 303.7L1069.3 302.2L1069.1 300.7L1068.9 299.2L1068.8 297.7L1068.6 296.2L1068.5 294.7L1068.3 293.2L1068.1 291.7L1067.9 290.2L1067.7 288.7L1067.5 287.2L1067.3 285.7L1067.1 284.2L1067.0 282.7L1066.8 281.2L1066.7 279.7L1066.6 278.2L1066.4 276.7L1066.3 275.2L1066.1 273.7L1066.0 272.2L1065.8 270.7L1065.6 269.2L1065.5 267.7L1065.3 266.2L1065.2 264.7L1065.0 263.2L1064.8 261.7L1064.7 260.2L1064.6 258.7L1064.5 257.2L1064.4 255.7L1064.4 254.2L1064.3 252.7L1064.2 251.2L1064.1 249.7L1064.1 248.2L1064.0 246.7L1063.9 245.2L1063.9 243.7L1063.8 242.2L1063.7 240.7L1063.6 239.2L1063.6 237.7L1063.5 236.2L1063.4 234.7L1063.3 233.2L1063.3 231.7L1063.2 230.2L1063.1 228.7L1063.1 227.2L1063.0 225.7L1063.0 224.2L1063.0 222.7L1062.9 221.2L1062.9 219.7L1062.9 218.2L1062.8 216.7L1062.8 215.2L1062.7 213.7L1062.7 212.2L1062.7 210.7L1062.7 209.2L1062.7 207.7L1062.8 206.2L1062.8 204.7L1062.9 203.2L1062.9 201.7L1063.0 200.2L1063.1 198.7L1063.2 197.2L1063.3 195.7L1063.4 194.2L1063.5 192.7L1063.6 191.2L1063.8 189.7L1064.0 188.2L1064.1 186.7L1064.3 185.2L1064.5 183.7L1064.7 182.2L1065.0 180.7L1065.2 179.2L1065.5 177.7L1065.8 176.2L1066.1 174.7L1066.5 173.2L1066.8 171.7L1067.2 170.2L1067.5 168.7L1067.8 167.2L1068.0 165.7L1068.3 164.2L1068.6 162.7L1068.9 161.2L1069.1 159.7L1069.4 158.2L1069.6 156.7L1069.9 155.2L1070.2 153.7L1070.5 152.2L1070.9 150.7L1071.2 149.2L1071.6 147.7L1071.9 146.2L1072.3 144.7L1072.7 143.2L1073.0 141.7L1073.4 140.2L1073.7 138.7L1073.9 137.2L1074.0 135.7L1074.2 134.2L1074.3 132.7L1074.4 131.2L1074.6 129.7L1074.7 128.2L1074.9 126.7L1075.0 125.2L1075.2 123.7L1075.3 122.2L1075.4 120.7L1075.5 119.2L1075.5 117.7L1075.6 116.2L1075.7 114.7L1075.7 113.2L1075.7 111.7L1075.8 110.2Z" fill="#c25f16" stroke="#2f2f2f" stroke-width="2.0" stroke-linejoin="round"/>
<line x1="1075.8" y1="110.2" x2="1075.8" y2="443.5" stroke="#2f2f2f" stroke-width="1.7"/>
<rect x="1070.4" y="192.2" width="10.8" height="94.2" fill="#2f2f2f"/>
<ellipse cx="1075.8" cy="236.3" rx="6.2" ry="2.0" fill="#2f2f2f"/>
<ellipse cx="1075.8" cy="236.3" rx="3.1" ry="0.8" fill="#f4f4f4"/>
<path d="M1152.5 81.0L1152.5 82.5L1152.5 84.0L1152.5 85.5L1152.5 87.0L1152.5 88.5L1152.5 90.0L1152.5 91.5L1152.5 93.0L1152.5 94.5L1152.5 96.0L1152.5 97.5L1152.5 99.0L1152.6 100.5L1152.6 102.0L1152.6 103.5L1152.6 105.0L1152.6 106.5L1152.7 108.0L1152.7 109.5L1152.7 111.0L1152.8 112.5L1152.8 114.0L1152.9 115.5L1153.0 117.0L1153.0 118.5L1153.1 120.0L1153.1 121.5L1153.2 123.0L1153.3 124.5L1153.3 126.0L1153.4 127.5L1153.5 129.0L1153.6 130.5L1153.7 132.0L1153.8 133.5L1153.9 135.0L1154.0 136.5L1154.1 138.0L1154.3 139.5L1154.5 141.0L1154.7 142.5L1155.0 144.0L1155.2 145.5L1155.4 147.0L1155.6 148.5L1155.8 150.0L1156.0 151.5L1156.2 153.0L1156.4 154.5L1156.6 156.0L1156.7 157.5L1156.9 159.0L1157.1 160.5L1157.2 162.0L1157.4 163.5L1157.6 165.0L1157.8 166.5L1158.1 168.0L1158.3 169.5L1158.6 171.0L1159.0 172.5L1159.5 174.0L1159.9 175.5L1160.3 177.0L1160.6 178.5L1160.9 180.0L1161.2 181.5L1161.5 183.0L1161.8 184.5L1162.1 186.0L1162.4 187.5L1162.7 189.0L1163.1 190.5L1163.4 192.0L1163.6 193.5L1163.9 195.0L1164.1 196.5L1164.3 198.0L1164.5 199.5L1164.7 201.0L1164.8 202.5L1165.0 204.0L1165.1 205.5L1165.2 207.0L1165.3 208.5L1165.4 210.0L1165.5 211.5L1165.7 213.0L1165.8 214.5L1165.9 216.0L1165.9 217.5L1166.0 219.0L1166.0 220.5L1166.0 222.0L1166.1 223.5L1166.1 225.0L1166.1 226.5L1166.1 228.0L1166.1 229.5L1166.1 231.0L1166.1 232.5L1166.0 234.0L1166.0 235.5L1166.0 237.0L1165.9 238.5L1165.9 240.0L1165.8 241.5L1165.7 243.0L1165.6 244.5L1165.5 246.0L1165.4 247.5L1165.3 249.0L1165.2 250.5L1165.1 252.0L1165.0 253.5L1164.9 255.0L1164.7 256.5L1164.6 258.0L1164.5 259.5L1164.3 261.0L1164.0 262.5L1163.7 264.0L1163.5 265.5L1163.2 267.0L1163.0 268.5L1162.8 270.0L1162.6 271.5L1162.4 273.0L1162.2 274.5L1162.0 276.0L1161.9 277.5L1161.8 279.0L1161.6 280.5L1161.5 282.0L1161.3 283.5L1161.2 285.0L1161.0 286.5L1160.9 288.0L1160.7 289.5L1160.5 291.0L1160.4 292.5L1160.2 294.0L1160.1 295.5L1160.0 297.0L1159.8 298.5L1159.7 300.0L1159.5 301.5L1159.4 303.0L1159.2 304.5L1159.0 306.0L1158.9 307.5L1158.7 309.0L1158.6 310.5L1158.4 312.0L1158.3 313.5L1158.2 315.0L1158.0 316.5L1157.9 318.0L1157.7 319.5L1157.6 321.0L1157.4 322.5L1157.2 324.0L1157.1 325.5L1156.9 327.0L1156.8 328.5L1156.7 330.0L1156.6 331.5L1156.5 333.0L1156.4 334.5L1156.3 336.0L1156.2 337.5L1156.1 339.0L1156.1 340.5L1156.0 342.0L1155.9 343.5L1155.8 345.0L1155.7 346.5L1155.6 348.0L1155.5 349.5L1155.4 351.0L1155.3 352.5L1155.2 354.0L1155.1 355.5L1155.0 357.0L1154.8 358.5L1154.6 360.0L1154.4 361.5L1154.2 363.0L1154.0 364.5L1153.8 366.0L1153.7 367.5L1153.6 369.0L1153.5 370.5L1153.4 372.0L1153.3 373.5L1153.2 375.0L1153.2 376.5L1153.1 378.0L1153.0 379.5L1152.9 381.0L1152.9 382.5L1152.8 384.0L1152.7 385.5L1152.7 387.0L1152.6 388.5L1152.6 390.0L1152.6 391.5L1152.6 393.0L1152.5 394.5L1152.5 396.0L1152.5 397.5L1152.5 399.0L1152.5 400.5L1152.5 402.0L1152.5 403.5L1152.5 405.0L1152.5 406.5L1152.5 408.0L1152.5 409.5L1152.5 411.0L1152.5 412.5L1152.5 414.0L1152.5 415.5L1152.5 417.0L1152.5 418.5L1152.5 420.0L1152.5 421.5L1152.5 423.0L1152.5 424.5L1152.5 426.0L1152.5 427.5L1152.5 429.0L1152.5 430.5L1152.5 432.0L1152.5 433.5L1152.5 435.0L1152.5 436.5L1152.5 438.0L1152.5 439.5L1152.5 441.0L1152.5 442.5L1152.5 444.0L1152.5 445.5L1152.5 447.0L1152.5 447.5L1152.4 447.5L1152.4 447.0L1152.4 445.5L1152.4 444.0L1152.4 442.5L1152.4 441.0L1152.4 439.5L1152.4 438.0L1152.4 436.5L1152.4 435.0L1152.4 433.5L1152.4 432.0L1152.4 430.5L1152.4 429.0L1152.4 427.5L1152.4 426.0L1152.4 424.5L1152.4 423.0L1152.4 421.5L1152.4 420.0L1152.4 418.5L1152.4 417.0L1152.4 415.5L1152.4 414.0L1152.4 412.5L1152.4 411.0L1152.4 409.5L1152.4 408.0L1152.3 406.5L1152.3 405.0L1152.3 403.5L1152.3 402.0L1152.3 400.5L1152.3 399.0L1152.3 397.5L1152.3 396.0L1152.3 394.5L1152.2 393.0L1152.2 391.5L1152.2 390.0L1152.2 388.5L1152.1 387.0L1152.1 385.5L1152.0 384.0L1151.9 382.5L1151.9 381.0L1151.8 379.5L1151.7 378.0L1151.6 376.5L1151.6 375.0L1151.5 373.5L1151.4 372.0L1151.3 370.5L1151.2 369.0L1151.1 367.5L1151.0 366.0L1150.8 364.5L1150.6 363.0L1150.4 361.5L1150.2 360.0L1150.0 358.5L1149.8 357.0L1149.7 355.5L1149.6 354.0L1149.5 352.5L1149.4 351.0L1149.3 349.5L1149.2 348.0L1149.1 346.5L1149.0 345.0L1148.9 343.5L1148.8 342.0L1148.7 340.5L1148.7 339.0L1148.6 337.5L1148.5 336.0L1148.4 334.5L1148.3 333.0L1148.2 331.5L1148.1 330.0L1148.0 328.5L1147.9 327.0L1147.7 325.5L1147.6 324.0L1147.4 322.5L1147.2 321.0L1147.1 319.5L1146.9 318.0L1146.8 316.5L1146.6 315.0L1146.5 313.5L1146.4 312.0L1146.2 310.5L1146.1 309.0L1145.9 307.5L1145.8 306.0L1145.6 304.5L1145.4 303.0L1145.3 301.5L1145.1 300.0L1145.0 298.5L1144.8 297.0L1144.7 295.5L1144.6 294.0L1144.4 292.5L1144.3 291.0L1144.1 289.5L1143.9 288.0L1143.8 286.5L1143.6 285.0L1143.5 283.5L1143.3 282.0L1143.2 280.5L1143.0 279.0L1142.9 277.5L1142.8 276.0L1142.6 274.5L1142.4 273.0L1142.2 271.5L1142.0 270.0L1141.8 268.5L1141.6 267.0L1141.3 265.5L1141.1 264.0L1140.8 262.5L1140.5 261.0L1140.3 259.5L1140.2 258.0L1140.1 256.5L1139.9 255.0L1139.8 253.5L1139.7 252.0L1139.6 250.5L1139.5 249.0L1139.4 247.5L1139.3 246.0L1139.2 244.5L1139.1 243.0L1139.0 241.5L1138.9 240.0L1138.9 238.5L1138.8 237.0L1138.8 235.5L1138.8 234.0L1138.7 232.5L1138.7 231.0L1138.7 229.5L1138.7 228.0L1138.7 226.5L1138.7 225.0L1138.7 223.5L1138.8 222.0L1138.8 220.5L1138.8 219.0L1138.9 217.5L1138.9 216.0L1139.0 214.5L1139.1 213.0L1139.3 211.5L1139.4 210.0L1139.5 208.5L1139.6 207.0L1139.7 205.5L1139.8 204.0L1140.0 202.5L1140.1 201.0L1140.3 199.5L1140.5 198.0L1140.7 196.5L1140.9 195.0L1141.2 193.5L1141.4 192.0L1141.7 190.5L1142.1 189.0L1142.4 187.5L1142.7 186.0L1143.0 184.5L1143.3 183.0L1143.6 181.5L1143.9 180.0L1144.2 178.5L1144.5 177.0L1144.9 175.5L1145.3 174.0L1145.8 172.5L1146.2 171.0L1146.5 169.5L1146.7 168.0L1147.0 166.5L1147.2 165.0L1147.4 163.5L1147.6 162.0L1147.7 160.5L1147.9 159.0L1148.1 157.5L1148.2 156.0L1148.4 154.5L1148.6 153.0L1148.8 151.5L1149.0 150.0L1149.2 148.5L1149.4 147.0L1149.6 145.5L1149.8 144.0L1150.1 142.5L1150.3 141.0L1150.5 139.5L1150.7 138.0L1150.8 136.5L1150.9 135.0L1151.0 133.5L1151.1 132.0L1151.2 130.5L1151.3 129.0L1151.4 127.5L1151.5 126.0L1151.5 124.5L1151.6 123.0L1151.7 121.5L1151.7 120.0L1151.8 118.5L1151.8 117.0L1151.9 115.5L1152.0 114.0L1152.0 112.5L1152.1 111.0L1152.1 109.5L1152.1 108.0L1152.2 106.5L1152.2 105.0L1152.2 103.5L1152.2 102.0L1152.2 100.5L1152.3 99.0L1152.3 97.5L1152.3 96.0L1152.3 94.5L1152.3 93.0L1152.3 91.5L1152.3 90.0L1152.3 88.5L1152.3 87.0L1152.3 85.5L1152.3 84.0L1152.3 82.5L1152.4 81.0Z" fill="#d92b18" stroke="#2f2f2f" stroke-width="2.0" stroke-linejoin="round"/>
<line x1="1152.4" y1="81.0" x2="1152.4" y2="447.5" stroke="#2f2f2f" stroke-width="1.7"/>
<rect x="1147.0" y="202.4" width="10.8" height="92.2" fill="#2f2f2f"/>
<ellipse cx="1152.4" cy="243.4" rx="6.2" ry="2.0" fill="#2f2f2f"/>
<ellipse cx="1152.4" cy="243.4" rx="3.1" ry="0.8" fill="#f4f4f4"/>
<path d="M1228.8 84.9L1228.9 86.4L1228.9 87.9L1228.9 89.4L1228.9 90.9L1228.9 92.4L1228.9 93.9L1228.9 95.4L1229.0 96.9L1229.0 98.4L1229.0 99.9L1229.1 101.4L1229.1 102.9L1229.1 104.4L1229.1 105.9L1229.2 107.4L1229.2 108.9L1229.3 110.4L1229.3 111.9L1229.4 113.4L1229.4 114.9L1229.5 116.4L1229.6 117.9L1229.6 119.4L1229.7 120.9L1229.8 122.4L1229.8 123.9L1229.9 125.4L1230.0 126.9L1230.1 128.4L1230.2 129.9L1230.3 131.4L1230.4 132.9L1230.5 134.4L1230.6 135.9L1230.8 137.4L1230.9 138.9L1231.1 140.4L1231.4 141.9L1231.6 143.4L1231.8 144.9L1232.0 146.4L1232.2 147.9L1232.3 149.4L1232.5 150.9L1232.6 152.4L1232.7 153.9L1232.9 155.4L1233.0 156.9L1233.1 158.4L1233.3 159.9L1233.4 161.4L1233.6 162.9L1233.8 164.4L1234.0 165.9L1234.2 167.4L1234.5 168.9L1234.8 170.4L1235.1 171.9L1235.5 173.4L1235.9 174.9L1236.3 176.4L1236.6 177.9L1236.8 179.4L1237.1 180.9L1237.3 182.4L1237.6 183.9L1237.8 185.4L1238.0 186.9L1238.3 188.4L1238.5 189.9L1238.7 191.4L1238.9 192.9L1239.0 194.4L1239.2 195.9L1239.4 197.4L1239.5 198.9L1239.6 200.4L1239.8 201.9L1239.9 203.4L1240.0 204.9L1240.1 206.4L1240.3 207.9L1240.4 209.4L1240.5 210.9L1240.6 212.4L1240.7 213.9L1240.9 215.4L1241.0 216.9L1241.1 218.4L1241.1 219.9L1241.2 221.4L1241.3 222.9L1241.3 224.4L1241.4 225.9L1241.4 227.4L1241.4 228.9L1241.4 230.4L1241.4 231.9L1241.4 233.4L1241.4 234.9L1241.4 236.4L1241.4 237.9L1241.3 239.4L1241.3 240.9L1241.2 242.4L1241.1 243.9L1241.1 245.4L1241.0 246.9L1240.9 248.4L1240.9 249.9L1240.8 251.4L1240.7 252.9L1240.6 254.4L1240.6 255.9L1240.5 257.4L1240.4 258.9L1240.3 260.4L1240.2 261.9L1240.0 263.4L1239.9 264.9L1239.8 266.4L1239.6 267.9L1239.5 269.4L1239.4 270.9L1239.3 272.4L1239.1 273.9L1239.0 275.4L1238.9 276.9L1238.7 278.4L1238.5 279.9L1238.4 281.4L1238.2 282.9L1238.1 284.4L1237.9 285.9L1237.8 287.4L1237.6 288.9L1237.5 290.4L1237.3 291.9L1237.2 293.4L1237.0 294.9L1236.9 296.4L1236.7 297.9L1236.5 299.4L1236.4 300.9L1236.2 302.4L1236.1 303.9L1236.0 305.4L1235.8 306.9L1235.7 308.4L1235.5 309.9L1235.4 311.4L1235.3 312.9L1235.1 314.4L1235.0 315.9L1234.8 317.4L1234.7 318.9L1234.5 320.4L1234.4 321.9L1234.2 323.4L1234.0 324.9L1233.9 326.4L1233.8 327.9L1233.6 329.4L1233.5 330.9L1233.4 332.4L1233.3 333.9L1233.2 335.4L1233.1 336.9L1233.0 338.4L1233.0 339.9L1232.9 341.4L1232.8 342.9L1232.7 344.4L1232.7 345.9L1232.6 347.4L1232.5 348.9L1232.4 350.4L1232.3 351.9L1232.1 353.4L1232.0 354.9L1231.9 356.4L1231.7 357.9L1231.5 359.4L1231.3 360.9L1231.1 362.4L1230.9 363.9L1230.7 365.4L1230.5 366.9L1230.3 368.4L1230.1 369.9L1230.0 371.4L1229.8 372.9L1229.7 374.4L1229.6 375.9L1229.5 377.4L1229.4 378.9L1229.3 380.4L1229.2 381.9L1229.2 383.4L1229.1 384.9L1229.1 386.4L1229.0 387.9L1229.0 389.4L1229.0 390.9L1229.0 392.4L1229.0 393.9L1229.0 395.4L1229.0 396.9L1228.9 398.4L1228.9 399.9L1228.9 401.4L1228.9 402.9L1228.9 404.4L1228.9 405.9L1228.9 407.4L1228.9 408.9L1228.9 410.4L1228.9 411.9L1228.9 413.4L1228.9 414.9L1228.9 416.4L1228.9 417.9L1228.9 419.4L1228.9 420.9L1228.9 422.4L1228.9 423.9L1228.9 425.4L1228.8 425.6L1228.8 425.6L1228.7 425.4L1228.7 423.9L1228.7 422.4L1228.7 420.9L1228.7 419.4L1228.7 417.9L1228.7 416.4L1228.7 414.9L1228.7 413.4L1228.7 411.9L1228.7 410.4L1228.7 408.9L1228.7 407.4L1228.7 405.9L1228.7 404.4L1228.7 402.9L1228.7 401.4L1228.7 399.9L1228.7 398.4L1228.6 396.9L1228.6 395.4L1228.6 393.9L1228.6 392.4L1228.6 390.9L1228.6 389.4L1228.6 387.9L1228.5 386.4L1228.5 384.9L1228.4 383.4L1228.4 381.9L1228.3 380.4L1228.2 378.9L1228.1 377.4L1228.0 375.9L1227.9 374.4L1227.8 372.9L1227.6 371.4L1227.5 369.9L1227.3 368.4L1227.1 366.9L1226.9 365.4L1226.7 363.9L1226.5 362.4L1226.3 360.9L1226.1 359.4L1225.9 357.9L1225.7 356.4L1225.6 354.9L1225.5 353.4L1225.3 351.9L1225.2 350.4L1225.1 348.9L1225.0 347.4L1224.9 345.9L1224.9 344.4L1224.8 342.9L1224.7 341.4L1224.6 339.9L1224.6 338.4L1224.5 336.9L1224.4 335.4L1224.3 333.9L1224.2 332.4L1224.1 330.9L1224.0 329.4L1223.8 327.9L1223.7 326.4L1223.6 324.9L1223.4 323.4L1223.2 321.9L1223.1 320.4L1222.9 318.9L1222.8 317.4L1222.6 315.9L1222.5 314.4L1222.3 312.9L1222.2 311.4L1222.1 309.9L1221.9 308.4L1221.8 306.9L1221.6 305.4L1221.5 303.9L1221.4 302.4L1221.2 300.9L1221.1 299.4L1220.9 297.9L1220.7 296.4L1220.6 294.9L1220.4 293.4L1220.3 291.9L1220.1 290.4L1220.0 288.9L1219.8 287.4L1219.7 285.9L1219.5 284.4L1219.4 282.9L1219.2 281.4L1219.1 279.9L1218.9 278.4L1218.7 276.9L1218.6 275.4L1218.5 273.9L1218.3 272.4L1218.2 270.9L1218.1 269.4L1218.0 267.9L1217.8 266.4L1217.7 264.9L1217.6 263.4L1217.4 261.9L1217.3 260.4L1217.2 258.9L1217.1 257.4L1217.0 255.9L1217.0 254.4L1216.9 252.9L1216.8 251.4L1216.7 249.9L1216.7 248.4L1216.6 246.9L1216.5 245.4L1216.5 243.9L1216.4 242.4L1216.3 240.9L1216.3 239.4L1216.2 237.9L1216.2 236.4L1216.2 234.9L1216.2 233.4L1216.2 231.9L1216.2 230.4L1216.2 228.9L1216.2 227.4L1216.2 225.9L1216.3 224.4L1216.3 222.9L1216.4 221.4L1216.5 219.9L1216.5 218.4L1216.6 216.9L1216.7 215.4L1216.9 213.9L1217.0 212.4L1217.1 210.9L1217.2 209.4L1217.3 207.9L1217.5 206.4L1217.6 204.9L1217.7 203.4L1217.8 201.9L1218.0 200.4L1218.1 198.9L1218.2 197.4L1218.4 195.9L1218.6 194.4L1218.7 192.9L1218.9 191.4L1219.1 189.9L1219.3 188.4L1219.6 186.9L1219.8 185.4L1220.0 183.9L1220.3 182.4L1220.5 180.9L1220.8 179.4L1221.0 177.9L1221.3 176.4L1221.7 174.9L1222.1 173.4L1222.5 171.9L1222.8 170.4L1223.1 168.9L1223.4 167.4L1223.6 165.9L1223.8 164.4L1224.0 162.9L1224.2 161.4L1224.3 159.9L1224.5 158.4L1224.6 156.9L1224.7 155.4L1224.9 153.9L1225.0 152.4L1225.1 150.9L1225.3 149.4L1225.4 147.9L1225.6 146.4L1225.8 144.9L1226.0 143.4L1226.2 141.9L1226.5 140.4L1226.7 138.9L1226.8 137.4L1227.0 135.9L1227.1 134.4L1227.2 132.9L1227.3 131.4L1227.4 129.9L1227.5 128.4L1227.6 126.9L1227.7 125.4L1227.8 123.9L1227.8 122.4L1227.9 120.9L1228.0 119.4L1228.0 117.9L1228.1 116.4L1228.2 114.9L1228.2 113.4L1228.3 111.9L1228.3 110.4L1228.4 108.9L1228.4 107.4L1228.5 105.9L1228.5 104.4L1228.5 102.9L1228.5 101.4L1228.6 99.9L1228.6 98.4L1228.6 96.9L1228.7 95.4L1228.7 93.9L1228.7 92.4L1228.7 90.9L1228.7 89.4L1228.7 87.9L1228.7 86.4L1228.8 84.9Z" fill="#d92b18" stroke="#2f2f2f" stroke-width="2.0" stroke-linejoin="round"/>
<line x1="1228.8" y1="84.9" x2="1228.8" y2="425.6" stroke="#2f2f2f" stroke-width="1.7"/>
<rect x="1223.4" y="202.4" width="10.8" height="97.9" fill="#2f2f2f"/>
<ellipse cx="1228.8" cy="248.1" rx="6.2" ry="2.0" fill="#2f2f2f"/>
<ellipse cx="1228.8" cy="248.1" rx="3.1" ry="0.8" fill="#f4f4f4"/>
<path d="M1305.3 77.1L1305.4 78.6L1305.4 80.1L1305.4 81.6L1305.4 83.1L1305.4 84.6L1305.4 86.1L1305.4 87.6L1305.5 89.1L1305.5 90.6L1305.5 92.1L1305.5 93.6L1305.5 95.1L1305.6 96.6L1305.6 98.1L1305.6 99.6L1305.6 101.1L1305.7 102.6L1305.7 104.1L1305.7 105.6L1305.8 107.1L1305.8 108.6L1305.8 110.1L1305.9 111.6L1305.9 113.1L1306.0 114.6L1306.0 116.1L1306.1 117.6L1306.1 119.1L1306.2 120.6L1306.3 122.1L1306.3 123.6L1306.4 125.1L1306.5 126.6L1306.6 128.1L1306.7 129.6L1306.8 131.1L1307.0 132.6L1307.1 134.1L1307.2 135.6L1307.3 137.1L1307.5 138.6L1307.6 140.1L1307.8 141.6L1307.9 143.1L1308.1 144.6L1308.3 146.1L1308.5 147.6L1308.6 149.1L1308.8 150.6L1309.0 152.1L1309.2 153.6L1309.3 155.1L1309.4 156.6L1309.5 158.1L1309.6 159.6L1309.7 161.1L1309.8 162.6L1310.0 164.1L1310.2 165.6L1310.4 167.1L1310.6 168.6L1310.8 170.1L1311.1 171.6L1311.4 173.1L1311.7 174.6L1312.0 176.1L1312.3 177.6L1312.6 179.1L1312.8 180.6L1313.1 182.1L1313.3 183.6L1313.6 185.1L1313.8 186.6L1314.0 188.1L1314.3 189.6L1314.5 191.1L1314.7 192.6L1314.9 194.1L1315.1 195.6L1315.3 197.1L1315.5 198.6L1315.6 200.1L1315.8 201.6L1316.0 203.1L1316.1 204.6L1316.3 206.1L1316.4 207.6L1316.6 209.1L1316.7 210.6L1316.8 212.1L1316.9 213.6L1317.0 215.1L1317.1 216.6L1317.1 218.1L1317.2 219.6L1317.3 221.1L1317.4 222.6L1317.4 224.1L1317.5 225.6L1317.5 227.1L1317.5 228.6L1317.5 230.1L1317.5 231.6L1317.5 233.1L1317.5 234.6L1317.5 236.1L1317.5 237.6L1317.5 239.1L1317.4 240.6L1317.4 242.1L1317.3 243.6L1317.3 245.1L1317.3 246.6L1317.2 248.1L1317.2 249.6L1317.2 251.1L1317.1 252.6L1317.1 254.1L1317.0 255.6L1316.9 257.1L1316.8 258.6L1316.7 260.1L1316.5 261.6L1316.4 263.1L1316.2 264.6L1316.0 266.1L1315.8 267.6L1315.7 269.1L1315.6 270.6L1315.5 272.1L1315.4 273.6L1315.3 275.1L1315.2 276.6L1315.0 278.1L1314.9 279.6L1314.8 281.1L1314.7 282.6L1314.6 284.1L1314.5 285.6L1314.3 287.1L1314.2 288.6L1314.0 290.1L1313.9 291.6L1313.7 293.1L1313.6 294.6L1313.4 296.1L1313.3 297.6L1313.1 299.1L1313.0 300.6L1312.9 302.1L1312.8 303.6L1312.6 305.1L1312.5 306.6L1312.4 308.1L1312.3 309.6L1312.2 311.1L1312.1 312.6L1312.0 314.1L1311.9 315.6L1311.7 317.1L1311.6 318.6L1311.5 320.1L1311.4 321.6L1311.3 323.1L1311.2 324.6L1311.1 326.1L1311.1 327.6L1311.0 329.1L1310.9 330.6L1310.8 332.1L1310.7 333.6L1310.6 335.1L1310.5 336.6L1310.4 338.1L1310.3 339.6L1310.2 341.1L1310.1 342.6L1310.0 344.1L1309.9 345.6L1309.8 347.1L1309.7 348.6L1309.6 350.1L1309.4 351.6L1309.2 353.1L1309.1 354.6L1308.9 356.1L1308.7 357.6L1308.6 359.1L1308.4 360.6L1308.2 362.1L1308.0 363.6L1307.8 365.1L1307.7 366.6L1307.5 368.1L1307.3 369.6L1307.2 371.1L1307.0 372.6L1306.9 374.1L1306.8 375.6L1306.6 377.1L1306.5 378.6L1306.4 380.1L1306.3 381.6L1306.2 383.1L1306.0 384.6L1305.9 386.1L1305.8 387.6L1305.8 389.1L1305.7 390.6L1305.7 392.1L1305.6 393.6L1305.6 395.1L1305.6 396.6L1305.6 398.1L1305.6 399.6L1305.6 401.1L1305.5 402.6L1305.5 404.1L1305.5 405.6L1305.5 407.1L1305.5 408.6L1305.5 410.1L1305.5 411.6L1305.5 413.1L1305.5 414.6L1305.5 416.1L1305.4 417.6L1305.4 419.1L1305.4 420.6L1305.4 422.1L1305.4 423.6L1305.4 425.1L1305.4 426.6L1305.4 428.1L1305.4 429.6L1305.4 431.1L1305.4 432.6L1305.4 434.1L1305.4 435.6L1305.4 437.1L1305.4 438.6L1305.4 440.1L1305.4 441.6L1305.4 443.1L1305.4 444.6L1305.3 445.0L1305.2 445.0L1305.2 444.6L1305.2 443.1L1305.2 441.6L1305.2 440.1L1305.2 438.6L1305.2 437.1L1305.2 435.6L1305.2 434.1L1305.2 432.6L1305.2 431.1L1305.2 429.6L1305.2 428.1L1305.2 426.6L1305.2 425.1L1305.2 423.6L1305.2 422.1L1305.2 420.6L1305.2 419.1L1305.2 417.6L1305.1 416.1L1305.1 414.6L1305.1 413.1L1305.1 411.6L1305.1 410.1L1305.1 408.6L1305.1 407.1L1305.1 405.6L1305.1 404.1L1305.1 402.6L1305.0 401.1L1305.0 399.6L1305.0 398.1L1305.0 396.6L1305.0 395.1L1305.0 393.6L1304.9 392.1L1304.9 390.6L1304.8 389.1L1304.8 387.6L1304.7 386.1L1304.6 384.6L1304.4 383.1L1304.3 381.6L1304.2 380.1L1304.1 378.6L1304.0 377.1L1303.8 375.6L1303.7 374.1L1303.6 372.6L1303.4 371.1L1303.3 369.6L1303.1 368.1L1302.9 366.6L1302.8 365.1L1302.6 363.6L1302.4 362.1L1302.2 360.6L1302.0 359.1L1301.9 357.6L1301.7 356.1L1301.5 354.6L1301.4 353.1L1301.2 351.6L1301.0 350.1L1300.9 348.6L1300.8 347.1L1300.7 345.6L1300.6 344.1L1300.5 342.6L1300.4 341.1L1300.3 339.6L1300.2 338.1L1300.1 336.6L1300.0 335.1L1299.9 333.6L1299.8 332.1L1299.7 330.6L1299.6 329.1L1299.5 327.6L1299.5 326.1L1299.4 324.6L1299.3 323.1L1299.2 321.6L1299.1 320.1L1299.0 318.6L1298.9 317.1L1298.7 315.6L1298.6 314.1L1298.5 312.6L1298.4 311.1L1298.3 309.6L1298.2 308.1L1298.1 306.6L1298.0 305.1L1297.8 303.6L1297.7 302.1L1297.6 300.6L1297.5 299.1L1297.3 297.6L1297.2 296.1L1297.0 294.6L1296.9 293.1L1296.7 291.6L1296.6 290.1L1296.4 288.6L1296.3 287.1L1296.1 285.6L1296.0 284.1L1295.9 282.6L1295.8 281.1L1295.7 279.6L1295.6 278.1L1295.4 276.6L1295.3 275.1L1295.2 273.6L1295.1 272.1L1295.0 270.6L1294.9 269.1L1294.8 267.6L1294.6 266.1L1294.4 264.6L1294.2 263.1L1294.1 261.6L1293.9 260.1L1293.8 258.6L1293.7 257.1L1293.6 255.6L1293.5 254.1L1293.5 252.6L1293.4 251.1L1293.4 249.6L1293.4 248.1L1293.3 246.6L1293.3 245.1L1293.3 243.6L1293.2 242.1L1293.2 240.6L1293.1 239.1L1293.1 237.6L1293.1 236.1L1293.1 234.6L1293.1 233.1L1293.1 231.6L1293.1 230.1L1293.1 228.6L1293.1 227.1L1293.1 225.6L1293.2 224.1L1293.2 222.6L1293.3 221.1L1293.4 219.6L1293.5 218.1L1293.5 216.6L1293.6 215.1L1293.7 213.6L1293.8 212.1L1293.9 210.6L1294.0 209.1L1294.2 207.6L1294.3 206.1L1294.5 204.6L1294.6 203.1L1294.8 201.6L1295.0 200.1L1295.1 198.6L1295.3 197.1L1295.5 195.6L1295.7 194.1L1295.9 192.6L1296.1 191.1L1296.3 189.6L1296.6 188.1L1296.8 186.6L1297.0 185.1L1297.3 183.6L1297.5 182.1L1297.8 180.6L1298.0 179.1L1298.3 177.6L1298.6 176.1L1298.9 174.6L1299.2 173.1L1299.5 171.6L1299.8 170.1L1300.0 168.6L1300.2 167.1L1300.4 165.6L1300.6 164.1L1300.8 162.6L1300.9 161.1L1301.0 159.6L1301.1 158.1L1301.2 156.6L1301.3 155.1L1301.4 153.6L1301.6 152.1L1301.8 150.6L1302.0 149.1L1302.1 147.6L1302.3 146.1L1302.5 144.6L1302.7 143.1L1302.8 141.6L1303.0 140.1L1303.1 138.6L1303.3 137.1L1303.4 135.6L1303.5 134.1L1303.6 132.6L1303.8 131.1L1303.9 129.6L1304.0 128.1L1304.1 126.6L1304.2 125.1L1304.3 123.6L1304.3 122.1L1304.4 120.6L1304.5 119.1L1304.5 117.6L1304.6 116.1L1304.6 114.6L1304.7 113.1L1304.7 111.6L1304.8 110.1L1304.8 108.6L1304.8 107.1L1304.9 105.6L1304.9 104.1L1304.9 102.6L1305.0 101.1L1305.0 99.6L1305.0 98.1L1305.0 96.6L1305.1 95.1L1305.1 93.6L1305.1 92.1L1305.1 90.6L1305.1 89.1L1305.2 87.6L1305.2 86.1L1305.2 84.6L1305.2 83.1L1305.2 81.6L1305.2 80.1L1305.2 78.6L1305.2 77.1Z" fill="#d92b18" stroke="#2f2f2f" stroke-width="2.0" stroke-linejoin="round"/>
<line x1="1305.3" y1="77.1" x2="1305.3" y2="445.0" stroke="#2f2f2f" stroke-width="1.7"/>
<rect x="1299.9" y="202.4" width="10.8" height="104.4" fill="#2f2f2f"/>
<ellipse cx="1305.3" cy="249.3" rx="6.2" ry="2.0" fill="#2f2f2f"/>
<ellipse cx="1305.3" cy="249.3" rx="3.1" ry="0.8" fill="#f4f4f4"/>
<path d="M1382.0 93.2L1382.0 94.7L1382.0 96.2L1382.0 97.7L1382.0 99.2L1382.1 100.7L1382.1 102.2L1382.1 103.7L1382.1 105.2L1382.2 106.7L1382.2 108.2L1382.2 109.7L1382.3 111.2L1382.3 112.7L1382.3 114.2L1382.4 115.7L1382.4 117.2L1382.4 118.7L1382.5 120.2L1382.5 121.7L1382.6 123.2L1382.6 124.7L1382.7 126.2L1382.7 127.7L1382.8 129.2L1382.9 130.7L1383.0 132.2L1383.1 133.7L1383.2 135.2L1383.3 136.7L1383.4 138.2L1383.6 139.7L1383.7 141.2L1383.9 142.7L1384.1 144.2L1384.2 145.7L1384.4 147.2L1384.5 148.7L1384.7 150.2L1384.8 151.7L1385.0 153.2L1385.1 154.7L1385.2 156.2L1385.3 157.7L1385.4 159.2L1385.5 160.7L1385.6 162.2L1385.7 163.7L1385.9 165.2L1386.1 166.7L1386.3 168.2L1386.6 169.7L1386.8 171.2L1387.0 172.7L1387.3 174.2L1387.5 175.7L1387.7 177.2L1388.0 178.7L1388.2 180.2L1388.4 181.7L1388.6 183.2L1388.8 184.7L1389.0 186.2L1389.2 187.7L1389.4 189.2L1389.5 190.7L1389.7 192.2L1389.9 193.7L1390.0 195.2L1390.2 196.7L1390.3 198.2L1390.4 199.7L1390.6 201.2L1390.7 202.7L1390.9 204.2L1391.0 205.7L1391.2 207.2L1391.3 208.7L1391.4 210.2L1391.6 211.7L1391.7 213.2L1391.9 214.7L1392.0 216.2L1392.2 217.7L1392.3 219.2L1392.4 220.7L1392.5 222.2L1392.6 223.7L1392.7 225.2L1392.7 226.7L1392.8 228.2L1392.9 229.7L1393.0 231.2L1393.0 232.7L1393.1 234.2L1393.1 235.7L1393.1 237.2L1393.1 238.7L1393.1 240.2L1393.1 241.7L1393.1 243.2L1393.1 244.7L1393.1 246.2L1393.1 247.7L1393.1 249.2L1393.0 250.7L1393.0 252.2L1393.0 253.7L1393.0 255.2L1392.9 256.7L1392.9 258.2L1392.8 259.7L1392.7 261.2L1392.6 262.7L1392.5 264.2L1392.4 265.7L1392.3 267.2L1392.2 268.7L1392.1 270.2L1392.0 271.7L1391.9 273.2L1391.8 274.7L1391.7 276.2L1391.5 277.7L1391.4 279.2L1391.3 280.7L1391.2 282.2L1391.1 283.7L1391.0 285.2L1390.9 286.7L1390.8 288.2L1390.7 289.7L1390.6 291.2L1390.5 292.7L1390.4 294.2L1390.2 295.7L1390.1 297.2L1390.0 298.7L1389.9 300.2L1389.8 301.7L1389.7 303.2L1389.7 304.7L1389.6 306.2L1389.5 307.7L1389.4 309.2L1389.3 310.7L1389.2 312.2L1389.1 313.7L1389.1 315.2L1389.0 316.7L1388.9 318.2L1388.8 319.7L1388.7 321.2L1388.6 322.7L1388.5 324.2L1388.4 325.7L1388.3 327.2L1388.2 328.7L1388.1 330.2L1388.0 331.7L1387.9 333.2L1387.8 334.7L1387.7 336.2L1387.6 337.7L1387.5 339.2L1387.4 340.7L1387.3 342.2L1387.2 343.7L1387.1 345.2L1387.0 346.7L1386.9 348.2L1386.8 349.7L1386.7 351.2L1386.5 352.7L1386.4 354.2L1386.2 355.7L1386.1 357.2L1385.9 358.7L1385.7 360.2L1385.5 361.7L1385.4 363.2L1385.2 364.7L1385.0 366.2L1384.9 367.7L1384.7 369.2L1384.6 370.7L1384.5 372.2L1384.3 373.7L1384.2 375.2L1384.0 376.7L1383.8 378.2L1383.7 379.7L1383.5 381.2L1383.4 382.7L1383.3 384.2L1383.1 385.7L1383.0 387.2L1382.9 388.7L1382.8 390.2L1382.7 391.7L1382.6 393.2L1382.5 394.7L1382.4 396.2L1382.4 397.7L1382.3 399.2L1382.3 400.7L1382.2 402.2L1382.2 403.7L1382.2 405.2L1382.2 406.7L1382.2 408.2L1382.1 409.7L1382.1 411.2L1382.1 412.7L1382.1 414.2L1382.1 415.7L1382.1 417.2L1382.1 418.7L1382.1 420.2L1382.1 421.7L1382.1 423.2L1382.0 424.7L1382.0 426.2L1382.0 427.7L1382.0 429.2L1382.0 430.7L1382.0 432.2L1382.0 433.7L1382.0 435.2L1382.0 436.7L1382.0 438.2L1382.0 439.7L1382.0 441.2L1382.0 442.7L1382.0 444.2L1382.0 445.7L1382.0 447.2L1382.0 448.5L1381.9 448.5L1381.8 447.2L1381.8 445.7L1381.8 444.2L1381.8 442.7L1381.8 441.2L1381.8 439.7L1381.8 438.2L1381.8 436.7L1381.8 435.2L1381.8 433.7L1381.8 432.2L1381.8 430.7L1381.8 429.2L1381.8 427.7L1381.8 426.2L1381.8 424.7L1381.7 423.2L1381.7 421.7L1381.7 420.2L1381.7 418.7L1381.7 417.2L1381.7 415.7L1381.7 414.2L1381.7 412.7L1381.7 411.2L1381.7 409.7L1381.6 408.2L1381.6 406.7L1381.6 405.2L1381.6 403.7L1381.6 402.2L1381.5 400.7L1381.5 399.2L1381.4 397.7L1381.4 396.2L1381.3 394.7L1381.2 393.2L1381.1 391.7L1381.0 390.2L1380.9 388.7L1380.8 387.2L1380.7 385.7L1380.5 384.2L1380.4 382.7L1380.3 381.2L1380.1 379.7L1380.0 378.2L1379.8 376.7L1379.6 375.2L1379.5 373.7L1379.3 372.2L1379.2 370.7L1379.1 369.2L1378.9 367.7L1378.8 366.2L1378.6 364.7L1378.4 363.2L1378.3 361.7L1378.1 360.2L1377.9 358.7L1377.7 357.2L1377.6 355.7L1377.4 354.2L1377.3 352.7L1377.1 351.2L1377.0 349.7L1376.9 348.2L1376.8 346.7L1376.7 345.2L1376.6 343.7L1376.5 342.2L1376.4 340.7L1376.3 339.2L1376.2 337.7L1376.1 336.2L1376.0 334.7L1375.9 333.2L1375.8 331.7L1375.7 330.2L1375.6 328.7L1375.5 327.2L1375.4 325.7L1375.3 324.2L1375.2 322.7L1375.1 321.2L1375.0 319.7L1374.9 318.2L1374.8 316.7L1374.7 315.2L1374.7 313.7L1374.6 312.2L1374.5 310.7L1374.4 309.2L1374.3 307.7L1374.2 306.2L1374.1 304.7L1374.1 303.2L1374.0 301.7L1373.9 300.2L1373.8 298.7L1373.7 297.2L1373.6 295.7L1373.4 294.2L1373.3 292.7L1373.2 291.2L1373.1 289.7L1373.0 288.2L1372.9 286.7L1372.8 285.2L1372.7 283.7L1372.6 282.2L1372.5 280.7L1372.4 279.2L1372.3 277.7L1372.1 276.2L1372.0 274.7L1371.9 273.2L1371.8 271.7L1371.7 270.2L1371.6 268.7L1371.5 267.2L1371.4 265.7L1371.3 264.2L1371.2 262.7L1371.1 261.2L1371.0 259.7L1370.9 258.2L1370.9 256.7L1370.8 255.2L1370.8 253.7L1370.8 252.2L1370.8 250.7L1370.7 249.2L1370.7 247.7L1370.7 246.2L1370.7 244.7L1370.7 243.2L1370.7 241.7L1370.7 240.2L1370.7 238.7L1370.7 237.2L1370.7 235.7L1370.7 234.2L1370.8 232.7L1370.8 231.2L1370.9 229.7L1371.0 228.2L1371.1 226.7L1371.1 225.2L1371.2 223.7L1371.3 222.2L1371.4 220.7L1371.5 219.2L1371.6 217.7L1371.8 216.2L1371.9 214.7L1372.1 213.2L1372.2 211.7L1372.4 210.2L1372.5 208.7L1372.6 207.2L1372.8 205.7L1372.9 204.2L1373.1 202.7L1373.2 201.2L1373.4 199.7L1373.5 198.2L1373.6 196.7L1373.8 195.2L1373.9 193.7L1374.1 192.2L1374.3 190.7L1374.4 189.2L1374.6 187.7L1374.8 186.2L1375.0 184.7L1375.2 183.2L1375.4 181.7L1375.6 180.2L1375.8 178.7L1376.1 177.2L1376.3 175.7L1376.5 174.2L1376.8 172.7L1377.0 171.2L1377.2 169.7L1377.5 168.2L1377.7 166.7L1377.9 165.2L1378.1 163.7L1378.2 162.2L1378.3 160.7L1378.4 159.2L1378.5 157.7L1378.6 156.2L1378.7 154.7L1378.8 153.2L1379.0 151.7L1379.1 150.2L1379.3 148.7L1379.4 147.2L1379.6 145.7L1379.7 144.2L1379.9 142.7L1380.1 141.2L1380.2 139.7L1380.4 138.2L1380.5 136.7L1380.6 135.2L1380.7 133.7L1380.8 132.2L1380.9 130.7L1381.0 129.2L1381.1 127.7L1381.1 126.2L1381.2 124.7L1381.2 123.2L1381.3 121.7L1381.3 120.2L1381.4 118.7L1381.4 117.2L1381.4 115.7L1381.5 114.2L1381.5 112.7L1381.5 111.2L1381.6 109.7L1381.6 108.2L1381.6 106.7L1381.7 105.2L1381.7 103.7L1381.7 102.2L1381.7 100.7L1381.8 99.2L1381.8 97.7L1381.8 96.2L1381.8 94.7L1381.9 93.2Z" fill="#d92b18" stroke="#2f2f2f" stroke-width="2.0" stroke-linejoin="round"/>
<line x1="1381.9" y1="93.2" x2="1381.9" y2="448.5" stroke="#2f2f2f" stroke-width="1.7"/>
<rect x="1376.5" y="208.0" width="10.8" height="105.6" fill="#2f2f2f"/>
<ellipse cx="1381.9" cy="255.4" rx="6.2" ry="2.0" fill="#2f2f2f"/>
<ellipse cx="1381.9" cy="255.4" rx="3.1" ry="0.8" fill="#f4f4f4"/>
<path d="M1458.5 80.2L1458.5 81.7L1458.5 83.2L1458.5 84.7L1458.5 86.2L1458.5 87.7L1458.5 89.2L1458.5 90.7L1458.5 92.2L1458.5 93.7L1458.5 95.2L1458.5 96.7L1458.5 98.2L1458.6 99.7L1458.6 101.2L1458.7 102.7L1458.7 104.2L1458.8 105.7L1458.9 107.2L1458.9 108.7L1459.0 110.2L1459.1 111.7L1459.1 113.2L1459.2 114.7L1459.3 116.2L1459.3 117.7L1459.4 119.2L1459.4 120.7L1459.5 122.2L1459.6 123.7L1459.7 125.2L1459.7 126.7L1459.8 128.2L1459.9 129.7L1460.0 131.2L1460.1 132.7L1460.3 134.2L1460.4 135.7L1460.5 137.2L1460.7 138.7L1460.8 140.2L1461.0 141.7L1461.1 143.2L1461.3 144.7L1461.4 146.2L1461.5 147.7L1461.7 149.2L1461.8 150.7L1462.0 152.2L1462.1 153.7L1462.3 155.2L1462.4 156.7L1462.6 158.2L1462.7 159.7L1462.8 161.2L1463.0 162.7L1463.1 164.2L1463.2 165.7L1463.3 167.2L1463.4 168.7L1463.5 170.2L1463.7 171.7L1463.8 173.2L1464.0 174.7L1464.1 176.2L1464.3 177.7L1464.4 179.2L1464.5 180.7L1464.6 182.2L1464.7 183.7L1464.8 185.2L1464.8 186.7L1464.9 188.2L1465.0 189.7L1465.1 191.2L1465.2 192.7L1465.3 194.2L1465.4 195.7L1465.5 197.2L1465.6 198.7L1465.7 200.2L1465.8 201.7L1465.9 203.2L1466.1 204.7L1466.2 206.2L1466.3 207.7L1466.4 209.2L1466.5 210.7L1466.6 212.2L1466.7 213.7L1466.8 215.2L1466.9 216.7L1467.1 218.2L1467.2 219.7L1467.3 221.2L1467.4 222.7L1467.5 224.2L1467.6 225.7L1467.8 227.2L1467.9 228.7L1468.0 230.2L1468.1 231.7L1468.2 233.2L1468.3 234.7L1468.4 236.2L1468.5 237.7L1468.6 239.2L1468.7 240.7L1468.8 242.2L1468.9 243.7L1469.0 245.2L1469.1 246.7L1469.2 248.2L1469.3 249.7L1469.4 251.2L1469.5 252.7L1469.5 254.2L1469.6 255.7L1469.6 257.2L1469.6 258.7L1469.5 260.2L1469.5 261.7L1469.4 263.2L1469.4 264.7L1469.3 266.2L1469.3 267.7L1469.2 269.2L1469.2 270.7L1469.1 272.2L1469.1 273.7L1469.0 275.2L1469.0 276.7L1468.9 278.2L1468.9 279.7L1468.8 281.2L1468.8 282.7L1468.7 284.2L1468.6 285.7L1468.5 287.2L1468.5 288.7L1468.4 290.2L1468.3 291.7L1468.2 293.2L1468.1 294.7L1468.0 296.2L1468.0 297.7L1467.9 299.2L1467.8 300.7L1467.7 302.2L1467.7 303.7L1467.6 305.2L1467.5 306.7L1467.5 308.2L1467.4 309.7L1467.3 311.2L1467.3 312.7L1467.2 314.2L1467.1 315.7L1467.0 317.2L1467.0 318.7L1466.9 320.2L1466.8 321.7L1466.7 323.2L1466.6 324.7L1466.5 326.2L1466.4 327.7L1466.3 329.2L1466.2 330.7L1466.1 332.2L1466.1 333.7L1466.0 335.2L1465.9 336.7L1465.8 338.2L1465.7 339.7L1465.7 341.2L1465.6 342.7L1465.5 344.2L1465.4 345.7L1465.3 347.2L1465.2 348.7L1465.0 350.2L1464.8 351.7L1464.6 353.2L1464.4 354.7L1464.1 356.2L1463.9 357.7L1463.7 359.2L1463.4 360.7L1463.2 362.2L1463.0 363.7L1462.7 365.2L1462.5 366.7L1462.3 368.2L1462.1 369.7L1461.9 371.2L1461.7 372.7L1461.5 374.2L1461.3 375.7L1461.0 377.2L1460.8 378.7L1460.6 380.2L1460.5 381.7L1460.3 383.2L1460.2 384.7L1460.1 386.2L1460.0 387.7L1459.9 389.2L1459.8 390.7L1459.7 392.2L1459.6 393.7L1459.5 395.2L1459.4 396.7L1459.4 398.2L1459.3 399.7L1459.2 401.2L1459.1 402.7L1459.0 404.2L1459.0 405.7L1458.9 407.2L1458.9 408.7L1458.8 410.2L1458.8 411.7L1458.8 413.2L1458.7 414.7L1458.7 416.2L1458.7 417.7L1458.7 419.2L1458.7 420.7L1458.6 422.2L1458.6 423.7L1458.6 425.2L1458.6 426.7L1458.6 428.2L1458.6 429.7L1458.5 431.2L1458.5 432.7L1458.5 434.2L1458.5 435.7L1458.5 437.2L1458.5 438.7L1458.5 440.2L1458.5 441.7L1458.5 443.2L1458.5 444.7L1458.5 446.2L1458.5 447.0L1458.4 447.0L1458.3 446.2L1458.3 444.7L1458.3 443.2L1458.3 441.7L1458.3 440.2L1458.3 438.7L1458.3 437.2L1458.3 435.7L1458.3 434.2L1458.3 432.7L1458.3 431.2L1458.2 429.7L1458.2 428.2L1458.2 426.7L1458.2 425.2L1458.2 423.7L1458.2 422.2L1458.1 420.7L1458.1 419.2L1458.1 417.7L1458.1 416.2L1458.1 414.7L1458.0 413.2L1458.0 411.7L1458.0 410.2L1457.9 408.7L1457.9 407.2L1457.8 405.7L1457.8 404.2L1457.7 402.7L1457.6 401.2L1457.5 399.7L1457.4 398.2L1457.4 396.7L1457.3 395.2L1457.2 393.7L1457.1 392.2L1457.0 390.7L1456.9 389.2L1456.8 387.7L1456.7 386.2L1456.6 384.7L1456.5 383.2L1456.3 381.7L1456.2 380.2L1456.0 378.7L1455.8 377.2L1455.5 375.7L1455.3 374.2L1455.1 372.7L1454.9 371.2L1454.7 369.7L1454.5 368.2L1454.3 366.7L1454.1 365.2L1453.8 363.7L1453.6 362.2L1453.4 360.7L1453.1 359.2L1452.9 357.7L1452.7 356.2L1452.4 354.7L1452.2 353.2L1452.0 351.7L1451.8 350.2L1451.6 348.7L1451.5 347.2L1451.4 345.7L1451.3 344.2L1451.2 342.7L1451.1 341.2L1451.1 339.7L1451.0 338.2L1450.9 336.7L1450.8 335.2L1450.7 333.7L1450.7 332.2L1450.6 330.7L1450.5 329.2L1450.4 327.7L1450.3 326.2L1450.2 324.7L1450.1 323.2L1450.0 321.7L1449.9 320.2L1449.8 318.7L1449.8 317.2L1449.7 315.7L1449.6 314.2L1449.5 312.7L1449.5 311.2L1449.4 309.7L1449.3 308.2L1449.3 306.7L1449.2 305.2L1449.1 303.7L1449.1 302.2L1449.0 300.7L1448.9 299.2L1448.8 297.7L1448.8 296.2L1448.7 294.7L1448.6 293.2L1448.5 291.7L1448.4 290.2L1448.3 288.7L1448.3 287.2L1448.2 285.7L1448.1 284.2L1448.0 282.7L1448.0 281.2L1447.9 279.7L1447.9 278.2L1447.8 276.7L1447.8 275.2L1447.7 273.7L1447.7 272.2L1447.6 270.7L1447.6 269.2L1447.5 267.7L1447.5 266.2L1447.4 264.7L1447.4 263.2L1447.3 261.7L1447.3 260.2L1447.2 258.7L1447.2 257.2L1447.2 255.7L1447.3 254.2L1447.3 252.7L1447.4 251.2L1447.5 249.7L1447.6 248.2L1447.7 246.7L1447.8 245.2L1447.9 243.7L1448.0 242.2L1448.1 240.7L1448.2 239.2L1448.3 237.7L1448.4 236.2L1448.5 234.7L1448.6 233.2L1448.7 231.7L1448.8 230.2L1448.9 228.7L1449.0 227.2L1449.2 225.7L1449.3 224.2L1449.4 222.7L1449.5 221.2L1449.6 219.7L1449.7 218.2L1449.9 216.7L1450.0 215.2L1450.1 213.7L1450.2 212.2L1450.3 210.7L1450.4 209.2L1450.5 207.7L1450.6 206.2L1450.7 204.7L1450.9 203.2L1451.0 201.7L1451.1 200.2L1451.2 198.7L1451.3 197.2L1451.4 195.7L1451.5 194.2L1451.6 192.7L1451.7 191.2L1451.8 189.7L1451.9 188.2L1452.0 186.7L1452.0 185.2L1452.1 183.7L1452.2 182.2L1452.3 180.7L1452.4 179.2L1452.5 177.7L1452.7 176.2L1452.8 174.7L1453.0 173.2L1453.1 171.7L1453.3 170.2L1453.4 168.7L1453.5 167.2L1453.6 165.7L1453.7 164.2L1453.8 162.7L1454.0 161.2L1454.1 159.7L1454.2 158.2L1454.4 156.7L1454.5 155.2L1454.7 153.7L1454.8 152.2L1455.0 150.7L1455.1 149.2L1455.3 147.7L1455.4 146.2L1455.5 144.7L1455.7 143.2L1455.8 141.7L1456.0 140.2L1456.1 138.7L1456.3 137.2L1456.4 135.7L1456.5 134.2L1456.7 132.7L1456.8 131.2L1456.9 129.7L1457.0 128.2L1457.1 126.7L1457.1 125.2L1457.2 123.7L1457.3 122.2L1457.4 120.7L1457.4 119.2L1457.5 117.7L1457.5 116.2L1457.6 114.7L1457.7 113.2L1457.7 111.7L1457.8 110.2L1457.9 108.7L1457.9 107.2L1458.0 105.7L1458.1 104.2L1458.1 102.7L1458.2 101.2L1458.2 99.7L1458.3 98.2L1458.3 96.7L1458.3 95.2L1458.3 93.7L1458.3 92.2L1458.3 90.7L1458.3 89.2L1458.3 87.7L1458.3 86.2L1458.3 84.7L1458.3 83.2L1458.3 81.7L1458.4 80.2Z" fill="#949493" stroke="#2f2f2f" stroke-width="2.0" stroke-linejoin="round"/>
<line x1="1458.4" y1="80.2" x2="1458.4" y2="447.0" stroke="#2f2f2f" stroke-width="1.7"/>
<rect x="1453.0" y="209.7" width="10.8" height="114.3" fill="#2f2f2f"/>
<ellipse cx="1458.4" cy="266.6" rx="6.2" ry="2.0" fill="#2f2f2f"/>
<ellipse cx="1458.4" cy="266.6" rx="3.1" ry="0.8" fill="#f4f4f4"/>
<path d="M1535.0 77.6L1535.0 79.1L1535.0 80.6L1535.0 82.1L1535.0 83.6L1535.0 85.1L1535.0 86.6L1535.0 88.1L1535.0 89.6L1535.0 91.1L1535.1 92.6L1535.1 94.1L1535.1 95.6L1535.1 97.1L1535.2 98.6L1535.2 100.1L1535.2 101.6L1535.3 103.1L1535.3 104.6L1535.4 106.1L1535.4 107.6L1535.5 109.1L1535.5 110.6L1535.6 112.1L1535.6 113.6L1535.7 115.1L1535.7 116.6L1535.8 118.1L1535.8 119.6L1535.8 121.1L1535.9 122.6L1535.9 124.1L1536.0 125.6L1536.0 127.1L1536.1 128.6L1536.1 130.1L1536.2 131.6L1536.3 133.1L1536.4 134.6L1536.4 136.1L1536.5 137.6L1536.6 139.1L1536.7 140.6L1536.8 142.1L1536.9 143.6L1537.0 145.1L1537.1 146.6L1537.2 148.1L1537.3 149.6L1537.4 151.1L1537.5 152.6L1537.6 154.1L1537.7 155.6L1537.9 157.1L1538.0 158.6L1538.1 160.1L1538.2 161.6L1538.3 163.1L1538.4 164.6L1538.5 166.1L1538.6 167.6L1538.7 169.1L1538.9 170.6L1539.1 172.1L1539.3 173.6L1539.5 175.1L1539.7 176.6L1539.8 178.1L1539.9 179.6L1540.0 181.1L1540.0 182.6L1540.1 184.1L1540.2 185.6L1540.2 187.1L1540.3 188.6L1540.3 190.1L1540.4 191.6L1540.5 193.1L1540.5 194.6L1540.6 196.1L1540.7 197.6L1540.8 199.1L1540.9 200.6L1540.9 202.1L1541.0 203.6L1541.1 205.1L1541.2 206.6L1541.3 208.1L1541.3 209.6L1541.4 211.1L1541.5 212.6L1541.5 214.1L1541.6 215.6L1541.6 217.1L1541.7 218.6L1541.7 220.1L1541.8 221.6L1541.8 223.1L1541.9 224.6L1541.9 226.1L1542.0 227.6L1542.0 229.1L1542.1 230.6L1542.1 232.1L1542.2 233.6L1542.2 235.1L1542.3 236.6L1542.3 238.1L1542.4 239.6L1542.4 241.1L1542.4 242.6L1542.5 244.1L1542.5 245.6L1542.6 247.1L1542.6 248.6L1542.6 250.1L1542.7 251.6L1542.7 253.1L1542.8 254.6L1542.8 256.1L1542.8 257.6L1542.9 259.1L1542.9 260.6L1543.0 262.1L1543.0 263.6L1543.1 265.1L1543.1 266.6L1543.1 268.1L1543.2 269.6L1543.2 271.1L1543.2 272.6L1543.3 274.1L1543.3 275.6L1543.3 277.1L1543.4 278.6L1543.4 280.1L1543.4 281.6L1543.4 283.1L1543.4 284.6L1543.4 286.1L1543.4 287.6L1543.4 289.1L1543.4 290.6L1543.4 292.1L1543.4 293.6L1543.4 295.1L1543.4 296.6L1543.4 298.1L1543.4 299.6L1543.4 301.1L1543.4 302.6L1543.4 304.1L1543.4 305.6L1543.4 307.1L1543.4 308.6L1543.4 310.1L1543.4 311.6L1543.3 313.1L1543.3 314.6L1543.3 316.1L1543.3 317.6L1543.3 319.1L1543.3 320.6L1543.2 322.1L1543.2 323.6L1543.2 325.1L1543.1 326.6L1543.1 328.1L1543.0 329.6L1543.0 331.1L1543.0 332.6L1542.9 334.1L1542.9 335.6L1542.8 337.1L1542.8 338.6L1542.8 340.1L1542.8 341.6L1542.7 343.1L1542.7 344.6L1542.7 346.1L1542.6 347.6L1542.6 349.1L1542.5 350.6L1542.4 352.1L1542.4 353.6L1542.3 355.1L1542.2 356.6L1542.1 358.1L1542.1 359.6L1542.0 361.1L1541.9 362.6L1541.8 364.1L1541.7 365.6L1541.6 367.1L1541.5 368.6L1541.4 370.1L1541.4 371.6L1541.3 373.1L1541.2 374.6L1541.1 376.1L1541.0 377.6L1540.9 379.1L1540.7 380.6L1540.6 382.1L1540.5 383.6L1540.4 385.1L1540.3 386.6L1540.2 388.1L1540.1 389.6L1540.0 391.1L1539.9 392.6L1539.8 394.1L1539.7 395.6L1539.6 397.1L1539.5 398.6L1539.3 400.1L1539.2 401.6L1539.1 403.1L1539.0 404.6L1538.9 406.1L1538.8 407.6L1538.7 409.1L1538.6 410.6L1538.5 412.1L1538.4 413.6L1538.2 415.1L1538.1 416.6L1538.0 418.1L1537.9 419.6L1537.8 421.1L1537.7 422.6L1537.5 424.1L1537.4 425.6L1537.3 427.1L1537.2 428.6L1537.1 430.1L1537.0 431.6L1536.8 433.1L1536.7 434.6L1536.6 436.1L1536.5 437.6L1536.4 439.1L1536.3 440.6L1536.1 442.1L1536.0 443.6L1535.9 445.1L1535.8 446.6L1535.7 448.1L1535.5 449.6L1535.5 450.0L1534.3 450.0L1534.3 449.6L1534.1 448.1L1534.0 446.6L1533.9 445.1L1533.8 443.6L1533.7 442.1L1533.5 440.6L1533.4 439.1L1533.3 437.6L1533.2 436.1L1533.1 434.6L1533.0 433.1L1532.8 431.6L1532.7 430.1L1532.6 428.6L1532.5 427.1L1532.4 425.6L1532.3 424.1L1532.1 422.6L1532.0 421.1L1531.9 419.6L1531.8 418.1L1531.7 416.6L1531.6 415.1L1531.4 413.6L1531.3 412.1L1531.2 410.6L1531.1 409.1L1531.0 407.6L1530.9 406.1L1530.8 404.6L1530.7 403.1L1530.6 401.6L1530.5 400.1L1530.3 398.6L1530.2 397.1L1530.1 395.6L1530.0 394.1L1529.9 392.6L1529.8 391.1L1529.7 389.6L1529.6 388.1L1529.5 386.6L1529.4 385.1L1529.3 383.6L1529.2 382.1L1529.1 380.6L1528.9 379.1L1528.8 377.6L1528.7 376.1L1528.6 374.6L1528.5 373.1L1528.4 371.6L1528.4 370.1L1528.3 368.6L1528.2 367.1L1528.1 365.6L1528.0 364.1L1527.9 362.6L1527.8 361.1L1527.7 359.6L1527.7 358.1L1527.6 356.6L1527.5 355.1L1527.4 353.6L1527.4 352.1L1527.3 350.6L1527.2 349.1L1527.2 347.6L1527.1 346.1L1527.1 344.6L1527.1 343.1L1527.0 341.6L1527.0 340.1L1527.0 338.6L1527.0 337.1L1526.9 335.6L1526.9 334.1L1526.8 332.6L1526.8 331.1L1526.8 329.6L1526.7 328.1L1526.7 326.6L1526.6 325.1L1526.6 323.6L1526.6 322.1L1526.5 320.6L1526.5 319.1L1526.5 317.6L1526.5 316.1L1526.5 314.6L1526.5 313.1L1526.4 311.6L1526.4 310.1L1526.4 308.6L1526.4 307.1L1526.4 305.6L1526.4 304.1L1526.4 302.6L1526.4 301.1L1526.4 299.6L1526.4 298.1L1526.4 296.6L1526.4 295.1L1526.4 293.6L1526.4 292.1L1526.4 290.6L1526.4 289.1L1526.4 287.6L1526.4 286.1L1526.4 284.6L1526.4 283.1L1526.4 281.6L1526.4 280.1L1526.4 278.6L1526.5 277.1L1526.5 275.6L1526.5 274.1L1526.6 272.6L1526.6 271.1L1526.6 269.6L1526.7 268.1L1526.7 266.6L1526.7 265.1L1526.8 263.6L1526.8 262.1L1526.9 260.6L1526.9 259.1L1527.0 257.6L1527.0 256.1L1527.0 254.6L1527.1 253.1L1527.1 251.6L1527.2 250.1L1527.2 248.6L1527.2 247.1L1527.3 245.6L1527.3 244.1L1527.4 242.6L1527.4 241.1L1527.4 239.6L1527.5 238.1L1527.5 236.6L1527.6 235.1L1527.6 233.6L1527.7 232.1L1527.7 230.6L1527.8 229.1L1527.8 227.6L1527.9 226.1L1527.9 224.6L1528.0 223.1L1528.0 221.6L1528.1 220.1L1528.1 218.6L1528.2 217.1L1528.2 215.6L1528.3 214.1L1528.3 212.6L1528.4 211.1L1528.5 209.6L1528.5 208.1L1528.6 206.6L1528.7 205.1L1528.8 203.6L1528.9 202.1L1528.9 200.6L1529.0 199.1L1529.1 197.6L1529.2 196.1L1529.3 194.6L1529.3 193.1L1529.4 191.6L1529.5 190.1L1529.5 188.6L1529.6 187.1L1529.6 185.6L1529.7 184.1L1529.8 182.6L1529.8 181.1L1529.9 179.6L1530.0 178.1L1530.1 176.6L1530.3 175.1L1530.5 173.6L1530.7 172.1L1530.9 170.6L1531.1 169.1L1531.2 167.6L1531.3 166.1L1531.4 164.6L1531.5 163.1L1531.6 161.6L1531.7 160.1L1531.8 158.6L1531.9 157.1L1532.1 155.6L1532.2 154.1L1532.3 152.6L1532.4 151.1L1532.5 149.6L1532.6 148.1L1532.7 146.6L1532.8 145.1L1532.9 143.6L1533.0 142.1L1533.1 140.6L1533.2 139.1L1533.3 137.6L1533.4 136.1L1533.4 134.6L1533.5 133.1L1533.6 131.6L1533.7 130.1L1533.7 128.6L1533.8 127.1L1533.8 125.6L1533.9 124.1L1533.9 122.6L1534.0 121.1L1534.0 119.6L1534.0 118.1L1534.1 116.6L1534.1 115.1L1534.2 113.6L1534.2 112.1L1534.3 110.6L1534.3 109.1L1534.4 107.6L1534.4 106.1L1534.5 104.6L1534.5 103.1L1534.6 101.6L1534.6 100.1L1534.6 98.6L1534.7 97.1L1534.7 95.6L1534.7 94.1L1534.7 92.6L1534.8 91.1L1534.8 89.6L1534.8 88.1L1534.8 86.6L1534.8 85.1L1534.8 83.6L1534.8 82.1L1534.8 80.6L1534.8 79.1L1534.9 77.6Z" fill="#949493" stroke="#2f2f2f" stroke-width="2.0" stroke-linejoin="round"/>
<line x1="1534.9" y1="77.6" x2="1534.9" y2="450.0" stroke="#2f2f2f" stroke-width="1.7"/>
<rect x="1529.5" y="220.2" width="10.8" height="136.4" fill="#2f2f2f"/>
<ellipse cx="1534.9" cy="289.5" rx="6.2" ry="2.0" fill="#2f2f2f"/>
<ellipse cx="1534.9" cy="289.5" rx="3.1" ry="0.8" fill="#f4f4f4"/>
<path d="M1611.5 77.1L1611.5 78.6L1611.5 80.1L1611.5 81.6L1611.5 83.1L1611.5 84.6L1611.5 86.1L1611.5 87.6L1611.5 89.1L1611.5 90.6L1611.5 92.1L1611.5 93.6L1611.5 95.1L1611.5 96.6L1611.5 98.1L1611.6 99.6L1611.6 101.1L1611.7 102.6L1611.7 104.1L1611.8 105.6L1611.9 107.1L1611.9 108.6L1612.0 110.1L1612.1 111.6L1612.1 113.1L1612.2 114.6L1612.2 116.1L1612.3 117.6L1612.4 119.1L1612.4 120.6L1612.5 122.1L1612.6 123.6L1612.7 125.1L1612.7 126.6L1612.8 128.1L1612.9 129.6L1613.0 131.1L1613.2 132.6L1613.3 134.1L1613.5 135.6L1613.6 137.1L1613.8 138.6L1614.0 140.1L1614.1 141.6L1614.3 143.1L1614.4 144.6L1614.6 146.1L1614.7 147.6L1614.8 149.1L1615.0 150.6L1615.1 152.1L1615.2 153.6L1615.3 155.1L1615.4 156.6L1615.5 158.1L1615.6 159.6L1615.7 161.1L1615.9 162.6L1616.0 164.1L1616.1 165.6L1616.2 167.1L1616.3 168.6L1616.4 170.1L1616.5 171.6L1616.5 173.1L1616.6 174.6L1616.7 176.1L1616.7 177.6L1616.8 179.1L1616.8 180.6L1616.9 182.1L1617.0 183.6L1617.0 185.1L1617.1 186.6L1617.1 188.1L1617.2 189.6L1617.2 191.1L1617.3 192.6L1617.3 194.1L1617.3 195.6L1617.4 197.1L1617.4 198.6L1617.4 200.1L1617.4 201.6L1617.5 203.1L1617.5 204.6L1617.5 206.1L1617.5 207.6L1617.6 209.1L1617.6 210.6L1617.6 212.1L1617.7 213.6L1617.7 215.1L1617.7 216.6L1617.8 218.1L1617.8 219.6L1617.8 221.1L1617.9 222.6L1617.9 224.1L1617.9 225.6L1618.0 227.1L1618.0 228.6L1618.1 230.1L1618.1 231.6L1618.1 233.1L1618.2 234.6L1618.2 236.1L1618.2 237.6L1618.3 239.1L1618.3 240.6L1618.3 242.1L1618.4 243.6L1618.4 245.1L1618.4 246.6L1618.5 248.1L1618.5 249.6L1618.6 251.1L1618.6 252.6L1618.6 254.1L1618.7 255.6L1618.7 257.1L1618.8 258.6L1618.8 260.1L1618.9 261.6L1618.9 263.1L1619.0 264.6L1619.1 266.1L1619.1 267.6L1619.2 269.1L1619.2 270.6L1619.3 272.1L1619.4 273.6L1619.4 275.1L1619.5 276.6L1619.5 278.1L1619.6 279.6L1619.6 281.1L1619.7 282.6L1619.7 284.1L1619.7 285.6L1619.8 287.1L1619.8 288.6L1619.9 290.1L1619.9 291.6L1620.0 293.1L1620.0 294.6L1620.1 296.1L1620.1 297.6L1620.1 299.1L1620.1 300.6L1620.1 302.1L1620.1 303.6L1620.1 305.1L1620.1 306.6L1620.1 308.1L1620.1 309.6L1620.1 311.1L1620.1 312.6L1620.1 314.1L1620.1 315.6L1620.1 317.1L1620.1 318.6L1620.1 320.1L1620.1 321.6L1620.0 323.1L1620.0 324.6L1620.0 326.1L1619.9 327.6L1619.9 329.1L1619.8 330.6L1619.8 332.1L1619.7 333.6L1619.7 335.1L1619.7 336.6L1619.6 338.1L1619.6 339.6L1619.5 341.1L1619.5 342.6L1619.5 344.1L1619.4 345.6L1619.3 347.1L1619.3 348.6L1619.1 350.1L1619.0 351.6L1618.8 353.1L1618.6 354.6L1618.5 356.1L1618.3 357.6L1618.2 359.1L1618.1 360.6L1618.0 362.1L1617.9 363.6L1617.8 365.1L1617.6 366.6L1617.5 368.1L1617.4 369.6L1617.3 371.1L1617.2 372.6L1617.1 374.1L1617.0 375.6L1616.9 377.1L1616.8 378.6L1616.7 380.1L1616.6 381.6L1616.4 383.1L1616.3 384.6L1616.2 386.1L1616.1 387.6L1616.0 389.1L1615.9 390.6L1615.8 392.1L1615.7 393.6L1615.6 395.1L1615.5 396.6L1615.4 398.1L1615.3 399.6L1615.2 401.1L1615.1 402.6L1614.9 404.1L1614.8 405.6L1614.7 407.1L1614.6 408.6L1614.6 410.1L1614.5 411.6L1614.4 413.1L1614.3 414.6L1614.2 416.1L1614.1 417.6L1614.0 419.1L1614.0 420.6L1613.9 422.1L1613.8 423.6L1613.7 425.1L1613.6 426.6L1613.4 428.1L1613.3 429.6L1613.2 431.1L1613.1 432.6L1613.0 434.1L1612.8 435.6L1612.7 437.1L1612.6 438.6L1612.5 440.1L1612.4 441.6L1612.3 443.1L1612.2 444.6L1612.1 446.1L1612.0 447.6L1611.9 449.1L1611.9 450.0L1610.9 450.0L1610.9 449.1L1610.8 447.6L1610.7 446.1L1610.6 444.6L1610.5 443.1L1610.4 441.6L1610.3 440.1L1610.2 438.6L1610.1 437.1L1610.0 435.6L1609.8 434.1L1609.7 432.6L1609.6 431.1L1609.5 429.6L1609.4 428.1L1609.2 426.6L1609.1 425.1L1609.0 423.6L1608.9 422.1L1608.8 420.6L1608.8 419.1L1608.7 417.6L1608.6 416.1L1608.5 414.6L1608.4 413.1L1608.3 411.6L1608.2 410.1L1608.2 408.6L1608.1 407.1L1608.0 405.6L1607.9 404.1L1607.7 402.6L1607.6 401.1L1607.5 399.6L1607.4 398.1L1607.3 396.6L1607.2 395.1L1607.1 393.6L1607.0 392.1L1606.9 390.6L1606.8 389.1L1606.7 387.6L1606.6 386.1L1606.5 384.6L1606.4 383.1L1606.2 381.6L1606.1 380.1L1606.0 378.6L1605.9 377.1L1605.8 375.6L1605.7 374.1L1605.6 372.6L1605.5 371.1L1605.4 369.6L1605.3 368.1L1605.2 366.6L1605.0 365.1L1604.9 363.6L1604.8 362.1L1604.7 360.6L1604.6 359.1L1604.5 357.6L1604.3 356.1L1604.2 354.6L1604.0 353.1L1603.8 351.6L1603.7 350.1L1603.5 348.6L1603.5 347.1L1603.4 345.6L1603.3 344.1L1603.3 342.6L1603.3 341.1L1603.2 339.6L1603.2 338.1L1603.1 336.6L1603.1 335.1L1603.1 333.6L1603.0 332.1L1603.0 330.6L1602.9 329.1L1602.9 327.6L1602.8 326.1L1602.8 324.6L1602.8 323.1L1602.7 321.6L1602.7 320.1L1602.7 318.6L1602.7 317.1L1602.7 315.6L1602.7 314.1L1602.7 312.6L1602.7 311.1L1602.7 309.6L1602.7 308.1L1602.7 306.6L1602.7 305.1L1602.7 303.6L1602.7 302.1L1602.7 300.6L1602.7 299.1L1602.7 297.6L1602.7 296.1L1602.8 294.6L1602.8 293.1L1602.9 291.6L1602.9 290.1L1603.0 288.6L1603.0 287.1L1603.1 285.6L1603.1 284.1L1603.1 282.6L1603.2 281.1L1603.2 279.6L1603.3 278.1L1603.3 276.6L1603.4 275.1L1603.4 273.6L1603.5 272.1L1603.6 270.6L1603.6 269.1L1603.7 267.6L1603.7 266.1L1603.8 264.6L1603.9 263.1L1603.9 261.6L1604.0 260.1L1604.0 258.6L1604.1 257.1L1604.1 255.6L1604.2 254.1L1604.2 252.6L1604.2 251.1L1604.3 249.6L1604.3 248.1L1604.4 246.6L1604.4 245.1L1604.4 243.6L1604.5 242.1L1604.5 240.6L1604.5 239.1L1604.6 237.6L1604.6 236.1L1604.6 234.6L1604.7 233.1L1604.7 231.6L1604.7 230.1L1604.8 228.6L1604.8 227.1L1604.9 225.6L1604.9 224.1L1604.9 222.6L1605.0 221.1L1605.0 219.6L1605.0 218.1L1605.1 216.6L1605.1 215.1L1605.1 213.6L1605.2 212.1L1605.2 210.6L1605.2 209.1L1605.3 207.6L1605.3 206.1L1605.3 204.6L1605.3 203.1L1605.4 201.6L1605.4 200.1L1605.4 198.6L1605.4 197.1L1605.5 195.6L1605.5 194.1L1605.5 192.6L1605.6 191.1L1605.6 189.6L1605.7 188.1L1605.7 186.6L1605.8 185.1L1605.8 183.6L1605.9 182.1L1606.0 180.6L1606.0 179.1L1606.1 177.6L1606.1 176.1L1606.2 174.6L1606.3 173.1L1606.3 171.6L1606.4 170.1L1606.5 168.6L1606.6 167.1L1606.7 165.6L1606.8 164.1L1606.9 162.6L1607.1 161.1L1607.2 159.6L1607.3 158.1L1607.4 156.6L1607.5 155.1L1607.6 153.6L1607.7 152.1L1607.8 150.6L1608.0 149.1L1608.1 147.6L1608.2 146.1L1608.4 144.6L1608.5 143.1L1608.7 141.6L1608.8 140.1L1609.0 138.6L1609.2 137.1L1609.3 135.6L1609.5 134.1L1609.6 132.6L1609.8 131.1L1609.9 129.6L1610.0 128.1L1610.1 126.6L1610.1 125.1L1610.2 123.6L1610.3 122.1L1610.4 120.6L1610.4 119.1L1610.5 117.6L1610.6 116.1L1610.6 114.6L1610.7 113.1L1610.7 111.6L1610.8 110.1L1610.9 108.6L1610.9 107.1L1611.0 105.6L1611.1 104.1L1611.1 102.6L1611.2 101.1L1611.2 99.6L1611.3 98.1L1611.3 96.6L1611.3 95.1L1611.3 93.6L1611.3 92.1L1611.3 90.6L1611.3 89.1L1611.3 87.6L1611.3 86.1L1611.3 84.6L1611.3 83.1L1611.3 81.6L1611.3 80.1L1611.3 78.6L1611.4 77.1Z" fill="#78b4de" stroke="#2f2f2f" stroke-width="2.0" stroke-linejoin="round"/>
<line x1="1611.4" y1="77.1" x2="1611.4" y2="450.0" stroke="#2f2f2f" stroke-width="1.7"/>
<rect x="1606.0" y="214.2" width="10.8" height="141.4" fill="#2f2f2f"/>
<ellipse cx="1611.4" cy="290.7" rx="6.2" ry="2.0" fill="#2f2f2f"/>
<ellipse cx="1611.4" cy="290.7" rx="3.1" ry="0.8" fill="#f4f4f4"/></g>
<line x1="655.1" y1="205.1" x2="1650" y2="205.1" stroke="#1c1312" stroke-opacity="0.64" stroke-width="3.6"/>
<path d="M646.1 44.5 H655.1 V468.0" fill="none" stroke="#111" stroke-width="2"/>
<line x1="654.1" y1="468.0" x2="1650" y2="468.0" stroke="#111" stroke-width="3.6"/>
<line x1="646.1" y1="450.0" x2="655.1" y2="450.0" stroke="#111" stroke-width="2"/>
<text x="643.1" y="459.8" font-size="23.8" text-anchor="end" font-weight="normal" >0</text>
<line x1="646.1" y1="368.9" x2="655.1" y2="368.9" stroke="#111" stroke-width="2"/>
<text x="643.1" y="378.7" font-size="23.8" text-anchor="end" font-weight="normal" >1</text>
<line x1="646.1" y1="287.8" x2="655.1" y2="287.8" stroke="#111" stroke-width="2"/>
<text x="643.1" y="297.6" font-size="23.8" text-anchor="end" font-weight="normal" >2</text>
<line x1="646.1" y1="206.7" x2="655.1" y2="206.7" stroke="#111" stroke-width="2"/>
<text x="643.1" y="216.5" font-size="23.8" text-anchor="end" font-weight="normal" >3</text>
<line x1="646.1" y1="125.6" x2="655.1" y2="125.6" stroke="#111" stroke-width="2"/>
<text x="643.1" y="135.4" font-size="23.8" text-anchor="end" font-weight="normal" >4</text>
<line x1="646.1" y1="44.5" x2="655.1" y2="44.5" stroke="#111" stroke-width="2"/>
<text x="643.1" y="54.3" font-size="23.8" text-anchor="end" font-weight="normal" >5</text>
<line x1="693.3" y1="468.0" x2="693.3" y2="472.6" stroke="#111" stroke-width="1.7"/>
<text transform="translate(700.3,486.4) rotate(-45)" font-size="23.8" text-anchor="end">NTTc</text>
<line x1="769.9" y1="468.0" x2="769.9" y2="472.6" stroke="#111" stroke-width="1.7"/>
<text transform="translate(776.9,486.4) rotate(-45)" font-size="23.8" text-anchor="end">NTCc</text>
<line x1="846.3" y1="468.0" x2="846.3" y2="472.6" stroke="#111" stroke-width="1.7"/>
<text transform="translate(851.3,486.4) rotate(-45)" font-size="23.8" text-anchor="end">4N</text>
<line x1="922.7" y1="468.0" x2="922.7" y2="472.6" stroke="#111" stroke-width="1.7"/>
<text transform="translate(925.7,486.4) rotate(-45)" font-size="23.8" text-anchor="end">TGIRT-CircLig</text>
<line x1="999.4" y1="468.0" x2="999.4" y2="472.6" stroke="#111" stroke-width="1.7"/>
<text transform="translate(1002.9,486.4) rotate(-45)" font-size="23.8" text-anchor="end">NTTR</text>
<line x1="1075.8" y1="468.0" x2="1075.8" y2="472.6" stroke="#111" stroke-width="1.7"/>
<text transform="translate(1078.3,486.4) rotate(-45)" font-size="23.8" text-anchor="end">NEXTflex</text>
<line x1="1152.4" y1="468.0" x2="1152.4" y2="472.6" stroke="#111" stroke-width="1.7"/>
<text transform="translate(1157.9,486.4) rotate(-45)" font-size="23.8" text-anchor="end">MTT</text>
<line x1="1228.8" y1="468.0" x2="1228.8" y2="472.6" stroke="#111" stroke-width="1.7"/>
<text transform="translate(1233.3,486.4) rotate(-45)" font-size="23.8" text-anchor="end">NTC</text>
<line x1="1305.3" y1="468.0" x2="1305.3" y2="472.6" stroke="#111" stroke-width="1.7"/>
<text transform="translate(1310.3,486.4) rotate(-45)" font-size="23.8" text-anchor="end">NTT</text>
<line x1="1381.9" y1="468.0" x2="1381.9" y2="472.6" stroke="#111" stroke-width="1.7"/>
<text transform="translate(1386.4,486.4) rotate(-45)" font-size="23.8" text-anchor="end">NTT/6N</text>
<line x1="1458.4" y1="468.0" x2="1458.4" y2="472.6" stroke="#111" stroke-width="1.7"/>
<text transform="translate(1461.4,486.4) rotate(-45)" font-size="23.8" text-anchor="end">TruSeq</text>
<line x1="1534.9" y1="468.0" x2="1534.9" y2="472.6" stroke="#111" stroke-width="1.7"/>
<text transform="translate(1537.4,486.4) rotate(-45)" font-size="23.8" text-anchor="end">CleanTag</text>
<line x1="1611.4" y1="468.0" x2="1611.4" y2="472.6" stroke="#111" stroke-width="1.7"/>
<text transform="translate(1615.9,486.4) rotate(-45)" font-size="23.8" text-anchor="end">NEBNext</text>
<text transform="translate(615.8,258.5) rotate(-90)" font-size="23.8" text-anchor="middle">log<tspan font-size="13.5" dy="6">10</tspan><tspan dy="-6">CPM</tspan></text>
</g>
</svg>
</body></html>
